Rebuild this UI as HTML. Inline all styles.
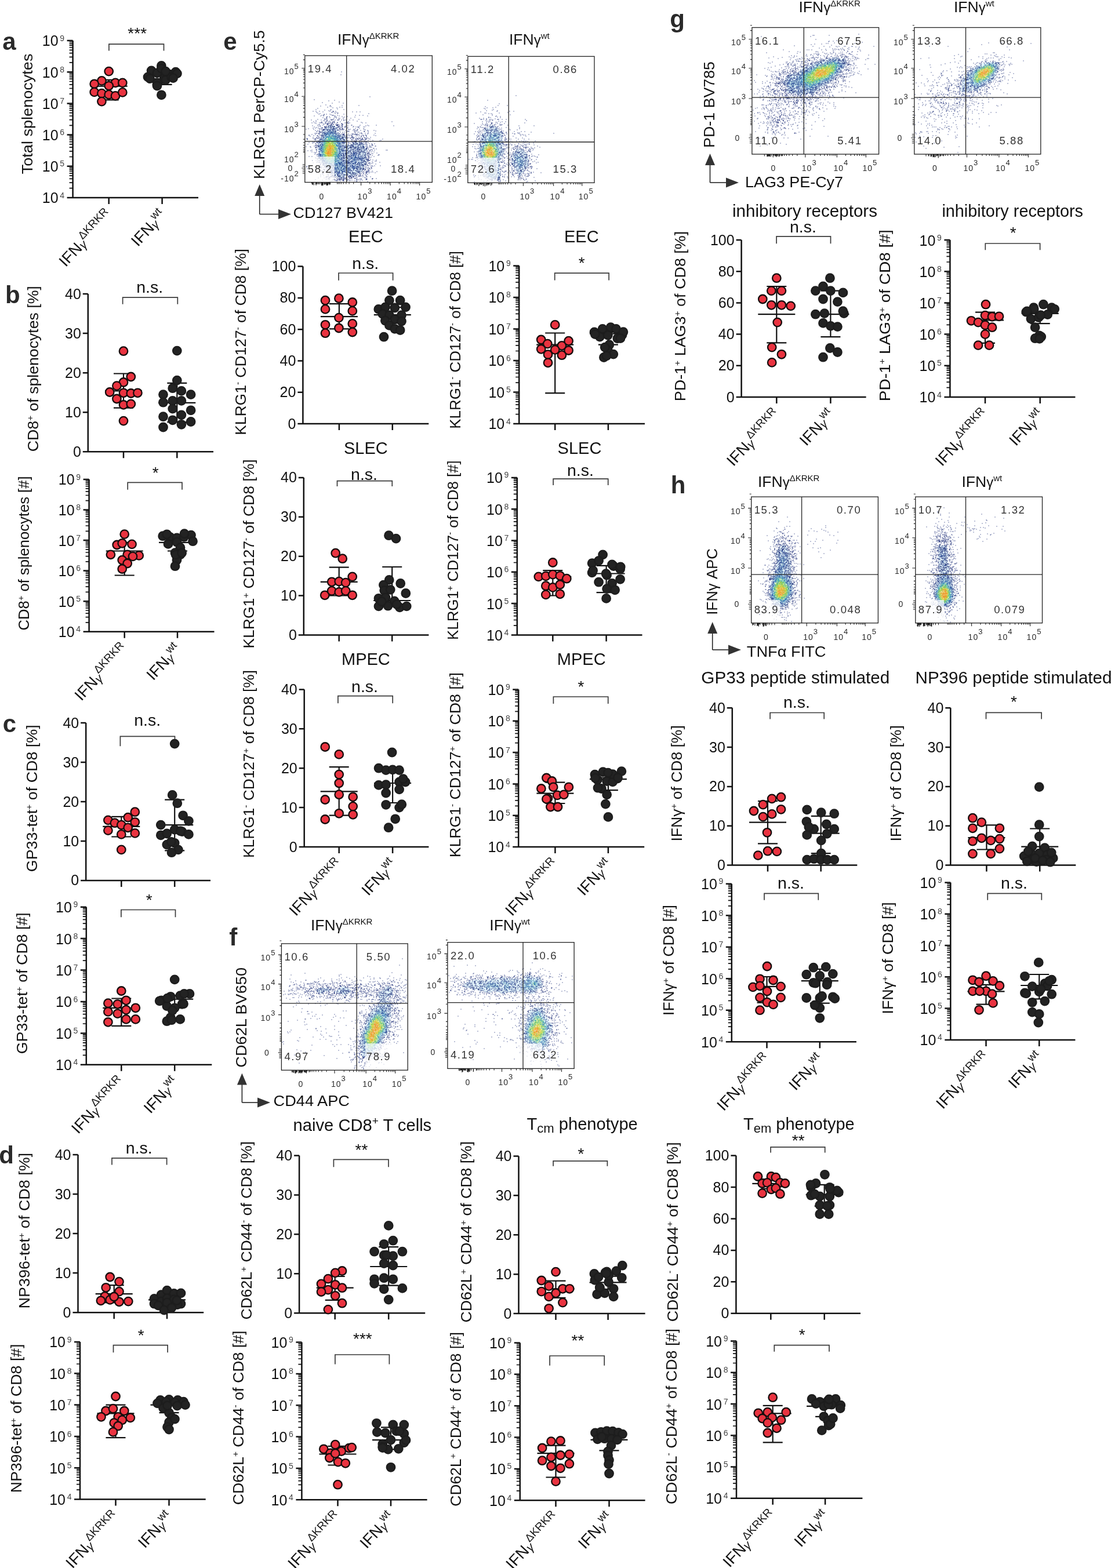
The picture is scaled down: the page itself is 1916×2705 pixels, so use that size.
<!DOCTYPE html>
<html><head><meta charset="utf-8"><title>Figure</title>
<style>html,body{margin:0;padding:0;background:#fff;} svg{display:block;}</style></head>
<body><svg width="1916" height="2705" viewBox="0 0 1916 2705" font-family="'Liberation Sans', Arial, Helvetica, sans-serif" fill="#111">
<text x="100.6" y="350.4" font-size="25" text-anchor="end">10</text>
<text x="103.3" y="341.5" font-size="14" fill="#444">4</text>
<text x="100.6" y="296.2" font-size="25" text-anchor="end">10</text>
<text x="103.3" y="287.3" font-size="14" fill="#444">5</text>
<text x="100.6" y="242" font-size="25" text-anchor="end">10</text>
<text x="103.3" y="233.1" font-size="14" fill="#444">6</text>
<text x="100.6" y="187.8" font-size="25" text-anchor="end">10</text>
<text x="103.3" y="178.9" font-size="14" fill="#444">7</text>
<text x="100.6" y="133.6" font-size="25" text-anchor="end">10</text>
<text x="103.3" y="124.7" font-size="14" fill="#444">8</text>
<text x="100.6" y="79.4" font-size="25" text-anchor="end">10</text>
<text x="103.3" y="70.5" font-size="14" fill="#444">9</text>
<path d="M125.6 70V342M116.6 341H342M187.7 341v11M279.6 341v11M115.6 341H125.6M115.6 286.8H125.6M115.6 232.6H125.6M115.6 178.4H125.6M115.6 124.2H125.6M115.6 70H125.6" stroke="#111" stroke-width="2.5" fill="none"/>
<path d="M119.6 324.7H125.6M119.6 315.1H125.6M119.6 308.4H125.6M119.6 303.1H125.6M119.6 298.8H125.6M119.6 295.2H125.6M119.6 292.1H125.6M119.6 289.3H125.6M119.6 270.5H125.6M119.6 260.9H125.6M119.6 254.2H125.6M119.6 248.9H125.6M119.6 244.6H125.6M119.6 241H125.6M119.6 237.9H125.6M119.6 235.1H125.6M119.6 216.3H125.6M119.6 206.7H125.6M119.6 200H125.6M119.6 194.7H125.6M119.6 190.4H125.6M119.6 186.8H125.6M119.6 183.7H125.6M119.6 180.9H125.6M119.6 162.1H125.6M119.6 152.5H125.6M119.6 145.8H125.6M119.6 140.5H125.6M119.6 136.2H125.6M119.6 132.6H125.6M119.6 129.5H125.6M119.6 126.7H125.6M119.6 107.9H125.6M119.6 98.3H125.6M119.6 91.6H125.6M119.6 86.3H125.6M119.6 82H125.6M119.6 78.4H125.6M119.6 75.3H125.6M119.6 72.5H125.6" stroke="#111" stroke-width="1.7" fill="none"/>
<text transform="translate(55.7,196.4) rotate(-90)" font-size="26" text-anchor="middle" textLength="207.7" lengthAdjust="spacingAndGlyphs">Total splenocytes</text>
<path d="M187.9 87.6V76.1H282.5V87.6" fill="none" stroke="#3a3a3a" stroke-width="1.7"/>
<text x="236.7" y="67.3" font-size="28" text-anchor="middle" >***</text>
<path d="M155.7 148.6h64M187.7 172.4V137.8M170.7 172.4h34M170.7 137.8h34" stroke="#111" stroke-width="2.2" fill="none"/>
<path d="M247.6 131.2h64M279.6 145.9V121.5M262.6 145.9h34M262.6 121.5h34" stroke="#111" stroke-width="2.2" fill="none"/>
<g fill="#e93340" stroke="#160c0c" stroke-width="2.3"><circle cx="187.7" cy="123.1" r="7.25"/><circle cx="175.4" cy="139.4" r="7.25"/><circle cx="162.7" cy="144.8" r="7.25"/><circle cx="199" cy="142.9" r="7.25"/><circle cx="211.3" cy="142.9" r="7.25"/><circle cx="187.7" cy="148" r="7.25"/><circle cx="162.7" cy="158.9" r="7.25"/><circle cx="175.4" cy="161.1" r="7.25"/><circle cx="187.7" cy="163.2" r="7.25"/><circle cx="199" cy="165.4" r="7.25"/><circle cx="211.3" cy="159.4" r="7.25"/><circle cx="175.4" cy="175.1" r="7.25"/></g>
<g fill="#232323" stroke="#1d1d1d" stroke-width="2.3"><circle cx="278.4" cy="113.4" r="7.25"/><circle cx="261.1" cy="122" r="7.25"/><circle cx="271" cy="125.8" r="7.25"/><circle cx="255" cy="132.9" r="7.25"/><circle cx="290.6" cy="128" r="7.25"/><circle cx="303" cy="124.2" r="7.25"/><circle cx="283.3" cy="134.5" r="7.25"/><circle cx="271" cy="142.6" r="7.25"/><circle cx="285.6" cy="137.8" r="7.25"/><circle cx="295.6" cy="132.9" r="7.25"/><circle cx="278.4" cy="118.2" r="7.25"/><circle cx="258.6" cy="135.6" r="7.25"/><circle cx="278.4" cy="163.8" r="7.25"/><circle cx="271" cy="148" r="7.25"/><circle cx="285.6" cy="123.1" r="7.25"/><circle cx="305.4" cy="126.9" r="7.25"/><circle cx="298.6" cy="134.6" r="7.25"/></g>
<text transform="translate(195.7,373) rotate(-47)" font-size="27" text-anchor="end" textLength="121" lengthAdjust="spacingAndGlyphs">IFN<tspan font-size="21" font-style="italic" dy="2">γ</tspan><tspan font-size="19" dy="-13">ΔKRKR</tspan></text>
<text transform="translate(287.6,373) rotate(-47)" font-size="27" text-anchor="end" textLength="73" lengthAdjust="spacingAndGlyphs">IFN<tspan font-size="21" font-style="italic" dy="2">γ</tspan><tspan font-size="19" dy="-13">wt</tspan></text>
<text x="139.8" y="787.7" font-size="25" text-anchor="end">0</text>
<text x="139.8" y="719.7" font-size="25" text-anchor="end">10</text>
<text x="139.8" y="651.7" font-size="25" text-anchor="end">20</text>
<text x="139.8" y="583.6" font-size="25" text-anchor="end">30</text>
<text x="139.8" y="515.6" font-size="25" text-anchor="end">40</text>
<path d="M151.8 507.1V780.2M142.8 779.2H368M213 779.2v11M305.3 779.2v11M142.8 779.2H151.8M142.8 711.2H151.8M142.8 643.2H151.8M142.8 575.1H151.8M142.8 507.1H151.8" stroke="#111" stroke-width="2.5" fill="none"/>
<text transform="translate(66,636.2) rotate(-90)" font-size="26" text-anchor="middle" textLength="285.9" lengthAdjust="spacingAndGlyphs">CD8<tspan dy="-9" font-size="15">+</tspan><tspan dy="9"> of splenocytes [%]</tspan></text>
<path d="M211.6 524.8V513.2H306.3V524.8" fill="none" stroke="#3a3a3a" stroke-width="1.7"/>
<text x="258.2" y="505.1" font-size="28.5" text-anchor="middle" >n.s.</text>
<path d="M181 674.4h64M213 703.7V644.5M196 703.7h34M196 644.5h34" stroke="#111" stroke-width="2.2" fill="none"/>
<path d="M273.3 694.8h64M305.3 728.2V660.8M288.3 728.2h34M288.3 660.8h34" stroke="#111" stroke-width="2.2" fill="none"/>
<g fill="#e93340" stroke="#160c0c" stroke-width="2.3"><circle cx="213" cy="605.7" r="7.25"/><circle cx="225.8" cy="650" r="7.25"/><circle cx="213" cy="659.5" r="7.25"/><circle cx="201.4" cy="665.6" r="7.25"/><circle cx="189.2" cy="676.5" r="7.25"/><circle cx="213" cy="677.8" r="7.25"/><circle cx="225.8" cy="678.5" r="7.25"/><circle cx="237.4" cy="677.8" r="7.25"/><circle cx="201.4" cy="688" r="7.25"/><circle cx="213" cy="698.3" r="7.25"/><circle cx="225.8" cy="696.9" r="7.25"/><circle cx="213" cy="726.1" r="7.25"/></g>
<g fill="#232323" stroke="#1d1d1d" stroke-width="2.3"><circle cx="305.3" cy="605.1" r="7.25"/><circle cx="305.3" cy="656.1" r="7.25"/><circle cx="297.7" cy="669.7" r="7.25"/><circle cx="312.9" cy="674.4" r="7.25"/><circle cx="281.5" cy="680.6" r="7.25"/><circle cx="329.1" cy="680.6" r="7.25"/><circle cx="281.5" cy="694.2" r="7.25"/><circle cx="297.7" cy="691.4" r="7.25"/><circle cx="312.9" cy="691.4" r="7.25"/><circle cx="297.7" cy="705.1" r="7.25"/><circle cx="329.1" cy="707.8" r="7.25"/><circle cx="281.5" cy="718.7" r="7.25"/><circle cx="312.9" cy="715.9" r="7.25"/><circle cx="297.7" cy="724.8" r="7.25"/><circle cx="329.1" cy="727.5" r="7.25"/><circle cx="312.9" cy="732.3" r="7.25"/><circle cx="281.5" cy="737" r="7.25"/></g>
<text x="128.6" y="1099.1" font-size="25" text-anchor="end">10</text>
<text x="131.3" y="1090.2" font-size="14" fill="#444">4</text>
<text x="128.6" y="1046.6" font-size="25" text-anchor="end">10</text>
<text x="131.3" y="1037.7" font-size="14" fill="#444">5</text>
<text x="128.6" y="994" font-size="25" text-anchor="end">10</text>
<text x="131.3" y="985.1" font-size="14" fill="#444">6</text>
<text x="128.6" y="941.5" font-size="25" text-anchor="end">10</text>
<text x="131.3" y="932.6" font-size="14" fill="#444">7</text>
<text x="128.6" y="888.9" font-size="25" text-anchor="end">10</text>
<text x="131.3" y="880" font-size="14" fill="#444">8</text>
<text x="128.6" y="836.4" font-size="25" text-anchor="end">10</text>
<text x="131.3" y="827.5" font-size="14" fill="#444">9</text>
<path d="M153.6 827V1090.7M144.6 1089.7H369.5M214.7 1089.7v11M306 1089.7v11M143.6 1089.7H153.6M143.6 1037.2H153.6M143.6 984.6H153.6M143.6 932.1H153.6M143.6 879.5H153.6M143.6 827H153.6" stroke="#111" stroke-width="2.5" fill="none"/>
<path d="M147.6 1073.9H153.6M147.6 1064.6H153.6M147.6 1058.1H153.6M147.6 1053H153.6M147.6 1048.8H153.6M147.6 1045.3H153.6M147.6 1042.3H153.6M147.6 1039.6H153.6M147.6 1021.3H153.6M147.6 1012.1H153.6M147.6 1005.5H153.6M147.6 1000.4H153.6M147.6 996.3H153.6M147.6 992.8H153.6M147.6 989.7H153.6M147.6 987H153.6M147.6 968.8H153.6M147.6 959.6H153.6M147.6 953H153.6M147.6 947.9H153.6M147.6 943.7H153.6M147.6 940.2H153.6M147.6 937.2H153.6M147.6 934.5H153.6M147.6 916.3H153.6M147.6 907H153.6M147.6 900.4H153.6M147.6 895.4H153.6M147.6 891.2H153.6M147.6 887.7H153.6M147.6 884.6H153.6M147.6 881.9H153.6M147.6 863.7H153.6M147.6 854.5H153.6M147.6 847.9H153.6M147.6 842.8H153.6M147.6 838.7H153.6M147.6 835.1H153.6M147.6 832.1H153.6M147.6 829.4H153.6" stroke="#111" stroke-width="1.7" fill="none"/>
<text transform="translate(50.4,954.5) rotate(-90)" font-size="26" text-anchor="middle" textLength="266.1" lengthAdjust="spacingAndGlyphs">CD8<tspan dy="-9" font-size="15">+</tspan><tspan dy="9"> of splenocytes [#]</tspan></text>
<path d="M220.2 844.7V832.4H314V844.7" fill="none" stroke="#3a3a3a" stroke-width="1.7"/>
<text x="268.2" y="824.8" font-size="28" text-anchor="middle" >*</text>
<path d="M182.7 950.5h64M214.7 992.5V935.8M197.7 992.5h34M197.7 935.8h34" stroke="#111" stroke-width="2.2" fill="none"/>
<path d="M274 935.8h64M306 950.5V932.1M289 950.5h34M289 932.1h34" stroke="#111" stroke-width="2.2" fill="none"/>
<g fill="#e93340" stroke="#160c0c" stroke-width="2.3"><circle cx="214.7" cy="921.6" r="7.25"/><circle cx="201.7" cy="940" r="7.25"/><circle cx="210.7" cy="937.3" r="7.25"/><circle cx="227.5" cy="938.9" r="7.25"/><circle cx="190.9" cy="956.8" r="7.25"/><circle cx="219.7" cy="956.8" r="7.25"/><circle cx="239.7" cy="958.4" r="7.25"/><circle cx="229" cy="959.9" r="7.25"/><circle cx="210.7" cy="966.2" r="7.25"/><circle cx="219.7" cy="972" r="7.25"/><circle cx="210.7" cy="981.5" r="7.25"/></g>
<g fill="#232323" stroke="#1d1d1d" stroke-width="2.3"><circle cx="280.7" cy="924.7" r="7.25"/><circle cx="293" cy="926.3" r="7.25"/><circle cx="305" cy="927.9" r="7.25"/><circle cx="317.3" cy="926.3" r="7.25"/><circle cx="329.5" cy="923.1" r="7.25"/><circle cx="332.5" cy="933.7" r="7.25"/><circle cx="290" cy="938.4" r="7.25"/><circle cx="305" cy="935.2" r="7.25"/><circle cx="311" cy="944.7" r="7.25"/><circle cx="302" cy="953.6" r="7.25"/><circle cx="311" cy="956.8" r="7.25"/><circle cx="305" cy="966.2" r="7.25"/><circle cx="302" cy="976.7" r="7.25"/><circle cx="303.1" cy="956.9" r="7.25"/><circle cx="287.8" cy="921.8" r="7.25"/><circle cx="318" cy="920.6" r="7.25"/><circle cx="313.6" cy="953.7" r="7.25"/></g>
<text transform="translate(222.7,1121.7) rotate(-47)" font-size="27" text-anchor="end" textLength="121" lengthAdjust="spacingAndGlyphs">IFN<tspan font-size="21" font-style="italic" dy="2">γ</tspan><tspan font-size="19" dy="-13">ΔKRKR</tspan></text>
<text transform="translate(314,1121.7) rotate(-47)" font-size="27" text-anchor="end" textLength="73" lengthAdjust="spacingAndGlyphs">IFN<tspan font-size="21" font-style="italic" dy="2">γ</tspan><tspan font-size="19" dy="-13">wt</tspan></text>
<text x="136.2" y="1527.4" font-size="25" text-anchor="end">0</text>
<text x="136.2" y="1459.5" font-size="25" text-anchor="end">10</text>
<text x="136.2" y="1391.5" font-size="25" text-anchor="end">20</text>
<text x="136.2" y="1323.5" font-size="25" text-anchor="end">30</text>
<text x="136.2" y="1255.6" font-size="25" text-anchor="end">40</text>
<path d="M148.2 1247.1V1519.9M139.2 1518.9H363M209.3 1518.9v11M301.2 1518.9v11M139.2 1518.9H148.2M139.2 1451H148.2M139.2 1383H148.2M139.2 1315H148.2M139.2 1247.1H148.2" stroke="#111" stroke-width="2.5" fill="none"/>
<text transform="translate(63.8,1377.3) rotate(-90)" font-size="26" text-anchor="middle" textLength="253.8" lengthAdjust="spacingAndGlyphs">GP33-tet<tspan dy="-9" font-size="15">+</tspan><tspan dy="9"> of CD8 [%]</tspan></text>
<path d="M207.4 1287.3V1270.3H301.5V1287.3" fill="none" stroke="#3a3a3a" stroke-width="1.7"/>
<text x="254.2" y="1252.3" font-size="28.5" text-anchor="middle" >n.s.</text>
<path d="M177.3 1425.8h64M209.3 1443.5V1408.8M192.3 1443.5h34M192.3 1408.8h34" stroke="#111" stroke-width="2.2" fill="none"/>
<path d="M269.2 1423.1h64M301.2 1467.3V1379.6M284.2 1467.3h34M284.2 1379.6h34" stroke="#111" stroke-width="2.2" fill="none"/>
<g fill="#e93340" stroke="#160c0c" stroke-width="2.3"><circle cx="186.4" cy="1414.9" r="7.25"/><circle cx="197.9" cy="1419.7" r="7.25"/><circle cx="209.3" cy="1423.1" r="7.25"/><circle cx="220.7" cy="1410.2" r="7.25"/><circle cx="232.8" cy="1400.7" r="7.25"/><circle cx="232.8" cy="1418.3" r="7.25"/><circle cx="186.4" cy="1432.6" r="7.25"/><circle cx="220.7" cy="1427.8" r="7.25"/><circle cx="209.3" cy="1439.4" r="7.25"/><circle cx="232.8" cy="1437.4" r="7.25"/><circle cx="209.3" cy="1465.9" r="7.25"/></g>
<g fill="#232323" stroke="#1d1d1d" stroke-width="2.3"><circle cx="301.2" cy="1283.1" r="7.25"/><circle cx="297.2" cy="1371.4" r="7.25"/><circle cx="305.8" cy="1385.7" r="7.25"/><circle cx="315.6" cy="1406.8" r="7.25"/><circle cx="325.4" cy="1416.3" r="7.25"/><circle cx="277.3" cy="1423.1" r="7.25"/><circle cx="301.2" cy="1431.2" r="7.25"/><circle cx="277.3" cy="1440.8" r="7.25"/><circle cx="287.8" cy="1438" r="7.25"/><circle cx="314" cy="1434.6" r="7.25"/><circle cx="325.4" cy="1439.4" r="7.25"/><circle cx="287.8" cy="1457.1" r="7.25"/><circle cx="301.2" cy="1454.3" r="7.25"/><circle cx="307.4" cy="1465.9" r="7.25"/><circle cx="296" cy="1470.7" r="7.25"/><circle cx="311.2" cy="1433.7" r="7.25"/><circle cx="295.3" cy="1452.3" r="7.25"/></g>
<text x="123.8" y="1846.2" font-size="25" text-anchor="end">10</text>
<text x="126.5" y="1837.3" font-size="14" fill="#444">4</text>
<text x="123.8" y="1791.8" font-size="25" text-anchor="end">10</text>
<text x="126.5" y="1782.9" font-size="14" fill="#444">5</text>
<text x="123.8" y="1737.4" font-size="25" text-anchor="end">10</text>
<text x="126.5" y="1728.5" font-size="14" fill="#444">6</text>
<text x="123.8" y="1682.9" font-size="25" text-anchor="end">10</text>
<text x="126.5" y="1674" font-size="14" fill="#444">7</text>
<text x="123.8" y="1628.5" font-size="25" text-anchor="end">10</text>
<text x="126.5" y="1619.6" font-size="14" fill="#444">8</text>
<text x="123.8" y="1574.1" font-size="25" text-anchor="end">10</text>
<text x="126.5" y="1565.2" font-size="14" fill="#444">9</text>
<path d="M148.8 1564.7V1837.8M139.8 1836.8H365.3M209.3 1836.8v11M301.2 1836.8v11M138.8 1836.8H148.8M138.8 1782.4H148.8M138.8 1728H148.8M138.8 1673.5H148.8M138.8 1619.1H148.8M138.8 1564.7H148.8" stroke="#111" stroke-width="2.5" fill="none"/>
<path d="M142.8 1820.4H148.8M142.8 1810.8H148.8M142.8 1804H148.8M142.8 1798.8H148.8M142.8 1794.5H148.8M142.8 1790.8H148.8M142.8 1787.7H148.8M142.8 1784.9H148.8M142.8 1766H148.8M142.8 1756.4H148.8M142.8 1749.6H148.8M142.8 1744.3H148.8M142.8 1740H148.8M142.8 1736.4H148.8M142.8 1733.2H148.8M142.8 1730.5H148.8M142.8 1711.6H148.8M142.8 1702H148.8M142.8 1695.2H148.8M142.8 1689.9H148.8M142.8 1685.6H148.8M142.8 1682H148.8M142.8 1678.8H148.8M142.8 1676H148.8M142.8 1657.2H148.8M142.8 1647.6H148.8M142.8 1640.8H148.8M142.8 1635.5H148.8M142.8 1631.2H148.8M142.8 1627.5H148.8M142.8 1624.4H148.8M142.8 1621.6H148.8M142.8 1602.7H148.8M142.8 1593.2H148.8M142.8 1586.4H148.8M142.8 1581.1H148.8M142.8 1576.8H148.8M142.8 1573.1H148.8M142.8 1570H148.8M142.8 1567.2H148.8" stroke="#111" stroke-width="1.7" fill="none"/>
<text transform="translate(46.5,1696.2) rotate(-90)" font-size="26" text-anchor="middle" textLength="244" lengthAdjust="spacingAndGlyphs">GP33-tet<tspan dy="-9" font-size="15">+</tspan><tspan dy="9"> of CD8 [#]</tspan></text>
<path d="M208.9 1582.3V1569.5H302.5V1582.3" fill="none" stroke="#3a3a3a" stroke-width="1.7"/>
<text x="257.2" y="1561.9" font-size="28" text-anchor="middle" >*</text>
<path d="M177.3 1738.8h64M209.3 1769.9V1722.5M192.3 1769.9h34M192.3 1722.5h34" stroke="#111" stroke-width="2.2" fill="none"/>
<path d="M269.2 1723.6h64M301.2 1738.8V1717.1M284.2 1738.8h34M284.2 1717.1h34" stroke="#111" stroke-width="2.2" fill="none"/>
<g fill="#e93340" stroke="#160c0c" stroke-width="2.3"><circle cx="209.3" cy="1709.5" r="7.25"/><circle cx="186.4" cy="1730.7" r="7.25"/><circle cx="202.8" cy="1732.3" r="7.25"/><circle cx="217.5" cy="1725.8" r="7.25"/><circle cx="233.8" cy="1738.8" r="7.25"/><circle cx="186.4" cy="1745.4" r="7.25"/><circle cx="202.8" cy="1748.6" r="7.25"/><circle cx="217.5" cy="1742.1" r="7.25"/><circle cx="186.4" cy="1763.3" r="7.25"/><circle cx="217.5" cy="1758.4" r="7.25"/><circle cx="233.8" cy="1758.4" r="7.25"/></g>
<g fill="#232323" stroke="#1d1d1d" stroke-width="2.3"><circle cx="301.2" cy="1689.9" r="7.25"/><circle cx="278.2" cy="1725.8" r="7.25"/><circle cx="294.2" cy="1719.3" r="7.25"/><circle cx="310.7" cy="1717.6" r="7.25"/><circle cx="327" cy="1714.4" r="7.25"/><circle cx="287.8" cy="1735.6" r="7.25"/><circle cx="314" cy="1732.3" r="7.25"/><circle cx="301.2" cy="1738.8" r="7.25"/><circle cx="294.2" cy="1755.2" r="7.25"/><circle cx="310.7" cy="1758.4" r="7.25"/><circle cx="287.8" cy="1761.7" r="7.25"/><circle cx="316.5" cy="1731.7" r="7.25"/><circle cx="317.6" cy="1714.4" r="7.25"/><circle cx="288.6" cy="1722.1" r="7.25"/><circle cx="295.9" cy="1759.7" r="7.25"/><circle cx="275.2" cy="1726.8" r="7.25"/><circle cx="297.4" cy="1743.2" r="7.25"/></g>
<text transform="translate(217.3,1868.8) rotate(-47)" font-size="27" text-anchor="end" textLength="121" lengthAdjust="spacingAndGlyphs">IFN<tspan font-size="21" font-style="italic" dy="2">γ</tspan><tspan font-size="19" dy="-13">ΔKRKR</tspan></text>
<text transform="translate(309.2,1868.8) rotate(-47)" font-size="27" text-anchor="end" textLength="73" lengthAdjust="spacingAndGlyphs">IFN<tspan font-size="21" font-style="italic" dy="2">γ</tspan><tspan font-size="19" dy="-13">wt</tspan></text>
<text x="122.5" y="2272.7" font-size="25" text-anchor="end">0</text>
<text x="122.5" y="2204.6" font-size="25" text-anchor="end">10</text>
<text x="122.5" y="2136.6" font-size="25" text-anchor="end">20</text>
<text x="122.5" y="2068.6" font-size="25" text-anchor="end">30</text>
<text x="122.5" y="2000.5" font-size="25" text-anchor="end">40</text>
<path d="M134.5 1992V2265.2M125.5 2264.2H351.2M196.7 2264.2v11M288 2264.2v11M125.5 2264.2H134.5M125.5 2196.1H134.5M125.5 2128.1H134.5M125.5 2060.1H134.5M125.5 1992H134.5" stroke="#111" stroke-width="2.5" fill="none"/>
<text transform="translate(50.9,2123.1) rotate(-90)" font-size="26" text-anchor="middle" textLength="268.9" lengthAdjust="spacingAndGlyphs">NP396-tet<tspan dy="-9" font-size="15">+</tspan><tspan dy="9"> of CD8 [%]</tspan></text>
<path d="M193 2009.4V1997.9H287.6V2009.4" fill="none" stroke="#3a3a3a" stroke-width="1.7"/>
<text x="239.8" y="1989.7" font-size="28.5" text-anchor="middle" >n.s.</text>
<path d="M164.7 2232.2h64M196.7 2247.2V2217.2M179.7 2247.2h34M179.7 2217.2h34" stroke="#111" stroke-width="2.2" fill="none"/>
<path d="M256 2242.4h64M288 2251.3V2234.9M271 2251.3h34M271 2234.9h34" stroke="#111" stroke-width="2.2" fill="none"/>
<g fill="#e93340" stroke="#160c0c" stroke-width="2.3"><circle cx="189.7" cy="2203" r="7.25"/><circle cx="205.5" cy="2211.1" r="7.25"/><circle cx="182.7" cy="2221.3" r="7.25"/><circle cx="205.5" cy="2228.1" r="7.25"/><circle cx="180.9" cy="2236.3" r="7.25"/><circle cx="189.7" cy="2242.4" r="7.25"/><circle cx="173.9" cy="2243.8" r="7.25"/><circle cx="205.5" cy="2245.8" r="7.25"/><circle cx="221.3" cy="2245.1" r="7.25"/><circle cx="196.7" cy="2237" r="7.25"/></g>
<g fill="#232323" stroke="#1d1d1d" stroke-width="2.3"><circle cx="266" cy="2240.4" r="7.25"/><circle cx="278" cy="2233.6" r="7.25"/><circle cx="288" cy="2226.1" r="7.25"/><circle cx="300" cy="2231.5" r="7.25"/><circle cx="312" cy="2230.9" r="7.25"/><circle cx="266" cy="2249.2" r="7.25"/><circle cx="278" cy="2245.1" r="7.25"/><circle cx="288" cy="2239.7" r="7.25"/><circle cx="300" cy="2241.7" r="7.25"/><circle cx="312" cy="2249.2" r="7.25"/><circle cx="273" cy="2252" r="7.25"/><circle cx="293" cy="2254" r="7.25"/><circle cx="306" cy="2250.6" r="7.25"/><circle cx="288" cy="2247.2" r="7.25"/><circle cx="283" cy="2260.1" r="7.25"/><circle cx="296" cy="2256" r="7.25"/><circle cx="304.9" cy="2243.4" r="7.25"/></g>
<text x="113" y="2596" font-size="25" text-anchor="end">10</text>
<text x="115.7" y="2587.1" font-size="14" fill="#444">4</text>
<text x="113" y="2541.7" font-size="25" text-anchor="end">10</text>
<text x="115.7" y="2532.8" font-size="14" fill="#444">5</text>
<text x="113" y="2487.4" font-size="25" text-anchor="end">10</text>
<text x="115.7" y="2478.5" font-size="14" fill="#444">6</text>
<text x="113" y="2433" font-size="25" text-anchor="end">10</text>
<text x="115.7" y="2424.1" font-size="14" fill="#444">7</text>
<text x="113" y="2378.7" font-size="25" text-anchor="end">10</text>
<text x="115.7" y="2369.8" font-size="14" fill="#444">8</text>
<text x="113" y="2324.4" font-size="25" text-anchor="end">10</text>
<text x="115.7" y="2315.5" font-size="14" fill="#444">9</text>
<path d="M138 2315V2587.6M129 2586.6H354.7M199.5 2586.6v11M291.5 2586.6v11M128 2586.6H138M128 2532.3H138M128 2478H138M128 2423.6H138M128 2369.3H138M128 2315H138" stroke="#111" stroke-width="2.5" fill="none"/>
<path d="M132 2570.2H138M132 2560.7H138M132 2553.9H138M132 2548.6H138M132 2544.3H138M132 2540.7H138M132 2537.5H138M132 2534.8H138M132 2515.9H138M132 2506.4H138M132 2499.6H138M132 2494.3H138M132 2490H138M132 2486.4H138M132 2483.2H138M132 2480.4H138M132 2461.6H138M132 2452H138M132 2445.3H138M132 2440H138M132 2435.7H138M132 2432.1H138M132 2428.9H138M132 2426.1H138M132 2407.3H138M132 2397.7H138M132 2390.9H138M132 2385.7H138M132 2381.4H138M132 2377.7H138M132 2374.6H138M132 2371.8H138M132 2353H138M132 2343.4H138M132 2336.6H138M132 2331.4H138M132 2327.1H138M132 2323.4H138M132 2320.3H138M132 2317.5H138" stroke="#111" stroke-width="1.7" fill="none"/>
<text transform="translate(36.9,2447) rotate(-90)" font-size="26" text-anchor="middle" textLength="256.6" lengthAdjust="spacingAndGlyphs">NP396-tet<tspan dy="-9" font-size="15">+</tspan><tspan dy="9"> of CD8 [#]</tspan></text>
<path d="M195.5 2333.2V2320.6H289.1V2333.2" fill="none" stroke="#3a3a3a" stroke-width="1.7"/>
<text x="243.3" y="2312.8" font-size="28" text-anchor="middle" >*</text>
<path d="M167.5 2438.3h64M199.5 2480.1V2423.6M182.5 2480.1h34M182.5 2423.6h34" stroke="#111" stroke-width="2.2" fill="none"/>
<path d="M259.5 2423.6h64M291.5 2437.2V2423.6M274.5 2437.2h34M274.5 2423.6h34" stroke="#111" stroke-width="2.2" fill="none"/>
<g fill="#e93340" stroke="#160c0c" stroke-width="2.3"><circle cx="199.5" cy="2409" r="7.25"/><circle cx="182.5" cy="2434" r="7.25"/><circle cx="195" cy="2430.2" r="7.25"/><circle cx="214.3" cy="2434" r="7.25"/><circle cx="174.5" cy="2444.3" r="7.25"/><circle cx="203.7" cy="2444.3" r="7.25"/><circle cx="224.8" cy="2445.9" r="7.25"/><circle cx="196.7" cy="2454.6" r="7.25"/><circle cx="210.7" cy="2449.7" r="7.25"/><circle cx="203.7" cy="2460" r="7.25"/><circle cx="195" cy="2470.4" r="7.25"/></g>
<g fill="#232323" stroke="#1d1d1d" stroke-width="2.3"><circle cx="276.5" cy="2415.5" r="7.25"/><circle cx="291.5" cy="2414.4" r="7.25"/><circle cx="306.5" cy="2415.5" r="7.25"/><circle cx="316.5" cy="2418.2" r="7.25"/><circle cx="271.5" cy="2420.9" r="7.25"/><circle cx="286.5" cy="2418.2" r="7.25"/><circle cx="301.5" cy="2419.3" r="7.25"/><circle cx="319.5" cy="2423.6" r="7.25"/><circle cx="281.5" cy="2429.1" r="7.25"/><circle cx="291.5" cy="2437.2" r="7.25"/><circle cx="296.5" cy="2445.4" r="7.25"/><circle cx="291.5" cy="2453.5" r="7.25"/><circle cx="288.5" cy="2461.7" r="7.25"/><circle cx="291.5" cy="2466" r="7.25"/><circle cx="301.5" cy="2448.1" r="7.25"/><circle cx="305.6" cy="2425.1" r="7.25"/><circle cx="288.6" cy="2424.8" r="7.25"/></g>
<text transform="translate(207.5,2618.6) rotate(-47)" font-size="27" text-anchor="end" textLength="121" lengthAdjust="spacingAndGlyphs">IFN<tspan font-size="21" font-style="italic" dy="2">γ</tspan><tspan font-size="19" dy="-13">ΔKRKR</tspan></text>
<text transform="translate(299.5,2618.6) rotate(-47)" font-size="27" text-anchor="end" textLength="73" lengthAdjust="spacingAndGlyphs">IFN<tspan font-size="21" font-style="italic" dy="2">γ</tspan><tspan font-size="19" dy="-13">wt</tspan></text>
<text x="510.4" y="739.5" font-size="25" text-anchor="end">0</text>
<text x="510.4" y="685.2" font-size="25" text-anchor="end">20</text>
<text x="510.4" y="630.9" font-size="25" text-anchor="end">40</text>
<text x="510.4" y="576.7" font-size="25" text-anchor="end">60</text>
<text x="510.4" y="522.4" font-size="25" text-anchor="end">80</text>
<text x="510.4" y="468.1" font-size="25" text-anchor="end">100</text>
<path d="M522.4 459.6V732M513.4 731H739.3M584.9 731v11M676.8 731v11M513.4 731H522.4M513.4 676.7H522.4M513.4 622.4H522.4M513.4 568.2H522.4M513.4 513.9H522.4M513.4 459.6H522.4" stroke="#111" stroke-width="2.5" fill="none"/>
<text transform="translate(423.7,590) rotate(-90)" font-size="26" text-anchor="middle" textLength="321.6" lengthAdjust="spacingAndGlyphs">KLRG1<tspan dy="-9" font-size="15">-</tspan><tspan dy="9"> CD127<tspan dy="-9" font-size="15">-</tspan><tspan dy="9"> of CD8 [%]</tspan></tspan></text>
<text x="630.9" y="418.1" font-size="29" text-anchor="middle">EEC</text>
<path d="M584 483.8V471H677.6V483.8" fill="none" stroke="#3a3a3a" stroke-width="1.7"/>
<text x="630.2" y="463.8" font-size="28.5" text-anchor="middle" >n.s.</text>
<path d="M552.9 546.2h64M584.9 567.3V524.2M567.9 567.3h34M567.9 524.2h34" stroke="#111" stroke-width="2.2" fill="none"/>
<path d="M644.8 543.2h64M676.8 557.3V530.2M659.8 557.3h34M659.8 530.2h34" stroke="#111" stroke-width="2.2" fill="none"/>
<g fill="#e93340" stroke="#160c0c" stroke-width="2.3"><circle cx="561" cy="518.2" r="7.25"/><circle cx="561" cy="533.4" r="7.25"/><circle cx="561" cy="560.3" r="7.25"/><circle cx="561" cy="574.7" r="7.25"/><circle cx="584.4" cy="514.7" r="7.25"/><circle cx="584.4" cy="548.1" r="7.25"/><circle cx="584.4" cy="566" r="7.25"/><circle cx="607.8" cy="521.5" r="7.25"/><circle cx="607.8" cy="536.4" r="7.25"/><circle cx="607.8" cy="558.4" r="7.25"/><circle cx="607.8" cy="573" r="7.25"/></g>
<g fill="#232323" stroke="#1d1d1d" stroke-width="2.3"><circle cx="676.1" cy="501.7" r="7.25"/><circle cx="671.4" cy="518.2" r="7.25"/><circle cx="690.1" cy="518.2" r="7.25"/><circle cx="652.8" cy="533.4" r="7.25"/><circle cx="664.4" cy="529.9" r="7.25"/><circle cx="680.8" cy="531" r="7.25"/><circle cx="699.5" cy="529.9" r="7.25"/><circle cx="659.8" cy="541.6" r="7.25"/><circle cx="671.4" cy="543.7" r="7.25"/><circle cx="692.5" cy="543.7" r="7.25"/><circle cx="664.4" cy="553.2" r="7.25"/><circle cx="680.8" cy="550.8" r="7.25"/><circle cx="692.5" cy="554.3" r="7.25"/><circle cx="671.4" cy="561.4" r="7.25"/><circle cx="680.8" cy="567.3" r="7.25"/><circle cx="690.1" cy="569.5" r="7.25"/><circle cx="662" cy="581.2" r="7.25"/></g>
<text x="870.2" y="740.4" font-size="25" text-anchor="end">10</text>
<text x="872.9" y="731.5" font-size="14" fill="#444">4</text>
<text x="870.2" y="685.9" font-size="25" text-anchor="end">10</text>
<text x="872.9" y="677" font-size="14" fill="#444">5</text>
<text x="870.2" y="631.4" font-size="25" text-anchor="end">10</text>
<text x="872.9" y="622.5" font-size="14" fill="#444">6</text>
<text x="870.2" y="576.8" font-size="25" text-anchor="end">10</text>
<text x="872.9" y="567.9" font-size="14" fill="#444">7</text>
<text x="870.2" y="522.3" font-size="25" text-anchor="end">10</text>
<text x="872.9" y="513.4" font-size="14" fill="#444">8</text>
<text x="870.2" y="467.8" font-size="25" text-anchor="end">10</text>
<text x="872.9" y="458.9" font-size="14" fill="#444">9</text>
<path d="M895.2 458.4V732M886.2 731H1112M957.2 731v11M1048.9 731v11M885.2 731H895.2M885.2 676.5H895.2M885.2 622H895.2M885.2 567.4H895.2M885.2 512.9H895.2M885.2 458.4H895.2" stroke="#111" stroke-width="2.5" fill="none"/>
<path d="M889.2 714.6H895.2M889.2 705H895.2M889.2 698.2H895.2M889.2 692.9H895.2M889.2 688.6H895.2M889.2 684.9H895.2M889.2 681.8H895.2M889.2 679H895.2M889.2 660.1H895.2M889.2 650.5H895.2M889.2 643.7H895.2M889.2 638.4H895.2M889.2 634.1H895.2M889.2 630.4H895.2M889.2 627.2H895.2M889.2 624.5H895.2M889.2 605.5H895.2M889.2 595.9H895.2M889.2 589.1H895.2M889.2 583.9H895.2M889.2 579.5H895.2M889.2 575.9H895.2M889.2 572.7H895.2M889.2 569.9H895.2M889.2 551H895.2M889.2 541.4H895.2M889.2 534.6H895.2M889.2 529.3H895.2M889.2 525H895.2M889.2 521.4H895.2M889.2 518.2H895.2M889.2 515.4H895.2M889.2 496.5H895.2M889.2 486.9H895.2M889.2 480.1H895.2M889.2 474.8H895.2M889.2 470.5H895.2M889.2 466.8H895.2M889.2 463.7H895.2M889.2 460.9H895.2" stroke="#111" stroke-width="1.7" fill="none"/>
<text transform="translate(793.5,586.4) rotate(-90)" font-size="26" text-anchor="middle" textLength="306.6" lengthAdjust="spacingAndGlyphs">KLRG1<tspan dy="-9" font-size="15">-</tspan><tspan dy="9"> CD127<tspan dy="-9" font-size="15">-</tspan><tspan dy="9"> of CD8 [#]</tspan></tspan></text>
<text x="1002.8" y="418.1" font-size="29" text-anchor="middle">EEC</text>
<path d="M956.7 483.6V471.2H1050.1V483.6" fill="none" stroke="#3a3a3a" stroke-width="1.7"/>
<text x="1003.2" y="463.4" font-size="28" text-anchor="middle" >*</text>
<path d="M925.2 594.7h64M957.2 678.1V574.5M940.2 678.1h34M940.2 574.5h34" stroke="#111" stroke-width="2.2" fill="none"/>
<path d="M1016.9 575.6h64M1048.9 594.7V572.9M1031.9 594.7h34M1031.9 572.9h34" stroke="#111" stroke-width="2.2" fill="none"/>
<g fill="#e93340" stroke="#160c0c" stroke-width="2.3"><circle cx="957.2" cy="560.4" r="7.25"/><circle cx="933.2" cy="586" r="7.25"/><circle cx="944.3" cy="593.1" r="7.25"/><circle cx="968.9" cy="596.3" r="7.25"/><circle cx="980.6" cy="588.2" r="7.25"/><circle cx="933.2" cy="602.3" r="7.25"/><circle cx="957.2" cy="603.4" r="7.25"/><circle cx="980.6" cy="604.5" r="7.25"/><circle cx="945" cy="611.6" r="7.25"/><circle cx="968.9" cy="612.7" r="7.25"/><circle cx="945" cy="625.8" r="7.25"/></g>
<g fill="#232323" stroke="#1d1d1d" stroke-width="2.3"><circle cx="1025" cy="572.9" r="7.25"/><circle cx="1039.1" cy="567.4" r="7.25"/><circle cx="1053.1" cy="564.7" r="7.25"/><circle cx="1062.5" cy="567.4" r="7.25"/><circle cx="1073" cy="577.8" r="7.25"/><circle cx="1034.4" cy="581.1" r="7.25"/><circle cx="1048.4" cy="578.3" r="7.25"/><circle cx="1064.8" cy="583.8" r="7.25"/><circle cx="1050.8" cy="594.7" r="7.25"/><circle cx="1048.4" cy="604.5" r="7.25"/><circle cx="1057.8" cy="611.1" r="7.25"/><circle cx="1041.4" cy="616.5" r="7.25"/><circle cx="1046.1" cy="613.8" r="7.25"/><circle cx="1026.3" cy="576.6" r="7.25"/><circle cx="1043.2" cy="599.1" r="7.25"/><circle cx="1074.9" cy="572.6" r="7.25"/><circle cx="1070" cy="583.6" r="7.25"/></g>
<text x="511.8" y="1103.9" font-size="25" text-anchor="end">0</text>
<text x="511.8" y="1036" font-size="25" text-anchor="end">10</text>
<text x="511.8" y="968.2" font-size="25" text-anchor="end">20</text>
<text x="511.8" y="900.3" font-size="25" text-anchor="end">30</text>
<text x="511.8" y="832.4" font-size="25" text-anchor="end">40</text>
<path d="M523.8 823.9V1096.4M514.8 1095.4H739.4M584.7 1095.4v11M676.2 1095.4v11M514.8 1095.4H523.8M514.8 1027.5H523.8M514.8 959.7H523.8M514.8 891.8H523.8M514.8 823.9H523.8" stroke="#111" stroke-width="2.5" fill="none"/>
<text transform="translate(438.2,955.5) rotate(-90)" font-size="26" text-anchor="middle" textLength="326.3" lengthAdjust="spacingAndGlyphs">KLRG1<tspan dy="-9" font-size="15">+</tspan><tspan dy="9"> CD127<tspan dy="-9" font-size="15">-</tspan><tspan dy="9"> of CD8 [%]</tspan></tspan></text>
<text x="630.9" y="783.3" font-size="29" text-anchor="middle">SLEC</text>
<path d="M581.5 838.9V829.6H676.3V838.9" fill="none" stroke="#3a3a3a" stroke-width="1.7"/>
<text x="628" y="827.6" font-size="28.5" text-anchor="middle" >n.s.</text>
<path d="M552.7 1003.8h64M584.7 1027.5V978.7M567.7 1027.5h34M567.7 978.7h34" stroke="#111" stroke-width="2.2" fill="none"/>
<path d="M644.2 1036h64M676.2 1036V978M659.2 1036h34M659.2 978h34" stroke="#111" stroke-width="2.2" fill="none"/>
<g fill="#e93340" stroke="#160c0c" stroke-width="2.3"><circle cx="578.7" cy="954.2" r="7.25"/><circle cx="590.7" cy="963.7" r="7.25"/><circle cx="607.7" cy="994.9" r="7.25"/><circle cx="572.2" cy="1003.8" r="7.25"/><circle cx="584.7" cy="1003.1" r="7.25"/><circle cx="596.2" cy="1005.1" r="7.25"/><circle cx="560.2" cy="1026.8" r="7.25"/><circle cx="572.2" cy="1019.4" r="7.25"/><circle cx="584.7" cy="1021.4" r="7.25"/><circle cx="596.2" cy="1019.4" r="7.25"/><circle cx="607.7" cy="1026.8" r="7.25"/></g>
<g fill="#232323" stroke="#1d1d1d" stroke-width="2.3"><circle cx="670.5" cy="923.7" r="7.25"/><circle cx="683" cy="929.1" r="7.25"/><circle cx="671.2" cy="1000.4" r="7.25"/><circle cx="661.4" cy="1009.2" r="7.25"/><circle cx="690.7" cy="1006.5" r="7.25"/><circle cx="662.8" cy="1018.7" r="7.25"/><circle cx="699.8" cy="1023.5" r="7.25"/><circle cx="653" cy="1032.3" r="7.25"/><circle cx="664.9" cy="1030.9" r="7.25"/><circle cx="680.2" cy="1037" r="7.25"/><circle cx="653" cy="1045.9" r="7.25"/><circle cx="669.1" cy="1045.2" r="7.25"/><circle cx="689.3" cy="1047.9" r="7.25"/><circle cx="701.2" cy="1045.9" r="7.25"/><circle cx="673.2" cy="1017.3" r="7.25"/><circle cx="658.2" cy="1037.7" r="7.25"/><circle cx="684.2" cy="1042.5" r="7.25"/></g>
<text x="866.8" y="1104.8" font-size="25" text-anchor="end">10</text>
<text x="869.5" y="1095.9" font-size="14" fill="#444">4</text>
<text x="866.8" y="1050.5" font-size="25" text-anchor="end">10</text>
<text x="869.5" y="1041.6" font-size="14" fill="#444">5</text>
<text x="866.8" y="996.2" font-size="25" text-anchor="end">10</text>
<text x="869.5" y="987.3" font-size="14" fill="#444">6</text>
<text x="866.8" y="941.9" font-size="25" text-anchor="end">10</text>
<text x="869.5" y="933" font-size="14" fill="#444">7</text>
<text x="866.8" y="887.6" font-size="25" text-anchor="end">10</text>
<text x="869.5" y="878.7" font-size="14" fill="#444">8</text>
<text x="866.8" y="833.3" font-size="25" text-anchor="end">10</text>
<text x="869.5" y="824.4" font-size="14" fill="#444">9</text>
<path d="M891.8 823.9V1096.4M882.8 1095.4H1107.5M953.3 1095.4v11M1045.6 1095.4v11M881.8 1095.4H891.8M881.8 1041.1H891.8M881.8 986.8H891.8M881.8 932.5H891.8M881.8 878.2H891.8M881.8 823.9H891.8" stroke="#111" stroke-width="2.5" fill="none"/>
<path d="M885.8 1079.1H891.8M885.8 1069.5H891.8M885.8 1062.7H891.8M885.8 1057.4H891.8M885.8 1053.1H891.8M885.8 1049.5H891.8M885.8 1046.4H891.8M885.8 1043.6H891.8M885.8 1024.8H891.8M885.8 1015.2H891.8M885.8 1008.4H891.8M885.8 1003.1H891.8M885.8 998.8H891.8M885.8 995.2H891.8M885.8 992.1H891.8M885.8 989.3H891.8M885.8 970.5H891.8M885.8 960.9H891.8M885.8 954.1H891.8M885.8 948.8H891.8M885.8 944.5H891.8M885.8 940.9H891.8M885.8 937.8H891.8M885.8 935H891.8M885.8 916.2H891.8M885.8 906.6H891.8M885.8 899.8H891.8M885.8 894.5H891.8M885.8 890.2H891.8M885.8 886.6H891.8M885.8 883.5H891.8M885.8 880.7H891.8M885.8 861.9H891.8M885.8 852.3H891.8M885.8 845.5H891.8M885.8 840.2H891.8M885.8 835.9H891.8M885.8 832.3H891.8M885.8 829.2H891.8M885.8 826.4H891.8" stroke="#111" stroke-width="1.7" fill="none"/>
<text transform="translate(790.4,949.1) rotate(-90)" font-size="26" text-anchor="middle" textLength="309.7" lengthAdjust="spacingAndGlyphs">KLRG1<tspan dy="-9" font-size="15">+</tspan><tspan dy="9"> CD127<tspan dy="-9" font-size="15">-</tspan><tspan dy="9"> of CD8 [#]</tspan></tspan></text>
<text x="999.5" y="783.3" font-size="29" text-anchor="middle">SLEC</text>
<path d="M954.1 836.9V826.1H1048.7V836.9" fill="none" stroke="#3a3a3a" stroke-width="1.7"/>
<text x="1000.9" y="821.2" font-size="28.5" text-anchor="middle" >n.s.</text>
<path d="M921.3 994.9h64M953.3 1027.5V984.1M936.3 1027.5h34M936.3 984.1h34" stroke="#111" stroke-width="2.2" fill="none"/>
<path d="M1013.6 989.5h64M1045.6 1022.1V975.9M1028.6 1022.1h34M1028.6 975.9h34" stroke="#111" stroke-width="2.2" fill="none"/>
<g fill="#e93340" stroke="#160c0c" stroke-width="2.3"><circle cx="953.3" cy="970.5" r="7.25"/><circle cx="928.8" cy="994.9" r="7.25"/><circle cx="941.3" cy="993.9" r="7.25"/><circle cx="953.3" cy="991.1" r="7.25"/><circle cx="965.8" cy="993.3" r="7.25"/><circle cx="977.3" cy="998.2" r="7.25"/><circle cx="941.3" cy="1010.7" r="7.25"/><circle cx="953.3" cy="1013.4" r="7.25"/><circle cx="965.8" cy="1008.5" r="7.25"/><circle cx="941.3" cy="1025.9" r="7.25"/><circle cx="965.8" cy="1024.8" r="7.25"/></g>
<g fill="#232323" stroke="#1d1d1d" stroke-width="2.3"><circle cx="1039.6" cy="956.9" r="7.25"/><circle cx="1021.1" cy="971.6" r="7.25"/><circle cx="1032.6" cy="967.3" r="7.25"/><circle cx="1058.1" cy="976.5" r="7.25"/><circle cx="1069.6" cy="981.9" r="7.25"/><circle cx="1021.1" cy="987.9" r="7.25"/><circle cx="1046.6" cy="992.2" r="7.25"/><circle cx="1069.6" cy="999.3" r="7.25"/><circle cx="1032.6" cy="1004.2" r="7.25"/><circle cx="1055.6" cy="1006.3" r="7.25"/><circle cx="1046.6" cy="1015.6" r="7.25"/><circle cx="1060.6" cy="1017.8" r="7.25"/><circle cx="1045.6" cy="1032.4" r="7.25"/><circle cx="1045.1" cy="989.6" r="7.25"/><circle cx="1070.2" cy="977.9" r="7.25"/><circle cx="1055.5" cy="973.9" r="7.25"/><circle cx="1022.6" cy="984.3" r="7.25"/></g>
<text x="512.7" y="1469.5" font-size="25" text-anchor="end">0</text>
<text x="512.7" y="1401.6" font-size="25" text-anchor="end">10</text>
<text x="512.7" y="1333.7" font-size="25" text-anchor="end">20</text>
<text x="512.7" y="1265.8" font-size="25" text-anchor="end">30</text>
<text x="512.7" y="1197.9" font-size="25" text-anchor="end">40</text>
<path d="M524.7 1189.4V1462M515.7 1461H739.4M584.7 1461v11M677.1 1461v11M515.7 1461H524.7M515.7 1393.1H524.7M515.7 1325.2H524.7M515.7 1257.3H524.7M515.7 1189.4H524.7" stroke="#111" stroke-width="2.5" fill="none"/>
<text transform="translate(438.2,1318) rotate(-90)" font-size="26" text-anchor="middle" textLength="323.9" lengthAdjust="spacingAndGlyphs">KLRG1<tspan dy="-9" font-size="15">-</tspan><tspan dy="9"> CD127<tspan dy="-9" font-size="15">+</tspan><tspan dy="9"> of CD8 [%]</tspan></tspan></text>
<text x="630.9" y="1147" font-size="29" text-anchor="middle">MPEC</text>
<path d="M582.9 1213.2V1200.6H677.2V1213.2" fill="none" stroke="#3a3a3a" stroke-width="1.7"/>
<text x="629" y="1194" font-size="28.5" text-anchor="middle" >n.s.</text>
<path d="M552.7 1365.3h64M584.7 1406.7V1323.2M567.7 1406.7h34M567.7 1323.2h34" stroke="#111" stroke-width="2.2" fill="none"/>
<path d="M645.1 1351h64M677.1 1385V1325.2M660.1 1385h34M660.1 1325.2h34" stroke="#111" stroke-width="2.2" fill="none"/>
<g fill="#e93340" stroke="#160c0c" stroke-width="2.3"><circle cx="560.7" cy="1288.5" r="7.25"/><circle cx="584.7" cy="1301.4" r="7.25"/><circle cx="584.7" cy="1336.1" r="7.25"/><circle cx="584.7" cy="1351" r="7.25"/><circle cx="560.7" cy="1379.5" r="7.25"/><circle cx="584.7" cy="1370.7" r="7.25"/><circle cx="608.7" cy="1374.8" r="7.25"/><circle cx="608.7" cy="1391.1" r="7.25"/><circle cx="584.7" cy="1403.3" r="7.25"/><circle cx="608.7" cy="1405.3" r="7.25"/><circle cx="560.7" cy="1413.5" r="7.25"/></g>
<g fill="#232323" stroke="#1d1d1d" stroke-width="2.3"><circle cx="676.1" cy="1298" r="7.25"/><circle cx="653.1" cy="1325.2" r="7.25"/><circle cx="665.6" cy="1328.6" r="7.25"/><circle cx="677.1" cy="1327.9" r="7.25"/><circle cx="688.6" cy="1328.6" r="7.25"/><circle cx="653.1" cy="1354.4" r="7.25"/><circle cx="665.6" cy="1353.7" r="7.25"/><circle cx="688.6" cy="1349" r="7.25"/><circle cx="699.1" cy="1349" r="7.25"/><circle cx="665.6" cy="1368" r="7.25"/><circle cx="688.6" cy="1361.9" r="7.25"/><circle cx="665.6" cy="1388.3" r="7.25"/><circle cx="688.6" cy="1393.1" r="7.25"/><circle cx="681.7" cy="1412.8" r="7.25"/><circle cx="670.1" cy="1427.7" r="7.25"/><circle cx="692.8" cy="1387.7" r="7.25"/><circle cx="695.3" cy="1343.6" r="7.25"/></g>
<text transform="translate(592.7,1493) rotate(-47)" font-size="27" text-anchor="end" textLength="121" lengthAdjust="spacingAndGlyphs">IFN<tspan font-size="21" font-style="italic" dy="2">γ</tspan><tspan font-size="19" dy="-13">ΔKRKR</tspan></text>
<text transform="translate(685.1,1493) rotate(-47)" font-size="27" text-anchor="end" textLength="73" lengthAdjust="spacingAndGlyphs">IFN<tspan font-size="21" font-style="italic" dy="2">γ</tspan><tspan font-size="19" dy="-13">wt</tspan></text>
<text x="869.2" y="1470.4" font-size="25" text-anchor="end">10</text>
<text x="871.9" y="1461.5" font-size="14" fill="#444">4</text>
<text x="869.2" y="1416.1" font-size="25" text-anchor="end">10</text>
<text x="871.9" y="1407.2" font-size="14" fill="#444">5</text>
<text x="869.2" y="1361.8" font-size="25" text-anchor="end">10</text>
<text x="871.9" y="1352.9" font-size="14" fill="#444">6</text>
<text x="869.2" y="1307.4" font-size="25" text-anchor="end">10</text>
<text x="871.9" y="1298.5" font-size="14" fill="#444">7</text>
<text x="869.2" y="1253.1" font-size="25" text-anchor="end">10</text>
<text x="871.9" y="1244.2" font-size="14" fill="#444">8</text>
<text x="869.2" y="1198.8" font-size="25" text-anchor="end">10</text>
<text x="871.9" y="1189.9" font-size="14" fill="#444">9</text>
<path d="M894.2 1189.4V1462M885.2 1461H1111.2M957.4 1461v11M1048.9 1461v11M884.2 1461H894.2M884.2 1406.7H894.2M884.2 1352.4H894.2M884.2 1298H894.2M884.2 1243.7H894.2M884.2 1189.4H894.2" stroke="#111" stroke-width="2.5" fill="none"/>
<path d="M888.2 1444.6H894.2M888.2 1435.1H894.2M888.2 1428.3H894.2M888.2 1423H894.2M888.2 1418.7H894.2M888.2 1415.1H894.2M888.2 1411.9H894.2M888.2 1409.2H894.2M888.2 1390.3H894.2M888.2 1380.8H894.2M888.2 1374H894.2M888.2 1368.7H894.2M888.2 1364.4H894.2M888.2 1360.8H894.2M888.2 1357.6H894.2M888.2 1354.8H894.2M888.2 1336H894.2M888.2 1326.4H894.2M888.2 1319.7H894.2M888.2 1314.4H894.2M888.2 1310.1H894.2M888.2 1306.5H894.2M888.2 1303.3H894.2M888.2 1300.5H894.2M888.2 1281.7H894.2M888.2 1272.1H894.2M888.2 1265.3H894.2M888.2 1260.1H894.2M888.2 1255.8H894.2M888.2 1252.1H894.2M888.2 1249H894.2M888.2 1246.2H894.2M888.2 1227.4H894.2M888.2 1217.8H894.2M888.2 1211H894.2M888.2 1205.8H894.2M888.2 1201.5H894.2M888.2 1197.8H894.2M888.2 1194.7H894.2M888.2 1191.9H894.2" stroke="#111" stroke-width="1.7" fill="none"/>
<text transform="translate(793.7,1319.7) rotate(-90)" font-size="26" text-anchor="middle" textLength="319.2" lengthAdjust="spacingAndGlyphs">KLRG1<tspan dy="-9" font-size="15">-</tspan><tspan dy="9"> CD127<tspan dy="-9" font-size="15">+</tspan><tspan dy="9"> of CD8 [#]</tspan></tspan></text>
<text x="1002.7" y="1147" font-size="29" text-anchor="middle">MPEC</text>
<path d="M954.4 1214V1202H1048.7V1214" fill="none" stroke="#3a3a3a" stroke-width="1.7"/>
<text x="1001.9" y="1193.7" font-size="28" text-anchor="middle" >*</text>
<path d="M925.4 1368.7h64M957.4 1386V1349.6M940.4 1386h34M940.4 1349.6h34" stroke="#111" stroke-width="2.2" fill="none"/>
<path d="M1016.9 1344.2h64M1048.9 1363.2V1341.5M1031.9 1363.2h34M1031.9 1341.5h34" stroke="#111" stroke-width="2.2" fill="none"/>
<g fill="#e93340" stroke="#160c0c" stroke-width="2.3"><circle cx="942.4" cy="1342" r="7.25"/><circle cx="951.9" cy="1347.5" r="7.25"/><circle cx="933.4" cy="1360.5" r="7.25"/><circle cx="954.2" cy="1357.8" r="7.25"/><circle cx="980.9" cy="1357.8" r="7.25"/><circle cx="944.9" cy="1377.3" r="7.25"/><circle cx="961.1" cy="1371.9" r="7.25"/><circle cx="972.4" cy="1370.8" r="7.25"/><circle cx="942.4" cy="1378.4" r="7.25"/><circle cx="949.4" cy="1392" r="7.25"/><circle cx="962" cy="1392" r="7.25"/></g>
<g fill="#232323" stroke="#1d1d1d" stroke-width="2.3"><circle cx="1025.9" cy="1336.1" r="7.25"/><circle cx="1039.9" cy="1331.7" r="7.25"/><circle cx="1055.9" cy="1336.1" r="7.25"/><circle cx="1071.9" cy="1330.6" r="7.25"/><circle cx="1030.4" cy="1345.3" r="7.25"/><circle cx="1046.6" cy="1347.5" r="7.25"/><circle cx="1064.9" cy="1343.1" r="7.25"/><circle cx="1037.4" cy="1360.5" r="7.25"/><circle cx="1046.6" cy="1370.8" r="7.25"/><circle cx="1044.3" cy="1387.1" r="7.25"/><circle cx="1048.9" cy="1409.4" r="7.25"/><circle cx="1056.6" cy="1348.9" r="7.25"/><circle cx="1056.7" cy="1335.7" r="7.25"/><circle cx="1048.6" cy="1333.1" r="7.25"/><circle cx="1031" cy="1359.2" r="7.25"/><circle cx="1026.7" cy="1342.2" r="7.25"/><circle cx="1065.5" cy="1341.5" r="7.25"/></g>
<text transform="translate(965.4,1493) rotate(-47)" font-size="27" text-anchor="end" textLength="121" lengthAdjust="spacingAndGlyphs">IFN<tspan font-size="21" font-style="italic" dy="2">γ</tspan><tspan font-size="19" dy="-13">ΔKRKR</tspan></text>
<text transform="translate(1056.9,1493) rotate(-47)" font-size="27" text-anchor="end" textLength="73" lengthAdjust="spacingAndGlyphs">IFN<tspan font-size="21" font-style="italic" dy="2">γ</tspan><tspan font-size="19" dy="-13">wt</tspan></text>
<text x="504.1" y="2273.7" font-size="25" text-anchor="end">0</text>
<text x="504.1" y="2205.8" font-size="25" text-anchor="end">10</text>
<text x="504.1" y="2137.8" font-size="25" text-anchor="end">20</text>
<text x="504.1" y="2069.9" font-size="25" text-anchor="end">30</text>
<text x="504.1" y="2002" font-size="25" text-anchor="end">40</text>
<path d="M516.1 1993.5V2266.2M507.1 2265.2H733.2M577.7 2265.2v11M670.2 2265.2v11M507.1 2265.2H516.1M507.1 2197.3H516.1M507.1 2129.3H516.1M507.1 2061.4H516.1M507.1 1993.5H516.1" stroke="#111" stroke-width="2.5" fill="none"/>
<text transform="translate(434,2122.7) rotate(-90)" font-size="26" text-anchor="middle" textLength="307.8" lengthAdjust="spacingAndGlyphs">CD62L<tspan dy="-9" font-size="15">+</tspan><tspan dy="9"> CD44<tspan dy="-9" font-size="15">-</tspan><tspan dy="9"> of CD8 [%]</tspan></tspan></text>
<text x="624.9" y="1950.8" font-size="29" text-anchor="middle" textLength="238.6" lengthAdjust="spacingAndGlyphs">naive CD8<tspan dy="-11" font-size="19">+</tspan><tspan dy="11"> T cells</tspan></text>
<path d="M575.4 2013.2V2000.4H670V2013.2" fill="none" stroke="#3a3a3a" stroke-width="1.7"/>
<text x="623.4" y="1992.8" font-size="28" text-anchor="middle" >**</text>
<path d="M545.7 2221.7h64M577.7 2242.8V2202M560.7 2242.8h34M560.7 2202h34" stroke="#111" stroke-width="2.2" fill="none"/>
<path d="M638.2 2185h64M670.2 2217.7V2151.1M653.2 2217.7h34M653.2 2151.1h34" stroke="#111" stroke-width="2.2" fill="none"/>
<g fill="#e93340" stroke="#160c0c" stroke-width="2.3"><circle cx="590" cy="2192.5" r="7.25"/><circle cx="578.2" cy="2195.9" r="7.25"/><circle cx="565.9" cy="2206.1" r="7.25"/><circle cx="554" cy="2214.9" r="7.25"/><circle cx="578.2" cy="2216.3" r="7.25"/><circle cx="565.9" cy="2225.1" r="7.25"/><circle cx="590" cy="2221.7" r="7.25"/><circle cx="554" cy="2228.5" r="7.25"/><circle cx="578.2" cy="2235.3" r="7.25"/><circle cx="590" cy="2248.2" r="7.25"/><circle cx="565.9" cy="2259.1" r="7.25"/></g>
<g fill="#232323" stroke="#1d1d1d" stroke-width="2.3"><circle cx="670.2" cy="2114.4" r="7.25"/><circle cx="662.2" cy="2146.3" r="7.25"/><circle cx="677.8" cy="2140.2" r="7.25"/><circle cx="645.6" cy="2159.2" r="7.25"/><circle cx="662.2" cy="2165.4" r="7.25"/><circle cx="677.8" cy="2166.7" r="7.25"/><circle cx="693.9" cy="2159.2" r="7.25"/><circle cx="662.2" cy="2179.6" r="7.25"/><circle cx="677.8" cy="2183" r="7.25"/><circle cx="645.6" cy="2206.8" r="7.25"/><circle cx="662.2" cy="2204.7" r="7.25"/><circle cx="677.8" cy="2206.8" r="7.25"/><circle cx="645.6" cy="2214.3" r="7.25"/><circle cx="693.9" cy="2222.4" r="7.25"/><circle cx="662.2" cy="2223.8" r="7.25"/><circle cx="670.2" cy="2242.1" r="7.25"/><circle cx="666.3" cy="2165.2" r="7.25"/></g>
<text x="882.5" y="2274.6" font-size="25" text-anchor="end">0</text>
<text x="882.5" y="2206.7" font-size="25" text-anchor="end">10</text>
<text x="882.5" y="2138.8" font-size="25" text-anchor="end">20</text>
<text x="882.5" y="2070.8" font-size="25" text-anchor="end">30</text>
<text x="882.5" y="2002.9" font-size="25" text-anchor="end">40</text>
<path d="M894.5 1994.4V2267.1M885.5 2266.1H1112.6M958.5 2266.1v11M1048.6 2266.1v11M885.5 2266.1H894.5M885.5 2198.2H894.5M885.5 2130.2H894.5M885.5 2062.3H894.5M885.5 1994.4H894.5" stroke="#111" stroke-width="2.5" fill="none"/>
<text transform="translate(812.5,2125.1) rotate(-90)" font-size="26" text-anchor="middle" textLength="312.6" lengthAdjust="spacingAndGlyphs">CD62L<tspan dy="-9" font-size="15">+</tspan><tspan dy="9"> CD44<tspan dy="-9" font-size="15">+</tspan><tspan dy="9"> of CD8 [%]</tspan></tspan></text>
<text x="1004.1" y="1949.3" font-size="29" text-anchor="middle" textLength="191.4" lengthAdjust="spacingAndGlyphs">T<tspan font-size="22" dy="5">cm</tspan><tspan dy="-5"> phenotype</tspan></text>
<path d="M954.1 2011.7V2002.9H1047.4V2011.7" fill="none" stroke="#3a3a3a" stroke-width="1.7"/>
<text x="1001.9" y="2000.4" font-size="28" text-anchor="middle" >*</text>
<path d="M926.5 2223.3h64M958.5 2238.9V2209.7M941.5 2238.9h34M941.5 2209.7h34" stroke="#111" stroke-width="2.2" fill="none"/>
<path d="M1016.6 2212.4h64M1048.6 2224V2201.6M1031.6 2224h34M1031.6 2201.6h34" stroke="#111" stroke-width="2.2" fill="none"/>
<g fill="#e93340" stroke="#160c0c" stroke-width="2.3"><circle cx="958.5" cy="2194.1" r="7.25"/><circle cx="933.8" cy="2209" r="7.25"/><circle cx="946.6" cy="2218.6" r="7.25"/><circle cx="970.4" cy="2223.3" r="7.25"/><circle cx="982.2" cy="2223.3" r="7.25"/><circle cx="933.8" cy="2228.1" r="7.25"/><circle cx="946.6" cy="2236.9" r="7.25"/><circle cx="958.5" cy="2230.8" r="7.25"/><circle cx="970.4" cy="2247.1" r="7.25"/><circle cx="946.6" cy="2257.3" r="7.25"/></g>
<g fill="#232323" stroke="#1d1d1d" stroke-width="2.3"><circle cx="1073.3" cy="2183.2" r="7.25"/><circle cx="1024.9" cy="2197.5" r="7.25"/><circle cx="1043.9" cy="2195.5" r="7.25"/><circle cx="1062.8" cy="2192.7" r="7.25"/><circle cx="1025.8" cy="2208.4" r="7.25"/><circle cx="1049.6" cy="2211.8" r="7.25"/><circle cx="1072.3" cy="2204.3" r="7.25"/><circle cx="1034.4" cy="2221.3" r="7.25"/><circle cx="1058.1" cy="2223.3" r="7.25"/><circle cx="1029.6" cy="2232.8" r="7.25"/><circle cx="1058.1" cy="2236.9" r="7.25"/><circle cx="1042.9" cy="2230.8" r="7.25"/><circle cx="1032.1" cy="2203.1" r="7.25"/><circle cx="1046.4" cy="2193.9" r="7.25"/><circle cx="1034.2" cy="2221.1" r="7.25"/><circle cx="1049.7" cy="2200.2" r="7.25"/><circle cx="1045.7" cy="2196.9" r="7.25"/></g>
<text x="495.4" y="2596.7" font-size="25" text-anchor="end">10</text>
<text x="498.1" y="2587.8" font-size="14" fill="#444">4</text>
<text x="495.4" y="2542.4" font-size="25" text-anchor="end">10</text>
<text x="498.1" y="2533.5" font-size="14" fill="#444">5</text>
<text x="495.4" y="2488" font-size="25" text-anchor="end">10</text>
<text x="498.1" y="2479.1" font-size="14" fill="#444">6</text>
<text x="495.4" y="2433.7" font-size="25" text-anchor="end">10</text>
<text x="498.1" y="2424.8" font-size="14" fill="#444">7</text>
<text x="495.4" y="2379.3" font-size="25" text-anchor="end">10</text>
<text x="498.1" y="2370.4" font-size="14" fill="#444">8</text>
<text x="495.4" y="2325" font-size="25" text-anchor="end">10</text>
<text x="498.1" y="2316.1" font-size="14" fill="#444">9</text>
<path d="M520.4 2315.6V2588.3M511.4 2587.3H736.6M582.5 2587.3v11M674 2587.3v11M510.4 2587.3H520.4M510.4 2533H520.4M510.4 2478.6H520.4M510.4 2424.3H520.4M510.4 2369.9H520.4M510.4 2315.6H520.4" stroke="#111" stroke-width="2.5" fill="none"/>
<path d="M514.4 2570.9H520.4M514.4 2561.4H520.4M514.4 2554.6H520.4M514.4 2549.3H520.4M514.4 2545H520.4M514.4 2541.4H520.4M514.4 2538.2H520.4M514.4 2535.4H520.4M514.4 2516.6H520.4M514.4 2507H520.4M514.4 2500.2H520.4M514.4 2495H520.4M514.4 2490.7H520.4M514.4 2487H520.4M514.4 2483.9H520.4M514.4 2481.1H520.4M514.4 2462.3H520.4M514.4 2452.7H520.4M514.4 2445.9H520.4M514.4 2440.6H520.4M514.4 2436.3H520.4M514.4 2432.7H520.4M514.4 2429.5H520.4M514.4 2426.8H520.4M514.4 2407.9H520.4M514.4 2398.4H520.4M514.4 2391.6H520.4M514.4 2386.3H520.4M514.4 2382H520.4M514.4 2378.4H520.4M514.4 2375.2H520.4M514.4 2372.4H520.4M514.4 2353.6H520.4M514.4 2344H520.4M514.4 2337.2H520.4M514.4 2332H520.4M514.4 2327.7H520.4M514.4 2324H520.4M514.4 2320.9H520.4M514.4 2318.1H520.4" stroke="#111" stroke-width="1.7" fill="none"/>
<text transform="translate(420,2445.9) rotate(-90)" font-size="26" text-anchor="middle" textLength="300.7" lengthAdjust="spacingAndGlyphs">CD62L<tspan dy="-9" font-size="15">+</tspan><tspan dy="9"> CD44<tspan dy="-9" font-size="15">-</tspan><tspan dy="9"> of CD8 [#]</tspan></tspan></text>
<path d="M577.9 2353.5V2337H671.4V2353.5" fill="none" stroke="#3a3a3a" stroke-width="1.7"/>
<text x="625.4" y="2319.4" font-size="28" text-anchor="middle" >***</text>
<path d="M550.5 2508.5h64M582.5 2527.5V2494.9M565.5 2527.5h34M565.5 2494.9h34" stroke="#111" stroke-width="2.2" fill="none"/>
<path d="M642 2484.1h64M674 2500.4V2462.3M657 2500.4h34M657 2462.3h34" stroke="#111" stroke-width="2.2" fill="none"/>
<g fill="#e93340" stroke="#160c0c" stroke-width="2.3"><circle cx="578.2" cy="2492.2" r="7.25"/><circle cx="558.3" cy="2499.8" r="7.25"/><circle cx="569.7" cy="2506.9" r="7.25"/><circle cx="588.7" cy="2503.6" r="7.25"/><circle cx="601.9" cy="2498.2" r="7.25"/><circle cx="606.7" cy="2497.1" r="7.25"/><circle cx="568.3" cy="2515" r="7.25"/><circle cx="583" cy="2522.1" r="7.25"/><circle cx="578.2" cy="2507.4" r="7.25"/><circle cx="595.8" cy="2524.3" r="7.25"/><circle cx="582.5" cy="2561.2" r="7.25"/></g>
<g fill="#232323" stroke="#1d1d1d" stroke-width="2.3"><circle cx="649.4" cy="2455.3" r="7.25"/><circle cx="677.8" cy="2458" r="7.25"/><circle cx="696.8" cy="2458" r="7.25"/><circle cx="650.3" cy="2470.5" r="7.25"/><circle cx="664.5" cy="2472.1" r="7.25"/><circle cx="683.5" cy="2468.8" r="7.25"/><circle cx="696.8" cy="2473.2" r="7.25"/><circle cx="659.8" cy="2491.1" r="7.25"/><circle cx="674" cy="2484.1" r="7.25"/><circle cx="696.8" cy="2488.9" r="7.25"/><circle cx="659.8" cy="2496" r="7.25"/><circle cx="687.3" cy="2499.3" r="7.25"/><circle cx="669.3" cy="2500.4" r="7.25"/><circle cx="674" cy="2531.3" r="7.25"/><circle cx="659.9" cy="2497.5" r="7.25"/><circle cx="700" cy="2484.4" r="7.25"/><circle cx="688.8" cy="2468.9" r="7.25"/></g>
<text transform="translate(590.5,2619.3) rotate(-47)" font-size="27" text-anchor="end" textLength="121" lengthAdjust="spacingAndGlyphs">IFN<tspan font-size="21" font-style="italic" dy="2">γ</tspan><tspan font-size="19" dy="-13">ΔKRKR</tspan></text>
<text transform="translate(682,2619.3) rotate(-47)" font-size="27" text-anchor="end" textLength="73" lengthAdjust="spacingAndGlyphs">IFN<tspan font-size="21" font-style="italic" dy="2">γ</tspan><tspan font-size="19" dy="-13">wt</tspan></text>
<text x="871.8" y="2597.6" font-size="25" text-anchor="end">10</text>
<text x="874.5" y="2588.7" font-size="14" fill="#444">4</text>
<text x="871.8" y="2543.3" font-size="25" text-anchor="end">10</text>
<text x="874.5" y="2534.4" font-size="14" fill="#444">5</text>
<text x="871.8" y="2488.9" font-size="25" text-anchor="end">10</text>
<text x="874.5" y="2480" font-size="14" fill="#444">6</text>
<text x="871.8" y="2434.6" font-size="25" text-anchor="end">10</text>
<text x="874.5" y="2425.7" font-size="14" fill="#444">7</text>
<text x="871.8" y="2380.2" font-size="25" text-anchor="end">10</text>
<text x="874.5" y="2371.3" font-size="14" fill="#444">8</text>
<text x="871.8" y="2325.9" font-size="25" text-anchor="end">10</text>
<text x="874.5" y="2317" font-size="14" fill="#444">9</text>
<path d="M896.8 2316.5V2589.2M887.8 2588.2H1112.6M958.5 2588.2v11M1050.5 2588.2v11M886.8 2588.2H896.8M886.8 2533.9H896.8M886.8 2479.5H896.8M886.8 2425.2H896.8M886.8 2370.8H896.8M886.8 2316.5H896.8" stroke="#111" stroke-width="2.5" fill="none"/>
<path d="M890.8 2571.8H896.8M890.8 2562.3H896.8M890.8 2555.5H896.8M890.8 2550.2H896.8M890.8 2545.9H896.8M890.8 2542.3H896.8M890.8 2539.1H896.8M890.8 2536.3H896.8M890.8 2517.5H896.8M890.8 2507.9H896.8M890.8 2501.1H896.8M890.8 2495.9H896.8M890.8 2491.6H896.8M890.8 2487.9H896.8M890.8 2484.8H896.8M890.8 2482H896.8M890.8 2463.2H896.8M890.8 2453.6H896.8M890.8 2446.8H896.8M890.8 2441.5H896.8M890.8 2437.2H896.8M890.8 2433.6H896.8M890.8 2430.4H896.8M890.8 2427.7H896.8M890.8 2408.8H896.8M890.8 2399.3H896.8M890.8 2392.5H896.8M890.8 2387.2H896.8M890.8 2382.9H896.8M890.8 2379.3H896.8M890.8 2376.1H896.8M890.8 2373.3H896.8M890.8 2354.5H896.8M890.8 2344.9H896.8M890.8 2338.1H896.8M890.8 2332.9H896.8M890.8 2328.6H896.8M890.8 2324.9H896.8M890.8 2321.8H896.8M890.8 2319H896.8" stroke="#111" stroke-width="1.7" fill="none"/>
<text transform="translate(795,2448.3) rotate(-90)" font-size="26" text-anchor="middle" textLength="300.7" lengthAdjust="spacingAndGlyphs">CD62L<tspan dy="-9" font-size="15">+</tspan><tspan dy="9"> CD44<tspan dy="-9" font-size="15">+</tspan><tspan dy="9"> of CD8 [#]</tspan></tspan></text>
<path d="M948.1 2355.7V2339H1042.2V2355.7" fill="none" stroke="#3a3a3a" stroke-width="1.7"/>
<text x="996.5" y="2321.9" font-size="28" text-anchor="middle" >**</text>
<path d="M926.5 2507.2h64M958.5 2548.5V2493.6M941.5 2548.5h34M941.5 2493.6h34" stroke="#111" stroke-width="2.2" fill="none"/>
<path d="M1018.5 2483.9h64M1050.5 2502.3V2479.5M1033.5 2502.3h34M1033.5 2479.5h34" stroke="#111" stroke-width="2.2" fill="none"/>
<g fill="#e93340" stroke="#160c0c" stroke-width="2.3"><circle cx="950.5" cy="2486.6" r="7.25"/><circle cx="966.5" cy="2485.5" r="7.25"/><circle cx="935.1" cy="2498" r="7.25"/><circle cx="950.5" cy="2513.8" r="7.25"/><circle cx="966.5" cy="2510.5" r="7.25"/><circle cx="981.9" cy="2508.9" r="7.25"/><circle cx="935.1" cy="2519.7" r="7.25"/><circle cx="950.5" cy="2529" r="7.25"/><circle cx="966.5" cy="2532.8" r="7.25"/><circle cx="981.9" cy="2525.2" r="7.25"/><circle cx="958.5" cy="2555.6" r="7.25"/></g>
<g fill="#232323" stroke="#1d1d1d" stroke-width="2.3"><circle cx="1026.5" cy="2471.9" r="7.25"/><circle cx="1036.5" cy="2470.3" r="7.25"/><circle cx="1046.5" cy="2468.7" r="7.25"/><circle cx="1056.5" cy="2469.2" r="7.25"/><circle cx="1066.5" cy="2471.4" r="7.25"/><circle cx="1073.5" cy="2474.1" r="7.25"/><circle cx="1030.5" cy="2482.8" r="7.25"/><circle cx="1042.5" cy="2481.7" r="7.25"/><circle cx="1054.5" cy="2482.2" r="7.25"/><circle cx="1064.5" cy="2483.9" r="7.25"/><circle cx="1054" cy="2493.6" r="7.25"/><circle cx="1048.5" cy="2504" r="7.25"/><circle cx="1048.5" cy="2511" r="7.25"/><circle cx="1050.5" cy="2518.6" r="7.25"/><circle cx="1049.5" cy="2525.7" r="7.25"/><circle cx="1050.5" cy="2542" r="7.25"/><circle cx="1037.8" cy="2478.7" r="7.25"/></g>
<text transform="translate(966.5,2620.2) rotate(-47)" font-size="27" text-anchor="end" textLength="121" lengthAdjust="spacingAndGlyphs">IFN<tspan font-size="21" font-style="italic" dy="2">γ</tspan><tspan font-size="19" dy="-13">ΔKRKR</tspan></text>
<text transform="translate(1058.5,2620.2) rotate(-47)" font-size="27" text-anchor="end" textLength="73" lengthAdjust="spacingAndGlyphs">IFN<tspan font-size="21" font-style="italic" dy="2">γ</tspan><tspan font-size="19" dy="-13">wt</tspan></text>
<text x="1266.6" y="693.5" font-size="25" text-anchor="end">0</text>
<text x="1266.6" y="639.3" font-size="25" text-anchor="end">20</text>
<text x="1266.6" y="585.1" font-size="25" text-anchor="end">40</text>
<text x="1266.6" y="531" font-size="25" text-anchor="end">60</text>
<text x="1266.6" y="476.8" font-size="25" text-anchor="end">80</text>
<text x="1266.6" y="422.6" font-size="25" text-anchor="end">100</text>
<path d="M1278.6 414.1V686M1269.6 685H1493.6M1339.3 685v11M1432.4 685v11M1269.6 685H1278.6M1269.6 630.8H1278.6M1269.6 576.6H1278.6M1269.6 522.5H1278.6M1269.6 468.3H1278.6M1269.6 414.1H1278.6" stroke="#111" stroke-width="2.5" fill="none"/>
<text transform="translate(1182,545.5) rotate(-90)" font-size="26" text-anchor="middle" textLength="293.5" lengthAdjust="spacingAndGlyphs">PD-1<tspan dy="-9" font-size="15">+</tspan><tspan dy="9"> LAG3<tspan dy="-9" font-size="15">+</tspan><tspan dy="9"> of CD8 [%]</tspan></tspan></text>
<text x="1388" y="374" font-size="29" text-anchor="middle" textLength="250" lengthAdjust="spacingAndGlyphs">inhibitory receptors</text>
<path d="M1339.1 420.3V407.8H1432.5V420.3" fill="none" stroke="#3a3a3a" stroke-width="1.7"/>
<text x="1384.9" y="400.8" font-size="28.5" text-anchor="middle" >n.s.</text>
<path d="M1307.3 542.2h64M1339.3 591.3V494M1322.3 591.3h34M1322.3 494h34" stroke="#111" stroke-width="2.2" fill="none"/>
<path d="M1400.4 542.2h64M1432.4 581.2V501.6M1415.4 581.2h34M1415.4 501.6h34" stroke="#111" stroke-width="2.2" fill="none"/>
<g fill="#e93340" stroke="#160c0c" stroke-width="2.3"><circle cx="1339.3" cy="479.7" r="7.25"/><circle cx="1315.3" cy="516" r="7.25"/><circle cx="1330.3" cy="501.6" r="7.25"/><circle cx="1347.9" cy="501.6" r="7.25"/><circle cx="1330.3" cy="526.3" r="7.25"/><circle cx="1347.9" cy="526.3" r="7.25"/><circle cx="1363.7" cy="527.9" r="7.25"/><circle cx="1340.7" cy="556.1" r="7.25"/><circle cx="1331.2" cy="599.1" r="7.25"/><circle cx="1347.9" cy="611.3" r="7.25"/><circle cx="1331.2" cy="625.4" r="7.25"/></g>
<g fill="#232323" stroke="#1d1d1d" stroke-width="2.3"><circle cx="1431.4" cy="479.7" r="7.25"/><circle cx="1406.4" cy="501.6" r="7.25"/><circle cx="1419.5" cy="494" r="7.25"/><circle cx="1432.4" cy="501.6" r="7.25"/><circle cx="1453.9" cy="504.9" r="7.25"/><circle cx="1419.5" cy="516" r="7.25"/><circle cx="1444.4" cy="520.6" r="7.25"/><circle cx="1406.4" cy="542.2" r="7.25"/><circle cx="1421.9" cy="540.6" r="7.25"/><circle cx="1455.4" cy="540.6" r="7.25"/><circle cx="1419.5" cy="557.4" r="7.25"/><circle cx="1432.4" cy="562.3" r="7.25"/><circle cx="1444.4" cy="563.6" r="7.25"/><circle cx="1431.4" cy="600.5" r="7.25"/><circle cx="1444.4" cy="607.5" r="7.25"/><circle cx="1419.5" cy="616.2" r="7.25"/><circle cx="1453.8" cy="536.6" r="7.25"/></g>
<text transform="translate(1347.3,717) rotate(-47)" font-size="27" text-anchor="end" textLength="121" lengthAdjust="spacingAndGlyphs">IFN<tspan font-size="21" font-style="italic" dy="2">γ</tspan><tspan font-size="19" dy="-13">ΔKRKR</tspan></text>
<text transform="translate(1440.4,717) rotate(-47)" font-size="27" text-anchor="end" textLength="73" lengthAdjust="spacingAndGlyphs">IFN<tspan font-size="21" font-style="italic" dy="2">γ</tspan><tspan font-size="19" dy="-13">wt</tspan></text>
<text x="1613.4" y="694.4" font-size="25" text-anchor="end">10</text>
<text x="1616.1" y="685.5" font-size="14" fill="#444">4</text>
<text x="1613.4" y="640.2" font-size="25" text-anchor="end">10</text>
<text x="1616.1" y="631.3" font-size="14" fill="#444">5</text>
<text x="1613.4" y="586" font-size="25" text-anchor="end">10</text>
<text x="1616.1" y="577.1" font-size="14" fill="#444">6</text>
<text x="1613.4" y="531.9" font-size="25" text-anchor="end">10</text>
<text x="1616.1" y="523" font-size="14" fill="#444">7</text>
<text x="1613.4" y="477.7" font-size="25" text-anchor="end">10</text>
<text x="1616.1" y="468.8" font-size="14" fill="#444">8</text>
<text x="1613.4" y="423.5" font-size="25" text-anchor="end">10</text>
<text x="1616.1" y="414.6" font-size="14" fill="#444">9</text>
<path d="M1638.4 414.1V686M1629.4 685H1854.4M1699 685v11M1793.7 685v11M1628.4 685H1638.4M1628.4 630.8H1638.4M1628.4 576.6H1638.4M1628.4 522.5H1638.4M1628.4 468.3H1638.4M1628.4 414.1H1638.4" stroke="#111" stroke-width="2.5" fill="none"/>
<path d="M1632.4 668.7H1638.4M1632.4 659.1H1638.4M1632.4 652.4H1638.4M1632.4 647.1H1638.4M1632.4 642.8H1638.4M1632.4 639.2H1638.4M1632.4 636.1H1638.4M1632.4 633.3H1638.4M1632.4 614.5H1638.4M1632.4 605H1638.4M1632.4 598.2H1638.4M1632.4 592.9H1638.4M1632.4 588.7H1638.4M1632.4 585H1638.4M1632.4 581.9H1638.4M1632.4 579.1H1638.4M1632.4 560.3H1638.4M1632.4 550.8H1638.4M1632.4 544H1638.4M1632.4 538.8H1638.4M1632.4 534.5H1638.4M1632.4 530.9H1638.4M1632.4 527.7H1638.4M1632.4 524.9H1638.4M1632.4 506.2H1638.4M1632.4 496.6H1638.4M1632.4 489.8H1638.4M1632.4 484.6H1638.4M1632.4 480.3H1638.4M1632.4 476.7H1638.4M1632.4 473.5H1638.4M1632.4 470.8H1638.4M1632.4 452H1638.4M1632.4 442.4H1638.4M1632.4 435.7H1638.4M1632.4 430.4H1638.4M1632.4 426.1H1638.4M1632.4 422.5H1638.4M1632.4 419.4H1638.4M1632.4 416.6H1638.4" stroke="#111" stroke-width="1.7" fill="none"/>
<text transform="translate(1535,544.2) rotate(-90)" font-size="26" text-anchor="middle" textLength="295.9" lengthAdjust="spacingAndGlyphs">PD-1<tspan dy="-9" font-size="15">+</tspan><tspan dy="9"> LAG3<tspan dy="-9" font-size="15">+</tspan><tspan dy="9"> of CD8 [#]</tspan></tspan></text>
<text x="1746.2" y="374" font-size="29" text-anchor="middle" textLength="243.6" lengthAdjust="spacingAndGlyphs">inhibitory receptors</text>
<path d="M1699.3 431.3V420H1793.6V431.3" fill="none" stroke="#3a3a3a" stroke-width="1.7"/>
<text x="1747.1" y="411.2" font-size="28" text-anchor="middle" >*</text>
<path d="M1667 552.3h64M1699 591.8V538.7M1682 591.8h34M1682 538.7h34" stroke="#111" stroke-width="2.2" fill="none"/>
<path d="M1761.7 540.9h64M1793.7 558.2V538.7M1776.7 558.2h34M1776.7 538.7h34" stroke="#111" stroke-width="2.2" fill="none"/>
<g fill="#e93340" stroke="#160c0c" stroke-width="2.3"><circle cx="1700" cy="525.2" r="7.25"/><circle cx="1675" cy="553.3" r="7.25"/><circle cx="1687" cy="556.1" r="7.25"/><circle cx="1699" cy="544.1" r="7.25"/><circle cx="1711" cy="546.3" r="7.25"/><circle cx="1723" cy="545.8" r="7.25"/><circle cx="1699" cy="560.9" r="7.25"/><circle cx="1711" cy="564.7" r="7.25"/><circle cx="1699" cy="576.6" r="7.25"/><circle cx="1687" cy="595.6" r="7.25"/><circle cx="1706" cy="595.6" r="7.25"/></g>
<g fill="#232323" stroke="#1d1d1d" stroke-width="2.3"><circle cx="1769.7" cy="538.2" r="7.25"/><circle cx="1782.7" cy="530.6" r="7.25"/><circle cx="1799.4" cy="525.2" r="7.25"/><circle cx="1813.7" cy="530.6" r="7.25"/><circle cx="1818.7" cy="533.3" r="7.25"/><circle cx="1777.9" cy="550.1" r="7.25"/><circle cx="1792.3" cy="545.8" r="7.25"/><circle cx="1806.7" cy="542.5" r="7.25"/><circle cx="1785.1" cy="564.7" r="7.25"/><circle cx="1792.3" cy="578.8" r="7.25"/><circle cx="1785.1" cy="583.7" r="7.25"/><circle cx="1795.7" cy="581" r="7.25"/><circle cx="1791.1" cy="547.6" r="7.25"/><circle cx="1783.2" cy="533.3" r="7.25"/><circle cx="1792.7" cy="584.3" r="7.25"/><circle cx="1794.8" cy="543.7" r="7.25"/><circle cx="1771.1" cy="536.9" r="7.25"/></g>
<text transform="translate(1707,717) rotate(-47)" font-size="27" text-anchor="end" textLength="121" lengthAdjust="spacingAndGlyphs">IFN<tspan font-size="21" font-style="italic" dy="2">γ</tspan><tspan font-size="19" dy="-13">ΔKRKR</tspan></text>
<text transform="translate(1801.7,717) rotate(-47)" font-size="27" text-anchor="end" textLength="73" lengthAdjust="spacingAndGlyphs">IFN<tspan font-size="21" font-style="italic" dy="2">γ</tspan><tspan font-size="19" dy="-13">wt</tspan></text>
<text x="1250.8" y="1501.1" font-size="25" text-anchor="end">0</text>
<text x="1250.8" y="1433.2" font-size="25" text-anchor="end">10</text>
<text x="1250.8" y="1365.4" font-size="25" text-anchor="end">20</text>
<text x="1250.8" y="1297.5" font-size="25" text-anchor="end">30</text>
<text x="1250.8" y="1229.7" font-size="25" text-anchor="end">40</text>
<path d="M1262.8 1221.2V1493.6M1253.8 1492.6H1478.3M1324 1492.6v11M1415.7 1492.6v11M1253.8 1492.6H1262.8M1253.8 1424.8H1262.8M1253.8 1356.9H1262.8M1253.8 1289H1262.8M1253.8 1221.2H1262.8" stroke="#111" stroke-width="2.5" fill="none"/>
<text transform="translate(1176,1351.4) rotate(-90)" font-size="26" text-anchor="middle" textLength="200.3" lengthAdjust="spacingAndGlyphs">IFNγ<tspan dy="-9" font-size="15">+</tspan><tspan dy="9"> of CD8 [%]</tspan></text>
<text x="1371.8" y="1179.2" font-size="29" text-anchor="middle" textLength="325" lengthAdjust="spacingAndGlyphs">GP33 peptide stimulated</text>
<path d="M1328.1 1240.5V1229.5H1421.2V1240.5" fill="none" stroke="#3a3a3a" stroke-width="1.7"/>
<text x="1373.9" y="1221.4" font-size="28.5" text-anchor="middle" >n.s.</text>
<path d="M1292 1418.6h64M1324 1455.3V1382M1307 1455.3h34M1307 1382h34" stroke="#111" stroke-width="2.2" fill="none"/>
<path d="M1383.7 1437.6h64M1415.7 1472.2V1407.8M1398.7 1472.2h34M1398.7 1407.8h34" stroke="#111" stroke-width="2.2" fill="none"/>
<g fill="#e93340" stroke="#160c0c" stroke-width="2.3"><circle cx="1347" cy="1375.2" r="7.25"/><circle cx="1331.2" cy="1377.9" r="7.25"/><circle cx="1315.9" cy="1388.1" r="7.25"/><circle cx="1300" cy="1399" r="7.25"/><circle cx="1331.2" cy="1404.4" r="7.25"/><circle cx="1315.9" cy="1409.1" r="7.25"/><circle cx="1347" cy="1396.3" r="7.25"/><circle cx="1323" cy="1436.3" r="7.25"/><circle cx="1324" cy="1468.2" r="7.25"/><circle cx="1339.8" cy="1468.9" r="7.25"/><circle cx="1307.3" cy="1475.6" r="7.25"/></g>
<g fill="#232323" stroke="#1d1d1d" stroke-width="2.3"><circle cx="1391.7" cy="1396.9" r="7.25"/><circle cx="1416.2" cy="1401.7" r="7.25"/><circle cx="1438.7" cy="1403.7" r="7.25"/><circle cx="1390.9" cy="1417.3" r="7.25"/><circle cx="1425.3" cy="1422" r="7.25"/><circle cx="1403.7" cy="1430.2" r="7.25"/><circle cx="1438.7" cy="1430.2" r="7.25"/><circle cx="1391.7" cy="1440.4" r="7.25"/><circle cx="1416.2" cy="1449.9" r="7.25"/><circle cx="1426.2" cy="1438.3" r="7.25"/><circle cx="1416.2" cy="1472.2" r="7.25"/><circle cx="1391.7" cy="1483.1" r="7.25"/><circle cx="1403.7" cy="1481.7" r="7.25"/><circle cx="1415.7" cy="1483.1" r="7.25"/><circle cx="1426.7" cy="1483.1" r="7.25"/><circle cx="1438.7" cy="1483.1" r="7.25"/><circle cx="1394.8" cy="1426.5" r="7.25"/></g>
<text x="1627.3" y="1501.1" font-size="25" text-anchor="end">0</text>
<text x="1627.3" y="1433.2" font-size="25" text-anchor="end">10</text>
<text x="1627.3" y="1365.4" font-size="25" text-anchor="end">20</text>
<text x="1627.3" y="1297.5" font-size="25" text-anchor="end">30</text>
<text x="1627.3" y="1229.7" font-size="25" text-anchor="end">40</text>
<path d="M1639.3 1221.2V1493.6M1630.3 1492.6H1855.3M1701.4 1492.6v11M1793.2 1492.6v11M1630.3 1492.6H1639.3M1630.3 1424.8H1639.3M1630.3 1356.9H1639.3M1630.3 1289H1639.3M1630.3 1221.2H1639.3" stroke="#111" stroke-width="2.5" fill="none"/>
<text transform="translate(1554,1351.4) rotate(-90)" font-size="26" text-anchor="middle" textLength="200.3" lengthAdjust="spacingAndGlyphs">IFNγ<tspan dy="-9" font-size="15">+</tspan><tspan dy="9"> of CD8 [%]</tspan></text>
<text x="1748" y="1179.2" font-size="29" text-anchor="middle" textLength="339" lengthAdjust="spacingAndGlyphs">NP396 peptide stimulated</text>
<path d="M1700.5 1240.5V1229.3H1796.1V1240.5" fill="none" stroke="#3a3a3a" stroke-width="1.7"/>
<text x="1748.5" y="1220.4" font-size="28" text-anchor="middle" >*</text>
<path d="M1669.4 1445.1h64M1701.4 1465.5V1423.4M1684.4 1465.5h34M1684.4 1423.4h34" stroke="#111" stroke-width="2.2" fill="none"/>
<path d="M1761.2 1460.7h64M1793.2 1489.2V1429.5M1776.2 1489.2h34M1776.2 1429.5h34" stroke="#111" stroke-width="2.2" fill="none"/>
<g fill="#e93340" stroke="#160c0c" stroke-width="2.3"><circle cx="1677.4" cy="1411.2" r="7.25"/><circle cx="1692.8" cy="1418.6" r="7.25"/><circle cx="1677.4" cy="1428.8" r="7.25"/><circle cx="1723.9" cy="1428.8" r="7.25"/><circle cx="1692.8" cy="1445.8" r="7.25"/><circle cx="1708.6" cy="1449.9" r="7.25"/><circle cx="1723.9" cy="1447.1" r="7.25"/><circle cx="1677.4" cy="1451.2" r="7.25"/><circle cx="1723.9" cy="1464.1" r="7.25"/><circle cx="1677.4" cy="1472.9" r="7.25"/><circle cx="1708.6" cy="1472.9" r="7.25"/></g>
<g fill="#232323" stroke="#1d1d1d" stroke-width="2.3"><circle cx="1792.2" cy="1357.6" r="7.25"/><circle cx="1792.2" cy="1422.7" r="7.25"/><circle cx="1792.2" cy="1443.1" r="7.25"/><circle cx="1780.2" cy="1460" r="7.25"/><circle cx="1801.8" cy="1462.7" r="7.25"/><circle cx="1766.2" cy="1477" r="7.25"/><circle cx="1780.2" cy="1474.3" r="7.25"/><circle cx="1792.2" cy="1472.2" r="7.25"/><circle cx="1806.2" cy="1474.3" r="7.25"/><circle cx="1816.2" cy="1480.4" r="7.25"/><circle cx="1780.2" cy="1483.1" r="7.25"/><circle cx="1804.2" cy="1483.1" r="7.25"/><circle cx="1787.5" cy="1486.5" r="7.25"/><circle cx="1773.2" cy="1468.9" r="7.25"/><circle cx="1813.2" cy="1470.9" r="7.25"/><circle cx="1785.2" cy="1480.4" r="7.25"/><circle cx="1798.2" cy="1484.5" r="7.25"/><circle cx="1811.2" cy="1487.2" r="7.25"/><circle cx="1771.2" cy="1485.8" r="7.25"/></g>
<text x="1236.8" y="1806.6" font-size="25" text-anchor="end">10</text>
<text x="1239.5" y="1797.7" font-size="14" fill="#444">4</text>
<text x="1236.8" y="1752.1" font-size="25" text-anchor="end">10</text>
<text x="1239.5" y="1743.2" font-size="14" fill="#444">5</text>
<text x="1236.8" y="1697.6" font-size="25" text-anchor="end">10</text>
<text x="1239.5" y="1688.7" font-size="14" fill="#444">6</text>
<text x="1236.8" y="1643.2" font-size="25" text-anchor="end">10</text>
<text x="1239.5" y="1634.3" font-size="14" fill="#444">7</text>
<text x="1236.8" y="1588.7" font-size="25" text-anchor="end">10</text>
<text x="1239.5" y="1579.8" font-size="14" fill="#444">8</text>
<text x="1236.8" y="1534.2" font-size="25" text-anchor="end">10</text>
<text x="1239.5" y="1525.3" font-size="14" fill="#444">9</text>
<path d="M1261.8 1524.8V1798.2M1252.8 1797.2H1476.9M1322.5 1797.2v11M1413.8 1797.2v11M1251.8 1797.2H1261.8M1251.8 1742.7H1261.8M1251.8 1688.2H1261.8M1251.8 1633.8H1261.8M1251.8 1579.3H1261.8M1251.8 1524.8H1261.8" stroke="#111" stroke-width="2.5" fill="none"/>
<path d="M1255.8 1780.8H1261.8M1255.8 1771.2H1261.8M1255.8 1764.4H1261.8M1255.8 1759.1H1261.8M1255.8 1754.8H1261.8M1255.8 1751.2H1261.8M1255.8 1748H1261.8M1255.8 1745.2H1261.8M1255.8 1726.3H1261.8M1255.8 1716.7H1261.8M1255.8 1709.9H1261.8M1255.8 1704.6H1261.8M1255.8 1700.3H1261.8M1255.8 1696.7H1261.8M1255.8 1693.5H1261.8M1255.8 1690.7H1261.8M1255.8 1671.8H1261.8M1255.8 1662.2H1261.8M1255.8 1655.4H1261.8M1255.8 1650.2H1261.8M1255.8 1645.8H1261.8M1255.8 1642.2H1261.8M1255.8 1639H1261.8M1255.8 1636.3H1261.8M1255.8 1617.4H1261.8M1255.8 1607.8H1261.8M1255.8 1601H1261.8M1255.8 1595.7H1261.8M1255.8 1591.4H1261.8M1255.8 1587.7H1261.8M1255.8 1584.6H1261.8M1255.8 1581.8H1261.8M1255.8 1562.9H1261.8M1255.8 1553.3H1261.8M1255.8 1546.5H1261.8M1255.8 1541.2H1261.8M1255.8 1536.9H1261.8M1255.8 1533.2H1261.8M1255.8 1530.1H1261.8M1255.8 1527.3H1261.8" stroke="#111" stroke-width="1.7" fill="none"/>
<text transform="translate(1162,1656.5) rotate(-90)" font-size="26" text-anchor="middle" textLength="190.9" lengthAdjust="spacingAndGlyphs">IFNγ<tspan dy="-9" font-size="15">+</tspan><tspan dy="9"> of CD8 [#]</tspan></text>
<path d="M1318 1552.8V1541.3H1411.3V1552.8" fill="none" stroke="#3a3a3a" stroke-width="1.7"/>
<text x="1364" y="1533.1" font-size="28.5" text-anchor="middle" >n.s.</text>
<path d="M1290.5 1701.9h64M1322.5 1729.6V1685M1305.5 1729.6h34M1305.5 1685h34" stroke="#111" stroke-width="2.2" fill="none"/>
<path d="M1381.8 1692.1h64M1413.8 1730.7V1671.9M1396.8 1730.7h34M1396.8 1671.9h34" stroke="#111" stroke-width="2.2" fill="none"/>
<g fill="#e93340" stroke="#160c0c" stroke-width="2.3"><circle cx="1323" cy="1667" r="7.25"/><circle cx="1310.5" cy="1688.8" r="7.25"/><circle cx="1333.5" cy="1691" r="7.25"/><circle cx="1298.5" cy="1702.9" r="7.25"/><circle cx="1346.5" cy="1701.9" r="7.25"/><circle cx="1310.5" cy="1700.8" r="7.25"/><circle cx="1323" cy="1710" r="7.25"/><circle cx="1310.5" cy="1720.9" r="7.25"/><circle cx="1346.5" cy="1720.9" r="7.25"/><circle cx="1323" cy="1729.1" r="7.25"/><circle cx="1333.5" cy="1732.9" r="7.25"/><circle cx="1310.5" cy="1742.7" r="7.25"/></g>
<g fill="#232323" stroke="#1d1d1d" stroke-width="2.3"><circle cx="1402.8" cy="1669.2" r="7.25"/><circle cx="1424.3" cy="1668.1" r="7.25"/><circle cx="1390.8" cy="1681.2" r="7.25"/><circle cx="1436.3" cy="1680.1" r="7.25"/><circle cx="1413.8" cy="1683.3" r="7.25"/><circle cx="1402.8" cy="1695.3" r="7.25"/><circle cx="1426.8" cy="1694.2" r="7.25"/><circle cx="1390.8" cy="1721.5" r="7.25"/><circle cx="1413.8" cy="1721.5" r="7.25"/><circle cx="1436.3" cy="1719.8" r="7.25"/><circle cx="1413.8" cy="1738.9" r="7.25"/><circle cx="1413.8" cy="1756.3" r="7.25"/><circle cx="1405.2" cy="1734" r="7.25"/><circle cx="1406.2" cy="1696.2" r="7.25"/><circle cx="1439.8" cy="1722.6" r="7.25"/><circle cx="1417.6" cy="1718.5" r="7.25"/><circle cx="1426.1" cy="1698.9" r="7.25"/></g>
<text transform="translate(1330.5,1829.2) rotate(-47)" font-size="27" text-anchor="end" textLength="121" lengthAdjust="spacingAndGlyphs">IFN<tspan font-size="21" font-style="italic" dy="2">γ</tspan><tspan font-size="19" dy="-13">ΔKRKR</tspan></text>
<text transform="translate(1421.8,1829.2) rotate(-47)" font-size="27" text-anchor="end" textLength="73" lengthAdjust="spacingAndGlyphs">IFN<tspan font-size="21" font-style="italic" dy="2">γ</tspan><tspan font-size="19" dy="-13">wt</tspan></text>
<text x="1614.3" y="1803.3" font-size="25" text-anchor="end">10</text>
<text x="1617" y="1794.4" font-size="14" fill="#444">4</text>
<text x="1614.3" y="1749" font-size="25" text-anchor="end">10</text>
<text x="1617" y="1740.1" font-size="14" fill="#444">5</text>
<text x="1614.3" y="1694.7" font-size="25" text-anchor="end">10</text>
<text x="1617" y="1685.8" font-size="14" fill="#444">6</text>
<text x="1614.3" y="1640.5" font-size="25" text-anchor="end">10</text>
<text x="1617" y="1631.6" font-size="14" fill="#444">7</text>
<text x="1614.3" y="1586.2" font-size="25" text-anchor="end">10</text>
<text x="1617" y="1577.3" font-size="14" fill="#444">8</text>
<text x="1614.3" y="1531.9" font-size="25" text-anchor="end">10</text>
<text x="1617" y="1523" font-size="14" fill="#444">9</text>
<path d="M1639.3 1522.5V1794.9M1630.3 1793.9H1854.4M1700.5 1793.9v11M1792.2 1793.9v11M1629.3 1793.9H1639.3M1629.3 1739.6H1639.3M1629.3 1685.3H1639.3M1629.3 1631.1H1639.3M1629.3 1576.8H1639.3M1629.3 1522.5H1639.3" stroke="#111" stroke-width="2.5" fill="none"/>
<path d="M1633.3 1777.6H1639.3M1633.3 1768H1639.3M1633.3 1761.2H1639.3M1633.3 1756H1639.3M1633.3 1751.7H1639.3M1633.3 1748H1639.3M1633.3 1744.9H1639.3M1633.3 1742.1H1639.3M1633.3 1723.3H1639.3M1633.3 1713.7H1639.3M1633.3 1706.9H1639.3M1633.3 1701.7H1639.3M1633.3 1697.4H1639.3M1633.3 1693.7H1639.3M1633.3 1690.6H1639.3M1633.3 1687.8H1639.3M1633.3 1669H1639.3M1633.3 1659.4H1639.3M1633.3 1652.7H1639.3M1633.3 1647.4H1639.3M1633.3 1643.1H1639.3M1633.3 1639.5H1639.3M1633.3 1636.3H1639.3M1633.3 1633.5H1639.3M1633.3 1614.7H1639.3M1633.3 1605.2H1639.3M1633.3 1598.4H1639.3M1633.3 1593.1H1639.3M1633.3 1588.8H1639.3M1633.3 1585.2H1639.3M1633.3 1582H1639.3M1633.3 1579.3H1639.3M1633.3 1560.4H1639.3M1633.3 1550.9H1639.3M1633.3 1544.1H1639.3M1633.3 1538.8H1639.3M1633.3 1534.5H1639.3M1633.3 1530.9H1639.3M1633.3 1527.8H1639.3M1633.3 1525H1639.3" stroke="#111" stroke-width="1.7" fill="none"/>
<text transform="translate(1540,1652.9) rotate(-90)" font-size="26" text-anchor="middle" textLength="193.2" lengthAdjust="spacingAndGlyphs">IFNγ<tspan dy="-9" font-size="15">+</tspan><tspan dy="9"> of CD8 [#]</tspan></text>
<path d="M1703.2 1552.8V1541.3H1796.3V1552.8" fill="none" stroke="#3a3a3a" stroke-width="1.7"/>
<text x="1749" y="1533.1" font-size="28.5" text-anchor="middle" >n.s.</text>
<path d="M1668.5 1710.3h64M1700.5 1732.6V1698.9M1683.5 1732.6h34M1683.5 1698.9h34" stroke="#111" stroke-width="2.2" fill="none"/>
<path d="M1760.2 1700h64M1792.2 1723.3V1681M1775.2 1723.3h34M1775.2 1681h34" stroke="#111" stroke-width="2.2" fill="none"/>
<g fill="#e93340" stroke="#160c0c" stroke-width="2.3"><circle cx="1700.5" cy="1683.7" r="7.25"/><circle cx="1677.5" cy="1690.8" r="7.25"/><circle cx="1688.5" cy="1694" r="7.25"/><circle cx="1712.5" cy="1692.4" r="7.25"/><circle cx="1723.9" cy="1700.5" r="7.25"/><circle cx="1677.5" cy="1709.8" r="7.25"/><circle cx="1700.5" cy="1709.8" r="7.25"/><circle cx="1711" cy="1714.7" r="7.25"/><circle cx="1689.5" cy="1709.8" r="7.25"/><circle cx="1712.5" cy="1730.4" r="7.25"/><circle cx="1688.5" cy="1742.3" r="7.25"/></g>
<g fill="#232323" stroke="#1d1d1d" stroke-width="2.3"><circle cx="1791.2" cy="1660.4" r="7.25"/><circle cx="1767.4" cy="1684.3" r="7.25"/><circle cx="1813.7" cy="1690.2" r="7.25"/><circle cx="1780.2" cy="1701.6" r="7.25"/><circle cx="1801.8" cy="1696.7" r="7.25"/><circle cx="1767.4" cy="1713" r="7.25"/><circle cx="1792.2" cy="1710.9" r="7.25"/><circle cx="1813.7" cy="1715.2" r="7.25"/><circle cx="1780.2" cy="1729.3" r="7.25"/><circle cx="1801.8" cy="1727.1" r="7.25"/><circle cx="1780.2" cy="1746.1" r="7.25"/><circle cx="1792.2" cy="1749.4" r="7.25"/><circle cx="1790.8" cy="1764" r="7.25"/><circle cx="1806" cy="1701" r="7.25"/><circle cx="1795.1" cy="1706" r="7.25"/><circle cx="1769.8" cy="1713.8" r="7.25"/><circle cx="1809.5" cy="1692.3" r="7.25"/></g>
<text transform="translate(1708.5,1825.9) rotate(-47)" font-size="27" text-anchor="end" textLength="121" lengthAdjust="spacingAndGlyphs">IFN<tspan font-size="21" font-style="italic" dy="2">γ</tspan><tspan font-size="19" dy="-13">ΔKRKR</tspan></text>
<text transform="translate(1800.2,1825.9) rotate(-47)" font-size="27" text-anchor="end" textLength="73" lengthAdjust="spacingAndGlyphs">IFN<tspan font-size="21" font-style="italic" dy="2">γ</tspan><tspan font-size="19" dy="-13">wt</tspan></text>
<text x="1257.4" y="2274.2" font-size="25" text-anchor="end">0</text>
<text x="1257.4" y="2219.8" font-size="25" text-anchor="end">20</text>
<text x="1257.4" y="2165.4" font-size="25" text-anchor="end">40</text>
<text x="1257.4" y="2110.9" font-size="25" text-anchor="end">60</text>
<text x="1257.4" y="2056.5" font-size="25" text-anchor="end">80</text>
<text x="1257.4" y="2002.1" font-size="25" text-anchor="end">100</text>
<path d="M1269.4 1993.6V2266.7M1260.4 2265.7H1484M1329.3 2265.7v11M1421.7 2265.7v11M1260.4 2265.7H1269.4M1260.4 2211.3H1269.4M1260.4 2156.9H1269.4M1260.4 2102.4H1269.4M1260.4 2048H1269.4M1260.4 1993.6H1269.4" stroke="#111" stroke-width="2.5" fill="none"/>
<text transform="translate(1169,2125.3) rotate(-90)" font-size="26" text-anchor="middle" textLength="310.1" lengthAdjust="spacingAndGlyphs">CD62L<tspan dy="-9" font-size="15">-</tspan><tspan dy="9"> CD44<tspan dy="-9" font-size="15">+</tspan><tspan dy="9"> of CD8 [%]</tspan></tspan></text>
<text x="1377.9" y="1949" font-size="29" text-anchor="middle" textLength="191.7" lengthAdjust="spacingAndGlyphs">T<tspan font-size="22" dy="5">em</tspan><tspan dy="-5"> phenotype</tspan></text>
<path d="M1329.1 1988.5V1978.9H1422.7V1988.5" fill="none" stroke="#3a3a3a" stroke-width="1.7"/>
<text x="1376.7" y="1977" font-size="28" text-anchor="middle" >**</text>
<path d="M1297.3 2041.8h64M1329.3 2050.7V2034.4M1312.3 2050.7h34M1312.3 2034.4h34" stroke="#111" stroke-width="2.2" fill="none"/>
<path d="M1389.7 2060.8h64M1421.7 2080.7V2043.9M1404.7 2080.7h34M1404.7 2043.9h34" stroke="#111" stroke-width="2.2" fill="none"/>
<g fill="#e93340" stroke="#160c0c" stroke-width="2.3"><circle cx="1307" cy="2029.5" r="7.25"/><circle cx="1330" cy="2029.5" r="7.25"/><circle cx="1337.9" cy="2031.1" r="7.25"/><circle cx="1314.6" cy="2041.5" r="7.25"/><circle cx="1323.1" cy="2040.4" r="7.25"/><circle cx="1345.4" cy="2040.4" r="7.25"/><circle cx="1353.9" cy="2041.5" r="7.25"/><circle cx="1330" cy="2051.8" r="7.25"/><circle cx="1337.9" cy="2049.7" r="7.25"/><circle cx="1314.6" cy="2058.6" r="7.25"/><circle cx="1345.4" cy="2059.7" r="7.25"/></g>
<g fill="#232323" stroke="#1d1d1d" stroke-width="2.3"><circle cx="1422.4" cy="2026.3" r="7.25"/><circle cx="1407" cy="2041.5" r="7.25"/><circle cx="1398.7" cy="2047.5" r="7.25"/><circle cx="1430.9" cy="2048.3" r="7.25"/><circle cx="1446.3" cy="2057" r="7.25"/><circle cx="1398.7" cy="2062.2" r="7.25"/><circle cx="1413.8" cy="2063.8" r="7.25"/><circle cx="1430.9" cy="2063.8" r="7.25"/><circle cx="1413.8" cy="2079" r="7.25"/><circle cx="1430.9" cy="2079" r="7.25"/><circle cx="1413.8" cy="2094.5" r="7.25"/><circle cx="1429.2" cy="2094.5" r="7.25"/><circle cx="1405" cy="2060.1" r="7.25"/><circle cx="1426.6" cy="2080.4" r="7.25"/><circle cx="1443.6" cy="2053.9" r="7.25"/><circle cx="1398" cy="2044" r="7.25"/><circle cx="1431.7" cy="2051" r="7.25"/></g>
<text x="1245" y="2594.2" font-size="25" text-anchor="end">10</text>
<text x="1247.7" y="2585.3" font-size="14" fill="#444">4</text>
<text x="1245" y="2540" font-size="25" text-anchor="end">10</text>
<text x="1247.7" y="2531.1" font-size="14" fill="#444">5</text>
<text x="1245" y="2485.7" font-size="25" text-anchor="end">10</text>
<text x="1247.7" y="2476.8" font-size="14" fill="#444">6</text>
<text x="1245" y="2431.5" font-size="25" text-anchor="end">10</text>
<text x="1247.7" y="2422.6" font-size="14" fill="#444">7</text>
<text x="1245" y="2377.2" font-size="25" text-anchor="end">10</text>
<text x="1247.7" y="2368.3" font-size="14" fill="#444">8</text>
<text x="1245" y="2323" font-size="25" text-anchor="end">10</text>
<text x="1247.7" y="2314.1" font-size="14" fill="#444">9</text>
<path d="M1270 2313.6V2585.8M1261 2584.8H1487.4M1332.7 2584.8v11M1423.1 2584.8v11M1260 2584.8H1270M1260 2530.6H1270M1260 2476.3H1270M1260 2422.1H1270M1260 2367.8H1270M1260 2313.6H1270" stroke="#111" stroke-width="2.5" fill="none"/>
<path d="M1264 2568.5H1270M1264 2558.9H1270M1264 2552.1H1270M1264 2546.9H1270M1264 2542.6H1270M1264 2539H1270M1264 2535.8H1270M1264 2533H1270M1264 2514.2H1270M1264 2504.7H1270M1264 2497.9H1270M1264 2492.6H1270M1264 2488.4H1270M1264 2484.7H1270M1264 2481.6H1270M1264 2478.8H1270M1264 2460H1270M1264 2450.4H1270M1264 2443.7H1270M1264 2438.4H1270M1264 2434.1H1270M1264 2430.5H1270M1264 2427.3H1270M1264 2424.6H1270M1264 2405.8H1270M1264 2396.2H1270M1264 2389.4H1270M1264 2384.2H1270M1264 2379.9H1270M1264 2376.2H1270M1264 2373.1H1270M1264 2370.3H1270M1264 2351.5H1270M1264 2342H1270M1264 2335.2H1270M1264 2329.9H1270M1264 2325.6H1270M1264 2322H1270M1264 2318.9H1270M1264 2316.1H1270" stroke="#111" stroke-width="1.7" fill="none"/>
<text transform="translate(1167,2443.7) rotate(-90)" font-size="26" text-anchor="middle" textLength="303.3" lengthAdjust="spacingAndGlyphs">CD62L<tspan dy="-9" font-size="15">-</tspan><tspan dy="9"> CD44<tspan dy="-9" font-size="15">+</tspan><tspan dy="9"> of CD8 [#]</tspan></tspan></text>
<path d="M1335.3 2331.7V2320.6H1430V2331.7" fill="none" stroke="#3a3a3a" stroke-width="1.7"/>
<text x="1383.3" y="2311.8" font-size="28" text-anchor="middle" >*</text>
<path d="M1300.7 2438.4h64M1332.7 2488.3V2424.8M1315.7 2488.3h34M1315.7 2424.8h34" stroke="#111" stroke-width="2.2" fill="none"/>
<path d="M1391.1 2425.9h64M1423.1 2443.8V2422.1M1406.1 2443.8h34M1406.1 2422.1h34" stroke="#111" stroke-width="2.2" fill="none"/>
<g fill="#e93340" stroke="#160c0c" stroke-width="2.3"><circle cx="1332.7" cy="2410.7" r="7.25"/><circle cx="1307.7" cy="2437.8" r="7.25"/><circle cx="1323.8" cy="2436.2" r="7.25"/><circle cx="1355.7" cy="2436.2" r="7.25"/><circle cx="1314.7" cy="2447" r="7.25"/><circle cx="1331.7" cy="2445.4" r="7.25"/><circle cx="1347.1" cy="2449.7" r="7.25"/><circle cx="1323.8" cy="2454.6" r="7.25"/><circle cx="1339.5" cy="2463.8" r="7.25"/><circle cx="1323.8" cy="2472" r="7.25"/></g>
<g fill="#232323" stroke="#1d1d1d" stroke-width="2.3"><circle cx="1400.1" cy="2413.4" r="7.25"/><circle cx="1413.9" cy="2418.3" r="7.25"/><circle cx="1427.6" cy="2416.7" r="7.25"/><circle cx="1441.1" cy="2413.4" r="7.25"/><circle cx="1449.8" cy="2424.2" r="7.25"/><circle cx="1407.1" cy="2421.5" r="7.25"/><circle cx="1420.7" cy="2425.9" r="7.25"/><circle cx="1434.1" cy="2423.2" r="7.25"/><circle cx="1420.7" cy="2443.8" r="7.25"/><circle cx="1427.6" cy="2450.8" r="7.25"/><circle cx="1429.1" cy="2459" r="7.25"/><circle cx="1417.3" cy="2467.6" r="7.25"/><circle cx="1432.2" cy="2456.8" r="7.25"/><circle cx="1436.5" cy="2446.5" r="7.25"/><circle cx="1428.6" cy="2422.6" r="7.25"/><circle cx="1449.1" cy="2429.6" r="7.25"/><circle cx="1429.7" cy="2414" r="7.25"/></g>
<text transform="translate(1340.7,2616.8) rotate(-47)" font-size="27" text-anchor="end" textLength="121" lengthAdjust="spacingAndGlyphs">IFN<tspan font-size="21" font-style="italic" dy="2">γ</tspan><tspan font-size="19" dy="-13">ΔKRKR</tspan></text>
<text transform="translate(1431.1,2616.8) rotate(-47)" font-size="27" text-anchor="end" textLength="73" lengthAdjust="spacingAndGlyphs">IFN<tspan font-size="21" font-style="italic" dy="2">γ</tspan><tspan font-size="19" dy="-13">wt</tspan></text>
<path d="M567 217h0m2 0h0m2 0h0m2 0h0m2 0h0m-10 2h0m2 0h0m2 0h0m2 0h0m2 0h0m2 0h0m2 0h0m2 0h0m-16 2h0m2 0h0m2 0h0m2 0h0m2 0h0m2 0h0m2 0h0m2 0h0m2 0h0m2 0h0m-20 2h0m2 0h0m2 0h0m2 0h0m2 0h0m2 0h0m2 0h0m2 0h0m2 0h0m2 0h0m2 0h0m-22 2h0m2 0h0m2 0h0m2 0h0m2 0h0m2 0h0m2 0h0m2 0h0m2 0h0m2 0h0m2 0h0m2 0h0m-24 2h0m2 0h0m2 0h0m2 0h0m2 0h0m2 0h0m10 0h0m2 0h0m2 0h0m-24 2h0m2 0h0m2 0h0m2 0h0m16 0h0m2 0h0m2 0h0m-28 2h0m2 0h0m2 0h0m2 0h0m18 0h0m2 0h0m2 0h0m2 0h0m-30 2h0m2 0h0m2 0h0m24 0h0m2 0h0m2 0h0m2 0h0m-34 2h0m2 0h0m2 0h0m26 0h0m2 0h0m2 0h0m2 0h0m2 0h0m-40 2h0m2 0h0m2 0h0m30 0h0m2 0h0m2 0h0m2 0h0m2 0h0m-42 2h0m2 0h0m2 0h0m30 0h0m2 0h0m2 0h0m2 0h0m2 0h0m-44 2h0m2 0h0m2 0h0m34 0h0m2 0h0m2 0h0m2 0h0m-44 2h0m2 0h0m2 0h0m34 0h0m2 0h0m2 0h0m2 0h0m-46 2h0m2 0h0m2 0h0m36 0h0m2 0h0m2 0h0m2 0h0m18 0h0m2 0h0m2 0h0m-68 2h0m2 0h0m2 0h0m36 0h0m2 0h0m2 0h0m2 0h0m14 0h0m2 0h0m2 0h0m2 0h0m2 0h0m2 0h0m2 0h0m2 0h0m2 0h0m-76 2h0m2 0h0m2 0h0m36 0h0m2 0h0m2 0h0m2 0h0m10 0h0m2 0h0m2 0h0m2 0h0m2 0h0m2 0h0m2 0h0m2 0h0m2 0h0m2 0h0m2 0h0m2 0h0m-78 2h0m2 0h0m38 0h0m2 0h0m2 0h0m2 0h0m2 0h0m2 0h0m2 0h0m2 0h0m2 0h0m2 0h0m2 0h0m2 0h0m2 0h0m2 0h0m2 0h0m2 0h0m2 0h0m2 0h0m2 0h0m2 0h0m-78 2h0m2 0h0m38 0h0m2 0h0m2 0h0m2 0h0m2 0h0m2 0h0m2 0h0m2 0h0m2 0h0m2 0h0m2 0h0m2 0h0m2 0h0m2 0h0m2 0h0m2 0h0m2 0h0m2 0h0m2 0h0m2 0h0m2 0h0m-80 2h0m2 0h0m38 0h0m2 0h0m2 0h0m2 0h0m2 0h0m2 0h0m2 0h0m2 0h0m2 0h0m2 0h0m2 0h0m2 0h0m2 0h0m2 0h0m2 0h0m2 0h0m2 0h0m2 0h0m2 0h0m2 0h0m2 0h0m-80 2h0m2 0h0m40 0h0m2 0h0m2 0h0m2 0h0m2 0h0m2 0h0m2 0h0m2 0h0m2 0h0m2 0h0m2 0h0m2 0h0m2 0h0m2 0h0m2 0h0m2 0h0m2 0h0m2 0h0m2 0h0m2 0h0m2 0h0m-82 2h0m2 0h0m40 0h0m2 0h0m2 0h0m2 0h0m2 0h0m2 0h0m2 0h0m2 0h0m2 0h0m2 0h0m2 0h0m2 0h0m2 0h0m2 0h0m2 0h0m2 0h0m2 0h0m2 0h0m2 0h0m2 0h0m2 0h0m-80 2h0m40 0h0m2 0h0m2 0h0m2 0h0m2 0h0m2 0h0m2 0h0m2 0h0m2 0h0m2 0h0m2 0h0m2 0h0m2 0h0m2 0h0m2 0h0m2 0h0m2 0h0m2 0h0m2 0h0m2 0h0m2 0h0m-80 2h0m38 0h0m2 0h0m2 0h0m2 0h0m2 0h0m2 0h0m2 0h0m2 0h0m2 0h0m2 0h0m2 0h0m2 0h0m2 0h0m2 0h0m2 0h0m2 0h0m2 0h0m2 0h0m2 0h0m2 0h0m2 0h0m2 0h0m-80 2h0m38 0h0m2 0h0m2 0h0m2 0h0m2 0h0m2 0h0m2 0h0m2 0h0m2 0h0m2 0h0m2 0h0m2 0h0m2 0h0m2 0h0m2 0h0m2 0h0m2 0h0m2 0h0m2 0h0m2 0h0m2 0h0m2 0h0m-82 2h0m2 0h0m38 0h0m2 0h0m2 0h0m2 0h0m2 0h0m2 0h0m2 0h0m2 0h0m2 0h0m2 0h0m2 0h0m2 0h0m2 0h0m2 0h0m2 0h0m2 0h0m2 0h0m2 0h0m2 0h0m2 0h0m2 0h0m2 0h0m-82 2h0m2 0h0m38 0h0m2 0h0m2 0h0m2 0h0m2 0h0m2 0h0m2 0h0m2 0h0m2 0h0m2 0h0m2 0h0m4 0h0m2 0h0m2 0h0m2 0h0m2 0h0m2 0h0m2 0h0m2 0h0m2 0h0m2 0h0m-82 2h0m2 0h0m38 0h0m2 0h0m2 0h0m2 0h0m2 0h0m2 0h0m2 0h0m2 0h0m2 0h0m2 0h0m2 0h0m6 0h0m2 0h0m2 0h0m2 0h0m2 0h0m2 0h0m2 0h0m2 0h0m2 0h0m-80 2h0m2 0h0m36 0h0m2 0h0m2 0h0m2 0h0m2 0h0m2 0h0m2 0h0m2 0h0m2 0h0m2 0h0m8 0h0m2 0h0m2 0h0m2 0h0m2 0h0m2 0h0m2 0h0m2 0h0m2 0h0m-80 2h0m2 0h0m2 0h0m34 0h0m2 0h0m2 0h0m2 0h0m2 0h0m2 0h0m2 0h0m2 0h0m2 0h0m2 0h0m2 0h0m6 0h0m2 0h0m2 0h0m2 0h0m2 0h0m2 0h0m2 0h0m2 0h0m2 0h0m-78 2h0m2 0h0m34 0h0m2 0h0m2 0h0m2 0h0m2 0h0m2 0h0m2 0h0m2 0h0m2 0h0m2 0h0m2 0h0m4 0h0m2 0h0m2 0h0m2 0h0m2 0h0m2 0h0m2 0h0m2 0h0m2 0h0m2 0h0m-76 2h0m2 0h0m34 0h0m2 0h0m2 0h0m2 0h0m2 0h0m2 0h0m2 0h0m2 0h0m2 0h0m2 0h0m2 0h0m2 0h0m2 0h0m2 0h0m2 0h0m2 0h0m2 0h0m2 0h0m2 0h0m2 0h0m2 0h0m-76 2h0m2 0h0m2 0h0m32 0h0m2 0h0m2 0h0m2 0h0m2 0h0m2 0h0m2 0h0m2 0h0m2 0h0m2 0h0m2 0h0m2 0h0m2 0h0m2 0h0m2 0h0m2 0h0m2 0h0m2 0h0m2 0h0m2 0h0m2 0h0m-74 2h0m2 0h0m2 0h0m32 0h0m2 0h0m2 0h0m2 0h0m2 0h0m2 0h0m2 0h0m2 0h0m2 0h0m2 0h0m2 0h0m2 0h0m2 0h0m2 0h0m2 0h0m2 0h0m2 0h0m2 0h0m2 0h0m-70 2h0m2 0h0m2 0h0m30 0h0m2 0h0m2 0h0m2 0h0m2 0h0m2 0h0m2 0h0m2 0h0m2 0h0m2 0h0m2 0h0m2 0h0m2 0h0m2 0h0m2 0h0m2 0h0m2 0h0m2 0h0m2 0h0m-68 2h0m2 0h0m2 0h0m2 0h0m2 0h0m2 0h0m2 0h0m22 0h0m2 0h0m2 0h0m2 0h0m2 0h0m2 0h0m2 0h0m2 0h0m2 0h0m2 0h0m2 0h0m2 0h0m2 0h0m2 0h0m2 0h0m2 0h0m2 0h0m-64 2h0m2 0h0m2 0h0m2 0h0m2 0h0m2 0h0m2 0h0m22 0h0m2 0h0m2 0h0m2 0h0m2 0h0m2 0h0m2 0h0m2 0h0m2 0h0m2 0h0m2 0h0m2 0h0m2 0h0m2 0h0m2 0h0m2 0h0m-60 2h0m2 0h0m2 0h0m2 0h0m2 0h0m2 0h0m20 0h0m2 0h0m2 0h0m2 0h0m2 0h0m2 0h0m2 0h0m2 0h0m2 0h0m2 0h0m2 0h0m2 0h0m2 0h0m2 0h0m2 0h0m2 0h0m-56 2h0m2 0h0m2 0h0m2 0h0m18 0h0m2 0h0m2 0h0m2 0h0m2 0h0m2 0h0m2 0h0m2 0h0m2 0h0m2 0h0m2 0h0m2 0h0m2 0h0m2 0h0m2 0h0m2 0h0m-54 2h0m2 0h0m2 0h0m2 0h0m2 0h0m2 0h0m12 0h0m2 0h0m2 0h0m2 0h0m2 0h0m2 0h0m2 0h0m2 0h0m2 0h0m2 0h0m2 0h0m2 0h0m2 0h0m2 0h0m2 0h0m2 0h0m-50 2h0m2 0h0m2 0h0m2 0h0m2 0h0m2 0h0m2 0h0m2 0h0m2 0h0m2 0h0m2 0h0m2 0h0m2 0h0m2 0h0m2 0h0m2 0h0m2 0h0m2 0h0m2 0h0m2 0h0m2 0h0m2 0h0m2 0h0m2 0h0m2 0h0m-48 2h0m2 0h0m2 0h0m2 0h0m2 0h0m2 0h0m2 0h0m2 0h0m2 0h0m2 0h0m2 0h0m2 0h0m2 0h0m2 0h0m2 0h0m2 0h0m2 0h0m2 0h0m2 0h0m2 0h0m2 0h0m2 0h0m2 0h0m-42 2h0m2 0h0m2 0h0m2 0h0m2 0h0m2 0h0m2 0h0m2 0h0m2 0h0m2 0h0m2 0h0m2 0h0m2 0h0m2 0h0m2 0h0m2 0h0m2 0h0m2 0h0m2 0h0m2 0h0m-34 2h0m2 0h0m2 0h0m2 0h0m2 0h0m2 0h0m2 0h0m2 0h0m2 0h0m8 0h0m2 0h0m2 0h0m2 0h0m-26 2h0m2 0h0m2 0h0m2 0h0m2 0h0m2 0h0m-8 2h0m2 0h0m2 0h0m2 0h0" stroke="#e2f3fa" stroke-width="2.2" stroke-linecap="square" fill="none"/>
<path d="M569 227h0m2 0h0m2 0h0m2 0h0m-10 2h0m2 0h0m2 0h0m2 0h0m2 0h0m2 0h0m2 0h0m-14 2h0m2 0h0m2 0h0m2 0h0m2 0h0m2 0h0m2 0h0m2 0h0m-16 2h0m2 0h0m2 0h0m2 0h0m2 0h0m2 0h0m2 0h0m2 0h0m2 0h0m2 0h0m2 0h0m-20 2h0m2 0h0m2 0h0m10 0h0m2 0h0m2 0h0m2 0h0m2 0h0m-24 2h0m2 0h0m2 0h0m16 0h0m2 0h0m2 0h0m2 0h0m-26 2h0m2 0h0m20 0h0m2 0h0m2 0h0m-28 2h0m2 0h0m24 0h0m2 0h0m2 0h0m-30 2h0m2 0h0m24 0h0m2 0h0m2 0h0m-32 2h0m2 0h0m26 0h0m2 0h0m2 0h0m-32 2h0m2 0h0m26 0h0m2 0h0m2 0h0m-32 2h0m2 0h0m26 0h0m2 0h0m2 0h0m-34 2h0m2 0h0m28 0h0m2 0h0m2 0h0m-34 2h0m2 0h0m28 0h0m2 0h0m2 0h0m-34 2h0m2 0h0m28 0h0m2 0h0m2 0h0m-34 2h0m2 0h0m28 0h0m2 0h0m2 0h0m2 0h0m-36 2h0m2 0h0m28 0h0m2 0h0m2 0h0m2 0h0m-36 2h0m2 0h0m28 0h0m2 0h0m2 0h0m2 0h0m-36 2h0m2 0h0m28 0h0m2 0h0m2 0h0m-34 2h0m2 0h0m28 0h0m2 0h0m2 0h0m-34 2h0m2 0h0m28 0h0m2 0h0m2 0h0m-34 2h0m2 0h0m28 0h0m2 0h0m2 0h0m24 0h0m-58 2h0m2 0h0m2 0h0m26 0h0m2 0h0m2 0h0m24 0h0m2 0h0m-58 2h0m2 0h0m24 0h0m2 0h0m2 0h0m2 0h0m22 0h0m2 0h0m2 0h0m-56 2h0m2 0h0m22 0h0m2 0h0m2 0h0m2 0h0m24 0h0m2 0h0m-56 2h0m2 0h0m2 0h0m20 0h0m2 0h0m2 0h0m2 0h0m24 0h0m-52 2h0m2 0h0m2 0h0m18 0h0m2 0h0m2 0h0m2 0h0m2 0h0m-28 2h0m2 0h0m2 0h0m2 0h0m10 0h0m2 0h0m2 0h0m2 0h0m2 0h0m2 0h0m2 0h0m-26 2h0m2 0h0m2 0h0m2 0h0m2 0h0m2 0h0m2 0h0m2 0h0m2 0h0m2 0h0m2 0h0m2 0h0m2 0h0m2 0h0m2 0h0m-26 2h0m2 0h0m2 0h0m2 0h0m2 0h0m2 0h0m2 0h0m2 0h0m2 0h0m2 0h0m2 0h0m2 0h0m2 0h0m2 0h0m-16 2h0m2 0h0m2 0h0m2 0h0m2 0h0m2 0h0m2 0h0m2 0h0m2 0h0m2 0h0m-16 2h0m2 0h0m2 0h0m2 0h0m2 0h0m2 0h0m2 0h0m2 0h0m2 0h0m2 0h0m-16 2h0m2 0h0m2 0h0m2 0h0m2 0h0m2 0h0m2 0h0m2 0h0m2 0h0m-16 2h0m2 0h0m2 0h0m2 0h0m2 0h0m2 0h0m2 0h0m2 0h0m-10 2h0m2 0h0m2 0h0m2 0h0m2 0h0" stroke="#cdeef0" stroke-width="2.2" stroke-linecap="square" fill="none"/>
<path d="M567 235h0m2 0h0m2 0h0m2 0h0m-8 2h0m2 0h0m2 0h0m2 0h0m2 0h0m2 0h0m2 0h0m-14 2h0m2 0h0m2 0h0m2 0h0m2 0h0m2 0h0m2 0h0m2 0h0m2 0h0m-18 2h0m2 0h0m2 0h0m2 0h0m4 0h0m2 0h0m2 0h0m2 0h0m2 0h0m2 0h0m-20 2h0m2 0h0m10 0h0m2 0h0m2 0h0m2 0h0m2 0h0m-22 2h0m2 0h0m14 0h0m2 0h0m2 0h0m2 0h0m-22 2h0m18 0h0m2 0h0m2 0h0m-22 2h0m20 0h0m2 0h0m-24 2h0m2 0h0m20 0h0m2 0h0m-24 2h0m2 0h0m22 0h0m-24 2h0m2 0h0m22 0h0m-24 2h0m2 0h0m22 0h0m-24 2h0m2 0h0m22 0h0m-24 2h0m2 0h0m22 0h0m-24 2h0m24 0h0m-24 2h0m24 0h0m-24 2h0m2 0h0m20 0h0m2 0h0m-24 2h0m2 0h0m18 0h0m2 0h0m2 0h0m-22 2h0m2 0h0m16 0h0m2 0h0m2 0h0m-22 2h0m2 0h0m2 0h0m12 0h0m2 0h0m2 0h0m-18 2h0m2 0h0m2 0h0m8 0h0m2 0h0m2 0h0m2 0h0m-16 2h0m2 0h0m2 0h0m2 0h0m2 0h0m2 0h0m2 0h0m2 0h0m2 0h0m-14 2h0m2 0h0m2 0h0m2 0h0m2 0h0m2 0h0m2 0h0m2 0h0m-10 2h0m2 0h0m2 0h0m2 0h0" stroke="#d2f0bc" stroke-width="2.2" stroke-linecap="square" fill="none"/>
<path d="M569 241h0m-4 2h0m2 0h0m2 0h0m2 0h0m-8 2h0m2 0h0m2 0h0m2 0h0m2 0h0m2 0h0m-12 2h0m2 0h0m2 0h0m6 0h0m2 0h0m2 0h0m-14 2h0m2 0h0m10 0h0m2 0h0m2 0h0m-16 2h0m2 0h0m12 0h0m2 0h0m-16 2h0m16 0h0m2 0h0m-18 2h0m16 0h0m2 0h0m-18 2h0m16 0h0m2 0h0m-18 2h0m16 0h0m2 0h0m-18 2h0m16 0h0m2 0h0m-20 2h0m2 0h0m16 0h0m2 0h0m-20 2h0m2 0h0m16 0h0m2 0h0m-18 2h0m14 0h0m2 0h0m-16 2h0m2 0h0m10 0h0m2 0h0m-12 2h0m2 0h0m6 0h0m2 0h0m2 0h0m-10 2h0m2 0h0m2 0h0m2 0h0m2 0h0m-6 2h0m2 0h0m2 0h0" stroke="#e6f0a4" stroke-width="2.2" stroke-linecap="square" fill="none"/>
<path d="M567 247h0m2 0h0m-4 2h0m2 0h0m2 0h0m2 0h0m-6 2h0m2 0h0m4 0h0m2 0h0m-10 2h0m2 0h0m8 0h0m2 0h0m-12 2h0m2 0h0m10 0h0m-12 2h0m2 0h0m10 0h0m-12 2h0m12 0h0m-12 2h0m12 0h0m-12 2h0m12 0h0m-12 2h0m10 0h0m2 0h0m-12 2h0m8 0h0m2 0h0m-8 2h0m2 0h0m2 0h0m2 0h0m-4 2h0m2 0h0" stroke="#f6e29a" stroke-width="2.2" stroke-linecap="square" fill="none"/>
<path d="M569 251h0m-2 2h0m2 0h0m2 0h0m-4 2h0m2 0h0m2 0h0m2 0h0m-6 2h0m2 0h0m2 0h0m2 0h0m-8 2h0m2 0h0m2 0h0m2 0h0m2 0h0m-8 2h0m2 0h0m2 0h0m2 0h0m2 0h0m-8 2h0m2 0h0m2 0h0m2 0h0m2 0h0m-8 2h0m2 0h0m2 0h0m2 0h0m-6 2h0m2 0h0m2 0h0" stroke="#f6c890" stroke-width="2.2" stroke-linecap="square" fill="none"/>
<path d="M638 167h0m-96 5h0m107 44h0m-30-34h0m57 28h0m3 7h0m-43-21h0m-108 27h0m28-46h0m-12 133h0m44-181h0m1-5h0m-12 49h0m57 27h0m-42-22h0m-7-2h0m23 17h0m-55-10h0m73 16h0m30 87h0m-123-16h0m88-77h0m28 115h0m19-49h0m-2 0h0m-99-85h0m93 66h0m-128-18h0m8-30h0m53-3h0m57 107h0m-35-103h0m40 87h0m-118-73h0m83-8h0m35 44h0m-36-37h0m-3 3h0m41 33h0m-129 11h0m14-53h0m103 25h0m-115 66h0m101-79h0m-100 48h0m105-43h0m-63-39h0m75 56h0m-86-53h0m-2 9h0m-4 121h0m57-112h0m-1 3h0m36 24h0m-116 60h0m17 21h0m96-74h0m-52-36h0m6 4h0m10 6h0m-19-25h0m-51 95h0m-1-7h0m-7-21h0m-2 39h0m0-1h0m96-75h0m-77-25h0m99 43h0m5 38h0m-29-57h0m-18-7h0m-40-19h0m-29 75h0m117 7h0m1 0h0m-64-82h0m-50 96h0m107 17h0m3-34h0m-7-22h0m-98-53h0m41-4h0m57 123h0m-1 0h0m-109-62h0m2 7h0m3 9h0m104 47h0m-112-69h0m3-6h0m0-1h0m15-27h0m-19 33h0m117 9h0m-95-56h0m83 24h0m-96-4h0m7-20h0m-7 40h0m36-46h0m-29 22h0m-6 9h0m109 66h0m-79-100h0m-12 10h0m-27 48h0m118 11h0m-78-70h0m1 2h0m63 129h0m-104-74h0m52-51h0m67 90h0m0-2h0m-18-59h0m-96 18h0m46-49h0m-31 11h0m-4-3h0m-2 97h0m-3-81h0m-5 44h0m31-63h0m54 25h0m-73-21h0m98 91h0m3-29h0m-46-50h0m-21-19h0m-37 22h0m89 15h0m-81 80h0m86-68h0m-101 22h0m5-47h0m96 93h0m-10-86h0m18 33h0m-20-33h0m-75-23h0m1 4h0m-12 23h0m-1-2h0m80-3h0m-75 69h0m102-9h0m-40-62h0m28 10h0m-82 77h0m18-114h0m59 35h0m-61 89h0m21-112h0m2 2h0m2-1h0m51 68h0m-76-78h0m-14 7h0m8-2h0m43 19h0m29 14h0m0-2h0m8 69h0m-90 4h0m-8-88h0m83 10h0m-46-27h0m1-1h0m44 27h0m-68-25h0m0 1h0m-17 21h0m28-29h0m-29 44h0m65-18h0m14 5h0m-2-1h0m0-1h0m-33-19h0m24 19h0m25 12h0m-24-13h0m-29-24h0m51 116h0m-63-113h0m48 22h0m-3 0h0m-68 61h0m1 8h0m0 0h0m92-44h0m-100 3h0m20 60h0m33-102h0m-17-13h0m-36 53h0m83-20h0m3 86h0m17-16h0m-46-88h0m46 42h0m-38-26h0m-26-29h0m1-2h0m24 20h0m-45-13h0m83 49h0m-30 64h0m34-50h0m-73-68h0m57 33h0m-47-28h0m-36 21h0m40-16h0m-30 96h0m-13-70h0m85-3h0m0-1h0m-35-19h0m-18-14h0m-1-1h0m-17 11h0m-17 34h0m14-30h0m48 17h0m-1-14h0m22 100h0m21-54h0m1 0h0m-72-62h0m-2 4h0m44 115h0m-2-91h0m30 54h0m-33-53h0m-66-2h0m98 65h0m4-27h0m-14 49h0m1 1h0m-1 0h0m1 0h0m5-69h0m5 11h0m0 36h0m-75-86h0m72 96h0m3-16h0m0-5h0m-85-76h0m-2 99h0m8 10h0m-2 0h0m-12-20h0m-1-1h0m93-9h0m-11 31h0m-53-114h0m22 21h0m1-4h0m-1 0h0m-14-9h0m31 19h0m-1 1h0m-16-13h0m-2 1h0m1-1h0m-59 28h0m24-38h0m-13 11h0m22-13h0m-20 13h0m49 15h0m-13-20h0m4 1h0m-50 58h0m5-50h0m2-1h0m61 9h0m-69 39h0m100-13h0m-33-25h0m-12-14h0m-42-1h0m75 20h0m-29-7h0m-37-21h0m57 110h0m-76-35h0m78-48h0m-49-30h0m1 0h0m5 3h0m-22 101h0m0 0h0m26-99h0m11 8h0m-51 13h0m57 2h0m15-2h0m-47-22h0m-20 15h0m2-3h0m92 50h0m-102-19h0m95-7h0m-2-1h0m-11 72h0m0-2h0m-45-108h0m1 2h0m51 105h0m-76-12h0m78-60h0m-14 75h0m-64-99h0m1-1h0m42 4h0m44 37h0m-64-51h0m63 86h0m-84 14h0m1 0h0m43-80h0m-1 1h0m0 0h0m-15-14h0m1-1h0m-25-1h0m82 53h0m0 0h0m-12-25h0m1 0h0m-31-7h0m41 56h0m-92-64h0m84 87h0m-1 0h0m-8-74h0m0-1h0m-79 0h0m67-5h0m-13 2h0m-47-10h0m0 1h0m45-1h0m-34-13h0m0-1h0m0 0h0m56 25h0m-39-24h0m-36 28h0m72 80h0m-61-100h0m27-5h0m1 0h0m0 0h0m54 41h0m-57 64h0m-3-110h0m44 28h0m-54 79h0m0-1h0m5 4h0m50-3h0m-2 0h0m21-20h0m-1-1h0m-43-70h0m19 94h0m-2 0h0m-59-18h0m85-23h0m-91-50h0m62 6h0m18 79h0m-3-1h0m9-63h0m6 49h0m-1-1h0m1 1h0m-45-66h0m-38 74h0m4-93h0m-6 6h0m85 42h0m-99-14h0m29-34h0m26 22h0m18-2h0m-8 85h0m0 0h0m25-77h0m-68-29h0m-19 68h0m6 13h0m76-52h0m15 34h0m-79 37h0m-1 1h0m1-2h0m0 2h0m50-80h0m-1 2h0m5 0h0m2 4h0m7 1h0m-58 77h0m70-59h0m-62-47h0m28 107h0m31-65h0m-3-6h0m-41-26h0m-1 0h0m-24 93h0m-8-11h0m-2-2h0m-4-5h0m1 0h0m5-81h0m29 2h0m-12-4h0m0 0h0m26 25h0m2 81h0m-29-1h0m-27-84h0m0 0h0m-1 0h0m-3 13h0m17-32h0m0-2h0m-15 57h0m0 0h0m55 48h0m-1 0h0m-4-93h0m0 1h0m43 63h0m0-1h0m-92-20h0m-2 11h0m88 31h0m-1 0h0m-24-72h0m35 29h0m-1 5h0m-54 47h0m-45-60h0m2 12h0m97-2h0m-46-42h0m37 17h0m-16-6h0m-70-1h0m-3 13h0m8 42h0m88-32h0m0 1h0m-23 55h0m-3-80h0m-49-21h0m0-1h0m-20 44h0m34-44h0m-36 38h0m85-11h0m0 1h0m-38-22h0m0 1h0m-24 91h0m43-74h0m2 0h0m-62-6h0m84 75h0m2 1h0m-63-94h0m6 104h0m0-1h0m-1 0h0m-14-14h0m76-19h0m-14-43h0m-1 1h0m-8 74h0m0 1h0m11-7h0m-34-79h0m0 0h0m10 10h0m0-1h0m-36 70h0m25-88h0m0 0h0m24 17h0m21 66h0m0-2h0m1 2h0m-65-91h0m1 0h0m1-1h0m-21 82h0m5-74h0m1 0h0m58 18h0m-66-8h0m0 0h0m0-2h0m13 78h0m75-25h0m-85-55h0m40 8h0m11 5h0m-23-22h0m30 97h0m20-69h0m-75-23h0m57 16h0m-1-1h0m0 0h0m15 6h0m12 21h0m-96-19h0m2-1h0m74 66h0m1 0h0m-28-81h0m45 61h0m-6 16h0m-2 1h0m-61 6h0m-1 0h0m52-73h0m-58 63h0m1 0h0m1-1h0m-16-61h0m-1-1h0m3-7h0m88 45h0m-83 16h0m0 2h0m78-45h0m-54 66h0m28-77h0m31 26h0m1-1h0m-24-26h0m-54-21h0m0-2h0m15-1h0m-31 49h0m23 48h0m-2-2h0m70-18h0m-13 18h0m-64-90h0m72 26h0m-1 1h0m-3 59h0m-19-68h0m9 2h0m-53-25h0m49 23h0m24 49h0m-62 29h0m0-1h0m0 0h0m-27-31h0m0 2h0m63-48h0m-53 60h0m2 4h0m0-2h0m8-85h0m-1 1h0m-23 31h0m1-1h0m94 27h0m-1 0h0m-1-13h0m0-2h0m0 2h0m1 8h0m-74 35h0m26-81h0m17 92h0m-61-71h0m28-27h0m40 25h0m-8-1h0m-25 77h0m1 1h0m0-2h0m48-72h0m-1 0h0m9 28h0m-15-30h0m14 59h0m-78-2h0m0-1h0m78-2h0m-71 11h0m33-68h0m-1-1h0m-28-22h0m22 100h0m0 2h0m0-1h0m1 1h0m-41-27h0m-3-54h0m0-1h0m3-8h0m73 80h0m-23-65h0m-47-15h0m45 87h0m-2 0h0m0 1h0m18-4h0m-2 1h0m-8-73h0m1 2h0m-17-13h0m1 1h0m0 0h0m0-2h0m-28-12h0m6 95h0m50-68h0m-74 6h0m0 0h0m18 52h0m3 5h0m36 10h0m3-72h0m0 0h0m-28 71h0m27-70h0m4-4h0m-64 20h0m0-1h0m1 1h0m92 36h0m0-1h0m-31-50h0m15 63h0m15-9h0m2-2h0m-47-74h0m0 10h0m40 71h0m-49-87h0m2 98h0m-7-100h0m-1 1h0m1 1h0m17 19h0m-43-5h0m39-4h0m1-1h0m39 19h0m-34 69h0m41-32h0m-87 3h0m2 1h0m-1-1h0m49-42h0m6-1h0m2 0h0m-1 0h0m25 8h0m-1 1h0m0-1h0m-84 29h0m1-35h0m67-1h0m-25 72h0m1 1h0m21-73h0m1 70h0m-27-92h0m-41 31h0m65-10h0m-62-3h0m0 1h0m0-1h0m61 3h0m27 21h0m-71 36h0m60-56h0m0 1h0m-20 5h0m22 55h0m9-23h0m-3-27h0m-1-1h0m1 1h0m2 33h0m-45-65h0m-1 0h0m-45 31h0m36-35h0m42 89h0m-15-60h0m0-1h0m-36 64h0m0 0h0m1-1h0m13 7h0m-1-1h0m38-72h0m15 22h0m-62 46h0m0-95h0m60 78h0m-1 1h0m1-1h0m-87-13h0m2 1h0m86-4h0m-91-23h0m1 2h0m-1 0h0m64-13h0m0-1h0m0 2h0m-42-30h0m-1 2h0m0 0h0m-15 16h0m78 14h0m-31-7h0m0-1h0m23 5h0m-1 0h0m-22-7h0m13 76h0m-22-84h0m30 78h0m-1 2h0m1 0h0m13-7h0m1 1h0m1-2h0m-1 1h0m3-25h0m1-2h0m-3 25h0m1 0h0m-1 0h0m-72-83h0m0 1h0m64 28h0m1 0h0m9 23h0m0-1h0m-63-52h0m0 1h0m21 97h0m25-70h0m17 31h0m-50-44h0m50 55h0m-83 2h0m0 1h0m-5-46h0m-2 21h0m89 33h0m0 0h0m-81-69h0m2 1h0m37 7h0m-46 39h0m55-24h0m35 19h0m-1 3h0m-36-23h0m25 53h0m-69-78h0m0 1h0m-5 10h0m0-1h0m84 63h0m0 0h0m-19-54h0m1 0h0m0 1h0m-4 0h0m-67 27h0m2-1h0m42-47h0m-1 1h0m21 86h0m20-9h0m2-1h0m0 2h0m-69-6h0m6 6h0m-1 1h0m4 6h0m-25-35h0m78-30h0m-1 0h0m0 1h0m-25-4h0m30 7h0m0 1h0m-59 59h0m-19-71h0m49 9h0m-1 0h0m35 37h0m-13 22h0m-22-62h0m35 15h0m-1-3h0m-28-7h0m-21-29h0m-1 0h0m1 0h0m-2 1h0m50 79h0m0 1h0m-9-55h0m-1 0h0m-35-17h0m-1-2h0m1 1h0m-35 4h0m13-14h0m41 94h0m-46-89h0m36 89h0m31-10h0m-36-67h0m0 2h0m30 10h0m-73-3h0m87 17h0m-32 52h0m0-1h0m0 0h0m0-1h0m0 1h0m-16-79h0m-13 77h0m2 0h0m-1-91h0m59 71h0m-1-1h0m1 2h0m-20 19h0m-2-1h0m-19 6h0m-1-1h0m13-1h0m-27-2h0m52-58h0m1 1h0m1-1h0m-86 10h0m89 18h0m0 2h0m1-1h0m-2 0h0m-50-52h0m-2-10h0m-1 0h0m-1 1h0m1 0h0m1-1h0m28 28h0m13 56h0m-55-86h0m-2 0h0m-6 79h0m2-2h0m35-55h0m-49 39h0m23 26h0m-1 0h0m2 2h0m15-83h0m0 0h0m0 0h0m-14-5h0m-1 0h0m1-1h0m14 8h0m14 25h0m0 2h0m-55-3h0m1 0h0m1 1h0m64-4h0m-28-25h0m51 45h0m-51 46h0m0 2h0m-2-1h0m50-27h0m-63-70h0m48 28h0m1 1h0m-48-29h0m1 2h0m-13 75h0m0 0h0m16 13h0m-1 1h0m61-28h0m1 0h0m-82-47h0m-1 1h0m27-14h0m1 1h0m34 87h0m1 0h0m0 0h0m-8-59h0m1 2h0m-1-1h0m7-5h0m1 1h0m0 0h0m-38 63h0m-1 0h0m51-59h0m8 20h0m-1 0h0m0-1h0m-2-12h0m1 1h0m-4 41h0m-71-71h0m-1 1h0m45 22h0m23 52h0m-40-75h0m11 85h0m-2-1h0m41-33h0m-25 31h0m25-37h0m-1 0h0m1-2h0m-81 15h0m81-10h0m0-1h0m-4 21h0m-8-48h0m-76 3h0m3-9h0m0-1h0m81 53h0m0-1h0m-42-57h0m-23 62h0m0-1h0m2 3h0m-8-75h0m0-1h0m1 0h0m0 1h0m20 88h0m1-2h0m3-87h0m0-1h0m-1 1h0m0 0h0m-19-4h0m-1-1h0m1 0h0m56 28h0m-74 13h0m38-34h0m46 65h0m-34 20h0m1 0h0m29-10h0m3-44h0m0 0h0m0 0h0m-13 49h0m-20-64h0m1-1h0m-1 2h0m0-1h0m-1 1h0m5 67h0m0 1h0m-15 3h0m-1 0h0m8-77h0m-1 1h0m0-1h0m1 1h0m41 21h0m-2 2h0m0-1h0m1 0h0m-69-39h0m-18 34h0m63 55h0m-35-2h0m1 0h0m46-5h0m-1 0h0m1 2h0m9-8h0m-1 0h0m1 1h0m0 0h0m-10-50h0m-16 4h0m-29-32h0m0 0h0m6 2h0m1 0h0m-19 75h0m69-12h0m-79-47h0m0 0h0m35 76h0m1 1h0m36-66h0m-13 58h0m-16-64h0m36 19h0m0-1h0m0 2h0m1-1h0m-36-17h0m-47 37h0m1 0h0m35 33h0m0-1h0m1 1h0m-1-1h0m1-1h0m46-48h0m-1-2h0m1 2h0m-20-16h0m0 0h0m20 17h0m-78-35h0m28-2h0m0 0h0m-1 1h0m0-1h0m49 60h0m-1 0h0m-84-30h0m20-39h0m0 0h0m60 32h0m-43-29h0m0 0h0m14 26h0m33 48h0m-2-2h0m-21 15h0m0 1h0m-1 0h0m-13 1h0m0 1h0m40-44h0m-61-48h0m11 8h0m17 26h0m1 0h0m14-7h0m0 0h0m-1-1h0m-9 63h0m-1-1h0m0 1h0m-9-71h0m2 12h0m1-2h0m-1 2h0m0-1h0m-48 28h0m22-58h0m12 5h0m-33 19h0m65 63h0m0-2h0m-58-15h0m-9-42h0m85 34h0m-9 18h0m1-1h0m-54 3h0m7 6h0m-1-1h0m46-57h0m4 48h0m0-1h0m-70-67h0m76 42h0m-74-44h0m0 1h0m27 7h0m13 72h0m1 0h0m20-4h0m-10-54h0m2 0h0m-1-1h0m20 38h0m0 0h0m-1 1h0m1 0h0m-40-50h0m-29-12h0m49 81h0m0 0h0m-43-10h0m64-17h0m1 1h0m-73 12h0m1 0h0m59-42h0m0-1h0m-60 43h0m0-1h0m41 17h0m-24-86h0m-14 0h0m-1 1h0m2 0h0m-1-1h0m69 53h0m-4 16h0m5-13h0m-53 31h0m17-56h0m22-4h0m-67 33h0m-2-12h0m0-1h0m81-9h0m-77-28h0m1 1h0m72 62h0m-1 1h0m0-1h0m-13 10h0m-1 1h0m12-55h0m1 0h0m-77-1h0m1-2h0m1 1h0m41 62h0m22-61h0m-1-2h0m2 0h0m-1 1h0m-39 55h0m57-20h0m-4-31h0m1 0h0m2 10h0m0 0h0m1-1h0m-1 5h0m1 0h0m-1 0h0m-58 36h0m1-1h0m0 0h0m29 6h0m1 0h0m0-1h0m-11 2h0m0-1h0m1 2h0m0 0h0m-11-86h0m-1 0h0m0 2h0m13 82h0m26-6h0m-20-46h0m-1 0h0m10 52h0m1 0h0m4-59h0m1 0h0m0 0h0m-6 2h0m0-1h0m-15-9h0m1-1h0m-28-19h0m0 0h0m0 1h0m-15 20h0m22-20h0m2 0h0m54 47h0m1 1h0m-7 26h0m1 2h0m-54 1h0m0 1h0m-1-1h0m-21-25h0m75 26h0m-23-46h0m-16 57h0m19-4h0m1 1h0m-11-70h0m-1 1h0m0 0h0m21 64h0m12-10h0m1 1h0m-57-74h0m-2 0h0m39 87h0m-2-53h0m1 0h0m-33-33h0m-25 50h0m82 12h0m1 0h0m-35-28h0m-25-34h0m-1 0h0m30 84h0m-2 1h0m1-1h0m-1-1h0m1 0h0m31-34h0m-81-19h0m40 60h0m0 1h0m0-2h0m0 0h0m1 1h0m33-60h0m0-1h0m1 2h0m-14 0h0m0-1h0m-27-17h0m0-1h0m-23-5h0m2-2h0m-2 0h0m69 38h0m-1 0h0m0 2h0m-32 40h0m15-2h0m0 0h0m-47-81h0m0 0h0m2 0h0m63 44h0m0 0h0m-1 0h0m0-3h0m1-2h0m-73-31h0m1 1h0m-1-1h0m7-7h0m24 86h0m-29-81h0m0-1h0m46 38h0m24-8h0m0 0h0m-1-2h0m-15 46h0m1 1h0m-19-58h0m0 1h0m31 50h0m-22-29h0m28 5h0m-1 2h0m1-2h0m-1 2h0m0-5h0m-8-18h0m-1-1h0m-2 50h0m0 1h0m-1 0h0m1 0h0m0-1h0m-18-35h0m1 0h0m-18 43h0m0 1h0m1-75h0m-1 2h0m-6 70h0m21-49h0m-1 1h0m1 0h0m0-2h0m28 10h0m-1 0h0m1-2h0m-72-27h0m71 54h0m-34 15h0m10-51h0m0 0h0m0 0h0m22-3h0m2 2h0m-1 0h0m-30-8h0m6 20h0m0 2h0m-6-18h0m-1 1h0m1-1h0m19 2h0m0-1h0m0 1h0m15 36h0m-1-1h0m1-1h0m-3-20h0m2 0h0m-12-14h0m0-1h0m-13 13h0m1-1h0m-9-14h0m0 0h0m5 15h0m7-11h0m0 0h0m-44 40h0m-1 1h0m14-71h0m0 0h0m1 0h0m-19 63h0m-1 2h0m0-1h0m67-22h0m1 0h0m-1-1h0m-52 36h0m1 2h0m0-1h0m-1 1h0m30-46h0m-6 2h0m0-1h0m13 47h0m0 1h0m-1 1h0m-14 0h0m1-1h0m-46-52h0m79 9h0m-58 35h0m0 0h0m1 1h0m60-19h0m-1-4h0m-63-52h0m0-1h0m1 2h0m56 43h0m2 0h0m-6 32h0m1 1h0m0-1h0m-41-74h0m-1 0h0m26 40h0m-1 0h0m22 4h0m0-12h0m0 0h0m1 0h0m0 0h0m0 1h0m-26 3h0m-1-1h0m0 2h0m6 43h0m0 1h0m12-4h0m-1 0h0m-15-33h0m27 2h0m0 0h0m1 5h0m2 2h0m0-2h0m-2 1h0m-2-18h0m-1-1h0m-1 2h0m2 0h0m-2-1h0m0 0h0m0 0h0m-15 43h0m1 2h0m-13-46h0m-1 0h0m0 1h0m-24 43h0m-24-54h0m1-2h0m-1 1h0m51 13h0m-10-20h0m35 21h0m-21 2h0m-51-25h0m1 0h0m60 63h0m14-15h0m-20-32h0m-1 0h0m15 11h0m-25-5h0m1 3h0m-1 1h0m1-1h0m-29-40h0m-12 66h0m34-48h0m2 0h0m29 21h0m1 0h0m-1 2h0m4 25h0m0 1h0m0-1h0m-3-36h0m-2 0h0m0 1h0m-69 26h0m69-14h0m-22 2h0m0-1h0m26-11h0m0 0h0m-27 48h0m0 0h0m-37-78h0m1 1h0m0 0h0m-13 31h0m60-5h0m0 0h0m1-1h0m-11 50h0m-12 7h0m0 0h0m-14-86h0m2-1h0m22 36h0m-2 0h0m-11 50h0m-36-53h0m-1 1h0m0-1h0m56 1h0m2-1h0m-1 0h0m0 0h0m-17-18h0m-1 0h0m0 0h0m37 22h0m-11-6h0m11 41h0m-2 2h0m0-1h0m-23-26h0m-1-1h0m-27-45h0m-1-1h0m53 38h0m-21-1h0m1 0h0m-8-3h0m-1 2h0m1 0h0m-1-2h0m15 48h0m0-2h0m0 0h0m0 1h0m-48-75h0m53 25h0m-23 55h0m1 0h0m-34-75h0m-1 1h0m-1 0h0m47 69h0m0-1h0m24-32h0m-2-13h0m1 1h0m-25 14h0m-4 30h0m-24-79h0m49 30h0m-2-1h0m0 1h0m1-1h0m8 31h0m0 0h0m-1 0h0m-50 22h0m52-32h0m-1-1h0m-1 1h0m0 0h0m-12-20h0m1-1h0m-11 8h0m-1 1h0m20 30h0m-38 19h0m-1-1h0m1 1h0m5-4h0m1 0h0m1-1h0m0 0h0m-45-48h0m1 0h0m-1-1h0m1 2h0m-1-1h0m-1-1h0m74 12h0m-3 32h0m1-1h0m-10 3h0m9-48h0m1 0h0m-42-28h0m42 70h0m2 0h0m-1 1h0m0-1h0m-16 8h0m-1-1h0m2 0h0m-2-1h0m-6-31h0m2 1h0m8 31h0m15-44h0m0 0h0m-50 41h0m-8-6h0m61-6h0m-5-22h0m1-12h0m0 1h0m-62-24h0m6-6h0m27 19h0m0 0h0m27 19h0m1-1h0m0 2h0m-15-1h0m0 0h0m1-1h0m0 0h0m-57-13h0m1 0h0m54 21h0m0-2h0m18 26h0m0 0h0m-2-26h0m0-1h0m4 4h0m0 0h0m0 0h0m-29-8h0m26-5h0m1-1h0m-16-2h0m1 1h0m1 46h0m-1 0h0m0-1h0m0 0h0m-25 5h0m0 2h0m1-1h0m-1 1h0m0-2h0m-1 1h0m16-33h0m31 8h0m-1-1h0m0-1h0m1 0h0m-13 19h0m1 1h0m0-1h0m0 0h0m1 0h0m-63-58h0m-1-1h0m42 19h0m-1 0h0m27 2h0m-71 16h0m-1-1h0m0 1h0m2 0h0m53-18h0m0-1h0m-1 1h0m2-1h0m-2 0h0m2-1h0m-1 0h0m-1 1h0m-7 6h0m0 2h0m0 0h0m-1 5h0m0 0h0m0-1h0m0 1h0m0 0h0m1-1h0m0-1h0m-1 0h0m1-2h0m0 1h0m0-2h0m-1 2h0m1 5h0m-1-1h0m-40 12h0m-1-2h0m1 0h0m15 14h0m19-57h0m0 0h0m-26-11h0m1-1h0m50 72h0m-1-1h0m0 1h0m0-1h0m15-22h0m-1 0h0m-2 13h0m-2 0h0m1-1h0m-1 0h0m1 1h0m-32-36h0m0-8h0m-1 0h0m29 51h0m1-2h0m-2 0h0m-44 9h0m1 0h0m-1 0h0m32-2h0m-11-25h0m0-1h0m0-1h0m-8 32h0m3-51h0m29 13h0m-1 1h0m-13-7h0m2-8h0m0 1h0m3-1h0m15 31h0m-1-1h0m1 1h0m-14 13h0m-33-64h0m-28 10h0m1 1h0m0-1h0m-1 1h0m52 56h0m1-1h0m-1 1h0m1-1h0m-3 1h0m-46-65h0m36 14h0m1 0h0m0 1h0m-1 0h0m9 50h0m0 1h0m21-31h0m-23 3h0m-1 2h0m-20-46h0m1 0h0m0-2h0m27 39h0m0 1h0m16-11h0m-30-16h0m-1 0h0m1 0h0m-16 60h0m50-28h0m-6-19h0m-2 0h0m1 0h0m0 1h0m1-1h0m-28-7h0m1 1h0m1 0h0m0 0h0m29 42h0m0 0h0m-1 2h0m-6-37h0m2 1h0m-22 20h0m1 0h0m-3-2h0m0-1h0m-1-24h0m0 0h0m-1-1h0m36 29h0m1-1h0m-38 28h0m1 0h0m7-2h0m0-2h0m-5-40h0m-27 33h0m0 1h0m-1-1h0m53-27h0m0-1h0m0-3h0m-26-5h0m-9 51h0m2 0h0m23-45h0m-1-1h0m1 1h0m-15 14h0m-12 28h0m0 1h0m-1-2h0m-30-53h0m0-1h0m74 38h0m-19-30h0m1 1h0m-20 48h0m-1 0h0m0 1h0m35-15h0m0 0h0m-49 5h0m1 0h0m46-32h0m0 1h0m0 0h0m0 1h0m-11 31h0m2-1h0m-7-25h0m-1 0h0m0-1h0m0 2h0m24 9h0m1-1h0m-7-20h0m0-1h0m-22 15h0m1 0h0m1 1h0m-1 0h0m3-2h0m-1 0h0m0 0h0m-30-50h0m0-1h0m0 1h0m-1 0h0m-20 40h0m0 0h0m0 1h0m0-1h0m0 0h0m8 21h0m51-24h0m-34-37h0m0-1h0m-1 2h0m1 0h0m1 0h0m-1 0h0m-24 41h0m65 29h0m1 1h0m4-26h0m-1-1h0m3 20h0m-28-12h0m15-13h0m-1 0h0m-1 0h0m-1 34h0m-12-36h0m1 0h0m-39-26h0m-1 1h0m0 0h0m48 33h0m1-1h0m14-11h0m1-1h0m-25 10h0m-28-41h0m0 1h0m0-1h0m0 0h0m30 75h0m-11-64h0m-2-1h0m0 0h0m25 19h0m0 1h0m0 0h0m-1 0h0m1 0h0m-4 41h0m-1 0h0m-42-67h0m48 26h0m0 0h0m-14 8h0m-1 0h0m0 0h0m18-9h0m12 17h0m-6-5h0m-1 1h0m-46-43h0m52 59h0m-15-25h0m0-2h0m12 32h0m-4-33h0m0 0h0m0 0h0m0 1h0m0-1h0m-3 1h0m1-1h0m-13 42h0m0-1h0m-9-39h0m18 5h0m-42 29h0m0 1h0m0-1h0m-6-2h0m-1 0h0m0 0h0m0 0h0m48-29h0m1-2h0m0 1h0m-58 17h0m64-14h0m1-1h0m-3 33h0m-19-15h0m0-1h0m-38 6h0m1 0h0m0 2h0m17-61h0m1-1h0m0 0h0m-1 2h0m15 15h0m1-1h0m-1 0h0m0 2h0m9 34h0m-7-6h0m-1 2h0m1-1h0m23-8h0m1 0h0m1 0h0m-7-5h0m1-1h0m-34-28h0m1 1h0m0-1h0m10 74h0m-31-72h0m2 1h0m56 28h0m1-1h0m0 1h0m-25 13h0m0-3h0m1-1h0m-1 0h0m14-2h0m1 1h0m19 5h0m-24 23h0m-2 1h0m0-22h0m20 12h0m6-8h0m-61-53h0m0 0h0m-1 1h0m54 65h0m1-1h0m-1 0h0m0-33h0m-1 0h0m1-2h0m-2 2h0m0 0h0m-3-2h0m-1 0h0m0 0h0m1 1h0m0 2h0m0-1h0m-58-17h0m-4 27h0m0-1h0m62-6h0m8 24h0m-1 0h0m-69-11h0m-1-1h0m1 0h0m0 1h0m73 8h0m0 0h0m0 1h0m-2 0h0m2 1h0m-30-10h0m-1 0h0m-1 1h0m1 0h0m22-18h0m8 14h0m0 0h0m-1 1h0m1 0h0m-21 1h0m2 0h0m-2-1h0m13-12h0m-55 27h0m2 1h0m25-51h0m14 50h0m-1 0h0m18-18h0m1 0h0m-61-33h0m-2 2h0m1-1h0m36 30h0m-1 0h0m1 1h0m23-2h0m1 28h0m-20-12h0m-1-1h0m25 2h0m0 0h0m-68-38h0m0 0h0m31 57h0m-1 1h0m27-39h0m-35 33h0m18-19h0m-1-2h0m0 0h0m-2-37h0m-1 1h0m-1-2h0m31 51h0m1 0h0m-20-4h0m1-1h0m-32-59h0m31 59h0m9-19h0m10 18h0m-1 0h0m-45 9h0m42-29h0m-16 33h0m1 2h0m18-12h0m1 0h0m-20-6h0m-1-2h0m-4-20h0m1 41h0m0 0h0m4-11h0m0-1h0m-2-4h0m-1 1h0m8 11h0m22-19h0m-49 24h0m-1-1h0m23-17h0m0 1h0m11 12h0m0 0h0m0 0h0m3-33h0m0 2h0m-8 8h0m1-2h0m-1 1h0m-13 8h0m2 0h0m-1 1h0m0-1h0m10 16h0m-10-31h0m9 14h0m-1-1h0m26-2h0m1-1h0m-22 22h0m-8-15h0m0 1h0m1-2h0m23 2h0m-19 3h0m-12-32h0m0 0h0m0 0h0m0 1h0m12 21h0m-5 10h0m18 0h0m1-1h0m0 1h0m-27-34h0m29 31h0m-25 1h0m22 8h0m-24-29h0m0-1h0m9 22h0m-1 0h0m1-1h0m-8-20h0m8 33h0m-50-36h0m0 0h0m-1 0h0m0 12h0m74 3h0m1 0h0m-10 19h0m0-1h0m1 1h0m-26-45h0m1 1h0m8 40h0m15-23h0m0 0h0m-23-11h0m0-1h0m34 25h0m-53-55h0m-2 1h0m20 22h0m12 32h0m-2 0h0m1 12h0m15-2h0m1-1h0m1 1h0m-67-37h0m23-26h0m0-1h0m0-1h0m1 0h0m6 10h0m0-2h0m22 61h0m-1 0h0m-26-65h0m2-2h0m18 70h0m5-15h0m-1-1h0m2 3h0m1 1h0m0 7h0m0-1h0m0-12h0m0 0h0m-1 0h0m-1 15h0m-1-1h0m1 2h0m15-14h0m-6-14h0m1-1h0m-5 8h0m-46-41h0m-1 2h0m1-1h0m15 62h0m-1 0h0m2 1h0m-20-58h0m22-6h0m-13 57h0m0 0h0m25 12h0m-2 0h0m0 0h0m0 0h0m2-1h0m-18-74h0m41 39h0m-15 29h0m-45-47h0m-1 0h0m1 0h0m0 1h0m70 32h0m-1-8h0m-33-31h0m26 45h0m-6-20h0m-4 22h0m-15-21h0m1-1h0m4 20h0m-1-2h0m9-2h0m-1 0h0m0-4h0m0 0h0m-11-5h0m-39-17h0m8-25h0m1 0h0m0 0h0m43 53h0m-6 7h0m17-25h0m0 1h0m-65-11h0m1-2h0m33-19h0m41 42h0m0 0h0m-3-5h0m3 4h0m0-2h0m0 0h0m-9 16h0m-60-8h0m61-10h0m-1 14h0m-1 0h0m-43 4h0m-7-61h0m39 59h0m1 1h0m0-1h0m-26 11h0m-1 0h0m0 0h0m1 1h0m-24-57h0m0-1h0m50 38h0m0 1h0m1 0h0m-1 0h0m-15-2h0m2 1h0m27-6h0m-1-1h0m-3 16h0m-33 12h0m5 0h0m-10-4h0m-8-69h0m0-1h0m47 53h0m-63-4h0m38-17h0m1 0h0m14 11h0m8 12h0m9-4h0m-17 4h0m9-13h0m-1 0h0m-40 23h0m33-7h0m0 0h0m-12 13h0m17-5h0m-1 0h0m0-1h0m-26 8h0m0 2h0m35-26h0m1 0h0m0 1h0m-30-15h0m32 13h0m-14 18h0m-18 6h0m28-23h0m-6 9h0m-1-17h0m1-2h0m-22 14h0m-33 3h0m32-22h0m-24 28h0m2 1h0m44-23h0m-2-1h0m1 1h0m9 8h0m-7 9h0m0-1h0m-7-2h0m12-6h0m0-2h0m-56 15h0m46-15h0m0 14h0m-47-3h0m47-16h0m0 0h0m-34-41h0m34 51h0m-15 6h0m20 3h0m1 5h0m3-15h0m0 0h0m0 1h0m-3-8h0m-8 4h0m-9 17h0m-1 1h0m13-8h0m-2 8h0m-37-65h0m19 18h0m1 53h0m20-14h0m1 1h0m4-6h0m0 0h0m-48-50h0m-1-1h0m41 60h0m-52-10h0m35 5h0m-32-43h0m-1 1h0m3-5h0m-2 1h0m31 16h0m0-7h0m5 51h0m-1 0h0m-22-8h0m0 0h0m12 9h0m-1 1h0m6-44h0m-2-15h0m28 33h0m-29 25h0m1 1h0m23-28h0m1 0h0m-1-1h0m-1 10h0m3 11h0m-17-1h0m1-1h0m14 1h0m-20-19h0m-35-21h0m-1 2h0m62 25h0m-26 0h0m-1 1h0m1-3h0m0-1h0m-1 4h0m24 0h0m1-8h0m-4 7h0m0 0h0m-1 11h0m-27 9h0m0 1h0m0-2h0m-4-65h0m0-1h0m8 67h0m0 1h0m4-39h0m-36 14h0m4 5h0m32-17h0m-1-1h0m-24-29h0m21 63h0m0 0h0m10-3h0m0 1h0m-21-64h0m3 62h0m-1 0h0m4 4h0m8-52h0m-4-5h0m-25 2h0m-1 0h0m20 55h0m-4-5h0m37-14h0m-19 19h0m-4 1h0m0-3h0m-26-56h0m10-7h0m-9 56h0m-10-13h0m37 16h0m-11 0h0m10-2h0m-2-23h0" stroke="#1f2f78" stroke-width="1.2" stroke-linecap="square" fill="none"/>
<path d="M556 281h0m62 12h0m4-9h0m-27-25h0m24-3h0m-23 41h0m13-44h0m2 1h0m-1 0h0m10 12h0m4 15h0m-72-7h0m71 9h0m0 0h0m-46-61h0m-18 7h0m0-1h0m57 30h0m1-1h0m-16 38h0m20-9h0m-56-61h0m53 29h0m-64-15h0m66 43h0m-68-11h0m9 14h0m25-50h0m32 32h0m-22 12h0m1-1h0m-3 2h0m-41-36h0m30 56h0m42-20h0m-5 3h0m-1-1h0m1 3h0m-28-28h0m3 39h0m1-15h0m31-7h0m-26 14h0m-24 9h0m33-5h0m4-32h0m-11 33h0m-13 6h0m36-26h0m-24 12h0m4 9h0m-35-5h0m27-10h0m0-1h0m1 1h0m-13 23h0m6-51h0m-41 17h0m66 13h0m2-1h0m0-1h0m-26-20h0m0 1h0m7 32h0m0 1h0m-50-35h0m42-14h0m-41 26h0m-1-2h0m2 2h0m72 1h0m-8 19h0m-26-44h0m3 33h0m23-16h0m-1 0h0m10 14h0m-1-1h0m-5-7h0m-1 0h0m1 1h0m-28-26h0m0 1h0m10 43h0m0 2h0m-33-65h0m48 63h0m1-1h0m0 0h0m1 1h0m-67-36h0m23-29h0m30 68h0m-1 0h0m14-23h0m-11 0h0m-3 12h0m-22 19h0m21-25h0m2 0h0m-4 17h0m0-1h0m10-26h0m-6 7h0m-45-40h0m0 1h0m1-1h0m14 62h0m2 0h0m2-63h0m1-1h0m-14 58h0m40 5h0m-15 7h0m-17-75h0m31 59h0m1-1h0m1 2h0m-16-16h0m22-6h0m-14 31h0m0 0h0m-6 4h0m31-19h0m0-1h0m-1-5h0m-34-32h0m1-1h0m0 0h0m20 27h0m0-1h0m-5 20h0m-13-30h0m-1 0h0m1 10h0m3 19h0m10-4h0m-2-2h0m-10-7h0m-41-15h0m68 20h0m0 1h0m-13 4h0m-8 9h0m16-24h0m2-1h0m-34-31h0m1-1h0m23 39h0m18 4h0m0-2h0m-32 6h0m-2-7h0m31-3h0m3 4h0m1-1h0m0 0h0m-10 15h0m-58-8h0m57 5h0m-41 5h0m17-15h0m1 0h0m14 12h0m-27 9h0m0 0h0m2 0h0m24-7h0m-12-25h0m-38-23h0m51 33h0m-1 1h0m15-3h0m-37 26h0m2 1h0m2 1h0m-8-4h0m28-19h0m-37-53h0m0 2h0m22 32h0m0 0h0m15 11h0m1-1h0m0 1h0m0-1h0m7 11h0m1 1h0m-19 8h0m1-2h0m-12-50h0m0-2h0m0 1h0m38 39h0m-1 1h0m0 1h0m1-1h0m-9-8h0m-38 24h0m19 5h0m-1 0h0m16-6h0m1 1h0m-1 0h0m1 0h0m-27 8h0m0 0h0m7-37h0m0-2h0m1 0h0m-1 1h0m31 12h0m-13 18h0m0 1h0m-19 5h0m1-1h0m-1 2h0m29-23h0m-7-10h0m0-1h0m-22 15h0m-31 3h0m17-56h0m-10 61h0m1 0h0m0 0h0m0 0h0m30 6h0m14-29h0m0 1h0m-1 1h0m10 7h0m1 1h0m0-2h0m-8 8h0m0 2h0m0-1h0m1-1h0m-7-1h0m11-7h0m-22 14h0m-2-1h0m-31 0h0m0 1h0m44-1h0m3-18h0m0-1h0m-3 12h0m-15 4h0m20 4h0m2-1h0m-6-4h0m1 1h0m4 8h0m0-1h0m3-15h0m1 0h0m-11-1h0m0 1h0m1-1h0m0 1h0m-26 23h0m15-9h0m2 0h0m0 1h0m11-6h0m-1-1h0m0 7h0m-1 1h0m0-1h0m-1-1h0m-35-64h0m18 18h0m21 40h0m1-1h0m1 2h0m-2 0h0m2-3h0m2-1h0m-1-1h0m4-6h0m-1 0h0m0 1h0m-49-46h0m-4 2h0m34 62h0m0-1h0m0 0h0m11-3h0m1-8h0m-1-1h0m0 1h0m5 8h0m1 1h0m-2-2h0m-58-11h0m23 17h0m0 1h0m13-11h0m-16 8h0m2 0h0m14-45h0m-4 52h0m-8-2h0m1-1h0m10-47h0m4 49h0m0 0h0m-1 0h0m-21-10h0m-1 0h0m42-7h0m-2 0h0m0 0h0m-28 19h0m2 0h0m-1 0h0m25-13h0m3-18h0m0-1h0m-22-13h0m-1-1h0m0 14h0m1-1h0m-3-26h0m1 1h0m0-1h0m28 33h0m-31 25h0m1 0h0m1 0h0m-1 1h0m4-31h0m-1 1h0m0-1h0m21 2h0m0-1h0m0 8h0m1 1h0m-31-46h0m32 58h0m0 0h0m-49-57h0m-2-1h0m1 0h0m33 56h0m1 1h0m0-1h0m0 1h0m13 1h0m0-1h0m2 2h0m-1-1h0m-21-20h0m2 0h0m-1 0h0m-1-5h0m-35-15h0m62 26h0m-27 1h0m1 0h0m0 0h0m0-2h0m6 18h0m0 1h0m0 1h0m-5-22h0m-1 1h0m1 5h0m-1-2h0m23 0h0m2-6h0m-1-1h0m-36 23h0m-1-2h0m1 0h0m0 1h0m32-15h0m7-3h0m-1-1h0m-23 13h0m0 1h0m0 0h0m0-2h0m19 3h0m0 1h0m0-2h0m-1 2h0m1-1h0m-2 0h0m-1-1h0m1 2h0m0-2h0m-1 1h0m0-15h0m2 0h0m-30 23h0m-3-65h0m31 43h0m2 1h0m-29-40h0m0-2h0m1 2h0m-1-2h0m29 44h0m0 1h0m2 0h0m-21 18h0m-1-1h0m-1-33h0m-3 35h0m-1-2h0m4-38h0m23 13h0m-1-1h0m-22 27h0m1 1h0m-2-2h0m1 1h0m0-1h0m0 0h0m-19-67h0m-2 0h0m11 65h0m0 0h0m1 0h0m0 0h0m-27-21h0m38 13h0m0-1h0m-5 11h0m-30-16h0m1-1h0m0 1h0m1 0h0m-1 0h0m33-18h0m-1-1h0m0-1h0m0 1h0m-1 21h0m-23-50h0m-1-1h0m1 0h0m19 62h0m1 0h0m-11-63h0m0-2h0m1 1h0m-1 1h0m39 42h0m-1 2h0m2-1h0m-2 0h0m1 0h0m-28-33h0m-1-1h0m2 0h0m-3 56h0m5 0h0m-2 0h0m8-2h0m1 1h0m17-16h0m1-2h0m-1 1h0m2 1h0m-1 0h0m-61-15h0m0 1h0m31 28h0m0 2h0m-1-2h0m1 1h0m-6-2h0m0 1h0m0-1h0m4 4h0m30-18h0m0 1h0m0-1h0m1 0h0m-25-34h0m-1-1h0m24 30h0m2 2h0m-48 13h0m1 0h0m18-51h0m4 57h0m26-19h0m-1 1h0m2 0h0m0-1h0m-55-35h0m-1 0h0m22 54h0m-1 1h0m-1-1h0m-3-3h0m0-1h0m37-15h0m-1 1h0m-31 19h0m12 0h0m0 0h0m1 2h0m-8-6h0m0 1h0m8-3h0m0 1h0m1 0h0m-11 1h0m-1 0h0m-30-29h0m1 0h0m-1 0h0m0-1h0m2 2h0m-1-10h0m-1 1h0m1 0h0m0 0h0m17-24h0m1 1h0m0-1h0m0 0h0m8 62h0m-1 0h0m1 1h0m2-1h0m1 0h0m-1 1h0m0-1h0m10-4h0m0 1h0m-2-6h0m1 1h0m-1 0h0m-30-3h0m1 0h0m-1 1h0m31 14h0m2 0h0m-1-1h0m-1 1h0m2 0h0m-1-1h0m-30-59h0m0 0h0m0 1h0m13-8h0m0 0h0m15 64h0m0 1h0m0 0h0m-1 0h0m1 0h0m-36-25h0m0 0h0m9 17h0m0 0h0m-7-38h0m-1-1h0m33-1h0m0 0h0m0 0h0m-27 38h0m1 0h0m31 8h0m0 0h0m1 2h0m0 0h0m0-1h0m0 2h0m-5-3h0m1 0h0m0-1h0m0 1h0m-21-60h0m-1-1h0m-1 1h0m-4 3h0m0 0h0m0-1h0m0 0h0m1 0h0m-1-1h0m-10 38h0m1 0h0m0 1h0m0 1h0m0-1h0m38 18h0m-1 0h0m0 1h0m1-1h0m-34-46h0m0 0h0m1 1h0m-2 0h0m1-1h0m-5 16h0m1 0h0m0 0h0m34 19h0m-1-2h0m1 1h0m4 17h0m1-1h0m-38-17h0m1-1h0m0 1h0m32 2h0m-8 11h0m3-1h0m1 1h0m7 1h0m-4-1h0m-1 1h0m4-6h0m1 0h0m-38-14h0m1-2h0m0 1h0m-1 0h0m0-1h0m1 2h0m33-6h0m1 1h0m1 0h0m-1 25h0m-1-1h0m0-1h0m-34-32h0m35 12h0m-1-1h0m0-1h0m0 1h0m0-19h0m1-1h0m1 27h0m-1 1h0m0 0h0m-10-43h0m0 1h0m-9 54h0m-1 0h0m0 0h0m-1 1h0m1-1h0m22 0h0m0-1h0m-2-23h0m0 0h0m-1 1h0m0-1h0m1 0h0m-13-31h0m0-2h0m0 1h0m1 0h0m0 0h0m0 1h0m-21 25h0m-1 1h0m-1-2h0m35-6h0m0-1h0m-1 0h0m0 0h0m0 2h0m2 1h0m-1 0h0m0 0h0m0 29h0m1 0h0m-2-27h0m0-1h0m2 21h0m-2-18h0m2 0h0m-1 0h0m1-1h0m-2 6h0m0 0h0m0 0h0m-7-26h0m0-1h0m7 23h0m0 15h0m2-1h0m-2-1h0m1 2h0m-1-2h0m0-11h0m1 0h0m-18-28h0m-8 6h0m8 50h0m1 0h0m-1 0h0m-13-38h0m-1 0h0m0 0h0m2 27h0m0 2h0m0-1h0m-1-1h0m30 10h0m1 1h0m0 0h0m1 0h0m0 0h0m-15 0h0m-1 0h0m1 1h0m-1-1h0m16-5h0m-1 1h0m-1 0h0m-11 4h0m1 0h0m-1 1h0m0 0h0m6 0h0m1-1h0m0-1h0m-2 0h0m-3 1h0m0-1h0m-1 2h0m0-2h0m2 0h0m2 1h0m0 0h0m-1 0h0m5 0h0m1 0h0m-1 0h0m1 0h0m-1 0h0m-2 1h0m0-1h0m-10-55h0m1-2h0m-1 0h0m2 2h0m-1-2h0m9 9h0m0-1h0m1 1h0m0 0h0m-1 0h0m1-1h0m-3-1h0m0 1h0m1-2h0m-1 2h0m7 46h0m0 2h0m0-1h0m-1-1h0m2 0h0m-23-51h0m1 1h0m6-3h0m-1 0h0m0-1h0m-1 1h0m1-1h0m-1 2h0m14 11h0m2 1h0m-22 40h0m20-5h0m1 1h0m0-3h0m-26 3h0m0-1h0m-1-1h0m1 0h0m4-44h0m0 1h0m0 0h0m0-1h0m11-2h0m0 1h0m11 49h0m1 3h0m-1 0h0m-1-1h0m1 0h0m-30-33h0m1 0h0m0 1h0m1-7h0m-1-1h0m6 40h0m2-2h0m-1 1h0m-1-1h0m0 1h0m0-1h0m23-8h0m-1 1h0m1-1h0m0 1h0m-31-3h0m1 1h0m0-1h0m6 8h0m-1 1h0m2 1h0m22 0h0m1 1h0m0 0h0m1 1h0m0-1h0m-1 0h0m-1 0h0m1-37h0m-1-1h0m0 0h0m0 1h0m-2 39h0m0 0h0m-5-49h0m-11-2h0m0-1h0m1 1h0m18 29h0m-5 22h0m1 0h0m4-20h0m0-5h0m0 1h0m0 11h0m1 0h0m-2 1h0m1-1h0m-1-26h0m0 1h0m0 21h0m1-1h0m0-1h0m-1 2h0m1-8h0m0-1h0m0 1h0m0-1h0m-5 25h0m-1 0h0m6-34h0m0-1h0m-3-7h0m1-1h0m-11-8h0m0-1h0m13 26h0m-1 0h0m0-1h0m0-5h0m1-1h0m-1 1h0m0-1h0m1 0h0m0 21h0m0-1h0m-1-1h0m1 0h0m-17 14h0m-1 1h0m-1-1h0m19-16h0m-1 1h0m-15-35h0m0-2h0m15 24h0m1-2h0m1 1h0m0 0h0m-2-1h0m0-2h0m-28 23h0m2-1h0m-1 1h0m27 8h0m0 0h0m-2 1h0m1-2h0m-28-28h0m-1 0h0m25-16h0m-1-2h0m2 2h0m-2-1h0m0 0h0m0 1h0m-1 46h0m-7-51h0m0-1h0m-11 10h0m-1 2h0m1-2h0m0 0h0m0 2h0m24 37h0m-20-43h0m1-1h0m18 42h0m1 0h0m0 0h0m-1 0h0m-26-32h0m1 0h0m-1-1h0m1 1h0m7-13h0m-10 36h0m1-8h0m0 0h0m0 1h0m0 1h0m20-28h0m0-2h0m-1 1h0m-4 49h0m0 1h0m-1 0h0m0-1h0m-15-23h0m18 24h0m1 1h0m-1-2h0m-8 0h0m2 0h0m-1-1h0m-6-7h0m-4-21h0m0 1h0m-1-1h0m16 30h0m1 0h0m-1 0h0m-8-44h0m-1 0h0m22 33h0m-28-9h0m0-7h0m0 1h0m-1-1h0m0-1h0m0 0h0m1 0h0m8 24h0m-9-13h0m0 2h0m2-1h0m4 11h0m0-1h0m18-42h0m-4-2h0m-1 1h0m10 10h0m-1-1h0m-26 4h0m7-10h0m19 9h0m0-1h0m1 1h0m-27 24h0m0 2h0m1 0h0m-1-1h0m27-24h0m-1-9h0m-2 2h0m1-1h0m-1 0h0m3 30h0m-3-32h0m-2 0h0m3 40h0m-12-44h0m13 25h0m-6 24h0m1-1h0m0 1h0m6-31h0m0 5h0m1-4h0m-2 1h0m1-1h0m0 14h0m-1 1h0m0-3h0m-7-30h0m0 2h0m0-1h0m-18 14h0m0 1h0m0-1h0m24 25h0m1 0h0m-1 0h0m-1 0h0m-21-1h0m6 6h0m10 2h0m-14-41h0m0 2h0m7 39h0m1 1h0m10-3h0m3-37h0m-2-2h0m-7 40h0m-3 2h0m1 0h0m-10-8h0m0 1h0m-5-24h0m1 1h0m1-1h0m21-11h0m2 3h0m0-1h0m-14-8h0m0 1h0m12 43h0m1 0h0m2-30h0m-1 22h0m-9-35h0m-15 23h0m24-7h0m-1 16h0m-5 12h0m-18-17h0m21 8h0m1 1h0m1-7h0m-1-22h0m-13-5h0m-4 38h0m18-13h0m-3 12h0m-7-38h0" stroke="#2a4c98" stroke-width="1.2" stroke-linecap="square" fill="none"/>
<path d="M584 241h0m1 36h0m-27 0h0m27 6h0m-31-12h0m1 0h0m6-35h0m-1 42h0m25 2h0m0-37h0m-18-13h0m13 52h0m5-24h0m0 2h0m0-14h0m-1 20h0m0-9h0m0 0h0m1-2h0m0 0h0m0 14h0m-18 14h0m17-16h0m-16-36h0m16 20h0m-2 31h0m-5 1h0m-18-42h0m1 1h0m2-8h0m18 2h0m-5 47h0m9-7h0m-19-44h0m0 0h0m-9 36h0m19-36h0m-7 50h0m-13-23h0m0-1h0m26 24h0m0-2h0m-21-4h0m-6-23h0m17 30h0m-10-43h0m22 33h0m0 0h0m0-31h0m-1-1h0m-28 16h0m0-2h0m10 23h0m0 0h0m-1 2h0m-9-13h0m2 0h0m21-32h0m6 37h0m-1-1h0m1 0h0m-5 10h0m-4-48h0m-2 0h0m-15 14h0m11-14h0m14 45h0m-2 0h0m1 2h0m-18-43h0m-1 1h0m0-1h0m22 8h0m-26 26h0m-1 0h0m27-24h0m-3-9h0m1 32h0m1 0h0m1 0h0m-2 0h0m1-1h0m-16 13h0m11-44h0m1-1h0m4 11h0m0 0h0m-13-15h0m2 1h0m10 44h0m-1-1h0m-1 1h0m2-1h0m-13-45h0m0 0h0m-1 2h0m14 27h0m1 0h0m-6 21h0m0 0h0m-17-38h0m-1-1h0m23 9h0m2-1h0m-2 0h0m2 1h0m-2-1h0m1 12h0m1-9h0m-2 21h0m1-8h0m-18-32h0m-1 1h0m1-1h0m17 29h0m-6-29h0m-2 0h0m-16 14h0m6 31h0m12 2h0m-1-1h0m-14-41h0m8 42h0m-1-2h0m1 1h0m0 0h0m0 0h0m0 1h0m10-3h0m0 0h0m-1 1h0m0-2h0m1 1h0m3-39h0m-9 41h0m8-10h0m-4-35h0m-1 1h0m1 1h0m-6 42h0m0 0h0m-8-3h0m-1 1h0m0-1h0m1 0h0m-2-3h0m-4-23h0m-1 0h0m6-12h0m0 0h0m11-3h0m-17 33h0m1 1h0m0-1h0m23-26h0m0-1h0m0 1h0m-12-8h0m-1 0h0m11 42h0m0 0h0m-19-33h0m1 0h0m-2 0h0m1 1h0m22 1h0m0-1h0m1-1h0m-1 2h0m-15 32h0m0 2h0m-10-27h0m2 1h0m8-17h0m-2 0h0m1-1h0m1 2h0m16 8h0m-2 0h0m0 23h0m1-1h0m1 0h0m-1 1h0m-5 9h0m0 0h0m0 2h0m-5-44h0m8 40h0m0 0h0m1-1h0m-1-1h0m0 1h0m0 1h0m-4-38h0m6 11h0m0 0h0m-25 5h0m2 2h0m-1-1h0m12-19h0m0 0h0m0 0h0m0-1h0m-12 23h0m0-1h0m1-1h0m-2 1h0m22 17h0m1-1h0m-21-12h0m-2-1h0m1 1h0m0-1h0m1 1h0m-1 5h0m0 0h0m-1 1h0m24-16h0m1 0h0m0-1h0m0 2h0m0 14h0m-4-27h0m-1 0h0m2 0h0m-4 39h0m1 0h0m1 1h0m3-39h0m1 1h0m-2-1h0m-14 37h0m1 0h0m3 2h0m0 0h0m1-1h0m0 0h0m-13-15h0m0-1h0m2 0h0m-2 2h0m24 7h0m-20-27h0m0-2h0m0 2h0m0-1h0m12-5h0m0-1h0m0 0h0m-16 29h0m0-2h0m1 2h0m1 0h0m1-19h0m0-1h0m21 6h0m-17-11h0m1 0h0m13 36h0m0 0h0m0-1h0m1 1h0m-1 0h0m-6 3h0m0-2h0m9-12h0m2-2h0m-22 9h0m21-17h0m-1-1h0m-1-13h0m-12-5h0m-1 0h0m1 0h0m14 19h0m0 0h0m-18 19h0m0-1h0m0 0h0m0 1h0m17-16h0m2 0h0m-7-20h0m6 21h0m-2-15h0m-2 31h0m-6-39h0m-1 1h0m0 0h0m1-1h0m0 0h0m0 0h0m0 0h0m8 11h0m-1-1h0m0 1h0m-2-7h0m1 0h0m-1 0h0m1 0h0m0 1h0m0-2h0m1 29h0m-2 4h0m-7-35h0m-1 40h0m-2-2h0m1 0h0m9 1h0m-1 0h0m0 1h0m0-2h0m-3-37h0m0 0h0m2 0h0m-1 1h0m-1 0h0m1-1h0m3 4h0m1 0h0m-1 0h0m4 7h0m-1-2h0m-19 21h0m0 1h0m14-30h0m3 30h0m0 0h0m-5 6h0m0 0h0m-6-38h0m9 37h0m1 1h0m-1 0h0m-14-32h0m11 33h0m0 0h0m-2 0h0m7-32h0m0 0h0m0 0h0m-6-6h0m-6 3h0m-5 10h0m0 2h0m5 21h0m15-7h0m-2-1h0m0 0h0m-6-27h0m-3-2h0m-6 5h0m-3 12h0m16-12h0m-15 28h0m-3-12h0m14 17h0m-8-3h0m-5-7h0m0 1h0m16-21h0m-1 0h0m-7-4h0m-8 18h0m7 16h0m2-36h0m6 31h0m1 0h0m-6 4h0m1 0h0m9-12h0m-1 1h0m1 0h0m0-1h0m-15-19h0m8-1h0m6 14h0m-18-7h0m19 8h0m-3-10h0m-15 21h0m9 3h0m-8 0h0m4 0h0" stroke="#3a86c0" stroke-width="1.2" stroke-linecap="square" fill="none"/>
<path d="M579 239h0m-20 6h0m18 33h0m-1 1h0m-1-43h0m-18 19h0m-1 2h0m0 0h0m3 14h0m21-4h0m2 1h0m0-1h0m-2 0h0m-11 12h0m-11-16h0m-2 0h0m2 0h0m21 8h0m-18-28h0m0 0h0m-1 1h0m14-7h0m-18 27h0m0 0h0m3-17h0m4-5h0m13 35h0m-3 3h0m-1-1h0m1-1h0m-2 2h0m-1-1h0m-9-7h0m-1 0h0m18-28h0m-11-7h0m-1 0h0m15 20h0m-1-1h0m-18 18h0m0 1h0m0 0h0m19-16h0m-1 5h0m2 0h0m-1-1h0m-1-1h0m1-1h0m-1-16h0m-1-1h0m0 1h0m-2 31h0m1-29h0m-2-6h0m0-1h0m1 1h0m-19 8h0m0 0h0m1 0h0m19 20h0m-2 5h0m2-2h0m-9-35h0m-1 0h0m-2 41h0m9-1h0m-1 0h0m-1-38h0m4 3h0m0 2h0m1-2h0m1 7h0m-20 3h0m0 17h0m16-28h0m0 0h0m2 30h0m1 0h0m-4 6h0m-7-39h0m0 1h0m0 1h0m0 0h0m-1-2h0m10 37h0m-1 0h0m-14-30h0m0-1h0m0 2h0m10 31h0m0 0h0m0 0h0m1 1h0m0-1h0m-1 0h0m5-32h0m1-1h0m-7-5h0m1 0h0m-12 14h0m7 22h0m13-9h0m0 1h0m-1 0h0m-5-27h0m0 0h0m-3-2h0m-12 16h0m1 1h0m15-13h0m1 1h0m-17 14h0m1 0h0m20-7h0m-5 24h0m1-2h0m0 2h0m-14-4h0m16-23h0m-1 0h0m-17 12h0m15 15h0m-1 1h0m-1 0h0m-9-2h0m0 1h0m-1-1h0m8-33h0m0 2h0m0-1h0m8 28h0m-2 1h0m-18-3h0m2-1h0m-2 1h0m16-23h0m-1-1h0m-1 0h0m1 0h0m-7-2h0m1-1h0m0 1h0m12 24h0m0 0h0m-13 10h0m0 1h0m-5-29h0m17 7h0m1-2h0m-11-11h0m1 0h0m-1-1h0m1 1h0m-1 1h0m0 33h0m-9-12h0m1 0h0m0 0h0m-1-1h0m-1 4h0m0-1h0m0 0h0m19-15h0m0 0h0m0 0h0m0 0h0m1 12h0m0 1h0m0 0h0m-5 11h0m0-1h0m-1 0h0m6-18h0m0-1h0m-13-12h0m0 1h0m5 0h0m1 1h0m8 13h0m0 0h0m-1 5h0m-18-12h0m0-2h0m1 0h0m-1 1h0m19 11h0m-6-15h0m0 0h0m-10-1h0m-1 1h0m15 22h0m0-1h0m-1 0h0m-16 3h0m2 0h0m-1 0h0m-1 0h0m0 1h0m4 4h0m0 0h0m-2-23h0m-2 1h0m1-2h0m8-7h0m-1-1h0m-1 0h0m0 2h0m-1 0h0m8 25h0m-10 1h0m12-19h0m0 0h0m-14 4h0m12 16h0m-1 0h0m-12-15h0m7 18h0m0-2h0m-1 1h0m2 0h0m0 1h0m-1-1h0m10-8h0m-15-19h0m-1 1h0m0 1h0m2-1h0m-1 0h0m2-2h0m-4 22h0m0 0h0m7-22h0m9 9h0m0 0h0m-2 13h0m2-4h0m-13-14h0m0 0h0m-4 14h0m4 7h0m10 0h0m-2-1h0m5-8h0m0 0h0m0 1h0m-5-16h0m5 9h0m-15 13h0m14-9h0m0 0h0m2-3h0m-1 1h0m-3-5h0m-12 2h0m0 0h0m7 16h0m6-4h0m-6-18h0m4 18h0m-10-6h0" stroke="#3cb4b0" stroke-width="1.2" stroke-linecap="square" fill="none"/>
<path d="M559 252h0m21 15h0m-18-25h0m-2 13h0m14 17h0m-15-14h0m17-13h0m-2 0h0m0-1h0m-8-3h0m-8 20h0m8 14h0m13-22h0m-10-11h0m0 34h0m1-2h0m-2 0h0m-9-11h0m17-13h0m2-1h0m1 13h0m0 1h0m-6 10h0m6-18h0m-14-11h0m15 13h0m-1 1h0m-5-12h0m-1 0h0m-1-1h0m-8-1h0m-1 1h0m-2 24h0m5 3h0m-2 1h0m1-1h0m-1 1h0m-3-21h0m-1-2h0m9-7h0m-1 0h0m1 0h0m6 27h0m-1-1h0m-4 3h0m1 1h0m-9-20h0m-1 0h0m0 0h0m2 17h0m0 2h0m-1-2h0m0 1h0m15-20h0m-1 0h0m-16 4h0m13 16h0m0 1h0m0 0h0m-1-28h0m-11 13h0m-1 0h0m0 0h0m6 16h0m0 0h0m2 0h0m-1-1h0m0 0h0m1 1h0m5-27h0m-1 1h0m1 1h0m1 0h0m2 16h0m1 0h0m0 2h0m0 0h0m-2-18h0m-12 0h0m1-2h0m-2 2h0m-1 10h0m-1 1h0m1 0h0m5-14h0m-2 1h0m1-2h0m0 2h0m0-2h0m-4 22h0m-1 2h0m8-22h0m8 7h0m2 0h0m-1 1h0m-1-1h0m0 0h0m-15 8h0m-1 0h0m7-15h0m0 0h0m0-1h0m8 23h0m0-1h0m2-3h0m0-2h0m-14-14h0m0 2h0m1 0h0m8 20h0m-1 2h0m-9-9h0m-1 0h0m4 8h0m7-2h0m0 1h0m6-10h0m-2 2h0m0 0h0m-5-15h0m0 0h0m-1 1h0m-8 21h0m0-1h0m1-16h0m-1 0h0m0-1h0m14 8h0m1-1h0m-1-7h0m-1 1h0m0-1h0m0 0h0m1 0h0m-3-2h0m0 1h0m-8-3h0m0-1h0m1 1h0m0 0h0m0-1h0m-4 7h0m8 18h0m-2 0h0m2 0h0m-8-16h0m2 0h0m-1 0h0m-1 1h0m6 16h0m-1-2h0m8-5h0m-6-18h0m-1 1h0m1-1h0m1 1h0m0 0h0m-7 8h0m-1 1h0m1-1h0m-1 2h0m4-11h0m1 0h0m-3 1h0m9 19h0m0 0h0m-3 1h0m2 2h0m-1 0h0m-1-20h0m4 13h0m-10 5h0m9-17h0m-1 1h0m2-2h0m-1 1h0m1 1h0m-1-1h0m-9 0h0m0-1h0m1 1h0m-1 1h0m2 0h0m-3 8h0m-1 0h0m1 1h0m13 0h0m-2 1h0m1-1h0m-8-12h0m-1 0h0m3 0h0m0-1h0m0 1h0m6 5h0m-1 0h0m0 0h0m0 0h0m-10-1h0m2 1h0m-1-2h0m-1 1h0m1-1h0m9 7h0m1 0h0m-1 1h0m0-1h0m-12 6h0m2-1h0m-1 1h0m11-7h0m-6 12h0m1-1h0m1 0h0m3-3h0m0-2h0m-9-9h0m0-1h0m4 15h0m-1 0h0m-1 0h0m4-18h0m2 15h0m-1 0h0m-4-15h0m-1 1h0m6 0h0m1 11h0m0 0h0m-5-11h0m-3 16h0m1 0h0m7-6h0m0-6h0m-3-4h0m-4 4h0m6 3h0m0-2h0m-8 5h0m5 4h0m0-12h0m2 12h0m-2-11h0m2 8h0m0 0h0m-1-2h0m-4 4h0" stroke="#7cc850" stroke-width="1.2" stroke-linecap="square" fill="none"/>
<path d="M573 246h0m-10 0h0m13 7h0m1-1h0m0 1h0m-3 13h0m-12-18h0m8 23h0m-9-8h0m0 1h0m0 0h0m0 1h0m11 3h0m0 0h0m1 1h0m5-8h0m-1 0h0m1 0h0m-1 0h0m-1 1h0m-6-14h0m0-2h0m2 2h0m4 7h0m-14 14h0m15-12h0m0 0h0m-3-7h0m0 1h0m-9-5h0m-3 7h0m6 18h0m1 0h0m0-1h0m-6-16h0m0 0h0m0 2h0m11 10h0m0-2h0m0 1h0m0 0h0m2-1h0m-8-16h0m1-1h0m0 0h0m-6 11h0m0-1h0m1-7h0m1-1h0m1 0h0m-2 1h0m8 16h0m-10-8h0m10 11h0m-2-20h0m0 1h0m6 3h0m-10 16h0m-2 0h0m9-18h0m-1 0h0m-9 10h0m12 0h0m-7-11h0m-2 0h0m2-1h0m7 7h0m0 0h0m-10-3h0m0-1h0m-2 13h0m-1 0h0m12-9h0m-4 14h0m-2-2h0m-5-6h0m9 4h0m-5 2h0m3-17h0m1 0h0m-6 7h0m6 9h0m-5-15h0m0-2h0m7 2h0m-1 1h0m0 10h0m-2-12h0m-5 15h0m-1 1h0m0-1h0m1-7h0m3-7h0m5 9h0m0-5h0m1-1h0m-2 0h0m0-2h0m-1 0h0m-3 2h0m5 1h0m0 1h0m-1 1h0m1-1h0m-9 4h0m6 5h0m-2 0h0m1 1h0m-1-15h0m1 2h0m-3 12h0m2-8h0m-1-1h0m-3 8h0m8-10h0m-2-1h0m1 0h0m1 1h0m-4 1h0m1 0h0m1 7h0m0 0h0m-4-4h0m2 0h0m2-2h0m0-1h0m0 0h0m0 2h0m0 3h0m0 0h0m-1-4h0m0 0h0m0-1h0m2 2h0m1 2h0m-4 5h0m0-6h0m-2 6h0m1-4h0m1-1h0m-1 4h0m-1-1h0m4 0h0" stroke="#c8d838" stroke-width="1.2" stroke-linecap="square" fill="none"/>
<path d="M568 247h0m-5 9h0m10 11h0m-10-8h0m8 10h0m4-17h0m-1 1h0m0 11h0m-12 2h0m2 2h0m2 2h0m6-18h0m1-1h0m2 10h0m0-1h0m-8-10h0m1-2h0m7 8h0m1-2h0m-10 0h0m9 4h0m-12 6h0m-1 0h0m1 1h0m0-1h0m6 5h0m-6-6h0m-1-1h0m12 2h0m-9-8h0m-1-2h0m0 1h0m2 1h0m4-4h0m-5 4h0m0 1h0m6 10h0m0 0h0m-5-17h0m7 4h0m1-2h0m-2 10h0m-7-3h0m1 0h0m-1-1h0m2-4h0m7 7h0m-2-6h0m-2-2h0m3 7h0m-1-4h0m-7 5h0m4 6h0m-2-10h0m0 1h0m-2 7h0m0 1h0m0-1h0m4-11h0m-2 5h0m4-3h0m-1 0h0m1 4h0m-1 6h0m-2-8h0m-1 4h0m0-1h0m2 0h0m1 0h0m-4 3h0m0-2h0m0 0h0m3 1h0m-1 0h0m0 1h0" stroke="#f0c030" stroke-width="1.2" stroke-linecap="square" fill="none"/>
<path d="M566 254h0m9 3h0m-7 13h0m-6-7h0m5 7h0m-1-1h0m-1-11h0m0-2h0m6 12h0m-4-17h0m6 1h0m0 0h0m-4-2h0m-5 9h0m7-7h0m1 2h0m1 3h0m-7 5h0m-1-1h0m4 6h0m-1-1h0m0 0h0m1-14h0m-1 1h0m0-1h0m1 2h0m1 11h0m1 1h0m-5 1h0m0-1h0m1 2h0m-3-3h0m1 0h0m1 1h0m-1-1h0m0-2h0m1-1h0m-1 2h0m4-9h0m1 0h0m-1-1h0m0 1h0m2 8h0m-4-5h0m0 0h0m0 2h0m3-3h0m0-1h0m0 4h0m1 0h0m-1 0h0m-2-3h0m1-1h0m1 2h0m-1 7h0m0 0h0m-1 1h0m1-6h0m0-1h0m-1-1h0m1 2h0m-3 5h0m1 0h0m-1-1h0m0 1h0m1-1h0m0 1h0m-1-3h0m1-1h0m3 1h0m-3 0h0m-1 1h0m3 0h0m0 1h0m-1-2h0" stroke="#f09028" stroke-width="1.2" stroke-linecap="square" fill="none"/>
<rect x="539" y="270" width="38" height="44" fill="#fff" fill-opacity="0.72"/>
<rect x="525.8" y="96" width="219.5" height="218.5" fill="none" stroke="#222" stroke-width="1.3"/>
<line x1="597.7" y1="96" x2="597.7" y2="314.5" stroke="#222" stroke-width="1.3"/>
<line x1="525.8" y1="243.8" x2="745.3" y2="243.8" stroke="#222" stroke-width="1.3"/>
<path d="M520.3 117.7H525.8M520.3 166.3H525.8M520.3 218H525.8M522.8 202.4H525.8M522.8 193.3H525.8M522.8 186.9H525.8M522.8 181.9H525.8M522.8 177.8H525.8M522.8 174.3H525.8M522.8 171.3H525.8M522.8 168.7H525.8M522.8 151.7H525.8M522.8 143.1H525.8M522.8 137H525.8M522.8 132.3H525.8M522.8 128.5H525.8M522.8 125.2H525.8M522.8 122.4H525.8M522.8 119.9H525.8M522.8 103.1H525.8M522.8 94.5H525.8M522.8 232H525.8M522.8 240.2H525.8M522.8 246H525.8M522.8 250.5H525.8M522.8 254.2H525.8M522.8 257.3H525.8M522.8 260H525.8M522.8 262.4H525.8M520.3 290H525.8M521.8 284H525.8M521.8 287H525.8M521.8 293H525.8M521.8 296H525.8M521.8 299H525.8M622.6 314.5V320M673.1 314.5V320M723.6 314.5V320M637.8 314.5V317.5M646.7 314.5V317.5M653 314.5V317.5M657.9 314.5V317.5M661.9 314.5V317.5M665.3 314.5V317.5M668.2 314.5V317.5M670.8 314.5V317.5M688.3 314.5V317.5M697.2 314.5V317.5M703.5 314.5V317.5M708.4 314.5V317.5M712.4 314.5V317.5M715.8 314.5V317.5M718.7 314.5V317.5M721.3 314.5V317.5M609.7 314.5V317.5M602.1 314.5V317.5M596.8 314.5V317.5M592.6 314.5V317.5M589.2 314.5V317.5M586.3 314.5V317.5M583.8 314.5V317.5M581.6 314.5V317.5M539.4 314.5V318M544.4 314.5V318M548.4 314.5V318M551.4 314.5V318M554.4 314.5V320M557.4 314.5V318M560.4 314.5V318M564.4 314.5V318M569.4 314.5V318" stroke="#222" stroke-width="1.1" fill="none"/>
<path d="M537.3 314.5v2M538.6 314.5v4.5M541.2 314.5v4.9M545.1 314.5v5.3M546.4 314.5v3M549 314.5v3.2M551.6 314.5v2.9M554.2 314.5v2.4M555.5 314.5v5.5M556.8 314.5v5.8M559.4 314.5v4.2M562 314.5v3.7M563.3 314.5v5.5M564.6 314.5v5.4M565.9 314.5v4.7M567.2 314.5v2.4M568.5 314.5v4.8" stroke="#1a1a1a" stroke-width="1.2" fill="none"/>
<text x="515.8" y="127.7" font-size="14" text-anchor="end" letter-spacing="1" fill="#2a2a2a">10<tspan dy="-9" font-size="13">5</tspan></text>
<text x="515.8" y="176.3" font-size="14" text-anchor="end" letter-spacing="1" fill="#2a2a2a">10<tspan dy="-9" font-size="13">4</tspan></text>
<text x="515.8" y="228" font-size="14" text-anchor="end" letter-spacing="1" fill="#2a2a2a">10<tspan dy="-9" font-size="13">3</tspan></text>
<text x="515.8" y="279.7" font-size="14" text-anchor="end" letter-spacing="1" fill="#2a2a2a">10<tspan dy="-9" font-size="13">2</tspan></text>
<text x="504.3" y="295" font-size="14" text-anchor="end" fill="#2a2a2a">0</text>
<text x="515.8" y="313" font-size="14" text-anchor="end" letter-spacing="1" fill="#2a2a2a">-10<tspan dy="-9" font-size="13">2</tspan></text>
<text x="554.4" y="343.5" font-size="14" text-anchor="middle" fill="#2a2a2a">0</text>
<text x="616.6" y="343.5" font-size="14" letter-spacing="1" fill="#2a2a2a">10<tspan dy="-10" font-size="13">3</tspan></text>
<text x="667.1" y="343.5" font-size="14" letter-spacing="1" fill="#2a2a2a">10<tspan dy="-10" font-size="13">4</tspan></text>
<text x="717.6" y="343.5" font-size="14" letter-spacing="1" fill="#2a2a2a">10<tspan dy="-10" font-size="13">5</tspan></text>
<text x="530.8" y="125" font-size="18.5" letter-spacing="1.6" fill="#333">19.4</text>
<text x="716.3" y="125" text-anchor="end" font-size="18.5" letter-spacing="1.6" fill="#333">4.02</text>
<text x="530.8" y="297.5" font-size="18.5" letter-spacing="1.6" fill="#333">58.2</text>
<text x="716.3" y="297.5" text-anchor="end" font-size="18.5" letter-spacing="1.6" fill="#333">18.4</text>
<text x="582" y="76.5" font-size="26.5">IFN<tspan font-size="24">γ</tspan><tspan dy="-10" font-size="15">ΔKRKR</tspan></text>
<path d="M848 216h0m-2 2h0m2 0h0m2 0h0m2 0h0m-8 2h0m2 0h0m2 0h0m2 0h0m2 0h0m2 0h0m2 0h0m-18 2h0m2 0h0m2 0h0m2 0h0m2 0h0m2 0h0m2 0h0m2 0h0m2 0h0m2 0h0m2 0h0m-22 2h0m2 0h0m2 0h0m2 0h0m2 0h0m2 0h0m2 0h0m2 0h0m2 0h0m2 0h0m2 0h0m2 0h0m2 0h0m-24 2h0m2 0h0m2 0h0m2 0h0m2 0h0m2 0h0m2 0h0m2 0h0m2 0h0m2 0h0m2 0h0m2 0h0m2 0h0m2 0h0m-26 2h0m2 0h0m2 0h0m2 0h0m2 0h0m2 0h0m2 0h0m2 0h0m2 0h0m2 0h0m2 0h0m2 0h0m2 0h0m2 0h0m2 0h0m2 0h0m-32 2h0m2 0h0m2 0h0m2 0h0m2 0h0m2 0h0m2 0h0m2 0h0m2 0h0m8 0h0m2 0h0m2 0h0m2 0h0m2 0h0m-34 2h0m2 0h0m2 0h0m2 0h0m2 0h0m2 0h0m2 0h0m16 0h0m2 0h0m2 0h0m2 0h0m-36 2h0m2 0h0m2 0h0m2 0h0m2 0h0m2 0h0m2 0h0m20 0h0m2 0h0m2 0h0m-36 2h0m2 0h0m2 0h0m2 0h0m2 0h0m2 0h0m22 0h0m2 0h0m2 0h0m-36 2h0m2 0h0m2 0h0m2 0h0m2 0h0m2 0h0m20 0h0m2 0h0m2 0h0m2 0h0m-36 2h0m2 0h0m2 0h0m2 0h0m2 0h0m22 0h0m2 0h0m2 0h0m2 0h0m-36 2h0m2 0h0m2 0h0m28 0h0m2 0h0m2 0h0m-36 2h0m2 0h0m2 0h0m28 0h0m2 0h0m2 0h0m-36 2h0m2 0h0m30 0h0m2 0h0m2 0h0m-38 2h0m2 0h0m2 0h0m30 0h0m2 0h0m2 0h0m-38 2h0m2 0h0m2 0h0m30 0h0m2 0h0m2 0h0m-38 2h0m2 0h0m32 0h0m2 0h0m2 0h0m-38 2h0m34 0h0m2 0h0m2 0h0m-40 2h0m2 0h0m34 0h0m2 0h0m2 0h0m2 0h0m-42 2h0m2 0h0m36 0h0m2 0h0m2 0h0m24 0h0m2 0h0m2 0h0m2 0h0m2 0h0m2 0h0m-76 2h0m2 0h0m36 0h0m2 0h0m2 0h0m22 0h0m2 0h0m2 0h0m2 0h0m2 0h0m2 0h0m2 0h0m-76 2h0m2 0h0m36 0h0m2 0h0m2 0h0m20 0h0m2 0h0m2 0h0m2 0h0m2 0h0m2 0h0m2 0h0m2 0h0m2 0h0m-78 2h0m2 0h0m36 0h0m2 0h0m2 0h0m18 0h0m2 0h0m2 0h0m2 0h0m2 0h0m2 0h0m2 0h0m2 0h0m2 0h0m2 0h0m2 0h0m-80 2h0m2 0h0m34 0h0m2 0h0m2 0h0m20 0h0m2 0h0m2 0h0m2 0h0m2 0h0m2 0h0m2 0h0m2 0h0m2 0h0m2 0h0m2 0h0m2 0h0m-82 2h0m2 0h0m34 0h0m2 0h0m2 0h0m18 0h0m2 0h0m2 0h0m2 0h0m2 0h0m2 0h0m2 0h0m2 0h0m2 0h0m2 0h0m2 0h0m2 0h0m2 0h0m-82 2h0m2 0h0m32 0h0m2 0h0m2 0h0m20 0h0m2 0h0m2 0h0m2 0h0m8 0h0m2 0h0m2 0h0m2 0h0m2 0h0m2 0h0m2 0h0m-84 2h0m2 0h0m2 0h0m30 0h0m2 0h0m2 0h0m20 0h0m2 0h0m2 0h0m12 0h0m2 0h0m2 0h0m2 0h0m2 0h0m2 0h0m-82 2h0m2 0h0m2 0h0m26 0h0m2 0h0m2 0h0m22 0h0m2 0h0m2 0h0m14 0h0m2 0h0m2 0h0m2 0h0m2 0h0m-80 2h0m2 0h0m26 0h0m2 0h0m2 0h0m22 0h0m2 0h0m2 0h0m14 0h0m2 0h0m2 0h0m2 0h0m2 0h0m-80 2h0m2 0h0m2 0h0m22 0h0m2 0h0m2 0h0m2 0h0m22 0h0m2 0h0m2 0h0m2 0h0m14 0h0m2 0h0m2 0h0m2 0h0m-78 2h0m2 0h0m2 0h0m20 0h0m2 0h0m2 0h0m24 0h0m2 0h0m2 0h0m2 0h0m2 0h0m12 0h0m2 0h0m2 0h0m2 0h0m-78 2h0m2 0h0m2 0h0m18 0h0m2 0h0m2 0h0m2 0h0m24 0h0m2 0h0m2 0h0m2 0h0m2 0h0m12 0h0m2 0h0m2 0h0m2 0h0m-78 2h0m2 0h0m2 0h0m2 0h0m16 0h0m2 0h0m2 0h0m2 0h0m24 0h0m2 0h0m2 0h0m2 0h0m2 0h0m12 0h0m2 0h0m2 0h0m2 0h0m-76 2h0m2 0h0m2 0h0m2 0h0m14 0h0m2 0h0m2 0h0m2 0h0m26 0h0m2 0h0m2 0h0m2 0h0m2 0h0m8 0h0m2 0h0m2 0h0m2 0h0m2 0h0m-74 2h0m2 0h0m2 0h0m2 0h0m14 0h0m2 0h0m2 0h0m28 0h0m2 0h0m2 0h0m2 0h0m6 0h0m2 0h0m2 0h0m2 0h0m2 0h0m-72 2h0m2 0h0m2 0h0m2 0h0m14 0h0m2 0h0m2 0h0m28 0h0m2 0h0m2 0h0m2 0h0m2 0h0m2 0h0m2 0h0m2 0h0m2 0h0m2 0h0m-70 2h0m2 0h0m2 0h0m18 0h0m2 0h0m30 0h0m2 0h0m2 0h0m2 0h0m2 0h0m2 0h0m2 0h0m2 0h0m-68 2h0m2 0h0m2 0h0m18 0h0m2 0h0m30 0h0m2 0h0m2 0h0m2 0h0m2 0h0m2 0h0m2 0h0m-66 2h0m2 0h0m2 0h0m18 0h0m2 0h0m2 0h0m30 0h0m2 0h0m2 0h0m2 0h0m2 0h0m2 0h0m-66 2h0m2 0h0m2 0h0m18 0h0m2 0h0m2 0h0m32 0h0m2 0h0m2 0h0m2 0h0m-64 2h0m2 0h0m2 0h0m18 0h0m2 0h0m2 0h0m32 0h0m2 0h0m2 0h0m-60 2h0m2 0h0m18 0h0m2 0h0m2 0h0m34 0h0m2 0h0m-60 2h0m2 0h0m2 0h0m16 0h0m2 0h0m2 0h0m-22 2h0m2 0h0m2 0h0m2 0h0m12 0h0m2 0h0m2 0h0m-18 2h0m2 0h0m2 0h0m2 0h0m2 0h0m2 0h0m2 0h0m2 0h0m2 0h0m2 0h0m-14 2h0m2 0h0m2 0h0m2 0h0m2 0h0m2 0h0m2 0h0" stroke="#e2f3fa" stroke-width="2.2" stroke-linecap="square" fill="none"/>
<path d="M852 230h0m2 0h0m2 0h0m-10 2h0m2 0h0m2 0h0m2 0h0m2 0h0m2 0h0m2 0h0m-14 2h0m2 0h0m2 0h0m2 0h0m2 0h0m2 0h0m2 0h0m2 0h0m2 0h0m-18 2h0m2 0h0m2 0h0m2 0h0m2 0h0m2 0h0m2 0h0m2 0h0m2 0h0m2 0h0m-18 2h0m2 0h0m2 0h0m2 0h0m2 0h0m2 0h0m2 0h0m2 0h0m2 0h0m-18 2h0m2 0h0m2 0h0m2 0h0m2 0h0m2 0h0m2 0h0m2 0h0m2 0h0m2 0h0m-22 2h0m2 0h0m2 0h0m2 0h0m2 0h0m6 0h0m2 0h0m2 0h0m2 0h0m2 0h0m2 0h0m-24 2h0m2 0h0m2 0h0m12 0h0m2 0h0m2 0h0m2 0h0m2 0h0m-26 2h0m2 0h0m2 0h0m16 0h0m2 0h0m2 0h0m2 0h0m-26 2h0m2 0h0m20 0h0m2 0h0m2 0h0m-26 2h0m2 0h0m20 0h0m2 0h0m2 0h0m-28 2h0m2 0h0m22 0h0m2 0h0m2 0h0m-30 2h0m2 0h0m26 0h0m2 0h0m-30 2h0m28 0h0m2 0h0m-30 2h0m30 0h0m2 0h0m-32 2h0m30 0h0m2 0h0m-32 2h0m30 0h0m2 0h0m-32 2h0m30 0h0m2 0h0m-32 2h0m30 0h0m-30 2h0m2 0h0m26 0h0m2 0h0m-30 2h0m2 0h0m26 0h0m34 0h0m2 0h0m2 0h0m-64 2h0m2 0h0m22 0h0m2 0h0m32 0h0m2 0h0m2 0h0m2 0h0m2 0h0m-64 2h0m2 0h0m18 0h0m2 0h0m34 0h0m2 0h0m2 0h0m2 0h0m2 0h0m2 0h0m-66 2h0m2 0h0m2 0h0m14 0h0m2 0h0m2 0h0m34 0h0m2 0h0m2 0h0m2 0h0m2 0h0m2 0h0m-64 2h0m2 0h0m2 0h0m8 0h0m2 0h0m2 0h0m2 0h0m38 0h0m2 0h0m2 0h0m2 0h0m2 0h0m2 0h0m-64 2h0m2 0h0m2 0h0m2 0h0m2 0h0m2 0h0m2 0h0m2 0h0m2 0h0m40 0h0m2 0h0m2 0h0m2 0h0m2 0h0m-64 2h0m2 0h0m2 0h0m2 0h0m2 0h0m2 0h0m2 0h0m2 0h0m42 0h0m2 0h0m2 0h0m2 0h0m2 0h0m-62 2h0m2 0h0m2 0h0m2 0h0m2 0h0m2 0h0m2 0h0m42 0h0m2 0h0m2 0h0m2 0h0m2 0h0m-60 2h0m2 0h0m2 0h0m2 0h0m2 0h0m2 0h0m44 0h0m2 0h0m2 0h0m-56 2h0m2 0h0m2 0h0m2 0h0m2 0h0m2 0h0m42 0h0m2 0h0m-54 2h0m2 0h0m2 0h0m2 0h0m2 0h0m2 0h0m-12 2h0m2 0h0m2 0h0m2 0h0m2 0h0m2 0h0m2 0h0m2 0h0m-14 2h0m2 0h0m2 0h0m2 0h0m2 0h0m2 0h0m2 0h0m2 0h0m-14 2h0m2 0h0m2 0h0m2 0h0m2 0h0m2 0h0m2 0h0m2 0h0m-14 2h0m2 0h0m2 0h0m2 0h0m2 0h0m2 0h0m2 0h0m2 0h0m-14 2h0m2 0h0m2 0h0m2 0h0m2 0h0m2 0h0m2 0h0m2 0h0m-14 2h0m2 0h0m2 0h0m2 0h0m2 0h0m2 0h0m2 0h0m2 0h0m-12 2h0m2 0h0m2 0h0m2 0h0m2 0h0m2 0h0m2 0h0m-8 2h0m2 0h0m2 0h0m2 0h0m2 0h0" stroke="#cdeef0" stroke-width="2.2" stroke-linecap="square" fill="none"/>
<path d="M846 242h0m2 0h0m-6 2h0m2 0h0m2 0h0m2 0h0m2 0h0m-10 2h0m2 0h0m2 0h0m2 0h0m2 0h0m2 0h0m2 0h0m-14 2h0m2 0h0m2 0h0m6 0h0m2 0h0m2 0h0m2 0h0m-16 2h0m2 0h0m10 0h0m2 0h0m2 0h0m-18 2h0m2 0h0m14 0h0m2 0h0m-20 2h0m2 0h0m18 0h0m2 0h0m-24 2h0m2 0h0m20 0h0m2 0h0m-24 2h0m2 0h0m22 0h0m2 0h0m-26 2h0m26 0h0m-26 2h0m26 0h0m-26 2h0m26 0h0m-26 2h0m2 0h0m24 0h0m-24 2h0m22 0h0m-22 2h0m2 0h0m20 0h0m-20 2h0m2 0h0m16 0h0m-16 2h0m2 0h0m10 0h0m2 0h0m-12 2h0m2 0h0m2 0h0m2 0h0m2 0h0m2 0h0m-8 2h0m2 0h0m2 0h0" stroke="#d2f0bc" stroke-width="2.2" stroke-linecap="square" fill="none"/>
<path d="M844 248h0m2 0h0m-4 2h0m2 0h0m2 0h0m2 0h0m-8 2h0m2 0h0m6 0h0m2 0h0m-12 2h0m2 0h0m10 0h0m2 0h0m-16 2h0m2 0h0m14 0h0m-16 2h0m16 0h0m2 0h0m-20 2h0m2 0h0m18 0h0m2 0h0m-22 2h0m2 0h0m18 0h0m2 0h0m-22 2h0m2 0h0m18 0h0m2 0h0m-20 2h0m18 0h0m2 0h0m-20 2h0m18 0h0m-16 2h0m14 0h0m2 0h0m-14 2h0m2 0h0m2 0h0m4 0h0m2 0h0m2 0h0m-10 2h0m2 0h0m2 0h0m2 0h0" stroke="#e6f0a4" stroke-width="2.2" stroke-linecap="square" fill="none"/>
<path d="M844 252h0m2 0h0m-4 2h0m2 0h0m2 0h0m2 0h0m-8 2h0m2 0h0m6 0h0m2 0h0m-12 2h0m2 0h0m8 0h0m2 0h0m-12 2h0m12 0h0m2 0h0m-14 2h0m12 0h0m2 0h0m-14 2h0m14 0h0m-14 2h0m14 0h0m-14 2h0m2 0h0m10 0h0m2 0h0m-12 2h0m2 0h0m2 0h0m2 0h0m2 0h0m2 0h0m-4 2h0" stroke="#f6e29a" stroke-width="2.2" stroke-linecap="square" fill="none"/>
<path d="M844 256h0m2 0h0m-4 2h0m2 0h0m2 0h0m-6 2h0m2 0h0m2 0h0m2 0h0m2 0h0m-8 2h0m2 0h0m2 0h0m2 0h0m2 0h0m-8 2h0m2 0h0m2 0h0m2 0h0m2 0h0m2 0h0m-10 2h0m2 0h0m2 0h0m2 0h0m2 0h0m2 0h0m-8 2h0m2 0h0m2 0h0m2 0h0" stroke="#f6c890" stroke-width="2.2" stroke-linecap="square" fill="none"/>
<path d="M890 165h0m65 65h0m-114-57h0m80 44h0m-46-35h0m58 116h0m-115 16h0m3-119h0m-3 18h0m68-21h0m37 120h0m-7-84h0m7 15h0m-62-64h0m60 127h0m10-52h0m-5 37h0m-46-93h0m25 14h0m-10 5h0m11-11h0m-30-12h0m-17-12h0m20 10h0m26 35h0m3-19h0m-35-2h0m-44-13h0m-20 82h0m103-43h0m-36-16h0m51 36h0m2 15h0m-1 13h0m-67-85h0m19 29h0m-53-20h0m-9 101h0m60-82h0m-6 89h0m-22-126h0m46 34h0m-79 82h0m16-104h0m40 22h0m-36-36h0m88 97h0m-112-6h0m42-90h0m35 53h0m-52-43h0m-2 0h0m-10 114h0m37-108h0m33 21h0m-47-32h0m2-1h0m-11-3h0m-20 117h0m107-32h0m-92-84h0m50 48h0m27 5h0m-28-10h0m-69 23h0m24-62h0m-24 81h0m3-10h0m19-74h0m-7 122h0m46-3h0m11-80h0m5-3h0m-34-33h0m0 0h0m49 44h0m-89-4h0m54-21h0m-15-18h0m-14 4h0m-20 97h0m64-62h0m-62 75h0m38-103h0m57 44h0m-100-20h0m106 44h0m-6 26h0m-104-48h0m78-9h0m-45-43h0m-15 116h0m54-82h0m18 2h0m-90 12h0m92 69h0m0 0h0m-17-71h0m-44-47h0m74 54h0m0 0h0m-106 25h0m51-69h0m59 69h0m-26-48h0m-24 78h0m-51-86h0m86 94h0m-61-114h0m74 71h0m-53-57h0m0 0h0m14 32h0m-28-45h0m-1 1h0m67 77h0m-1-9h0m-40-29h0m6 65h0m6-76h0m20 17h0m-15-12h0m3-2h0m2 1h0m-80 63h0m99-41h0m-98 33h0m1 15h0m56-60h0m12 67h0m3-81h0m-2 1h0m-12 75h0m-48-101h0m-5 2h0m1 0h0m-5 14h0m10 93h0m-17-68h0m1-1h0m79-12h0m-40-30h0m38 29h0m5 7h0m-82 18h0m57 42h0m-3-70h0m-54 25h0m86 58h0m-39-101h0m-12-5h0m65 74h0m-98-31h0m10-42h0m-5 91h0m40-82h0m-43 7h0m96 37h0m-94 24h0m48 12h0m-47-3h0m13-87h0m-19 72h0m90-33h0m-33-6h0m-43-32h0m9-3h0m0-1h0m64 41h0m-81 47h0m70-46h0m24 13h0m-16-17h0m-58-37h0m14 3h0m-1 0h0m-1 0h0m10 104h0m-45-31h0m65-30h0m-17 46h0m1 1h0m45-30h0m-18-23h0m14 59h0m0-53h0m-50-38h0m11 20h0m-10-16h0m-4-6h0m52 39h0m-85 51h0m37-83h0m52 82h0m0 1h0m-17-56h0m-71 52h0m50-55h0m40 29h0m-90-50h0m89 56h0m-37-27h0m-10 58h0m-38-96h0m75 99h0m1 0h0m-87-37h0m56 20h0m-33 22h0m-5-108h0m18 5h0m59 86h0m-66-90h0m30 91h0m-56-71h0m93 63h0m-13-47h0m-42-29h0m20 36h0m1 0h0m20 60h0m-74-7h0m40-6h0m1 0h0m3-68h0m-3 75h0m-49-47h0m9-41h0m8-8h0m57 102h0m-24-9h0m-39-88h0m0 0h0m-9 62h0m16 38h0m2-1h0m77-56h0m-60-43h0m4 3h0m15 33h0m-55-15h0m33-23h0m22 52h0m32-15h0m-32 8h0m-51 25h0m81-36h0m-59-39h0m64 97h0m-81-4h0m87-11h0m-20 22h0m-26-23h0m-49-45h0m90 57h0m-51 14h0m17-18h0m37-41h0m-14-9h0m0-1h0m-37-23h0m46 83h0m-1 0h0m-7 5h0m-8-61h0m-1 0h0m-16 2h0m-49-31h0m16-13h0m-13 7h0m17-5h0m27 57h0m0-1h0m2-10h0m0 0h0m-33-47h0m-20 22h0m50 44h0m-53-32h0m91 55h0m-91-57h0m55 50h0m8 13h0m0 1h0m-11-33h0m41-8h0m-45 24h0m1 0h0m11-27h0m-56-33h0m2 59h0m49-11h0m-1-31h0m-3 40h0m-51-17h0m53 7h0m41 3h0m-75 35h0m0 1h0m76-42h0m-8 34h0m-2 1h0m-83-56h0m82-4h0m-37 44h0m-2 0h0m-43-57h0m7-12h0m45 34h0m26 53h0m-27-57h0m-35-41h0m-1 2h0m37 70h0m41-25h0m-44 6h0m-46-39h0m-5 45h0m0 1h0m62 32h0m-1-1h0m33-9h0m-47-12h0m1-2h0m-37-62h0m0 0h0m-7 14h0m6 73h0m45-17h0m-2-1h0m29-38h0m-19 9h0m0 0h0m-40-46h0m0-2h0m22 98h0m0-1h0m0 0h0m3-22h0m41 19h0m0-1h0m-41-19h0m1-47h0m10 63h0m-48 0h0m10-86h0m37 53h0m-55-30h0m0 1h0m53 33h0m-1 18h0m33 13h0m-27-5h0m-9-38h0m-46-30h0m0 0h0m55 30h0m-16 34h0m-1 5h0m-36-6h0m77 11h0m-33-51h0m-13-28h0m45 81h0m-1 1h0m-37-18h0m20-33h0m12 56h0m-31-36h0m2 0h0m-1 1h0m23-22h0m2 57h0m-22-58h0m6 26h0m-2 1h0m34 18h0m-68-86h0m68 45h0m-37 0h0m-2-17h0m-13-19h0m49 32h0m-70 58h0m36-68h0m-50-4h0m91 47h0m-41-39h0m-1 1h0m29 3h0m-35 48h0m47-34h0m-80 42h0m80-47h0m-1 0h0m-28 43h0m31-11h0m-11-40h0m-19 6h0m-2 42h0m0 1h0m-59-57h0m42 46h0m15 3h0m-15-12h0m0 2h0m-29-66h0m0 1h0m40 68h0m-55-46h0m71 70h0m-66-79h0m85 40h0m0 1h0m-15-19h0m-19 17h0m2 0h0m-2 16h0m11-30h0m0-1h0m-66 4h0m91 4h0m-2 1h0m0-1h0m-60-45h0m2-1h0m60 69h0m-47-57h0m47 32h0m-74-43h0m-1-2h0m76 74h0m1 0h0m-93-13h0m12-58h0m35 22h0m38 56h0m0 0h0m-79-68h0m50 60h0m29-32h0m-9-3h0m-12 49h0m18-50h0m-37-19h0m-20-19h0m13 101h0m1 0h0m29-61h0m9 52h0m-74-23h0m77 19h0m-32-51h0m41 23h0m0 0h0m1 1h0m-48 28h0m-28-84h0m50 37h0m-25 57h0m10-60h0m-9 38h0m0 2h0m39-40h0m-39 42h0m7-53h0m1 0h0m1 0h0m-1 0h0m21 12h0m0 1h0m-23-20h0m-4 47h0m-1 0h0m34 27h0m-16-15h0m1-1h0m-57-42h0m21 64h0m64-55h0m-64-45h0m-1-1h0m1 0h0m64 48h0m-1 0h0m-77 42h0m6-85h0m-15 60h0m46-35h0m1 1h0m-49 19h0m0 10h0m1 1h0m-1-2h0m10 23h0m1 0h0m53-36h0m-1-1h0m0 1h0m-19 18h0m13 9h0m0 0h0m28-31h0m0 0h0m-28 19h0m17-20h0m-18 22h0m18 32h0m-2-1h0m-46 5h0m54-13h0m4-46h0m7 36h0m-81-68h0m77 73h0m-30-13h0m-52-47h0m0-2h0m13-15h0m-7 82h0m-1-10h0m62 16h0m-65-20h0m35-60h0m44 38h0m1 0h0m-76 39h0m18 12h0m59-24h0m1 1h0m-26 5h0m-23 1h0m7-30h0m1 0h0m-3 4h0m-1 0h0m48 12h0m-2 1h0m-24-27h0m9 51h0m0 0h0m-72-68h0m34 74h0m-1-1h0m48-56h0m-81-16h0m0 0h0m45 0h0m41 29h0m1-1h0m-11-15h0m0 0h0m-1-1h0m-10 2h0m-38-38h0m0 0h0m-16 89h0m-2 0h0m50-10h0m1-1h0m0 0h0m21-35h0m-61-44h0m24 27h0m-13 69h0m13-61h0m1 2h0m44 35h0m-9-32h0m0-1h0m1 1h0m0 4h0m7 24h0m0 0h0m-89-31h0m80 42h0m-12-39h0m-32 33h0m-30-59h0m52 59h0m-19-8h0m0 0h0m1-54h0m-3 60h0m1 12h0m-18-82h0m21 57h0m-39-38h0m8-14h0m-1 2h0m0 0h0m35 42h0m27-11h0m-52 56h0m-15-28h0m55-18h0m-43-46h0m7-5h0m0 1h0m-11 6h0m53 36h0m2 43h0m5-44h0m-42-36h0m9 60h0m45-13h0m-76 25h0m56 7h0m1 1h0m0 0h0m-8-30h0m-20 16h0m-1-1h0m8-27h0m2 0h0m0-1h0m33-2h0m5 36h0m2-11h0m1-1h0m0-1h0m-1 0h0m-18 26h0m-62-17h0m38-24h0m27 42h0m-1 1h0m5-3h0m-67-78h0m36 34h0m2 1h0m-8 41h0m49-25h0m-10 24h0m-39-7h0m-1 0h0m7-32h0m0 0h0m29 44h0m0 0h0m-31-61h0m20 52h0m-1-33h0m-1 0h0m-3 8h0m0 0h0m-1 1h0m-42-50h0m29 9h0m-6 80h0m-4-91h0m5 4h0m-2 1h0m-28 2h0m28 55h0m22 1h0m-53-1h0m14-63h0m-11 13h0m60 25h0m-29 18h0m3-4h0m15 11h0m29 2h0m-4-20h0m-39-28h0m-1-1h0m16 45h0m-55-2h0m83 9h0m-30-10h0m-18 27h0m0-1h0m20-28h0m4 18h0m19 1h0m-3-35h0m0-3h0m-5 2h0m-1 0h0m-70-11h0m1 1h0m1-3h0m0 0h0m-2-6h0m41 14h0m36 43h0m-1-2h0m-12-35h0m21 27h0m-76 18h0m0 0h0m64-46h0m-1 0h0m-36 46h0m30-5h0m-2 1h0m-8-33h0m2 1h0m0-1h0m2 23h0m-51-67h0m1 1h0m0-1h0m-1-1h0m73 67h0m-81-45h0m18 67h0m19-83h0m-2 0h0m4 40h0m2-2h0m-34 24h0m19-71h0m14 29h0m-1 0h0m-39-6h0m22-25h0m0 1h0m19 32h0m-1 0h0m-1-1h0m37 12h0m-1 0h0m-75-11h0m80 17h0m0 1h0m-82 6h0m69 29h0m2 1h0m-72-47h0m35 31h0m43 9h0m-1-38h0m-71 26h0m1 1h0m34-56h0m-1-1h0m2 1h0m-2-1h0m0 0h0m27 30h0m-9 26h0m1 0h0m-47 8h0m8-73h0m21 19h0m2 19h0m-1 0h0m-38 22h0m11 27h0m65-43h0m0 0h0m-2-1h0m-17 3h0m-51 35h0m0-1h0m65-41h0m0 0h0m-40 27h0m34-26h0m-2 37h0m-25-53h0m43 43h0m-14-29h0m-59-33h0m2 81h0m-7-72h0m0-1h0m51 37h0m-18 0h0m1-1h0m24 25h0m0 0h0m11-33h0m-34 5h0m42 5h0m-22 16h0m-2 0h0m1 1h0m24-8h0m-81-29h0m26-29h0m2-1h0m54 61h0m-2 1h0m-83-13h0m26-50h0m45 80h0m0 1h0m2 0h0m-39-9h0m50-7h0m-3 5h0m-47 21h0m-1 0h0m36-11h0m1 2h0m0-1h0m11-9h0m-2-1h0m1 1h0m0-1h0m-45-14h0m-25-50h0m55 34h0m-2 1h0m1 0h0m-7 22h0m1 0h0m0-1h0m-36 28h0m1 0h0m-1 1h0m13-2h0m1-1h0m-25-18h0m-1 1h0m52-2h0m0-2h0m-47-66h0m65 46h0m0-1h0m-80-6h0m66 34h0m0 0h0m-45-76h0m2 1h0m-2 0h0m1 0h0m-16 63h0m67-22h0m-32 2h0m0-17h0m-42 17h0m1 0h0m-1 4h0m42-6h0m-41 5h0m20-45h0m63 48h0m-1 1h0m-7-6h0m-42-41h0m-10-4h0m2 1h0m58 53h0m0 3h0m-44-21h0m1-23h0m0-1h0m-4 70h0m-1 0h0m2-26h0m-1 1h0m21-2h0m11 22h0m-29-44h0m-22 57h0m54-11h0m-39 13h0m0 1h0m8-77h0m0 0h0m0 0h0m0 0h0m0 1h0m29 64h0m-65-61h0m56 47h0m13 11h0m2 0h0m-2 1h0m-39-5h0m-15-70h0m19 6h0m20 49h0m-1-1h0m-23 4h0m0 0h0m24-6h0m0 1h0m0-1h0m-48-43h0m30 16h0m-27-23h0m-5 9h0m0 0h0m60 26h0m-2 34h0m-61-59h0m2 1h0m0 0h0m0-1h0m34 14h0m0 0h0m-11 62h0m-28-58h0m37 4h0m35 7h0m-69 14h0m71-13h0m-55-43h0m0-1h0m60 64h0m-46 23h0m1-1h0m-1 0h0m2-4h0m43-13h0m-1-1h0m-1-22h0m-51 44h0m-23-67h0m5 44h0m0 1h0m1 0h0m-7-44h0m32 61h0m29-43h0m17 18h0m0 0h0m-57-59h0m0-2h0m45 77h0m-35-17h0m30 9h0m-1 0h0m1 0h0m-4-6h0m22-11h0m-44-33h0m-2 35h0m40 18h0m-1 1h0m-2 4h0m-61 6h0m60-41h0m-38 33h0m-21-69h0m1-1h0m0 0h0m46 45h0m-21-28h0m-1 1h0m-28-9h0m27 35h0m4-10h0m-26 49h0m1-1h0m-3-77h0m60 65h0m-42-72h0m-1 0h0m-1 1h0m45 42h0m-39-36h0m27 55h0m3 6h0m16-3h0m-2 0h0m-76-39h0m-1 24h0m14-47h0m-1-1h0m1 0h0m-11 55h0m27-54h0m-1 0h0m-19 67h0m0 1h0m-1-62h0m0-1h0m71 47h0m-1 0h0m-11-14h0m0-1h0m-1 0h0m-36 47h0m0-1h0m-25-74h0m29-5h0m30 34h0m-1-1h0m-47-38h0m-1 1h0m17 51h0m-2 0h0m-2 6h0m8-47h0m42 37h0m1 1h0m-1-1h0m-13 21h0m-30-41h0m22 19h0m-22-17h0m0 1h0m-18-30h0m48 38h0m-1-1h0m11 5h0m-39-5h0m0 1h0m0-2h0m2 1h0m0 0h0m24 25h0m-45 22h0m-19-54h0m37-12h0m-6 47h0m39 4h0m2 0h0m0 1h0m-1-1h0m0 1h0m-10-28h0m17 18h0m1-2h0m-54-60h0m-4 1h0m0-1h0m1 1h0m-2 1h0m51 40h0m-12 13h0m-26 20h0m-1 0h0m-20-72h0m1 0h0m-3 8h0m69 37h0m-1-1h0m-16-7h0m0 1h0m0-1h0m-56 19h0m0 0h0m54 1h0m1-2h0m-24-46h0m-3 34h0m-3 11h0m0 0h0m41-14h0m7 16h0m-5 7h0m-37-33h0m-32-16h0m-1 0h0m2 0h0m-1 0h0m-1 1h0m2 0h0m52 35h0m15 17h0m-50-69h0m-20 50h0m35-28h0m-2 21h0m1-1h0m-4 8h0m0-46h0m-22 60h0m-9-37h0m5-15h0m-1 0h0m1 1h0m68 32h0m0-1h0m-63-40h0m1 1h0m-1-1h0m-11 41h0m35-21h0m1 0h0m-32-6h0m63 22h0m-53-37h0m17-1h0m1 79h0m-1 1h0m1 1h0m-19-77h0m55 61h0m9-13h0m2 1h0m-60-53h0m9-2h0m1 1h0m-1-1h0m4 79h0m-20-70h0m51 31h0m-4 4h0m-54 12h0m1 0h0m0 1h0m71-9h0m1 0h0m1-1h0m-1 1h0m-71-36h0m58 28h0m-33 41h0m46-29h0m1 1h0m-9 16h0m0-27h0m-1 0h0m7 21h0m-76-32h0m33-14h0m-25 43h0m29-25h0m-17 49h0m-10-72h0m2-2h0m21 4h0m-7-13h0m0 0h0m1 62h0m44-18h0m1-1h0m-44 17h0m0 0h0m-1-1h0m-13-55h0m-1-1h0m1 1h0m-14 37h0m0 0h0m64 20h0m-1 0h0m-28-21h0m38 6h0m-46 11h0m32-3h0m1-1h0m-25-46h0m-35 33h0m1 0h0m4-25h0m19-13h0m7 45h0m-17-42h0m-6 8h0m68 47h0m-64 6h0m16-66h0m0 2h0m-8 0h0m-2 1h0m-18 29h0m36 5h0m-6 15h0m32 4h0m-1 0h0m-39-52h0m-20 24h0m0-1h0m-1 1h0m67 38h0m-68-30h0m0-1h0m11 28h0m53-4h0m-50 20h0m46-31h0m-34 35h0m-1-83h0m0 2h0m50 47h0m1 8h0m-1 1h0m-71-35h0m55 29h0m1 0h0m-51 5h0m-1 0h0m0 0h0m0 1h0m4 12h0m0 0h0m64-18h0m-14-9h0m-28-24h0m37 26h0m-70 2h0m1 1h0m0-1h0m33-23h0m-1 1h0m40 23h0m-5 17h0m0 1h0m0 0h0m-45-62h0m-8 0h0m0 1h0m18 26h0m-4 43h0m-1 1h0m5-52h0m-22 49h0m20-65h0m-1 0h0m0 0h0m-12-1h0m-1-1h0m10 48h0m36 3h0m-57 0h0m57-12h0m8 3h0m-2-2h0m2 19h0m-7-3h0m-55-45h0m-5 35h0m1 0h0m55-1h0m0 1h0m-29-39h0m-23 5h0m60 47h0m5-11h0m-48 10h0m-12 3h0m-12-21h0m67 1h0m-2 0h0m-1 13h0m7-4h0m-9-11h0m-33-17h0m-14-19h0m52 42h0m-41 20h0m-1 0h0m-12-9h0m13 9h0" stroke="#1f2f78" stroke-width="1.2" stroke-linecap="square" fill="none"/>
<path d="M887 265h0m-50 33h0m24-27h0m-4 9h0m-8-55h0m56 55h0m-71-44h0m0 0h0m62 28h0m-38-37h0m-3-3h0m-14 9h0m47 36h0m6 22h0m12-18h0m-19 7h0m0 1h0m1-1h0m6-15h0m-62 11h0m74 1h0m-71 7h0m29-25h0m-35 10h0m77 5h0m-73-35h0m4-3h0m1 1h0m2-2h0m14-12h0m37 44h0m-1-1h0m-1 0h0m-34 20h0m45-18h0m-68-21h0m-4 19h0m9 21h0m18 21h0m2-1h0m31-36h0m-32 18h0m6-56h0m-1-2h0m0 1h0m0 4h0m36 31h0m-69-2h0m24-39h0m0 0h0m-16 12h0m19-11h0m5 3h0m-14-2h0m0 1h0m-18 29h0m12 35h0m-1 9h0m24-39h0m-4 31h0m-1 0h0m3-40h0m0-20h0m1-1h0m-13 75h0m44-41h0m-63-14h0m11-21h0m1 72h0m-1 0h0m47-31h0m0 0h0m-34 36h0m0-1h0m-1 0h0m0-81h0m-21 21h0m56 29h0m1-1h0m-53 6h0m0 0h0m3 12h0m-4-52h0m55 26h0m13 11h0m1-1h0m-45 29h0m41-37h0m-71 3h0m0 0h0m1-1h0m21 36h0m50-37h0m1 0h0m-45 25h0m1 1h0m0 0h0m-3-8h0m4 9h0m-23-57h0m21 60h0m-16-15h0m55-18h0m-5 9h0m-29-29h0m-22 48h0m17 7h0m0 2h0m-24-61h0m68 42h0m-43-56h0m-1-1h0m46 45h0m-1 1h0m-55-44h0m8 47h0m0 1h0m1-1h0m36 3h0m-1-1h0m1-12h0m-53 32h0m2 0h0m20-33h0m37 3h0m1 19h0m0-2h0m-46-4h0m4-9h0m1 1h0m1-37h0m0-1h0m-19 61h0m0 0h0m0 1h0m1 0h0m53-14h0m0 2h0m-40 0h0m0-2h0m-1 2h0m0-1h0m1 0h0m-12 3h0m0 0h0m1-1h0m2-55h0m15 7h0m-18 51h0m1-2h0m17-19h0m0 1h0m-22-31h0m-1-1h0m23-3h0m-1 0h0m1 0h0m36 52h0m0 0h0m-1 1h0m-2-11h0m-41-48h0m2 59h0m-20-42h0m-1-1h0m1 0h0m-1 0h0m56 25h0m0 1h0m1-1h0m-35-41h0m-14 63h0m1-7h0m-1 1h0m61-3h0m0 0h0m-11-10h0m-61-19h0m10 30h0m-1 0h0m1-1h0m21-42h0m-1 0h0m-6 39h0m0-1h0m43-8h0m-44-42h0m1 0h0m47 51h0m-4 7h0m-5-17h0m2 12h0m0-1h0m8 0h0m-44-50h0m-14 72h0m-1 1h0m1-2h0m0 1h0m51-25h0m-49-47h0m0 0h0m15 32h0m1 0h0m39 13h0m-1-1h0m-1 1h0m-6-7h0m0 1h0m2 0h0m-48 35h0m-4-73h0m12 44h0m1-2h0m36 2h0m1 2h0m-50 24h0m55-29h0m-35-13h0m-2 0h0m-6 33h0m1 0h0m-1 0h0m1-1h0m1 1h0m-15 0h0m0 1h0m12-4h0m2 14h0m-1-2h0m0 2h0m0-1h0m-10-14h0m3-58h0m7 75h0m0-1h0m-1 1h0m-1 0h0m-13-67h0m60 47h0m-1 0h0m-4-15h0m1 0h0m-1 0h0m-43 12h0m4 17h0m0-1h0m6-37h0m-6 39h0m0 0h0m4-59h0m1 2h0m-1-1h0m-5 53h0m1 1h0m-5-12h0m-10-3h0m50-10h0m-41-40h0m0 0h0m-15 11h0m-5 24h0m1 1h0m0-1h0m67 8h0m3 2h0m-2 1h0m-7-4h0m-1-1h0m2 0h0m-1 0h0m0 1h0m-39 7h0m-1 0h0m5-48h0m-19 9h0m0 0h0m58 44h0m0 0h0m-39-48h0m0-1h0m0 0h0m2-1h0m37 37h0m-40-43h0m-1 1h0m0 1h0m0 0h0m41 44h0m-39-40h0m-3 41h0m0 0h0m-7 9h0m-2 1h0m0 0h0m49-15h0m0 0h0m-1 0h0m2-1h0m-49 14h0m-1 0h0m7-53h0m1-1h0m43 47h0m0 0h0m-59 1h0m13 26h0m0 0h0m-1 0h0m2 1h0m1-18h0m41-15h0m-33-25h0m0-2h0m1 1h0m0 1h0m-1 0h0m-15 43h0m0 1h0m6 14h0m1-2h0m0 1h0m6-67h0m1 34h0m-6-40h0m1 0h0m5 34h0m1-21h0m-1 0h0m1 0h0m-16 38h0m-5-1h0m1-1h0m0 0h0m58-3h0m0-1h0m0-1h0m0 1h0m3 1h0m-2 2h0m1 0h0m-50 5h0m0 1h0m1-1h0m-5 5h0m4-6h0m1 0h0m-21-19h0m67 21h0m1-1h0m-47-7h0m1 2h0m-20-9h0m0 1h0m11-37h0m11 56h0m1 0h0m-2 1h0m-7-9h0m0 0h0m53 0h0m2 1h0m-1 0h0m-4 0h0m-50-50h0m0 0h0m0-1h0m0 1h0m50 47h0m0 1h0m0 0h0m-49 2h0m1-1h0m2 4h0m0-1h0m-1 1h0m-4 16h0m1 1h0m-4-5h0m0 0h0m0 1h0m-1-1h0m59-18h0m-1 1h0m-39-27h0m0 0h0m-4-21h0m0-1h0m0 0h0m-4 57h0m-1-8h0m-1-2h0m0 2h0m48-3h0m-1 0h0m1 0h0m-39-38h0m-2 1h0m-3 61h0m-13-6h0m1 0h0m13-63h0m2 3h0m-28 25h0m1 1h0m17 27h0m1-1h0m-1 0h0m-14-17h0m0 1h0m11 21h0m0 0h0m2-3h0m-1-1h0m-8-15h0m-1 1h0m0-1h0m-1-29h0m1-1h0m0 1h0m0-1h0m0 0h0m18-12h0m0-1h0m0 2h0m0 0h0m0-1h0m-1 1h0m-6-1h0m5 0h0m-1 1h0m0-1h0m-9 48h0m7 8h0m49-6h0m0 0h0m-1 0h0m1 1h0m1 0h0m-2-1h0m-43 10h0m-1 1h0m0 0h0m1-1h0m0 1h0m-1 6h0m0-1h0m-6-18h0m1 1h0m0-2h0m-5 22h0m-9-52h0m1 0h0m7-11h0m12-5h0m-17 43h0m-7-15h0m22 29h0m1 1h0m0 0h0m-10-11h0m2 1h0m-7-39h0m17-5h0m-6 53h0m-1 0h0m-1 0h0m0 13h0m0-1h0m-17-47h0m-1 2h0m1 0h0m28-15h0m-1 1h0m0 8h0m1-3h0m-1 0h0m1 1h0m-18 29h0m-1 0h0m1 0h0m13-44h0m0 69h0m-1-1h0m0 0h0m-8-66h0m1 1h0m-1-1h0m1 1h0m-1-1h0m0 0h0m0 0h0m7 55h0m2-15h0m-23-18h0m30 6h0m-6 10h0m-8-40h0m-1 0h0m-1 60h0m1 0h0m-1-1h0m10-54h0m0-1h0m0 0h0m3 8h0m3 10h0m0 0h0m-4-16h0m0 0h0m-4 52h0m7-47h0m-1 0h0m-11 47h0m1 1h0m0 0h0m0-58h0m0 0h0m-1-1h0m6 60h0m-1 2h0m-3-3h0m2 6h0m1-1h0m-1 1h0m-16-54h0m9 53h0m1 0h0m13-45h0m-1-1h0m-11 48h0m-1 0h0m-14-31h0m1-1h0m12 29h0m-1 0h0m5-18h0m-2 16h0m6-56h0m0-1h0m-3 57h0m0-1h0m0 0h0m2-58h0m-1 0h0m-19 16h0m18 43h0m-7-16h0m-1-1h0m1 0h0m-1 0h0m14-36h0m0 0h0m1 1h0m-7 58h0m1-1h0m-1 0h0m1-5h0m-1 1h0m10-33h0m2-2h0m0 1h0m-13 39h0m11-43h0m-13-22h0m-1 0h0m-2 4h0m7 59h0m-1-1h0m0 0h0m-3-19h0m-2-41h0m3 58h0m-2 1h0m1 2h0m2-62h0m0 0h0m-4 42h0m-5-37h0m21 19h0m-20 14h0m8 24h0m2-60h0m3 2h0m-20 9h0m23-1h0m0-1h0m0 1h0m-22 22h0m-2-4h0m26-12h0m-2 14h0m0 2h0m-7-32h0m-3 0h0m-1-2h0m5 2h0m4 5h0m0 1h0m-10-5h0m-1 1h0m4 35h0m11-9h0m-26-12h0m1 0h0m9 22h0m1-36h0m-4 3h0m7-3h0m-1 35h0m5-34h0m-6 35h0m-3-3h0m-8-22h0m0-1h0m-1 6h0m0 2h0m20-14h0m5 18h0" stroke="#2a4c98" stroke-width="1.2" stroke-linecap="square" fill="none"/>
<path d="M842 297h0m2 5h0m5 2h0m-1 1h0m3-68h0m0 55h0m1-14h0m1-38h0m7 18h0m-10-21h0m1 66h0m1-2h0m-15-53h0m21 5h0m-14 46h0m0-2h0m3-17h0m2 1h0m5-39h0m-6 55h0m-1-1h0m-5-17h0m-1 1h0m2-38h0m-5 4h0m8 54h0m3-61h0m-1-1h0m0 60h0m-4-17h0m-5-37h0m16 2h0m-6 32h0m-1 23h0m8-53h0m0 0h0m-1 0h0m-22 4h0m0 0h0m0 0h0m20-7h0m-16 29h0m-1 0h0m1-1h0m18-20h0m0-1h0m2 20h0m-12-31h0m6 36h0m1-1h0m-2-34h0m0 0h0m4 4h0m-2-1h0m-8-2h0m-11 13h0m8 23h0m-10-13h0m11-21h0m5-2h0m0-1h0m-8 4h0m1 0h0m6-4h0m-1 37h0m5-36h0m1 4h0m4 3h0m-11 29h0m-11-16h0m26-5h0m-2-1h0m-18 20h0m-5-23h0m0 1h0m-2 3h0m1 1h0m11-14h0m13 22h0m1-1h0m-9-21h0m-1-2h0m-13 9h0m-3 7h0m19-11h0m1 1h0m-14 25h0m0 0h0m1 1h0m6-32h0m-8 7h0m1 1h0m11-5h0m1 1h0m6 23h0m-1 0h0m-15-23h0m1 1h0m10 25h0m-10 3h0m1 0h0m6 1h0m1-1h0m9-14h0m-4 10h0m-2-21h0m-6 25h0m-3 0h0m0 1h0m-9-9h0m0 1h0m16-20h0m-4-2h0m1 0h0m-6 1h0m14 10h0m1-1h0m0 1h0m0 0h0m0 1h0m-18-7h0m18 17h0m-1-1h0m-15-18h0m-1 1h0m13 1h0m-3 22h0m2 0h0m-1 0h0m-15-8h0m-1 1h0m-1-9h0m5 15h0m-2-4h0m-1 1h0m15-19h0m5 8h0m1 2h0m-14 14h0m0-1h0m0 1h0m3-27h0m0 0h0m-12 12h0m2 0h0m20 6h0m-21-4h0m18 11h0m-5 0h0m-11-17h0m8 19h0m0-1h0" stroke="#3a86c0" stroke-width="1.2" stroke-linecap="square" fill="none"/>
<path d="M857 254h0m-7 22h0m-18-17h0m0-1h0m12-13h0m0 0h0m13 22h0m-23 4h0m12-27h0m-8 6h0m0 0h0m12-3h0m-8-1h0m-1 0h0m17 14h0m0 1h0m-1 4h0m1-1h0m-6 11h0m-10 1h0m16-15h0m-4 12h0m-2-22h0m0-1h0m1 0h0m-5-3h0m-4-1h0m0 0h0m-1 0h0m4 30h0m-1 0h0m-11-19h0m-1-1h0m3-1h0m2-4h0m0-1h0m1 1h0m11 2h0m-1 20h0m-16-6h0m14-19h0m-1 1h0m1 0h0m0-1h0m-15 11h0m20-3h0m0 0h0m-15 17h0m-2-2h0m14-22h0m-6 0h0m1 0h0m-1 0h0m11 11h0m2 1h0m-12-14h0m-12 13h0m22 7h0m-20-4h0m20 8h0m-1 0h0m0 0h0m-1 0h0m-1 1h0m0-17h0m5 7h0m-2 0h0m0 2h0m-11 10h0m0 1h0m-5-21h0m15 3h0m0 2h0m-4-6h0m-3-3h0m2 1h0m-2 0h0m5 6h0m0-1h0m-7-6h0m1 1h0m4 20h0m-1 0h0m1 1h0m0 1h0m-11-3h0m-2 0h0m0 0h0m18-10h0m-1 1h0m-18 6h0m0-1h0m3-12h0m10-2h0m5 10h0m-18 1h0m9 9h0m-2 1h0m1-20h0m-4 18h0m-2-12h0" stroke="#3cb4b0" stroke-width="1.2" stroke-linecap="square" fill="none"/>
<path d="M855 258h0m1 10h0m-1 1h0m-4-16h0m-2 22h0m5-19h0m-18 15h0m0 0h0m15-21h0m-7-1h0m0-1h0m-9 15h0m20-3h0m-10-11h0m11 17h0m-1 1h0m-22-4h0m19 8h0m-4 3h0m-5-23h0m-1-1h0m15 14h0m-12 11h0m0 0h0m-5-23h0m-1 3h0m10-4h0m-1-1h0m-8 22h0m1 1h0m-5-5h0m0-1h0m8-18h0m8 6h0m0 0h0m-7-4h0m0 0h0m1-1h0m-11 9h0m1 0h0m0 0h0m18 2h0m-12-10h0m0 1h0m-7 15h0m6 6h0m1 0h0m9-2h0m1-1h0m-14-13h0m10-5h0m7 10h0m-2 0h0m-4 11h0m4-6h0m-17-2h0m-1-1h0m0-1h0m19 2h0m-8-12h0m0-1h0m-5 18h0m-4-2h0m0 0h0m1-11h0m10-3h0m-1 0h0m1 0h0m1-1h0m0 17h0m0 1h0m3-2h0m-1 0h0m-1-11h0m0 0h0m0 0h0m-11-2h0m13 7h0m-1 0h0m-9 8h0m-1 0h0m5-17h0m-1 1h0m-2 0h0m0 0h0m-6 12h0m11-11h0m4 11h0m-1-2h0m0 0h0m1-1h0m0 0h0m-4 6h0m0 0h0m-10-6h0m1 0h0m6 6h0m1 1h0m2-13h0m-9 1h0m1-2h0m10 12h0m-4-12h0m1 3h0m-2-5h0m-3 14h0m6-2h0m-1-2h0m-1-3h0m-2-1h0" stroke="#7cc850" stroke-width="1.2" stroke-linecap="square" fill="none"/>
<path d="M853 269h0m1-2h0m-17 4h0m17-10h0m-17 5h0m5 7h0m-5-17h0m2-2h0m10 18h0m4-6h0m-17-1h0m7 7h0m11-7h0m-8 8h0m-3-20h0m1 0h0m-1-2h0m3 2h0m4 4h0m0-1h0m0 0h0m3 5h0m-1-1h0m-14 8h0m9-14h0m4 14h0m2 1h0m-2-2h0m-10-11h0m0 1h0m10 6h0m-10 7h0m-4-4h0m2 1h0m8-11h0m6 11h0m-5 3h0m0 1h0m-10-8h0m2 6h0m8-10h0m0 0h0m-6-2h0m1 0h0m-3 1h0m0 1h0m9 10h0m1-8h0m-1 2h0m-3-7h0m-1 0h0m2 4h0m-5 8h0m4-10h0m0 1h0m-7 8h0m4-9h0m-1 1h0m-1 4h0m-1 0h0m0 1h0m6 5h0m0-1h0m2-1h0m-1-1h0m1 1h0m-3-8h0m0 8h0m1 0h0m0-1h0m-3-4h0m0 3h0m0 2h0m1-4h0" stroke="#c8d838" stroke-width="1.2" stroke-linecap="square" fill="none"/>
<path d="M838 267h0m10-12h0m-1 0h0m-5-1h0m-3 3h0m13 6h0m-7-9h0m-2 0h0m-4 12h0m-2 0h0m11-10h0m3 10h0m0-2h0m1 1h0m-4 5h0m-10-8h0m7 8h0m-7-6h0m9 5h0m-6-1h0m-1 1h0m0 0h0m11-1h0m-4-12h0m0 4h0m-3-4h0m-3 12h0m-1-1h0m8 0h0m-7-9h0m7 4h0m-8 1h0m3 6h0m1-10h0m-2 1h0m0 1h0m3 0h0m-3 4h0m-1-3h0m0 0h0m5 5h0m-4-2h0m0-1h0m1-2h0m0 2h0" stroke="#f0c030" stroke-width="1.2" stroke-linecap="square" fill="none"/>
<path d="M845 254h0m-8 7h0m3 8h0m1-11h0m8 11h0m0-1h0m0-6h0m-3-6h0m0 1h0m2 3h0m-7 0h0m-1-1h0m10 7h0m0 0h0m-7-8h0m-3 5h0m4 4h0m0-9h0m0-1h0m-1 0h0m1 2h0m2 8h0m-1 0h0m3-4h0m0 1h0m-1 0h0m0 0h0m1 2h0m1 0h0m-2 0h0m-6-5h0m5 2h0m0 0h0m-2-3h0m-2 5h0m0 0h0m4-1h0m-5 0h0m0-1h0m2 3h0m0-1h0m1 2h0m-1-3h0m1 0h0m-1 0h0" stroke="#f09028" stroke-width="1.2" stroke-linecap="square" fill="none"/>
<rect x="822" y="272" width="36" height="43" fill="#fff" fill-opacity="0.72"/>
<rect x="806.8" y="97.3" width="218.2" height="218" fill="none" stroke="#222" stroke-width="1.3"/>
<line x1="877.2" y1="97.3" x2="877.2" y2="315.3" stroke="#222" stroke-width="1.3"/>
<line x1="806.8" y1="245" x2="1025" y2="245" stroke="#222" stroke-width="1.3"/>
<path d="M801.3 118.7H806.8M801.3 167.3H806.8M801.3 219H806.8M803.8 203.4H806.8M803.8 194.3H806.8M803.8 187.9H806.8M803.8 182.9H806.8M803.8 178.8H806.8M803.8 175.3H806.8M803.8 172.3H806.8M803.8 169.7H806.8M803.8 152.7H806.8M803.8 144.1H806.8M803.8 138H806.8M803.8 133.3H806.8M803.8 129.5H806.8M803.8 126.2H806.8M803.8 123.4H806.8M803.8 120.9H806.8M803.8 104.1H806.8M803.8 95.5H806.8M803.8 233H806.8M803.8 241.2H806.8M803.8 247H806.8M803.8 251.5H806.8M803.8 255.2H806.8M803.8 258.3H806.8M803.8 261H806.8M803.8 263.4H806.8M801.3 291H806.8M802.8 285H806.8M802.8 288H806.8M802.8 294H806.8M802.8 297H806.8M802.8 300H806.8M902.4 315.3V320.8M954.6 315.3V320.8M1003.8 315.3V320.8M918.1 315.3V318.3M927.3 315.3V318.3M933.8 315.3V318.3M938.9 315.3V318.3M943 315.3V318.3M946.5 315.3V318.3M949.5 315.3V318.3M952.2 315.3V318.3M969.4 315.3V318.3M978.1 315.3V318.3M984.2 315.3V318.3M989 315.3V318.3M992.9 315.3V318.3M996.2 315.3V318.3M999 315.3V318.3M1001.5 315.3V318.3M889 315.3V318.3M881.2 315.3V318.3M875.7 315.3V318.3M871.4 315.3V318.3M867.9 315.3V318.3M864.9 315.3V318.3M862.3 315.3V318.3M860.1 315.3V318.3M818.4 315.3V318.8M823.4 315.3V318.8M827.4 315.3V318.8M830.4 315.3V318.8M833.4 315.3V320.8M836.4 315.3V318.8M839.4 315.3V318.8M843.4 315.3V318.8M848.4 315.3V318.8" stroke="#222" stroke-width="1.1" fill="none"/>
<path d="M818 315.3v2.8M819.3 315.3v4M821.9 315.3v3.9M823.2 315.3v2M825.8 315.3v5.7M828.4 315.3v2.1M829.7 315.3v3.8M832.3 315.3v2.6M833.6 315.3v4.9M836.2 315.3v6.1M838.8 315.3v5.1M840.1 315.3v2.1M841.4 315.3v4.4M842.7 315.3v2.8M844 315.3v2.6M846.6 315.3v4.9" stroke="#1a1a1a" stroke-width="1.2" fill="none"/>
<text x="796.8" y="128.7" font-size="14" text-anchor="end" letter-spacing="1" fill="#2a2a2a">10<tspan dy="-9" font-size="13">5</tspan></text>
<text x="796.8" y="177.3" font-size="14" text-anchor="end" letter-spacing="1" fill="#2a2a2a">10<tspan dy="-9" font-size="13">4</tspan></text>
<text x="796.8" y="229" font-size="14" text-anchor="end" letter-spacing="1" fill="#2a2a2a">10<tspan dy="-9" font-size="13">3</tspan></text>
<text x="796.8" y="280.7" font-size="14" text-anchor="end" letter-spacing="1" fill="#2a2a2a">10<tspan dy="-9" font-size="13">2</tspan></text>
<text x="785.3" y="296" font-size="14" text-anchor="end" fill="#2a2a2a">0</text>
<text x="796.8" y="314" font-size="14" text-anchor="end" letter-spacing="1" fill="#2a2a2a">-10<tspan dy="-9" font-size="13">2</tspan></text>
<text x="833.4" y="344.3" font-size="14" text-anchor="middle" fill="#2a2a2a">0</text>
<text x="896.4" y="344.3" font-size="14" letter-spacing="1" fill="#2a2a2a">10<tspan dy="-10" font-size="13">3</tspan></text>
<text x="948.6" y="344.3" font-size="14" letter-spacing="1" fill="#2a2a2a">10<tspan dy="-10" font-size="13">4</tspan></text>
<text x="997.8" y="344.3" font-size="14" letter-spacing="1" fill="#2a2a2a">10<tspan dy="-10" font-size="13">5</tspan></text>
<text x="811.8" y="126.3" font-size="18.5" letter-spacing="1.6" fill="#333">11.2</text>
<text x="996" y="126.3" text-anchor="end" font-size="18.5" letter-spacing="1.6" fill="#333">0.86</text>
<text x="811.8" y="298.3" font-size="18.5" letter-spacing="1.6" fill="#333">72.6</text>
<text x="996" y="298.3" text-anchor="end" font-size="18.5" letter-spacing="1.6" fill="#333">15.3</text>
<text x="878" y="76.5" font-size="26.5">IFN<tspan font-size="24">γ</tspan><tspan dy="-10" font-size="15">wt</tspan></text>
<line x1="447.7" y1="336" x2="447.7" y2="369.5" stroke="#222" stroke-width="1.6"/>
<line x1="447.7" y1="369.5" x2="484" y2="369.5" stroke="#222" stroke-width="1.6"/>
<path d="M447.7 318L439.2 338H456.2Z" fill="#333"/>
<path d="M502 369.5L480 361V378Z" fill="#333"/>
<text transform="translate(456,309) rotate(-90)" font-size="26" textLength="257" lengthAdjust="spacingAndGlyphs">KLRG1 PerCP-Cy5.5</text>
<text x="505.6" y="375.6" font-size="26" textLength="172.4" lengthAdjust="spacingAndGlyphs">CD127 BV421</text>
<path d="M1436 100h0m2 0h0m2 0h0m2 0h0m2 0h0m2 0h0m-18 2h0m2 0h0m2 0h0m2 0h0m2 0h0m2 0h0m2 0h0m2 0h0m2 0h0m2 0h0m2 0h0m2 0h0m2 0h0m2 0h0m2 0h0m-38 2h0m2 0h0m2 0h0m2 0h0m2 0h0m2 0h0m2 0h0m2 0h0m2 0h0m10 0h0m2 0h0m2 0h0m2 0h0m2 0h0m2 0h0m2 0h0m2 0h0m-46 2h0m2 0h0m2 0h0m2 0h0m2 0h0m2 0h0m2 0h0m2 0h0m22 0h0m2 0h0m2 0h0m2 0h0m2 0h0m2 0h0m-52 2h0m2 0h0m2 0h0m2 0h0m2 0h0m2 0h0m2 0h0m2 0h0m30 0h0m2 0h0m2 0h0m2 0h0m2 0h0m-56 2h0m2 0h0m2 0h0m2 0h0m2 0h0m42 0h0m2 0h0m2 0h0m2 0h0m-60 2h0m2 0h0m2 0h0m2 0h0m2 0h0m48 0h0m2 0h0m2 0h0m-64 2h0m2 0h0m2 0h0m2 0h0m2 0h0m2 0h0m48 0h0m2 0h0m2 0h0m-68 2h0m2 0h0m2 0h0m2 0h0m2 0h0m2 0h0m2 0h0m52 0h0m2 0h0m2 0h0m-72 2h0m2 0h0m2 0h0m2 0h0m2 0h0m2 0h0m2 0h0m54 0h0m2 0h0m2 0h0m-72 2h0m2 0h0m2 0h0m2 0h0m2 0h0m2 0h0m56 0h0m2 0h0m2 0h0m-72 2h0m2 0h0m2 0h0m2 0h0m60 0h0m2 0h0m2 0h0m-72 2h0m2 0h0m2 0h0m62 0h0m2 0h0m2 0h0m2 0h0m-78 2h0m2 0h0m2 0h0m2 0h0m2 0h0m64 0h0m2 0h0m2 0h0m-86 2h0m2 0h0m2 0h0m2 0h0m2 0h0m2 0h0m2 0h0m2 0h0m2 0h0m2 0h0m62 0h0m2 0h0m2 0h0m-86 2h0m2 0h0m2 0h0m2 0h0m2 0h0m2 0h0m2 0h0m2 0h0m2 0h0m2 0h0m62 0h0m2 0h0m2 0h0m-86 2h0m2 0h0m2 0h0m2 0h0m2 0h0m2 0h0m2 0h0m2 0h0m2 0h0m2 0h0m62 0h0m2 0h0m-84 2h0m2 0h0m2 0h0m2 0h0m2 0h0m2 0h0m2 0h0m2 0h0m2 0h0m2 0h0m62 0h0m2 0h0m2 0h0m-84 2h0m2 0h0m2 0h0m2 0h0m2 0h0m2 0h0m2 0h0m2 0h0m2 0h0m62 0h0m2 0h0m2 0h0m-84 2h0m2 0h0m2 0h0m2 0h0m2 0h0m2 0h0m2 0h0m2 0h0m2 0h0m62 0h0m2 0h0m2 0h0m-84 2h0m2 0h0m2 0h0m2 0h0m2 0h0m68 0h0m2 0h0m2 0h0m-82 2h0m2 0h0m2 0h0m2 0h0m2 0h0m62 0h0m2 0h0m2 0h0m2 0h0m2 0h0m2 0h0m-78 2h0m2 0h0m2 0h0m2 0h0m2 0h0m58 0h0m2 0h0m2 0h0m2 0h0m2 0h0m2 0h0m-74 2h0m2 0h0m2 0h0m2 0h0m54 0h0m2 0h0m2 0h0m2 0h0m2 0h0m2 0h0m-68 2h0m2 0h0m2 0h0m2 0h0m10 0h0m2 0h0m38 0h0m2 0h0m2 0h0m2 0h0m2 0h0m-62 2h0m2 0h0m2 0h0m2 0h0m6 0h0m2 0h0m2 0h0m2 0h0m2 0h0m2 0h0m2 0h0m2 0h0m24 0h0m2 0h0m2 0h0m2 0h0m2 0h0m-58 2h0m2 0h0m2 0h0m2 0h0m2 0h0m2 0h0m2 0h0m2 0h0m2 0h0m2 0h0m2 0h0m2 0h0m2 0h0m2 0h0m2 0h0m20 0h0m2 0h0m2 0h0m2 0h0m2 0h0m-56 2h0m2 0h0m2 0h0m2 0h0m2 0h0m2 0h0m2 0h0m2 0h0m2 0h0m2 0h0m2 0h0m2 0h0m2 0h0m2 0h0m2 0h0m2 0h0m2 0h0m12 0h0m2 0h0m2 0h0m2 0h0m2 0h0m2 0h0m-54 2h0m2 0h0m2 0h0m2 0h0m2 0h0m2 0h0m2 0h0m2 0h0m2 0h0m2 0h0m2 0h0m2 0h0m2 0h0m2 0h0m2 0h0m2 0h0m2 0h0m2 0h0m2 0h0m2 0h0m2 0h0m2 0h0m2 0h0m2 0h0m2 0h0m2 0h0m-50 2h0m2 0h0m2 0h0m2 0h0m2 0h0m2 0h0m2 0h0m2 0h0m2 0h0m2 0h0m2 0h0m2 0h0m2 0h0m2 0h0m2 0h0m2 0h0m2 0h0m2 0h0m2 0h0m2 0h0m2 0h0m2 0h0m2 0h0m2 0h0m2 0h0m-46 2h0m2 0h0m2 0h0m2 0h0m2 0h0m2 0h0m2 0h0m2 0h0m2 0h0m2 0h0m2 0h0m2 0h0m2 0h0m2 0h0m2 0h0m2 0h0m2 0h0m2 0h0m2 0h0m2 0h0m2 0h0m2 0h0m2 0h0m-30 2h0m2 0h0m2 0h0m2 0h0m2 0h0m2 0h0m2 0h0m2 0h0m2 0h0m6 0h0m2 0h0m2 0h0m2 0h0m-24 2h0m2 0h0m2 0h0" stroke="#e2f3fa" stroke-width="2.2" stroke-linecap="square" fill="none"/>
<path d="M1436 104h0m2 0h0m2 0h0m2 0h0m-14 2h0m2 0h0m2 0h0m2 0h0m2 0h0m2 0h0m2 0h0m2 0h0m2 0h0m2 0h0m-24 2h0m2 0h0m2 0h0m2 0h0m2 0h0m2 0h0m10 0h0m2 0h0m2 0h0m2 0h0m-36 2h0m2 0h0m2 0h0m2 0h0m2 0h0m2 0h0m2 0h0m22 0h0m2 0h0m2 0h0m-42 2h0m2 0h0m2 0h0m2 0h0m32 0h0m2 0h0m2 0h0m2 0h0m-46 2h0m2 0h0m2 0h0m36 0h0m2 0h0m2 0h0m-48 2h0m2 0h0m2 0h0m40 0h0m2 0h0m2 0h0m-52 2h0m2 0h0m2 0h0m42 0h0m2 0h0m2 0h0m-54 2h0m2 0h0m2 0h0m2 0h0m44 0h0m2 0h0m-58 2h0m2 0h0m2 0h0m2 0h0m2 0h0m46 0h0m2 0h0m-60 2h0m2 0h0m2 0h0m2 0h0m2 0h0m2 0h0m46 0h0m2 0h0m-60 2h0m2 0h0m2 0h0m2 0h0m2 0h0m50 0h0m2 0h0m-60 2h0m2 0h0m2 0h0m50 0h0m2 0h0m2 0h0m-60 2h0m2 0h0m2 0h0m50 0h0m2 0h0m2 0h0m-60 2h0m2 0h0m2 0h0m2 0h0m48 0h0m2 0h0m2 0h0m-60 2h0m2 0h0m2 0h0m2 0h0m2 0h0m46 0h0m2 0h0m2 0h0m-60 2h0m2 0h0m2 0h0m2 0h0m2 0h0m2 0h0m44 0h0m2 0h0m2 0h0m-60 2h0m2 0h0m2 0h0m2 0h0m2 0h0m2 0h0m2 0h0m36 0h0m2 0h0m2 0h0m2 0h0m2 0h0m2 0h0m-68 2h0m2 0h0m2 0h0m2 0h0m2 0h0m2 0h0m2 0h0m2 0h0m2 0h0m2 0h0m2 0h0m2 0h0m32 0h0m2 0h0m2 0h0m2 0h0m2 0h0m2 0h0m-66 2h0m2 0h0m2 0h0m2 0h0m2 0h0m2 0h0m2 0h0m2 0h0m2 0h0m2 0h0m2 0h0m2 0h0m2 0h0m30 0h0m2 0h0m2 0h0m-56 2h0m2 0h0m2 0h0m2 0h0m2 0h0m2 0h0m2 0h0m2 0h0m2 0h0m2 0h0m2 0h0m2 0h0m2 0h0m2 0h0m20 0h0m2 0h0m2 0h0m2 0h0m2 0h0m-54 2h0m2 0h0m2 0h0m2 0h0m2 0h0m2 0h0m2 0h0m2 0h0m2 0h0m2 0h0m2 0h0m2 0h0m2 0h0m2 0h0m2 0h0m14 0h0m2 0h0m2 0h0m2 0h0m2 0h0m-48 2h0m2 0h0m2 0h0m2 0h0m6 0h0m2 0h0m2 0h0m2 0h0m2 0h0m2 0h0m2 0h0m2 0h0m2 0h0m2 0h0m6 0h0m2 0h0m2 0h0m2 0h0m2 0h0m2 0h0m-44 2h0m2 0h0m18 0h0m2 0h0m2 0h0m2 0h0m2 0h0m2 0h0m2 0h0m2 0h0m2 0h0m2 0h0m2 0h0m-18 2h0m2 0h0m2 0h0m2 0h0m2 0h0m2 0h0m2 0h0m2 0h0m2 0h0m-12 2h0m2 0h0m2 0h0m2 0h0m2 0h0" stroke="#cdeef0" stroke-width="2.2" stroke-linecap="square" fill="none"/>
<path d="M1434 108h0m2 0h0m2 0h0m2 0h0m-14 2h0m2 0h0m2 0h0m2 0h0m2 0h0m2 0h0m2 0h0m2 0h0m2 0h0m2 0h0m-28 2h0m2 0h0m2 0h0m2 0h0m2 0h0m2 0h0m2 0h0m2 0h0m10 0h0m2 0h0m2 0h0m-32 2h0m2 0h0m2 0h0m2 0h0m22 0h0m2 0h0m2 0h0m-36 2h0m2 0h0m30 0h0m2 0h0m2 0h0m-40 2h0m2 0h0m34 0h0m2 0h0m-40 2h0m2 0h0m36 0h0m2 0h0m-44 2h0m2 0h0m2 0h0m36 0h0m2 0h0m-44 2h0m2 0h0m2 0h0m38 0h0m-46 2h0m2 0h0m2 0h0m2 0h0m38 0h0m2 0h0m-50 2h0m2 0h0m2 0h0m2 0h0m38 0h0m2 0h0m-48 2h0m2 0h0m2 0h0m2 0h0m38 0h0m2 0h0m-46 2h0m2 0h0m2 0h0m38 0h0m2 0h0m-44 2h0m2 0h0m2 0h0m34 0h0m2 0h0m2 0h0m-42 2h0m2 0h0m2 0h0m26 0h0m2 0h0m2 0h0m2 0h0m2 0h0m2 0h0m-40 2h0m2 0h0m2 0h0m22 0h0m2 0h0m2 0h0m2 0h0m-32 2h0m2 0h0m2 0h0m2 0h0m16 0h0m2 0h0m2 0h0m2 0h0m-28 2h0m2 0h0m2 0h0m2 0h0m2 0h0m2 0h0m6 0h0m2 0h0m2 0h0m2 0h0m2 0h0m2 0h0m-22 2h0m2 0h0m2 0h0m2 0h0m2 0h0m2 0h0m2 0h0m2 0h0m2 0h0m-14 2h0m2 0h0m2 0h0m2 0h0m2 0h0m2 0h0m-6 2h0m2 0h0" stroke="#d2f0bc" stroke-width="2.2" stroke-linecap="square" fill="none"/>
<path d="M1432 112h0m2 0h0m2 0h0m2 0h0m-18 2h0m2 0h0m2 0h0m2 0h0m2 0h0m2 0h0m2 0h0m2 0h0m2 0h0m2 0h0m-26 2h0m2 0h0m2 0h0m2 0h0m2 0h0m2 0h0m2 0h0m2 0h0m2 0h0m2 0h0m2 0h0m2 0h0m2 0h0m2 0h0m-30 2h0m2 0h0m2 0h0m24 0h0m2 0h0m-32 2h0m2 0h0m28 0h0m2 0h0m-34 2h0m2 0h0m28 0h0m2 0h0m-34 2h0m2 0h0m28 0h0m2 0h0m2 0h0m-36 2h0m2 0h0m28 0h0m2 0h0m2 0h0m-38 2h0m2 0h0m2 0h0m2 0h0m26 0h0m2 0h0m-36 2h0m2 0h0m2 0h0m2 0h0m2 0h0m24 0h0m2 0h0m-36 2h0m2 0h0m2 0h0m2 0h0m2 0h0m20 0h0m2 0h0m2 0h0m2 0h0m-34 2h0m2 0h0m2 0h0m2 0h0m2 0h0m2 0h0m10 0h0m2 0h0m2 0h0m2 0h0m2 0h0m2 0h0m-30 2h0m2 0h0m2 0h0m2 0h0m2 0h0m2 0h0m2 0h0m2 0h0m2 0h0m2 0h0m2 0h0m2 0h0m-22 2h0m2 0h0m2 0h0m2 0h0m2 0h0m2 0h0m2 0h0m2 0h0m2 0h0m2 0h0m-16 2h0m2 0h0m2 0h0m2 0h0m2 0h0m2 0h0m2 0h0m-8 2h0m2 0h0" stroke="#e6f0a4" stroke-width="2.2" stroke-linecap="square" fill="none"/>
<path d="M1414 118h0m2 0h0m2 0h0m2 0h0m2 0h0m2 0h0m2 0h0m2 0h0m2 0h0m2 0h0m2 0h0m-24 2h0m2 0h0m2 0h0m2 0h0m2 0h0m2 0h0m2 0h0m2 0h0m2 0h0m2 0h0m2 0h0m2 0h0m2 0h0m-26 2h0m18 0h0m2 0h0m2 0h0m2 0h0m-26 2h0m20 0h0m2 0h0m2 0h0m-26 2h0m2 0h0m20 0h0m2 0h0m-24 2h0m2 0h0m18 0h0m2 0h0m-22 2h0m2 0h0m2 0h0m10 0h0m2 0h0m2 0h0m2 0h0m-22 2h0m2 0h0m2 0h0m2 0h0m2 0h0m2 0h0m2 0h0m2 0h0m2 0h0m-14 2h0m2 0h0m2 0h0m2 0h0" stroke="#f6e29a" stroke-width="2.2" stroke-linecap="square" fill="none"/>
<path d="M1410 122h0m2 0h0m2 0h0m2 0h0m2 0h0m2 0h0m2 0h0m2 0h0m-16 2h0m2 0h0m2 0h0m2 0h0m2 0h0m2 0h0m2 0h0m2 0h0m2 0h0m-16 2h0m2 0h0m2 0h0m2 0h0m2 0h0m2 0h0m2 0h0m2 0h0m2 0h0m-16 2h0m2 0h0m2 0h0m2 0h0m2 0h0m2 0h0m2 0h0m2 0h0m-12 2h0m2 0h0m2 0h0m2 0h0" stroke="#f6c890" stroke-width="2.2" stroke-linecap="square" fill="none"/>
<path d="M1428 235h0m-115-172h0m194 17h0m-26-21h0m28 52h0m-198 141h0m12-2h0m153-90h0m-95 80h0m-11-161h0m27 156h0m-75-144h0m-17 38h0m116 89h0m34-49h0m-152 58h0m127-166h0m67 58h0m-151 128h0m10 2h0m-5-163h0m136-13h0m-25-4h0m-56 141h0m86-99h0m-131-22h0m46-21h0m-98 171h0m40-140h0m10 139h0m-25-140h0m66 125h0m69-72h0m-127-50h0m-26 135h0m84-20h0m-74-116h0m5 138h0m-30-99h0m98-62h0m-96 65h0m119 63h0m21-135h0m-24 138h0m79-113h0m-93-19h0m53 82h0m-60-95h0m-61 51h0m-28 107h0m103-18h0m9-11h0m53-117h0m-173 134h0m0-47h0m31-55h0m115 52h0m18-18h0m-48-65h0m-92 32h0m101 80h0m-36 37h0m-38 13h0m50-158h0m-87 61h0m170-12h0m-166-11h0m85-57h0m-26 167h0m34-29h0m-113-9h0m91 23h0m-14-124h0m16-3h0m21-3h0m-33 7h0m22-29h0m-17 161h0m108-119h0m-165 6h0m-21 45h0m130-83h0m-37 15h0m64 64h0m-76 71h0m50-44h0m-7 1h0m9 9h0m-45-101h0m-92 101h0m64 36h0m131-122h0m-19-25h0m-38 108h0m-135 2h0m176-63h0m-57-48h0m-115 142h0m66 4h0m52-45h0m-42 36h0m-78 1h0m-6-13h0m159-124h0m-116 36h0m94-38h0m-18 6h0m-101 50h0m-13 74h0m-1-42h0m190-61h0m-166 15h0m94 66h0m-41 28h0m-77-5h0m146-48h0m-22-86h0m-52 140h0m61-43h0m-78-70h0m115-17h0m-6-1h0m-47 92h0m-103 56h0m111-147h0m-23 113h0m-33-102h0m-74 104h0m183-108h0m-172 123h0m10-79h0m1-1h0m79 68h0m36-19h0m0 3h0m-48 23h0m34-121h0m-99 32h0m94 69h0m-104-42h0m119-66h0m-61 152h0m55-155h0m-104 45h0m52 96h0m-5 14h0m-1 0h0m99-150h0m-146 60h0m55 65h0m51-133h0m-12 14h0m62 3h0m-27 66h0m-143 4h0m169-42h0m-27-40h0m0 0h0m32 9h0m-1-5h0m-1 46h0m-22 23h0m-94-54h0m6 133h0m-47 1h0m3-109h0m33 101h0m-6 11h0m21-16h0m50-130h0m-21 109h0m-84-53h0m52 69h0m29-15h0m-90 0h0m118-27h0m-99-47h0m18 110h0m5-3h0m-43-74h0m171-55h0m0-18h0m-128 145h0m66-47h0m61-96h0m-130 147h0m-40-38h0m110-16h0m-113 17h0m0-1h0m7-13h0m1 0h0m1 32h0m163-87h0m-114 92h0m113-124h0m-167 75h0m103 20h0m-1-1h0m57-99h0m-103 126h0m1-1h0m-52-42h0m0 1h0m58-76h0m-63 69h0m59-70h0m67 70h0m39-53h0m-85-19h0m-77 94h0m10 40h0m79-37h0m39-111h0m-72 127h0m89-59h0m5-66h0m-147 128h0m102-120h0m39-10h0m-142 114h0m1 1h0m96-8h0m-95 25h0m134-61h0m-107 79h0m-31-78h0m50-52h0m80-19h0m-81 22h0m33 91h0m-79-23h0m47 44h0m19-116h0m73-19h0m17 48h0m-105-29h0m11 102h0m23-12h0m5-100h0m29-5h0m-46 12h0m79-6h0m-13 58h0m-108-31h0m22-19h0m-8 93h0m-44-42h0m6 25h0m140-89h0m-17-5h0m-92 142h0m-12 6h0m44-25h0m22-17h0m70-86h0m-64 80h0m-87-37h0m0-1h0m65 57h0m-71-32h0m29-56h0m0 0h0m52 75h0m-70-62h0m26 92h0m50-127h0m-92 92h0m85 6h0m56-43h0m-141 22h0m20-43h0m34 81h0m102-86h0m-66 65h0m-8-89h0m-1 1h0m64-11h0m-146 82h0m71 37h0m-1 0h0m-1-1h0m89-77h0m-64 59h0m-3 0h0m29-20h0m0 0h0m0 1h0m-89 59h0m124-94h0m2-14h0m-57 61h0m-101-14h0m1-1h0m76-65h0m57 49h0m3 0h0m-1 1h0m-114 86h0m-15-16h0m150-89h0m-149 96h0m1 0h0m90-46h0m-98-25h0m124-69h0m-36 9h0m-73 35h0m37 65h0m105-84h0m-117-2h0m75 59h0m12-81h0m-83 130h0m-41-19h0m-3-11h0m115-18h0m-89 61h0m-12-91h0m116-52h0m-126 116h0m24-81h0m133-17h0m-111 84h0m1 0h0m-48 12h0m103-107h0m31-9h0m-129 139h0m47-31h0m-23 32h0m36-122h0m-13 100h0m40-22h0m57-49h0m-31-44h0m-119 103h0m-2-31h0m0 0h0m122-4h0m-62 43h0m64-111h0m-77 108h0m69-103h0m-60 101h0m-48 28h0m71-28h0m-35 20h0m12-109h0m75-17h0m17 47h0m7-9h0m-74 61h0m40-97h0m-115 124h0m93-40h0m57-53h0m-142 12h0m49-30h0m-5 95h0m76-112h0m12 4h0m0 1h0m-102 95h0m1 0h0m15 9h0m78-108h0m24 16h0m-125 119h0m1 1h0m0 0h0m-16-97h0m79 44h0m-49-63h0m43-15h0m-53 17h0m-33 57h0m-3 33h0m49 0h0m2-1h0m-41 35h0m-1-98h0m38 70h0m-1-1h0m1-2h0m87-113h0m0-1h0m-138 101h0m-1 0h0m70-86h0m79 30h0m-89 62h0m-34-70h0m81-30h0m-91 50h0m97 21h0m-67 41h0m56-39h0m15-7h0m-105-13h0m63 43h0m3-5h0m-71 8h0m103-27h0m-74 56h0m2-34h0m-4 34h0m100-135h0m-130 96h0m1 0h0m29-1h0m-26 0h0m151-82h0m-4 10h0m1 2h0m-119 76h0m-32 18h0m1 0h0m52-103h0m-19 89h0m0 0h0m-10 30h0m92-131h0m-1 1h0m-63 13h0m-42 32h0m91 29h0m-106-11h0m0 0h0m65 43h0m0 0h0m-26-88h0m-16 15h0m125-32h0m1 1h0m-119 88h0m111-41h0m-67 51h0m35-99h0m-102 96h0m145-94h0m-2 0h0m4 2h0m-109 100h0m-37 24h0m10 10h0m2 1h0m29-32h0m-26 25h0m131-119h0m4-4h0m-114 107h0m-39-21h0m138-96h0m-91 96h0m-40-6h0m-1-1h0m26-65h0m-32 70h0m-1 0h0m3 29h0m43-107h0m1 0h0m106-4h0m1-4h0m-2-1h0m-140 31h0m45-27h0m-4 4h0m-50 43h0m1 0h0m64 48h0m2-4h0m42-100h0m-42 91h0m-60-53h0m113 18h0m-1-1h0m-8-55h0m-108 76h0m0 10h0m27 10h0m53-97h0m8 80h0m-54 33h0m80-54h0m-117 59h0m5-40h0m135-77h0m-142 57h0m59-48h0m-42 127h0m73-136h0m-29 101h0m-54-46h0m36 50h0m-4-17h0m-14 4h0m123-87h0m-145 92h0m2-17h0m123-83h0m-117 138h0m16-49h0m-24-31h0m2 26h0m56 18h0m-51-59h0m79 41h0m57-48h0m-141 70h0m75-100h0m-51 92h0m120-87h0m-151 55h0m65 31h0m-52-2h0m3 7h0m133-87h0m-59-12h0m-60 95h0m40 3h0m25-95h0m-77 130h0m-2-98h0m-13 31h0m131-18h0m-124 38h0m31 19h0m2 1h0m-1 0h0m25-15h0m68-44h0m-121-2h0m49 51h0m17-9h0m-70 45h0m111-133h0m-108 102h0m98-35h0m-104 35h0m11 31h0m-13-63h0m60 24h0m-52-4h0m44 4h0m-37 7h0m107-101h0m-70 13h0m0 82h0m-48-23h0m60 30h0m-68-41h0m58 33h0m2 1h0m48-26h0m24-71h0m5 48h0m-67 44h0m-34-2h0m1 0h0m-1 1h0m-26 15h0m31-88h0m-4 100h0m0 1h0m-27-31h0m115-35h0m-98 74h0m-1-1h0m-12 12h0m-1 0h0m22-113h0m36-14h0m79 12h0m-138 74h0m54 3h0m-65-33h0m44-48h0m-39 82h0m48-81h0m37-16h0m53 32h0m1 0h0m-89-20h0m-49 45h0m19 27h0m61-4h0m0-80h0m-48 110h0m-8-14h0m17-5h0m-17 29h0m-26-64h0m142-27h0m-53-27h0m-14 3h0m22 64h0m44-61h0m-27 48h0m-109 43h0m13-6h0m-14 1h0m-1 1h0m6 10h0m1-1h0m-12 4h0m63-7h0m1-1h0m-63-33h0m1 0h0m56 21h0m0 0h0m-49 42h0m0 0h0m53-30h0m-1 1h0m1 0h0m21-21h0m-1 1h0m-72 24h0m1-64h0m133-14h0m-114 91h0m0 0h0m-27-13h0m83-104h0m8 69h0m-85 25h0m11-64h0m-16 37h0m2 13h0m14 7h0m-7 7h0m-3 38h0m25-116h0m-1 0h0m-28 80h0m-1 0h0m139-73h0m-90 67h0m-54-28h0m1 0h0m6 34h0m66-10h0m1 0h0m-67-9h0m-6 40h0m96-116h0m-90 126h0m1 1h0m97-63h0m-84 31h0m87-35h0m-85 35h0m82-97h0m-103 58h0m85 18h0m1 0h0m32-25h0m6-52h0m-109 101h0m5-3h0m81-96h0m0 0h0m-45 86h0m78-48h0m0-1h0m-88 52h0m39-88h0m-53 17h0m88 27h0m0 1h0m-67-35h0m-54 95h0m28-8h0m61-26h0m41-29h0m1 1h0m-113 48h0m-5-1h0m0 0h0m0 0h0m71-14h0m-49-62h0m-1 0h0m1 68h0m93-39h0m-109 40h0m15 25h0m-31 12h0m0 0h0m36-106h0m56 52h0m18-11h0m-48 29h0m-19-70h0m-30 77h0m17 13h0m38-99h0m-43 110h0m1-1h0m-12-26h0m1 9h0m73-28h0m-81 14h0m24 23h0m1-89h0m39-13h0m4-2h0m-64 82h0m-14 25h0m1 0h0m0-3h0m0 1h0m4-3h0m-2-46h0m14 42h0m14-78h0m3-3h0m-21 15h0m12 83h0m-1 0h0m0-1h0m-13-80h0m117-39h0m-111 87h0m99-86h0m-113 64h0m16-31h0m1 0h0m37-21h0m-14 75h0m-29 2h0m1-1h0m2 36h0m39-40h0m81-51h0m-23 22h0m0-1h0m-93 44h0m8 4h0m56-26h0m-54 35h0m-24-36h0m7 12h0m-6-9h0m78-73h0m33-4h0m24 17h0m-1 0h0m-60-13h0m53 30h0m-60 47h0m0 1h0m-24-62h0m-12-3h0m8 0h0m-34 67h0m-7-24h0m2 64h0m-1 0h0m23-19h0m42-22h0m27-17h0m-40 17h0m5-73h0m2-1h0m40 50h0m1 1h0m-57 28h0m0 0h0m-22-7h0m3 26h0m58-38h0m-76 37h0m-6-37h0m1 1h0m75-66h0m-25 8h0m1-1h0m-56 96h0m21-28h0m116-53h0m-134 95h0m-3-4h0m24-92h0m-1 1h0m112-23h0m-62 2h0m54 36h0m-34 25h0m-93 48h0m37-97h0m-32 107h0m0-45h0m-2 28h0m22 3h0m40-103h0m1 1h0m72 2h0m-124 72h0m-2 42h0m0 0h0m-10-60h0m66 20h0m0-1h0m0 0h0m42-29h0m-87 60h0m-21-53h0m65 22h0m-42 21h0m2 0h0m-2 0h0m100-63h0m-83-23h0m1-1h0m0 70h0m-39 21h0m11-29h0m31 9h0m-41-29h0m-1 0h0m76 16h0m0 0h0m-39-58h0m21 66h0m-1 0h0m-45-50h0m113 4h0m0 1h0m-70 45h0m-49 41h0m-1 0h0m123-93h0m-99-10h0m66-19h0m-72 79h0m0 1h0m5 0h0m-12-52h0m93 21h0m-102-13h0m43-24h0m21 63h0m-49-52h0m0 0h0m49-20h0m1 0h0m-44 18h0m-13 77h0m2-73h0m2 1h0m0 0h0m-10 54h0m47-70h0m1 0h0m24 57h0m-69 33h0m90-47h0m0 1h0m-99 2h0m17 43h0m0 0h0m-22 18h0m89-53h0m-39-48h0m0 0h0m56 36h0m-106 56h0m18-11h0m49-18h0m67-75h0m0 0h0m0 21h0m-1 1h0m-121 51h0m-7-5h0m87-71h0m-76 75h0m5 31h0m-15-60h0m69-43h0m-29 16h0m-30 11h0m5 80h0m83-111h0m8 46h0m15-15h0m9-13h0m-124 102h0m-1-1h0m26-102h0m-34 41h0m1-1h0m80 8h0m-42-48h0m-39 103h0m2-1h0m8-43h0m26 7h0m41-80h0m-52 21h0m94-27h0m-67 82h0m-56 36h0m9-76h0m0 0h0m0 39h0m0 0h0m13 23h0m105-104h0m-125 114h0m16-80h0m17 47h0m-34 36h0m0 0h0m98-54h0m26-63h0m-39 66h0m-71-30h0m1 0h0m6 77h0m-1 0h0m31-96h0m78 16h0m-106 48h0m2-1h0m-12-3h0m-8 1h0m1 0h0m-1 0h0m2 0h0m3-40h0m6 39h0m-1-1h0m0 1h0m1-1h0m-4-2h0m2-2h0m49-61h0m-43 19h0m86 23h0m-68-33h0m54 45h0m-2 0h0m-76 6h0m111-31h0m-116 38h0m112-37h0m-115 33h0m10-38h0m-10 37h0m1 0h0m-1 0h0m11 2h0m-6-4h0m0 0h0m48 11h0m-49 41h0m-1-1h0m-6-12h0m32-29h0m-3 0h0m-24-3h0m118-39h0m0-1h0m-59 42h0m11-7h0m-58 37h0m-12-35h0m105-31h0m1 0h0m-94-11h0m42-20h0m-4 70h0m-1-1h0m-39 21h0m-3-34h0m41-54h0m-48 62h0m80-12h0m19-14h0m1 0h0m-34-42h0m-71 104h0m100-57h0m-86 19h0m113-72h0m5 21h0m0-7h0m1 0h0m-114 62h0m1 0h0m1-50h0m-16 17h0m73 23h0m-39 18h0m-26 29h0m-12-50h0m34 16h0m-23-14h0m70-62h0m-64 99h0m45-95h0m-1 0h0m1 1h0m0 0h0m-59 59h0m103-21h0m1-1h0m-100 61h0m-1-1h0m4-42h0m98-19h0m-43 31h0m64-55h0m-81 58h0m58-79h0m-34 73h0m-1 0h0m-72 39h0m1-50h0m1 1h0m25 16h0m-1-1h0m16-55h0m-38 85h0m-1 0h0m0 1h0m1-43h0m-1 0h0m15-37h0m-18 85h0m7-56h0m1 8h0m-2 0h0m1-28h0m0 1h0m1-1h0m74 27h0m-10-58h0m-33 13h0m-25 16h0m79 25h0m0 0h0m38-52h0m-128 109h0m12-8h0m-1-7h0m50-95h0m-46 29h0m0 0h0m1-4h0m18 49h0m0 1h0m73-82h0m-107 59h0m1 0h0m-2 1h0m16-31h0m2 0h0m-14 37h0m51-55h0m-56 98h0m58-32h0m-44 24h0m0 0h0m-1 1h0m98-102h0m-101 103h0m-3-42h0m1 1h0m16-36h0m-24 89h0m0 0h0m119-79h0m1-1h0m-70-22h0m0 0h0m65-14h0m-101 66h0m-6-5h0m-1-1h0m0 0h0m-2 0h0m-2 1h0m63-52h0m-35 13h0m-28 43h0m-2 0h0m73-58h0m-71 45h0m0 0h0m82 9h0m-71 48h0m26-87h0m5-2h0m46-17h0m1-1h0m-73 26h0m-13 13h0m11 30h0m0 3h0m0 1h0m1-1h0m-8-13h0m0-1h0m-8 2h0m35-41h0m88 5h0m-58 48h0m0 0h0m49-74h0m-97 77h0m-16 31h0m88-48h0m-1 0h0m39-35h0m0-1h0m-123 94h0m117-117h0m1-1h0m-1 1h0m-80 77h0m9 1h0m-52 35h0m104-68h0m-92 58h0m-1 1h0m1 0h0m49-28h0m0-1h0m-48-12h0m28 19h0m-1-1h0m1-1h0m0-1h0m71-42h0m-1 1h0m-94-3h0m55 35h0m-12 5h0m58-76h0m-109 39h0m0-1h0m121-27h0m-109 17h0m-5 41h0m-1 0h0m80-15h0m0 0h0m1 1h0m-58 28h0m79-47h0m-2 1h0m12-14h0m-119 93h0m0 0h0m1 0h0m1-10h0m90-58h0m30-32h0m-1 0h0m-117 91h0m-1 0h0m37-88h0m0-1h0m72-17h0m-85 79h0m1 1h0m90-78h0m0 0h0m1-1h0m-2 0h0m-121 48h0m-1 1h0m1-1h0m43 27h0m-27-45h0m40-19h0m-58 101h0m1 0h0m45-37h0m-45-29h0m1 0h0m34-26h0m0 1h0m-35 89h0m7-74h0m3 1h0m107-7h0m0 1h0m5-7h0m-94 48h0m-2 1h0m0 0h0m64-16h0m-78 8h0m1-1h0m-9-11h0m57 19h0m0 1h0m-31 0h0m96-69h0m-67 69h0m0 0h0m31-19h0m-43 20h0m80-64h0m-126 99h0m2 5h0m90-63h0m0 0h0m1 0h0m33-39h0m-1 1h0m-46 46h0m16-59h0m-45 75h0m0 0h0m0-1h0m4-2h0m-1 0h0m1 0h0m0 1h0m-46-19h0m0 0h0m0 1h0m0-1h0m114-31h0m-1 0h0m2-1h0m-85 55h0m-32 33h0m15-83h0m-1 0h0m28 48h0m0-1h0m0 0h0m63-40h0m-105 73h0m0 0h0m46-94h0m-42 45h0m104-25h0m-83 44h0m-13-49h0m11-7h0m2-1h0m0 0h0m85 9h0m-81 50h0m1 0h0m35-15h0m15-8h0m-1 0h0m1 0h0m-85 56h0m52-40h0m-41-9h0m-8 50h0m-1 0h0m1-1h0m1-3h0m1 0h0m1 0h0m19-87h0m0 0h0m-1 0h0m0 0h0m2 48h0m27 1h0m-53-20h0m1-1h0m74-45h0m-12 65h0m1 0h0m-31 8h0m34-11h0m-59-11h0m1 1h0m48 13h0m-55 39h0m0-1h0m28-34h0m1 1h0m-1-3h0m0 0h0m0 0h0m0-2h0m1 1h0m0-1h0m6 5h0m0-1h0m49-71h0m-86 110h0m1-1h0m29-44h0m40-6h0m2 0h0m-49 10h0m-20 37h0m1 0h0m47-39h0m-46-32h0m-1 0h0m0 1h0m1 0h0m4 13h0m29-30h0m-15 3h0m-21 85h0m121-104h0m-1 15h0m-2 0h0m-1-21h0m-61 70h0m-18 3h0m3-55h0m79-16h0m-66 67h0m-21 7h0m52-22h0m-43 19h0m11-60h0m-1-1h0m-21 10h0m-1 46h0m79-36h0m0 1h0m-65 39h0m2-58h0m-14 62h0m63-75h0m-86 53h0m101-23h0m-75 41h0m81-50h0m-117 23h0m-1-1h0m9-5h0m54-31h0m-45 65h0m-6-14h0m-1-1h0m24 17h0m0-1h0m14-3h0m59-37h0m-31-30h0m-65 53h0m0 0h0m-2-1h0m24 16h0m-17-42h0m85 9h0m-99 12h0m0 0h0m120-37h0m-21 26h0m-56-23h0m-1 0h0m-33 22h0m-1-1h0m24 33h0m0 0h0m77-70h0m9 17h0m-39 37h0m1-1h0m34-53h0m-37 54h0m33-54h0m0 0h0m0-1h0m-109 51h0m0 0h0m-3-2h0m14 19h0m6 5h0m0-1h0m0 0h0m0 1h0m67-71h0m-2 0h0m1 1h0m-79 48h0m2 0h0m68 5h0m-2 0h0m-44-33h0m64 22h0m-93-2h0m47-28h0m-2-1h0m0 1h0m23-8h0m0 0h0m-42 16h0m-11 49h0m1 0h0m88-72h0m-107 46h0m2 0h0m11 7h0m65-49h0m9 49h0m0-1h0m14-51h0m-65 68h0m26 0h0m0 0h0m-37-45h0m33 44h0m-44-11h0m109-44h0m-88 11h0m-7 43h0m1-1h0m74-65h0m-59 70h0m6-57h0m19 48h0m0 1h0m-1-1h0m11-7h0m-30 14h0m1-1h0m-35-1h0m1 0h0m0 4h0m0-1h0m107-59h0m-1 0h0m-2 6h0m-107 41h0m28 12h0m-17-3h0m18 4h0m0-1h0m1 0h0m-27-33h0m39 30h0m57-36h0m-2-1h0m-30-26h0m-27 11h0m0-1h0m9 54h0m-2 1h0m-27-44h0m56-22h0m-82 38h0m111-39h0m-96 69h0m-2 0h0m1-1h0m3-44h0m62 27h0m32-31h0m-1 1h0m0 0h0m-2 2h0m-55-14h0m1-1h0m1 0h0m-1 0h0m-46 55h0m55-4h0m-33 7h0m-30-19h0m0-1h0m40-32h0m0 1h0m-29 53h0m1 1h0m64-19h0m0 0h0m-1 1h0m-55-28h0m1-1h0m-1 1h0m-18 15h0m-3 3h0m50-28h0m-25 10h0m57 26h0m-1 0h0m-66 18h0m61-64h0m-67 51h0m88-20h0m0 1h0m-58-19h0m53 23h0m-83 22h0m0-1h0m14-38h0m-1 1h0m-8 3h0m-17 19h0m0 0h0m1-1h0m-1 0h0m48 20h0m-36-13h0m98-27h0m1 1h0m0 0h0m-2-1h0m-38 33h0m-1 0h0m0 0h0m18-57h0m30 5h0m-103 60h0m-1 0h0m-6-27h0m23 27h0m-16 2h0m0 0h0m90-37h0m14-17h0m-106 44h0m59-3h0m0 1h0m-59 3h0m-1 0h0m0 0h0m-1 1h0m45-49h0m0 1h0m1-1h0m42 26h0m-1 1h0m0-1h0m15-35h0m-96 64h0m25 2h0m-1 0h0m-5-44h0m-28 24h0m108-31h0m-113 27h0m-2 0h0m1-1h0m3-1h0m-3 3h0m0 1h0m13 18h0m-1-1h0m0 0h0m1 0h0m0 2h0m2 1h0m56-61h0m40-3h0m-53 63h0m0 1h0m45-36h0m-59 35h0m36-16h0m0-46h0m-68 30h0m0 0h0m76 11h0m-51 23h0m-1 1h0m-1 0h0m28-60h0m0 0h0m1-1h0m50-4h0m-85 23h0m-1-1h0m59-23h0m-61 24h0m34 38h0m-1-1h0m-37-38h0m3 0h0m-22 20h0m-2-1h0m1 0h0m2-2h0m0 0h0m111-34h0m-88 56h0m88-52h0m-58 53h0m-2 0h0m0 0h0m-36-37h0m-2 0h0m0 0h0m0 36h0m7 0h0m8 2h0m-22-17h0m1 7h0m1-1h0m1 5h0m8 3h0m-1 1h0m-9-10h0m66-4h0m-56 13h0m61-15h0m-40 17h0m-33-17h0m0-1h0m19 17h0m-1-1h0m32-54h0m2 0h0m-50 48h0m1 0h0m103-47h0m1-1h0m-25 32h0m-35-29h0m-1 0h0m1 0h0m1-1h0m-53 33h0m99-42h0m-56 61h0m1 0h0m24-57h0m1-1h0m-68 36h0m1 0h0m-1 0h0m42-26h0m2 0h0m16 43h0m1-1h0m41-34h0m-82 5h0m-1-1h0m9-1h0m-14 1h0m0 0h0m47-19h0m-41 19h0m2 0h0m-13 4h0m-2 20h0m87-17h0m1-3h0m0 1h0m-16 13h0m28-42h0m-100 33h0m56 20h0m1 0h0m-36 9h0m2 0h0m66-64h0m5 24h0m0 1h0m8-20h0m0-1h0m-68 59h0m0 0h0m-40-20h0m0-1h0m90-8h0m-79 26h0m-2 1h0m1 0h0m0 0h0m53-8h0m6-49h0m-1 1h0m0 0h0m28 23h0m-65-8h0m0 44h0m1 0h0m54-63h0m-13 46h0m2 0h0m12-11h0m0 1h0m-69-8h0m13-6h0m-1 42h0m0 0h0m0 0h0m26-57h0m0 0h0m-1 0h0m1 0h0m-53 33h0m-1-1h0m2-1h0m47-29h0m44-10h0m-2 0h0m1 1h0m-92 44h0m1-1h0m-1 0h0m-1 1h0m103-42h0m0-1h0m-1 1h0m-95 53h0m12-28h0m33 32h0m16-56h0m1 0h0m-54 25h0m1 0h0m-2 0h0m23 33h0m17-4h0m-51-12h0m63 5h0m0-1h0m-5-43h0m27-6h0m-1-1h0m-80 55h0m-1 0h0m32-38h0m-2 0h0m-26 12h0m69 14h0m-55 20h0m1-1h0m1 0h0m-13-33h0m0 0h0m-13 14h0m2-1h0m22-15h0m-2-1h0m84-19h0m1 0h0m-57 55h0m-2 0h0m1 1h0m21-58h0m1-1h0m-1 0h0m1 43h0m-36 15h0m0 1h0m71-53h0m-88 20h0m-12 2h0m1 0h0m61 16h0m-55 12h0m-1 0h0m93-56h0m3 5h0m-1 0h0m-90 51h0m0 1h0m-1-1h0m38-50h0m49 8h0m-64-2h0m0 1h0m0-1h0m-31 14h0m0 0h0m1 0h0m-1 1h0m1 0h0m10-1h0m13 32h0m25-54h0m-43 53h0m0 0h0m64-58h0m0 0h0m-52 60h0m36-57h0m37 16h0m-64-4h0m-1 1h0m6 42h0m1-1h0m0 1h0m0-1h0m2 0h0m-20 0h0m-20-15h0m78-4h0m0-1h0m-7-35h0m-14 47h0m-29 11h0m61-33h0m-2 1h0m15-17h0m0 0h0m-65 2h0m1 0h0m-31 40h0m-1 0h0m16-30h0m1 1h0m-1-1h0m0 0h0m73-2h0m-1 1h0m0-1h0m0-21h0m0-1h0m0 0h0m-8 30h0m-39 28h0m1 0h0m41-31h0m1-1h0m-1 1h0m1-1h0m-46-13h0m-1 0h0m-33 16h0m1 0h0m-1-1h0m-10 12h0m-1 0h0m1 1h0m37 18h0m-1 0h0m63-57h0m1 1h0m1-1h0m-2 0h0m1 0h0m-50 55h0m30-21h0m0 1h0m-1-1h0m-70-7h0m-1-1h0m34 31h0m17-10h0m-58-13h0m1 1h0m0 0h0m6 19h0m-1 0h0m1 1h0m0 0h0m-6-12h0m46-35h0m-1 1h0m23 32h0m0 0h0m14-11h0m-80 0h0m27-13h0m0-1h0m-1 1h0m22 35h0m-1 0h0m50-50h0m1 1h0m-97 47h0m73-52h0m0 1h0m-1 0h0m-44 58h0m1-1h0m-16-30h0m-1 0h0m2-1h0m2 0h0m-1 0h0m1 32h0m41-54h0m-1-1h0m0 1h0m-4 1h0m-1 0h0m-28 15h0m-1 0h0m0-1h0m25-12h0m22 32h0m0 1h0m0-1h0m-58-10h0m81-27h0m6 8h0m0 0h0m-77 11h0m0 1h0m66-22h0m0-1h0m0 1h0m0 0h0m-20 2h0m-28 55h0m-1 1h0m11-6h0m0-1h0m0 0h0m-37 5h0m15 2h0m13-1h0m1 1h0m1-1h0m-1 1h0m-41-28h0m1-1h0m0 0h0m28-13h0m-18 39h0m0 0h0m0 1h0m-11-11h0m-1 0h0m-1 1h0m3 4h0m95-44h0m1-1h0m0 1h0m-72 51h0m0 0h0m0 1h0m38-16h0m34-35h0m-1 0h0m1 1h0m-39-4h0m-8 46h0m45-36h0m0 0h0m1-1h0m-99 24h0m-1 0h0m23 21h0m-4-2h0m-1-1h0m0 0h0m4-32h0m19-9h0m38-15h0m-67 56h0m1 1h0m1-1h0m-13-13h0m1-1h0m43-30h0m17 33h0m0 0h0m-60-10h0m1 0h0m0 0h0m0 0h0m91-32h0m1 0h0m-88 51h0m0 0h0m81-53h0m-76 56h0m87-53h0m-74 55h0m-1 0h0m1-1h0m-18-27h0m0-1h0m43-19h0m15-7h0m0 0h0m-63 36h0m45 17h0m0-1h0m48-37h0m-81 14h0m-1-1h0m23-16h0m1 40h0m-33-7h0m0 0h0m44 5h0m-9 2h0m-17-29h0m-1-1h0m0 0h0m-10 7h0m-1 0h0m63-30h0m-1 0h0m-50 53h0m-1 0h0m66-56h0m0 0h0m0 0h0m-13 38h0m8-38h0m-1 1h0m1-1h0m-51 19h0m-1-1h0m40 23h0m1 0h0m-66-9h0m-1 1h0m61 10h0m1 0h0m-49 11h0m0 1h0m34-2h0m0-1h0m0 1h0m-1-1h0m-35-20h0m0 1h0m0 0h0m38-25h0m0 0h0m-21 48h0m-29-12h0m90-42h0m-1 0h0m0 1h0m-6 25h0m-45 29h0m-27-3h0m1 1h0m-12-19h0m94-32h0m-11-4h0m3 24h0m-6-23h0m0 0h0m-1-1h0m-45 16h0m-19 39h0m65-25h0m15-24h0m1 1h0m0 6h0m-90 20h0m13 24h0m2-1h0m28-6h0m2 0h0m-46 4h0m1 0h0m1 1h0m0-1h0m48-8h0m1 0h0m-1 0h0m-14-31h0m-17 42h0m1 0h0m-2-1h0m1 0h0m18 1h0m3-44h0m-22 43h0m0 0h0m-2 1h0m53-20h0m-35 20h0m1 0h0m0 0h0m0-1h0m38-23h0m-75-1h0m0 0h0m0 0h0m23-11h0m29-14h0m-52 44h0m1-1h0m-3-3h0m0 0h0m1 0h0m64-6h0m0-1h0m0 1h0m-42-18h0m-5 31h0m46-49h0m0 0h0m-57 50h0m0-1h0m65-52h0m-36 15h0m-2-1h0m0 0h0m-35 26h0m1 1h0m57 1h0m1 0h0m-1 1h0m-47-11h0m2-1h0m13 21h0m-3 1h0m0-1h0m64-52h0m1 1h0m-71 49h0m0-21h0m-1-1h0m4-4h0m-12 9h0m0 0h0m20 20h0m-28-14h0m17-13h0m13 27h0m0 0h0m0-1h0m2 1h0m33-15h0m-13-31h0m41 5h0m1 0h0m-71 39h0m34-47h0m2 1h0m-1-1h0m-53 29h0m1 0h0m89-28h0m-5 11h0m-55 36h0m14-3h0m-1-1h0m-28 3h0m0 0h0m73-37h0m-77 35h0m0 0h0m0-1h0m54-11h0m-1-1h0m-16 8h0m1 1h0m-1-1h0m-11-32h0m-41 23h0m2-1h0m70-34h0m-66 51h0m1 0h0m20 0h0m-7-2h0m4 0h0m7-32h0m-25 31h0m0 1h0m42-2h0m40-44h0m-60 16h0m-14 13h0m25 21h0m-10-2h0m0-1h0m0 0h0m-21-16h0m1 15h0m17 0h0m67-43h0m0 0h0m-91 28h0m0 0h0m0 0h0m17-8h0m-15 9h0m16 11h0m-1 0h0m-1 1h0m73-42h0m-66 41h0m0 0h0m0 0h0m9-30h0m-1 1h0m-8 4h0m27-14h0m31 16h0m-33 22h0m-49-7h0m75-10h0m2 1h0m-7 5h0m-63 12h0m25 5h0m-16-6h0m40-5h0m-43-8h0m33 15h0m-17-28h0m-9 25h0m55-43h0m-73 36h0m78-36h0m-22 38h0m29-25h0m-68 15h0m-11 15h0m0 1h0m29 6h0m-25-10h0m27 10h0m-26-16h0m16 13h0m-8-22h0m-11 13h0m21-21h0" stroke="#1f2f78" stroke-width="1.2" stroke-linecap="square" fill="none"/>
<path d="M1377 160h0m20-43h0m14 33h0m-35 8h0m0 1h0m60-56h0m-75 32h0m85-11h0m0 1h0m-77 9h0m-6 20h0m25 5h0m-30-13h0m91-42h0m-53 55h0m-10-1h0m0 0h0m-1 1h0m-27-20h0m83-36h0m13 11h0m-89 20h0m-2 22h0m0 0h0m1 1h0m50-8h0m-17-32h0m-14 42h0m17-1h0m3-44h0m-1 1h0m30 23h0m-35 21h0m2 0h0m38-24h0m-1 0h0m0 0h0m-73 0h0m21-13h0m0 0h0m-21 30h0m5 5h0m66-21h0m-73 13h0m-2 0h0m18 8h0m-1-1h0m33-5h0m21-47h0m24 6h0m-60 9h0m60-7h0m-96 33h0m57 1h0m-48-9h0m35 19h0m0 0h0m-18 1h0m-2-1h0m64-52h0m4 2h0m-76 27h0m0 0h0m0-1h0m4-4h0m0 1h0m-12 7h0m4 19h0m7 2h0m1-1h0m3 1h0m4-1h0m18-2h0m-20 1h0m34-11h0m1 1h0m1-1h0m-32 13h0m2-1h0m32-13h0m2 0h0m-61 8h0m91-34h0m-2-1h0m1 1h0m-80 35h0m-1 0h0m10 3h0m35-47h0m1 1h0m-54 27h0m89-27h0m-4 12h0m0 0h0m-55 36h0m-30-20h0m4 17h0m0 1h0m0 0h0m1-1h0m9 0h0m1 0h0m50-13h0m-28-24h0m0 0h0m-1-1h0m-38 22h0m70-33h0m-66 50h0m4-2h0m2-1h0m-1 1h0m0-1h0m16 3h0m1-1h0m-1 1h0m-1 0h0m-24-9h0m34-28h0m-14 35h0m9-32h0m11 35h0m-37-4h0m0 0h0m43-1h0m0-1h0m1 0h0m-33 2h0m1 0h0m1 0h0m1 0h0m1 1h0m0 0h0m8-31h0m-1 1h0m-12 27h0m0 0h0m0 1h0m0-1h0m-1 0h0m2-15h0m-2 0h0m0 2h0m25 19h0m1 1h0m-31-18h0m-6 10h0m0 0h0m13-16h0m0-1h0m26 22h0m0 1h0m2 0h0m-22-5h0m63-26h0m0 1h0m-83 16h0m-2 0h0m0 0h0m7 12h0m9-3h0m1 1h0m-1-1h0m76-39h0m2 0h0m-92 28h0m1-1h0m-2 6h0m0 0h0m-1 1h0m19-15h0m56-25h0m-1-1h0m-63 35h0m10-10h0m-17 10h0m11 10h0m39-3h0m1 1h0m36-38h0m-66 41h0m0 1h0m8-31h0m1 1h0m-30 30h0m0-1h0m88-36h0m0 0h0m1 1h0m-62 40h0m-1 0h0m-5-30h0m-1 0h0m29-15h0m-1 0h0m-2 39h0m-49-7h0m0 1h0m0-1h0m-1 1h0m1 0h0m82-38h0m-1 0h0m-38 47h0m4-40h0m2 0h0m-1 0h0m27 21h0m-8 8h0m-57 7h0m-2 2h0m0 1h0m0-1h0m0 1h0m24 4h0m0-1h0m-1 0h0m1 0h0m59-41h0m1 0h0m-1-1h0m-74 37h0m-1 0h0m39-5h0m19-9h0m0-1h0m-61 13h0m-1-1h0m2-9h0m1-1h0m23-18h0m0 1h0m30-12h0m0-1h0m-55 41h0m0 0h0m0-9h0m-2 1h0m0 0h0m1-1h0m33 12h0m-17 3h0m-21-3h0m-2 1h0m23-28h0m57-17h0m-68 42h0m0 0h0m1 1h0m25-33h0m-23 32h0m56-44h0m-60 31h0m0 0h0m17 19h0m2 1h0m5 0h0m-1-1h0m24-45h0m-62 31h0m25 11h0m-5-3h0m58-43h0m2-1h0m-1 1h0m-22 38h0m-51-2h0m-2 8h0m85-33h0m0 0h0m0 0h0m-1 0h0m-84 24h0m2 0h0m8 6h0m1 1h0m-7-7h0m1 0h0m0 0h0m0 0h0m78-22h0m-1 0h0m1 1h0m0-1h0m-9-14h0m0 1h0m-2 0h0m-60 28h0m47 8h0m-59-1h0m0 1h0m-2-1h0m5 9h0m-1-1h0m5-3h0m2 0h0m24 10h0m0-1h0m0 1h0m0-1h0m-1 0h0m-22-15h0m0-1h0m71-17h0m-1-1h0m-72 20h0m-2 1h0m0 0h0m36 8h0m2 0h0m-2-1h0m-45-3h0m0 0h0m-1-1h0m1-1h0m-1 0h0m23 6h0m0-1h0m-5-1h0m-1-1h0m-1 0h0m0 0h0m1 0h0m-2-10h0m1 1h0m-2 0h0m73-28h0m0 0h0m-1-1h0m-44 44h0m-2 0h0m1 1h0m0-1h0m-36-3h0m1-1h0m0 0h0m-1 1h0m47-39h0m-33 20h0m0 0h0m1 1h0m-1-1h0m0 0h0m-9 13h0m40 4h0m1-1h0m1 0h0m-44-2h0m1 1h0m79-35h0m-73 35h0m-1 0h0m2 0h0m-7-2h0m-1-1h0m2 1h0m-1 0h0m4 0h0m0 0h0m-1-1h0m0 0h0m49-1h0m-1-1h0m-47 1h0m-1 0h0m0-1h0m17-17h0m0-1h0m1 0h0m-2 0h0m-21 25h0m0 0h0m0-1h0m18-22h0m-1 1h0m2 0h0m-2 0h0m-21 22h0m1-1h0m-1 1h0m0 0h0m14-12h0m1-1h0m0 1h0m-11 8h0m63-36h0m-2 0h0m-54 32h0m13 12h0m1-1h0m-1 0h0m36-42h0m0 1h0m-59 33h0m12 0h0m-1 0h0m-1 1h0m7-14h0m-1 0h0m22 22h0m1 0h0m-1 0h0m-36-8h0m0 0h0m10 1h0m-1-4h0m69-33h0m-54 46h0m1 0h0m1 0h0m-1 0h0m-23-8h0m0-1h0m0 0h0m-2 0h0m1 0h0m75-21h0m1-1h0m1 1h0m-1 0h0m-79 23h0m1 1h0m-1-1h0m17 0h0m0 0h0m-1 0h0m-17-1h0m0 0h0m1-1h0m31-24h0m0 1h0m-18 16h0m1 0h0m-1 0h0m0 0h0m6-10h0m1 0h0m-2 0h0m1 0h0m-1-1h0m0 0h0m3 22h0m1 1h0m12-30h0m1 0h0m0-1h0m49-4h0m1 0h0m0 1h0m-1-1h0m2 1h0m-42-2h0m0 0h0m1-1h0m0 1h0m-1 0h0m11 28h0m0 0h0m-1-1h0m1 1h0m-54 3h0m1 1h0m-2 0h0m2 0h0m12-13h0m0 1h0m1-1h0m-2 10h0m-1 1h0m2-1h0m70-30h0m1 1h0m0 0h0m1-1h0m-24 27h0m1-1h0m0 0h0m0 0h0m-49 0h0m35 6h0m-1 1h0m1-1h0m-35-4h0m-2 0h0m2 0h0m-1 0h0m3 5h0m-1-1h0m-1 1h0m26 3h0m2 0h0m-12 5h0m-1 0h0m-1 0h0m24-42h0m-26 12h0m1-1h0m0 1h0m12-7h0m0 1h0m-15 33h0m43-44h0m0 1h0m-49 39h0m1 0h0m-1 1h0m0 0h0m-3-12h0m1 0h0m7-10h0m-1 0h0m8 28h0m1 0h0m-1-1h0m50-43h0m1-1h0m0 1h0m1 0h0m0 8h0m-49 36h0m43-28h0m1 0h0m6-14h0m0 0h0m0-1h0m0 1h0m-68 32h0m1-1h0m46-33h0m-1-1h0m1 1h0m8 24h0m-1-1h0m0 0h0m-52-2h0m0 0h0m54 0h0m0 0h0m-1 0h0m-56 7h0m1-1h0m1 0h0m65-17h0m0-1h0m1 1h0m-45 31h0m-1 1h0m-19-6h0m0-1h0m1 0h0m6 4h0m-1 0h0m-7-7h0m58-12h0m1-3h0m0 0h0m1 0h0m-12 10h0m1 1h0m0 0h0m1-3h0m2 0h0m-15-23h0m0-1h0m0 31h0m0-1h0m-26 10h0m-1 1h0m1 0h0m16-5h0m-1 0h0m27-39h0m-9 31h0m2 1h0m-2 0h0m-26-19h0m-4 3h0m-1 0h0m-9 23h0m1 0h0m-1-20h0m-2 3h0m0 0h0m1 0h0m0-1h0m0 0h0m-3 5h0m1 0h0m7-9h0m55-4h0m-1 0h0m-31 24h0m0 1h0m1-1h0m-2 1h0m37-31h0m-1 1h0m-65 27h0m21-24h0m-20 26h0m17 7h0m0-1h0m-1 0h0m0 1h0m1-1h0m20-39h0m1-1h0m-1 1h0m17-4h0m0-1h0m-1 1h0m-47 42h0m2-1h0m-9-14h0m0 1h0m45-26h0m0-1h0m1 1h0m-1-1h0m-3 31h0m0 0h0m14-33h0m-56 35h0m1-1h0m0 0h0m61-31h0m-62 27h0m24 11h0m-1 0h0m1 0h0m-8 4h0m0 0h0m-10-5h0m-1 0h0m27-4h0m9-3h0m-1 0h0m-38-9h0m4-4h0m4-2h0m-1 1h0m1-1h0m30-14h0m-20 38h0m-16-4h0m24 0h0m-1 1h0m-25-2h0m-1-1h0m2 0h0m-2 0h0m23-25h0m1 0h0m35 6h0m0-1h0m-51 26h0m40-40h0m-15 32h0m-1-28h0m-1 1h0m-28 15h0m1 0h0m0 1h0m34 9h0m-1 0h0m-37-5h0m63-20h0m0 2h0m0 0h0m-56 31h0m44-15h0m-50 9h0m20 7h0m25-12h0m2-1h0m-2 1h0m-34 14h0m5 0h0m31-41h0m-21 6h0m-1 1h0m-16 9h0m-8 13h0m-1-1h0m52-7h0m-32-10h0m9 23h0m-1 1h0m33-33h0m-2 0h0m-45 13h0m0 0h0m0 0h0m17-11h0m2 1h0m-21 36h0m-1 0h0m44-22h0m-54 4h0m41 6h0m-1-1h0m2-25h0m0-1h0m16 7h0m0-1h0m-9-8h0m-1 1h0m1-1h0m-42 39h0m0-1h0m0 0h0m-1 0h0m51-25h0m-2-12h0m-37 37h0m-1 1h0m12-7h0m-23-13h0m1 0h0m-2 18h0m0-1h0m-1 1h0m35-9h0m-7-23h0m1 0h0m-32 20h0m10-8h0m48-12h0m-57 30h0m41-33h0m-42 29h0m1-1h0m-1-3h0m-1-1h0m43 1h0m-28 12h0m3-2h0m27-13h0m2-1h0m-35 16h0m-10-6h0m6 3h0" stroke="#2a4c98" stroke-width="1.2" stroke-linecap="square" fill="none"/>
<path d="M1426 108h0m9 23h0m-55 5h0m9 12h0m-9-7h0m0-3h0m60-12h0m-8 8h0m-40 17h0m34-13h0m-40 9h0m1-20h0m22-13h0m3-1h0m36 1h0m-66 28h0m-1 1h0m66-31h0m-8-6h0m0 0h0m0 1h0m-44 43h0m30-12h0m13-32h0m-56 34h0m62-32h0m-1 0h0m-61 31h0m0-1h0m13 12h0m2 0h0m0 1h0m1-1h0m0 1h0m17-9h0m0 0h0m-2 0h0m1 0h0m-31-12h0m8-6h0m31-13h0m-25 12h0m-1 0h0m6 26h0m-16-4h0m-1 0h0m22-28h0m35 6h0m1 0h0m-1 0h0m-50 25h0m0 1h0m39-41h0m-1 0h0m1 1h0m0 0h0m-32 12h0m0 0h0m2-1h0m-2 0h0m-13 8h0m43 8h0m-1 0h0m0 1h0m0 0h0m-43-5h0m61-20h0m1 2h0m0 1h0m0-1h0m-57 33h0m43-17h0m0 0h0m-49 11h0m-1 0h0m1-1h0m-1 0h0m21 6h0m-1 0h0m27-11h0m-1-1h0m0 1h0m1 0h0m1 0h0m11-26h0m-1-1h0m-51 18h0m-5 8h0m10 14h0m5 1h0m8-5h0m3-29h0m0 0h0m0 0h0m-2-1h0m-16 11h0m1-1h0m45 0h0m1 1h0m1 0h0m0 0h0m-53 20h0m-5-7h0m1-2h0m-1 1h0m2 0h0m51-9h0m0 0h0m-51 15h0m2-1h0m17-23h0m8 24h0m31-33h0m2 0h0m-48 13h0m1 0h0m17-11h0m0 1h0m3 26h0m-22 10h0m0 0h0m-1 0h0m42-22h0m-39 21h0m0 0h0m1 1h0m-13-19h0m1 1h0m-2 0h0m0 0h0m42 6h0m-2-1h0m1 0h0m0-25h0m-1 0h0m9-3h0m0 1h0m-41 38h0m-1 0h0m50-26h0m-1 0h0m-1-12h0m0-1h0m1 0h0m-2 0h0m-33 37h0m-1 0h0m1-1h0m-5 3h0m1 0h0m-13-3h0m13-24h0m22 17h0m0-1h0m15-27h0m-54 24h0m11-8h0m0 0h0m-1 0h0m49-12h0m1 0h0m-2-1h0m-55 30h0m1 0h0m-1 1h0m56-28h0m-1 0h0m-16-4h0m2-1h0m-1 1h0m1-1h0m-2 1h0m-18 31h0m2 1h0m-2-1h0m0 0h0m-16 4h0m15-30h0m-21 22h0m-1 1h0m0 0h0m-1-1h0m1-4h0m42 0h0m0 0h0m-1 0h0m-28 12h0m1 0h0m0 1h0m-10-19h0m25 11h0m27-29h0m0 1h0m-1 0h0m-18 26h0m-2 0h0m2-1h0m-2 0h0m-17 9h0m38-27h0m-1 1h0m1 0h0m-57 18h0m14-15h0m1 0h0m-1 0h0m-12 8h0m1 1h0m0-1h0m32-17h0m9 19h0m2 0h0m-1 0h0m1-21h0m1 19h0m0 1h0m-35 16h0m-2 0h0m-1-20h0m-1 0h0m5 19h0m1 0h0m8-3h0m-17 0h0m7-18h0m0 0h0m2 0h0m-2 0h0m9-7h0m1 0h0m-1 0h0m0 0h0m25-8h0m-9 3h0m-1 0h0m21 4h0m0-1h0m-39 28h0m-2 1h0m37-21h0m-50 9h0m53-22h0m-26 3h0m-24 15h0m0-1h0m1 1h0m1 0h0m2 15h0m40-18h0m0 0h0m0 1h0m-30 15h0m-18-4h0m2 1h0m38-5h0m-1 1h0m16-20h0m-8-5h0m-1 0h0m-10 3h0m1-1h0m-1 0h0m0 1h0m1-1h0m0 0h0m-32 30h0m0 1h0m22-4h0m0 0h0m-1-1h0m-9-17h0m-14 10h0m50-11h0m-51 14h0m-1 1h0m30 2h0m0 0h0m19-26h0m-28 29h0m1 0h0m0 0h0m26-30h0m0 0h0m1 1h0m-41 34h0m7-23h0m-2 1h0m8-6h0m1 0h0m-12 27h0m-1 1h0m0 0h0m19-30h0m0 0h0m-1-1h0m-12 28h0m-4-17h0m-6 4h0m0 14h0m0-1h0m2 0h0m-1 0h0m-5-4h0m0 1h0m41-9h0m10-18h0m0 1h0m0 0h0m-49 28h0m-1-9h0m18 9h0m-1-1h0m-9-13h0m-1 0h0m1-1h0m32-14h0m-17 27h0m4-25h0m0 0h0m14 15h0m-14 7h0m-14 7h0m35-21h0m-49 15h0m2-1h0m49-20h0m0 1h0m-1-1h0m-49 19h0m0 0h0m50-21h0m-45 28h0m2 1h0m24-9h0m-15 6h0m0 0h0m-15-1h0m5-10h0m-2 11h0m40-13h0m-13-12h0m0-1h0m13-2h0m0 0h0m0 0h0m-22 5h0m24-4h0m0 0h0m-26 25h0m-16-8h0m32 2h0m-22 8h0m-4-13h0m39-7h0m-44 20h0m19-4h0m-21 2h0m29-24h0m0 0h0m-17 7h0m1 0h0m-9 8h0m40-14h0m-34 26h0m-5 0h0m41-23h0m-45 19h0m1 0h0m42-21h0m-42 14h0m4 11h0m18-7h0m-5 3h0m0-1h0m18-21h0m-15 1h0m19-1h0m-29 23h0" stroke="#3a86c0" stroke-width="1.2" stroke-linecap="square" fill="none"/>
<path d="M1389 129h0m-2 0h0m54-9h0m-50 6h0m45-17h0m-1-1h0m-39 17h0m47-11h0m-32 29h0m17-9h0m-28 13h0m-9-18h0m-1 0h0m26 9h0m26-27h0m-20 26h0m-17 8h0m-20-8h0m2 0h0m13-14h0m40 0h0m-1-1h0m-8-12h0m-34 36h0m-1 0h0m-4-1h0m0 0h0m1-19h0m16 17h0m-2 0h0m1-1h0m-19 0h0m-1-1h0m24-1h0m22-11h0m-36-4h0m7-6h0m18-7h0m-2 1h0m2-1h0m14 13h0m-50 8h0m1 0h0m54-20h0m1-1h0m-4-1h0m0-1h0m1 0h0m0 1h0m-27 3h0m-21 14h0m3 16h0m0 0h0m-1 0h0m42-18h0m1 1h0m-2-1h0m-48 13h0m1-1h0m1 0h0m36-3h0m17-21h0m0 0h0m-1 0h0m-7-3h0m-10 2h0m-28 13h0m-4 16h0m0 1h0m22-5h0m0 1h0m-1-1h0m-10-17h0m1-1h0m0 0h0m-14 11h0m0 0h0m0-1h0m49-9h0m1 0h0m-50 19h0m0 1h0m0 0h0m-2-7h0m0 1h0m-1 0h0m30 1h0m2 0h0m-31 1h0m49-26h0m2 0h0m-30 30h0m1-1h0m0 0h0m27-29h0m-40 34h0m0-1h0m5-21h0m-1 0h0m-3 22h0m-1 0h0m2-1h0m5-2h0m-5-18h0m-5 5h0m35-17h0m-1 1h0m-4 21h0m6-4h0m11-11h0m-1 0h0m0-6h0m-50 19h0m0 1h0m0-1h0m18 8h0m0 0h0m22-27h0m-37 18h0m-1-1h0m20 9h0m7-24h0m-1 0h0m14 14h0m-17 7h0m-13 6h0m0 1h0m-12-7h0m0 1h0m0 0h0m50-20h0m1-2h0m-44 28h0m-1-1h0m1 1h0m35-31h0m-1 0h0m-8 22h0m-18 7h0m2-1h0m-15-1h0m-1-1h0m3 3h0m43-29h0m-36 31h0m0-1h0m-1 0h0m-3 1h0m1-1h0m10-24h0m-1 0h0m28-6h0m-1 1h0m1 12h0m2 0h0m-1-1h0m-44 9h0m0-1h0m1 1h0m-1-1h0m1 1h0m1-3h0m-2 6h0m0 0h0m7-9h0m2 0h0m37-6h0m-1-1h0m1 1h0m-42 19h0m18-3h0m0 0h0m5-3h0m-18-9h0m1 0h0m19-11h0m-30 21h0m1 0h0m14-15h0m-2 3h0m-1-1h0m36-7h0m-1-1h0m-1 1h0m-29 23h0m0 1h0m0 0h0m19-9h0m1 0h0m-1 0h0m1 0h0m-26 10h0m22-26h0m0 0h0m0 1h0m-1-1h0m-25 26h0m1 1h0m14-24h0m24 0h0m-41 14h0m0 0h0m-1-1h0m5 10h0m-4-2h0m0 0h0m-3-6h0m32-17h0m0-1h0m5 14h0m0 1h0m-12 6h0m-12 4h0m0 0h0m-12-4h0m0 0h0m18 2h0m-1 0h0m1 0h0m0-1h0m18-22h0m-14 3h0m0-1h0m17-1h0m0 11h0m-1 0h0m3-11h0m-39 22h0m0 0h0m8 1h0m1 0h0m-7-8h0m4-4h0m8 11h0m24-12h0m-37 10h0m5 4h0m34-22h0m-1-1h0m-27 21h0m-10 0h0m23-21h0m15 4h0m-39 12h0m0 0h0m4-1h0m34-12h0m1-1h0m-15 14h0m1 1h0m-23 4h0m23-21h0m-19 12h0m-1 9h0m0-1h0m0 1h0m1 0h0m30-21h0m1 1h0m0 0h0m-28 5h0m1 0h0m-7 12h0m24-17h0m6 10h0m0-1h0m3-9h0m-4-1h0m-18 3h0m2-1h0m-10 16h0m-1 0h0m31-9h0m-32 8h0m4 1h0m5 0h0m0 1h0m-5-1h0m3 1h0m25-16h0m1 0h0m-17 0h0m0 0h0m0-1h0m-14 14h0m21-14h0m6 1h0" stroke="#3cb4b0" stroke-width="1.2" stroke-linecap="square" fill="none"/>
<path d="M1428 133h0m-33-5h0m-1 1h0m-5 10h0m51-26h0m-48 28h0m0-1h0m37-28h0m-10 3h0m12 14h0m-30 13h0m37-20h0m-1 1h0m3-7h0m-1 1h0m-44 25h0m1 1h0m35-30h0m1 0h0m-36 15h0m0 0h0m-1 1h0m-1 11h0m43-28h0m0 1h0m-39 29h0m22-28h0m1 0h0m12-2h0m-20 4h0m24 9h0m-27 13h0m-17-5h0m0-3h0m32 2h0m0 0h0m-33 4h0m0 0h0m-1 1h0m0 0h0m0-1h0m13 5h0m-4-15h0m38-5h0m1 0h0m-44 20h0m19-4h0m-1 0h0m1-1h0m-20 3h0m8-15h0m-1 1h0m21-11h0m-16 7h0m-3 1h0m34-8h0m0 1h0m-28 24h0m18-8h0m-25 9h0m-5 1h0m-4-5h0m45-20h0m-41 14h0m4 10h0m0 1h0m-4-3h0m-1 0h0m-3-5h0m0 0h0m1-1h0m0 0h0m0 1h0m32-18h0m3 14h0m-12 5h0m2 1h0m9-20h0m-23 23h0m1 0h0m-12-4h0m18 2h0m23-21h0m-6 0h0m1 0h0m0 0h0m6 7h0m-1 1h0m0-1h0m-18-5h0m0 0h0m6 16h0m-24-5h0m1 0h0m-1 1h0m33-3h0m-1 1h0m3-12h0m0 0h0m-37 22h0m1 1h0m0 0h0m6 1h0m0 0h0m-8-7h0m1 0h0m-2 1h0m7-6h0m0-1h0m-1 1h0m0 0h0m10 10h0m-2 0h0m9-21h0m0 0h0m0 0h0m15 9h0m2 0h0m-2-1h0m-38 10h0m1 1h0m0-1h0m1 0h0m12-15h0m1-1h0m-1 0h0m1 1h0m7 15h0m-1 1h0m-1-1h0m-13 4h0m-1 0h0m1 1h0m-2 0h0m37-22h0m-1-1h0m-28 21h0m-10 0h0m0 0h0m39-16h0m-1-1h0m-38 13h0m-1 0h0m1-1h0m5-7h0m3 12h0m0 0h0m29-19h0m1 1h0m-38 15h0m1 1h0m-2-1h0m0 0h0m28-3h0m-4 2h0m1 0h0m1 0h0m0-1h0m-23 5h0m23-21h0m0 0h0m-1 1h0m-1 0h0m0 0h0m-18 19h0m1 0h0m10-2h0m-13-5h0m2-1h0m0 9h0m-2 0h0m27-8h0m-1 0h0m-21-7h0m1-1h0m-8 13h0m1 1h0m-1 0h0m24-19h0m1 1h0m-1-1h0m2 0h0m-1 0h0m8 0h0m3 6h0m0 1h0m-8-6h0m-1 0h0m0 0h0m4-1h0m-2 0h0m0 0h0m-16 18h0m1 1h0m0-16h0m-1-1h0m-1 0h0m-8 13h0m0 4h0m-1-1h0m0 1h0m0 0h0m0 0h0m19-2h0m12-8h0m-2 0h0m-28 8h0m-1 0h0m-1-1h0m1 1h0m8 1h0m-5 0h0m4 0h0m-1 1h0m27-17h0m-2 1h0m-29 7h0m0 1h0m29-6h0m-18-3h0m-1 0h0m-1 1h0m5 0h0m0-1h0m6 12h0m-6 3h0m-1-1h0m-1-14h0m-1 0h0m-12 14h0m17-13h0m-17 10h0m0 0h0m0-1h0m20-9h0m8 0h0m1 0h0m1-1h0m-28 13h0m-1-1h0m0 0h0m23-1h0m-1-1h0m2-2h0m0 0h0m-13 7h0m-9-1h0m25-8h0m0 1h0m-1 0h0m1 0h0m-8-7h0m-17 6h0m-1 1h0m1-1h0m23-6h0m1 0h0m0 1h0m0-1h0m-1 0h0m1 0h0m1 3h0m-5-2h0m1-1h0m0 0h0m-18 3h0m1 0h0m0-1h0m-1 0h0m-1 12h0m13-1h0m2-1h0m0 0h0m-1 1h0m-1 0h0m-14-8h0m2-1h0m-1 0h0m22 0h0m0 1h0m-1-1h0m-24 9h0m2-1h0m23-10h0m-11 1h0m-13 6h0m21-2h0m0 0h0m0 0h0m0-1h0m1 0h0m-5-3h0m-6-1h0m10 1h0m0-1h0m0 0h0m-22 8h0m0 1h0m20-9h0m1 0h0m0 7h0m-1 0h0m-5 3h0m1 1h0m-2 0h0m9-8h0m-17-2h0m-2 9h0m-1 1h0m10-1h0m7-7h0m-2-1h0m0 1h0m-6 7h0m-1 1h0m1 0h0m5-3h0m0 0h0m0 0h0m-11 2h0m0 1h0m-2-4h0m0 0h0m14-3h0m-8-1h0m4 1h0m1 1h0m1-1h0m-9-2h0m-2 3h0m3 3h0" stroke="#7cc850" stroke-width="1.2" stroke-linecap="square" fill="none"/>
<path d="M1403 126h0m14-10h0m-7 3h0m-8 20h0m-2 0h0m1 0h0m34-23h0m-37 20h0m22-19h0m16 3h0m-36 11h0m6 6h0m17-4h0m-24 3h0m15-2h0m21-18h0m-2 0h0m1 0h0m0 0h0m-7 13h0m1-1h0m-28 5h0m-1 0h0m10-12h0m16-4h0m-1 0h0m1-1h0m4 10h0m6-4h0m-2 0h0m-7-5h0m0-1h0m2 1h0m-15 17h0m0 1h0m-11-1h0m1 0h0m-1-2h0m0 0h0m2 3h0m3-1h0m2 0h0m25-15h0m0-1h0m-31 8h0m1 1h0m-1-1h0m31-5h0m-15 11h0m-15 1h0m0 0h0m16-14h0m0-1h0m-17 11h0m18-10h0m0-1h0m-18 12h0m0 0h0m28-7h0m2 0h0m-2-1h0m-5 6h0m1 0h0m-2 0h0m1 0h0m-10 4h0m0 0h0m1 1h0m8-14h0m-18 6h0m22-6h0m1 0h0m3 2h0m-8-3h0m3 1h0m-19 1h0m1 1h0m12 9h0m0 0h0m-1 1h0m-9 1h0m-1 0h0m1 0h0m0 0h0m0 0h0m0 0h0m-5-9h0m22-1h0m1 0h0m0 1h0m0-2h0m-25 6h0m23-2h0m-5-4h0m-5-1h0m-1 1h0m10 0h0m-1 0h0m-1 0h0m0 6h0m-4 3h0m3-2h0m-1 0h0m-12-8h0m2 1h0m-2-1h0m2 0h0m-1 1h0m5-1h0m0 1h0m-9 10h0m0 0h0m-1-1h0m11 1h0m-1 0h0m9-8h0m-11-2h0m12 3h0m-2 1h0m0-2h0m-1-1h0m-2 1h0m-14 1h0m12-1h0m2 6h0m1-2h0m2 0h0m-16 4h0m1-1h0m0 1h0m13-7h0m-14-1h0m1-1h0m0 0h0m9 0h0m0 0h0m-2 0h0m-9 7h0m14-5h0m-1 0h0m1 1h0m-1 2h0m0-1h0m-4-3h0m2 2h0m0 0h0m-2 3h0m-6-5h0m9 4h0m-10 2h0m0-1h0m5 1h0m2 0h0m-4-7h0m0 0h0m0 0h0m-2 3h0m4 3h0m-2 0h0m4-3h0m-2-1h0m-5 3h0m1 0h0m1-3h0m1 0h0m2 2h0" stroke="#c8d838" stroke-width="1.2" stroke-linecap="square" fill="none"/>
<path d="M1403 129h0m28-11h0m0 5h0m0 0h0m-2 4h0m1-2h0m-5-6h0m5-1h0m0 1h0m-21 1h0m1 1h0m3 11h0m-1 0h0m-1 1h0m-2-1h0m-4-2h0m1 1h0m14-11h0m-15 7h0m19-7h0m-6 0h0m1 0h0m-12 8h0m0 0h0m19-7h0m-1 7h0m0 0h0m2-6h0m1 1h0m-16-3h0m-1 0h0m5 1h0m-8 9h0m0 1h0m9 0h0m7-9h0m-9 9h0m8-3h0m0 1h0m1-2h0m1 0h0m-1 0h0m-1-1h0m1 0h0m-13 4h0m3 1h0m10-6h0m-1 0h0m-13-3h0m0 0h0m0 0h0m8 1h0m-11 6h0m1-3h0m12 2h0m2-1h0m0 0h0m-6-5h0m4 3h0m-1 4h0m0 0h0m-7-7h0m0 0h0m9 4h0m-6 3h0m2-4h0m-3 4h0m3-5h0m-2 1h0m-5 1h0m0 1h0m5 0h0m-2-3h0m-1 3h0m0-1h0" stroke="#f0c030" stroke-width="1.2" stroke-linecap="square" fill="none"/>
<path d="M1424 121h0m-6 0h0m-12 8h0m19-5h0m-4-2h0m-5 9h0m0-1h0m3-8h0m3 7h0m2-2h0m-14 4h0m3 0h0m-1-1h0m0 1h0m-3-9h0m-1 7h0m0-1h0m0-2h0m1 0h0m13-2h0m1 0h0m-4 4h0m3-1h0m-6-5h0m0 0h0m5 2h0m-1 1h0m0 0h0m1-1h0m-2 4h0m-1 0h0m1 0h0m-8-6h0m7 3h0m-3-3h0m-1 0h0m-4 3h0m3 4h0m1 0h0m1-1h0m-1 1h0m1 0h0m3-3h0m-9 0h0m1 0h0m6 1h0m0 0h0m-1 0h0m-1-3h0m-2 1h0m0-1h0m1 0h0m0 0h0m-1 0h0m0 0h0m0 1h0m1-1h0m1 3h0m0 0h0m-2-1h0" stroke="#f09028" stroke-width="1.2" stroke-linecap="square" fill="none"/>
<rect x="1296.9" y="47.5" width="218.7" height="218.5" fill="none" stroke="#222" stroke-width="1.3"/>
<line x1="1386.3" y1="47.5" x2="1386.3" y2="266" stroke="#222" stroke-width="1.3"/>
<line x1="1296.9" y1="168.2" x2="1515.6" y2="168.2" stroke="#222" stroke-width="1.3"/>
<path d="M1291.4 67.7H1296.9M1291.4 117.7H1296.9M1291.4 170H1296.9M1293.9 154.3H1296.9M1293.9 145H1296.9M1293.9 138.5H1296.9M1293.9 133.4H1296.9M1293.9 129.3H1296.9M1293.9 125.8H1296.9M1293.9 122.8H1296.9M1293.9 120.1H1296.9M1293.9 102.6H1296.9M1293.9 93.8H1296.9M1293.9 87.6H1296.9M1293.9 82.8H1296.9M1293.9 78.8H1296.9M1293.9 75.4H1296.9M1293.9 72.5H1296.9M1293.9 70H1296.9M1293.9 52.6H1296.9M1293.9 43.8H1296.9M1293.9 184.2H1296.9M1293.9 192.5H1296.9M1293.9 198.3H1296.9M1293.9 202.9H1296.9M1293.9 206.6H1296.9M1293.9 209.8H1296.9M1293.9 212.5H1296.9M1293.9 214.9H1296.9M1291.4 237.7H1296.9M1292.9 231.7H1296.9M1292.9 234.7H1296.9M1292.9 240.7H1296.9M1292.9 243.7H1296.9M1292.9 246.7H1296.9M1388.8 266V271.5M1443.4 266V271.5M1493.4 266V271.5M1405.2 266V269M1414.9 266V269M1421.7 266V269M1427 266V269M1431.3 266V269M1434.9 266V269M1438.1 266V269M1440.9 266V269M1458.5 266V269M1467.3 266V269M1473.5 266V269M1478.3 266V269M1482.3 266V269M1485.7 266V269M1488.6 266V269M1491.1 266V269M1374.8 266V269M1366.7 266V269M1360.9 266V269M1356.4 266V269M1352.7 266V269M1349.6 266V269M1346.9 266V269M1344.5 266V269M1318.3 266V269.5M1323.3 266V269.5M1327.3 266V269.5M1330.3 266V269.5M1333.3 266V271.5M1336.3 266V269.5M1339.3 266V269.5M1343.3 266V269.5M1348.3 266V269.5" stroke="#222" stroke-width="1.1" fill="none"/>
<path d="M1323 266v4.3M1324.3 266v4.1M1325.6 266v3.8M1326.9 266v3.5M1328.2 266v4.5M1333.4 266v3.6M1334.7 266v2.2M1337.3 266v2.9M1338.6 266v5M1339.9 266v2.3M1341.2 266v3.8M1343.8 266v4.6" stroke="#1a1a1a" stroke-width="1.2" fill="none"/>
<text x="1286.9" y="77.7" font-size="14" text-anchor="end" letter-spacing="1" fill="#2a2a2a">10<tspan dy="-9" font-size="13">5</tspan></text>
<text x="1286.9" y="127.7" font-size="14" text-anchor="end" letter-spacing="1" fill="#2a2a2a">10<tspan dy="-9" font-size="13">4</tspan></text>
<text x="1286.9" y="180" font-size="14" text-anchor="end" letter-spacing="1" fill="#2a2a2a">10<tspan dy="-9" font-size="13">3</tspan></text>
<text x="1275.4" y="242.7" font-size="14" text-anchor="end" fill="#2a2a2a">0</text>
<text x="1333.3" y="295" font-size="14" text-anchor="middle" fill="#2a2a2a">0</text>
<text x="1382.8" y="295" font-size="14" letter-spacing="1" fill="#2a2a2a">10<tspan dy="-10" font-size="13">3</tspan></text>
<text x="1437.4" y="295" font-size="14" letter-spacing="1" fill="#2a2a2a">10<tspan dy="-10" font-size="13">4</tspan></text>
<text x="1487.4" y="295" font-size="14" letter-spacing="1" fill="#2a2a2a">10<tspan dy="-10" font-size="13">5</tspan></text>
<text x="1301.9" y="76.5" font-size="18.5" letter-spacing="1.6" fill="#333">16.1</text>
<text x="1486.6" y="76.5" text-anchor="end" font-size="18.5" letter-spacing="1.6" fill="#333">67.5</text>
<text x="1301.9" y="249" font-size="18.5" letter-spacing="1.6" fill="#333">11.0</text>
<text x="1486.6" y="249" text-anchor="end" font-size="18.5" letter-spacing="1.6" fill="#333">5.41</text>
<text x="1377.5" y="21" font-size="26.5">IFN<tspan font-size="24">γ</tspan><tspan dy="-10" font-size="15">ΔKRKR</tspan></text>
<path d="M1700 108h0m2 0h0m2 0h0m2 0h0m2 0h0m2 0h0m2 0h0m2 0h0m2 0h0m2 0h0m2 0h0m2 0h0m-28 2h0m2 0h0m2 0h0m2 0h0m16 0h0m2 0h0m2 0h0m2 0h0m-34 2h0m2 0h0m2 0h0m2 0h0m2 0h0m24 0h0m2 0h0m-38 2h0m2 0h0m2 0h0m2 0h0m30 0h0m2 0h0m-40 2h0m2 0h0m2 0h0m34 0h0m2 0h0m-44 2h0m2 0h0m2 0h0m38 0h0m2 0h0m-48 2h0m2 0h0m2 0h0m2 0h0m40 0h0m2 0h0m-50 2h0m2 0h0m2 0h0m2 0h0m40 0h0m2 0h0m-50 2h0m2 0h0m2 0h0m2 0h0m42 0h0m2 0h0m-52 2h0m2 0h0m2 0h0m2 0h0m42 0h0m2 0h0m-50 2h0m2 0h0m2 0h0m44 0h0m-50 2h0m2 0h0m2 0h0m44 0h0m2 0h0m-52 2h0m2 0h0m2 0h0m2 0h0m42 0h0m2 0h0m2 0h0m-54 2h0m2 0h0m2 0h0m2 0h0m2 0h0m40 0h0m2 0h0m2 0h0m-52 2h0m2 0h0m2 0h0m2 0h0m2 0h0m38 0h0m2 0h0m2 0h0m2 0h0m-54 2h0m2 0h0m2 0h0m2 0h0m2 0h0m2 0h0m36 0h0m2 0h0m2 0h0m2 0h0m-52 2h0m2 0h0m2 0h0m2 0h0m2 0h0m2 0h0m2 0h0m30 0h0m2 0h0m2 0h0m2 0h0m2 0h0m-50 2h0m2 0h0m2 0h0m2 0h0m2 0h0m2 0h0m2 0h0m26 0h0m2 0h0m2 0h0m2 0h0m2 0h0m-46 2h0m2 0h0m2 0h0m2 0h0m2 0h0m2 0h0m2 0h0m22 0h0m2 0h0m2 0h0m2 0h0m2 0h0m-42 2h0m2 0h0m2 0h0m2 0h0m2 0h0m2 0h0m2 0h0m2 0h0m2 0h0m16 0h0m2 0h0m2 0h0m2 0h0m2 0h0m-40 2h0m2 0h0m2 0h0m2 0h0m2 0h0m2 0h0m2 0h0m2 0h0m2 0h0m2 0h0m12 0h0m2 0h0m2 0h0m2 0h0m2 0h0m-40 2h0m2 0h0m2 0h0m2 0h0m2 0h0m2 0h0m2 0h0m2 0h0m2 0h0m2 0h0m2 0h0m2 0h0m2 0h0m4 0h0m2 0h0m2 0h0m2 0h0m2 0h0m-36 2h0m2 0h0m2 0h0m2 0h0m2 0h0m2 0h0m2 0h0m2 0h0m2 0h0m2 0h0m2 0h0m2 0h0m2 0h0m2 0h0m2 0h0m2 0h0m2 0h0m-32 2h0m2 0h0m2 0h0m2 0h0m2 0h0m2 0h0m2 0h0m2 0h0m2 0h0m2 0h0m2 0h0m2 0h0m2 0h0m2 0h0m2 0h0m2 0h0m-30 2h0m2 0h0m2 0h0m2 0h0m2 0h0m2 0h0m2 0h0m2 0h0m2 0h0m2 0h0m4 0h0m2 0h0m2 0h0m2 0h0m-26 2h0m2 0h0m2 0h0m2 0h0m2 0h0" stroke="#e2f3fa" stroke-width="2.2" stroke-linecap="square" fill="none"/>
<path d="M1702 110h0m2 0h0m2 0h0m2 0h0m2 0h0m2 0h0m2 0h0m-16 2h0m2 0h0m2 0h0m10 0h0m2 0h0m2 0h0m2 0h0m-26 2h0m2 0h0m2 0h0m20 0h0m2 0h0m-30 2h0m2 0h0m26 0h0m2 0h0m-34 2h0m2 0h0m2 0h0m28 0h0m2 0h0m-36 2h0m2 0h0m32 0h0m2 0h0m-38 2h0m2 0h0m34 0h0m-38 2h0m2 0h0m2 0h0m32 0h0m2 0h0m-40 2h0m2 0h0m2 0h0m34 0h0m-40 2h0m2 0h0m2 0h0m2 0h0m32 0h0m2 0h0m-42 2h0m2 0h0m2 0h0m2 0h0m32 0h0m2 0h0m-40 2h0m2 0h0m2 0h0m2 0h0m30 0h0m2 0h0m-38 2h0m2 0h0m2 0h0m2 0h0m28 0h0m2 0h0m-36 2h0m2 0h0m2 0h0m28 0h0m2 0h0m-34 2h0m2 0h0m2 0h0m2 0h0m22 0h0m2 0h0m2 0h0m-30 2h0m2 0h0m2 0h0m18 0h0m2 0h0m2 0h0m-26 2h0m2 0h0m2 0h0m2 0h0m12 0h0m2 0h0m2 0h0m-22 2h0m2 0h0m2 0h0m2 0h0m2 0h0m2 0h0m2 0h0m2 0h0m2 0h0m2 0h0m-14 2h0m2 0h0m2 0h0m2 0h0m2 0h0m2 0h0m2 0h0m-10 2h0m2 0h0m2 0h0m2 0h0m2 0h0m-4 2h0" stroke="#cdeef0" stroke-width="2.2" stroke-linecap="square" fill="none"/>
<path d="M1704 112h0m2 0h0m2 0h0m2 0h0m-12 2h0m2 0h0m2 0h0m8 0h0m2 0h0m2 0h0m-22 2h0m2 0h0m2 0h0m16 0h0m2 0h0m-24 2h0m2 0h0m20 0h0m2 0h0m-28 2h0m2 0h0m26 0h0m-30 2h0m2 0h0m26 0h0m2 0h0m-30 2h0m2 0h0m26 0h0m-30 2h0m2 0h0m26 0h0m2 0h0m-30 2h0m2 0h0m24 0h0m2 0h0m-30 2h0m2 0h0m24 0h0m2 0h0m-28 2h0m2 0h0m22 0h0m2 0h0m-26 2h0m2 0h0m20 0h0m2 0h0m-26 2h0m2 0h0m2 0h0m16 0h0m2 0h0m2 0h0m-22 2h0m2 0h0m12 0h0m2 0h0m2 0h0m-18 2h0m2 0h0m2 0h0m4 0h0m2 0h0m2 0h0m2 0h0m-12 2h0m2 0h0m2 0h0m2 0h0m2 0h0" stroke="#d2f0bc" stroke-width="2.2" stroke-linecap="square" fill="none"/>
<path d="M1704 114h0m2 0h0m2 0h0m-10 2h0m2 0h0m2 0h0m2 0h0m2 0h0m2 0h0m2 0h0m-16 2h0m2 0h0m12 0h0m2 0h0m-20 2h0m2 0h0m18 0h0m2 0h0m-24 2h0m2 0h0m20 0h0m-22 2h0m20 0h0m2 0h0m-24 2h0m2 0h0m18 0h0m2 0h0m-22 2h0m18 0h0m2 0h0m-22 2h0m2 0h0m16 0h0m2 0h0m-20 2h0m2 0h0m14 0h0m2 0h0m-18 2h0m2 0h0m10 0h0m2 0h0m2 0h0m-16 2h0m2 0h0m2 0h0m2 0h0m2 0h0m2 0h0m2 0h0m-12 2h0m2 0h0m2 0h0m2 0h0m2 0h0m-6 2h0" stroke="#e6f0a4" stroke-width="2.2" stroke-linecap="square" fill="none"/>
<path d="M1698 118h0m2 0h0m2 0h0m2 0h0m2 0h0m-12 2h0m2 0h0m2 0h0m6 0h0m2 0h0m2 0h0m-16 2h0m2 0h0m12 0h0m2 0h0m-18 2h0m2 0h0m12 0h0m2 0h0m-16 2h0m12 0h0m2 0h0m-16 2h0m12 0h0m2 0h0m-14 2h0m2 0h0m8 0h0m2 0h0m-12 2h0m2 0h0m2 0h0m2 0h0m2 0h0m2 0h0m-10 2h0m2 0h0m2 0h0m2 0h0" stroke="#f6e29a" stroke-width="2.2" stroke-linecap="square" fill="none"/>
<path d="M1700 120h0m2 0h0m-6 2h0m2 0h0m2 0h0m2 0h0m2 0h0m-10 2h0m2 0h0m2 0h0m2 0h0m2 0h0m-10 2h0m2 0h0m2 0h0m2 0h0m2 0h0m-10 2h0m2 0h0m2 0h0m2 0h0m2 0h0m-6 2h0m2 0h0m2 0h0" stroke="#f6c890" stroke-width="2.2" stroke-linecap="square" fill="none"/>
<path d="M1765 105h0m-97 130h0m-65-155h0m103 137h0m72-142h0m-143 5h0m-47 21h0m40 153h0m-26-154h0m125-26h0m-103 169h0m-38-123h0m-8 79h0m115-122h0m-41 186h0m53-189h0m-51 179h0m-43-6h0m-21-117h0m99 89h0m48-57h0m-157 83h0m-2-82h0m140 31h0m-29 11h0m62-66h0m-173 76h0m2-72h0m151 17h0m-108-48h0m-39 37h0m91-46h0m-69 22h0m135-39h0m-111 24h0m-33 146h0m75-172h0m-79 168h0m76-163h0m15 123h0m28-42h0m15 11h0m-88-73h0m99 36h0m-154 67h0m5 3h0m116-38h0m43-49h0m-2 7h0m-142-22h0m5 18h0m26 102h0m70-35h0m-66-78h0m49-21h0m-88 140h0m138-162h0m-61 130h0m-72-90h0m104 78h0m-116 42h0m-15 1h0m118-43h0m-55-70h0m85 31h0m-137 7h0m57-66h0m42 100h0m-104-7h0m160-89h0m-97 7h0m-58 36h0m52-12h0m96-50h0m-78 16h0m81 2h0m-126 135h0m128-109h0m-23 57h0m-66-88h0m11 125h0m-13-103h0m-5-15h0m-51 47h0m82 66h0m-21-109h0m83 33h0m-18 45h0m-136 2h0m23 42h0m55-11h0m-24-12h0m12 18h0m-27-10h0m23 16h0m85-133h0m-142 100h0m150-66h0m-87-20h0m-5 99h0m-64-29h0m10-34h0m55 70h0m-41 22h0m49-139h0m42-5h0m-100 43h0m34-14h0m69-29h0m-52 126h0m-6-7h0m4 26h0m-47-8h0m50 3h0m-42 1h0m84-43h0m-114 38h0m126-58h0m-41-58h0m31 73h0m-109 49h0m99-45h0m-73 19h0m65-14h0m-95-25h0m137-17h0m-121 74h0m83-38h0m-80-50h0m-21 92h0m20-90h0m95 41h0m18-28h0m-27 30h0m8-11h0m-17 19h0m-77 35h0m33-18h0m36 3h0m-15-89h0m17 90h0m-46-7h0m-26-45h0m-2 48h0m-1-35h0m54 63h0m-36-31h0m118-107h0m-84 136h0m-48-14h0m96-42h0m17-88h0m-4 4h0m36 16h0m-147 106h0m31-6h0m-18-6h0m104-114h0m-106 50h0m-18 41h0m21-44h0m-24 89h0m69-112h0m-34 34h0m9 53h0m15 0h0m74-54h0m-125 34h0m4-19h0m70 41h0m-43-82h0m67 56h0m-91 35h0m65-18h0m-79 7h0m68 3h0m-67 23h0m75-27h0m5 5h0m-11-89h0m-26 96h0m-42-36h0m-4-8h0m30-21h0m38-31h0m-35 112h0m-20-25h0m-14-36h0m40-22h0m7-11h0m-41 45h0m15 36h0m136-107h0m-132 110h0m3 0h0m-6 0h0m128-113h0m-136 108h0m87-35h0m1-1h0m53-65h0m-81 87h0m35-102h0m-109 132h0m1-58h0m69 29h0m-71-29h0m51 55h0m-48 1h0m76-24h0m-67-24h0m6 36h0m-1-54h0m126-64h0m-111 58h0m17-22h0m32 70h0m-8-2h0m-7-1h0m-10 18h0m-36-18h0m63-8h0m-66-38h0m2-7h0m104 14h0m32-51h0m-122 23h0m-18 61h0m15 32h0m70-56h0m57-60h0m-116 112h0m4-6h0m-14-70h0m4-10h0m64 39h0m-65-34h0m36 49h0m-47-45h0m2 5h0m-12 52h0m46-4h0m-31-1h0m6 4h0m-24-4h0m39 1h0m99-66h0m-141 67h0m98-32h0m-80-20h0m70 33h0m36-32h0m-63 48h0m49-30h0m16-73h0m-102 49h0m-1 0h0m11-19h0m-2 98h0m83-61h0m-69 63h0m35-35h0m-66-41h0m22 50h0m-35 5h0m46-31h0m-11-27h0m50-36h0m54 27h0m-131 38h0m57 12h0m-18 33h0m-19-62h0m0 0h0m0-23h0m111-22h0m-128 45h0m116-59h0m-116 60h0m-10 43h0m7-3h0m4-42h0m90 11h0m-76-35h0m75-31h0m-60 36h0m-6 83h0m-22-67h0m14 67h0m49-29h0m-33-20h0m-26 26h0m7 2h0m50-84h0m49-18h0m9 4h0m-11-5h0m-95 97h0m103-48h0m-115 17h0m36 34h0m68-45h0m-94 38h0m6 11h0m-1 1h0m-8-14h0m5 4h0m17 27h0m-24-31h0m4 37h0m20-2h0m-3-26h0m-1 24h0m-1 0h0m-6-90h0m-22 63h0m20-66h0m-1-1h0m-6 96h0m28-26h0m21-10h0m-4-63h0m-42 101h0m99-126h0m-94 96h0m56-18h0m-76-5h0m1-1h0m125-39h0m-127 43h0m15 49h0m0-24h0m90-99h0m-67 68h0m-7 50h0m-30-33h0m2-1h0m52-60h0m46-24h0m-58 38h0m-1 0h0m-10 84h0m42-43h0m-55 17h0m47-8h0m-18 5h0m-1 0h0m23-11h0m57-62h0m1-5h0m-30 49h0m-69 6h0m-8-11h0m-22 38h0m9-12h0m24-47h0m-14 61h0m-13-37h0m-4 17h0m-1-1h0m0 17h0m20-65h0m0 1h0m-1-3h0m82-28h0m-29 78h0m55-69h0m-121 83h0m-1 0h0m0 1h0m45-64h0m-44 56h0m-4-2h0m107-83h0m-11 1h0m-30 77h0m-1 7h0m-62-2h0m-3-6h0m72-2h0m-53 15h0m16-26h0m-35 31h0m2-1h0m9-34h0m112-28h0m0 1h0m-121 47h0m121-41h0m-61 45h0m61-57h0m2-1h0m-98 17h0m44 29h0m-11 9h0m2 0h0m61-74h0m1-1h0m-93 60h0m-1-25h0m33 43h0m-32-44h0m88 0h0m1 1h0m-55 41h0m12-16h0m-22 17h0m-2-1h0m-16-1h0m-23-21h0m55 14h0m9-65h0m-23 71h0m32-16h0m24-22h0m-91 46h0m15 4h0m14-8h0m44-22h0m-1 0h0m25-60h0m-79 79h0m2 11h0m-33-16h0m16-8h0m43-53h0m52 25h0m-1 0h0m-78 4h0m-15 8h0m74 9h0m-43 18h0m-37 7h0m11-22h0m2 28h0m9-21h0m-18-9h0m-1 1h0m5 29h0m-2-20h0m-21-6h0m117-28h0m-90 40h0m9-11h0m-22-5h0m1 1h0m22-11h0m41 12h0m43-46h0m-78 68h0m-1 0h0m-2-46h0m-15 24h0m39 9h0m54-46h0m-80 64h0m83-70h0m-86 32h0m-13 10h0m90-22h0m-75 36h0m0 0h0m-30-15h0m28-2h0m39 6h0m-45-23h0m-9 23h0m-1 1h0m12 16h0m14-53h0m-17 62h0m9-2h0m0-8h0m80-48h0m4-23h0m-104 54h0m84-16h0m-10-46h0m-50 34h0m-2 51h0m-14-25h0m11-6h0m-1 1h0m-22 10h0m64-60h0m-68 70h0m19-16h0m-14 23h0m2 0h0m78-27h0m-2 2h0m-80 22h0m1 1h0m6 3h0m-8-22h0m62-53h0m-39 75h0m3 2h0m-5-28h0m3 29h0m-19-19h0m40 4h0m2 0h0m48-29h0m-95 23h0m22 20h0m28-72h0m5-1h0m-44 62h0m16-19h0m21-40h0m-34 29h0m-17 30h0m18-33h0m-3 47h0m41-21h0m1 0h0m-56-6h0m0 1h0m31 20h0m-9-41h0m-27 20h0m27 24h0m1-42h0m1 0h0m81-11h0m-32 28h0m33-30h0m-77 14h0m46-40h0m-30 68h0m-27 5h0m2-20h0m68-8h0m-92 22h0m27-26h0m-29 25h0m-1-1h0m36-6h0m-27 13h0m27-5h0m-28 2h0m16 14h0m-2 1h0m69-33h0m-1 0h0m-70 30h0m1-37h0m-1 0h0m-9 21h0m17 16h0m-16-16h0m1 0h0m99-43h0m0-1h0m-111 40h0m36-10h0m79-35h0m-100 52h0m-16-5h0m2 0h0m43 11h0m-7 1h0m-2-3h0m-15-25h0m0 25h0m0-1h0m44-10h0m-59 7h0m-2-9h0m-1 1h0m0-1h0m33-5h0m18 11h0m1 0h0m33-67h0m-58 42h0m11 36h0m-37-10h0m1-1h0m44-43h0m-33 54h0m96-49h0m-87 49h0m0-1h0m0 0h0m67-28h0m-71-1h0m30 20h0m-33 9h0m4 7h0m61-83h0m-54 50h0m83-52h0m-100 74h0m106-57h0m-93 64h0m19-6h0m-4-27h0m-17 35h0m72-36h0m-72 34h0m23-13h0m1 0h0m-28 8h0m-3-3h0m-5-1h0m32 5h0m24-15h0m-23 10h0m73-64h0m-78 56h0m0 3h0m-1-1h0m2 1h0m50-15h0m17-17h0m-62 35h0m-6-24h0m0 29h0m0-1h0m-22 1h0m-1-1h0m64-17h0m1-1h0m-69 17h0m1 0h0m2 2h0m23-32h0m49 10h0m-60-9h0m-1 0h0m12 15h0m0-1h0m17 9h0m-16-22h0m30 16h0m21-11h0m-67-4h0m42 17h0m-13 4h0m-8 6h0m-1-1h0m-3 3h0m0-1h0m-13-22h0m20-26h0m-1 40h0m-5-31h0m0 0h0m0-1h0m37-29h0m-38 61h0m0 0h0m1-3h0m50-63h0m-48 30h0m0 37h0m-18-14h0m-1 0h0m1-1h0m1-6h0m35 17h0m-20-26h0m4 28h0m33-8h0m-16-44h0m-36 35h0m19-19h0m0 0h0m51 13h0m-37 20h0m8-1h0m20-11h0m22-21h0m-1 0h0m-14 18h0m-1-1h0m-44-20h0m31 29h0m3-3h0m8-3h0m-38 16h0m-29-15h0m0 1h0m1-1h0m16-9h0m61-40h0m-58 62h0m-20-14h0m1-1h0m56-44h0m34 13h0m1-1h0m-59 47h0m20-6h0m-9 2h0m1-1h0m0 0h0m15-7h0m0 0h0m-37 11h0m-6-8h0m0 2h0m21 5h0m-1 0h0m54-57h0m-74 41h0m19 16h0m-10 2h0m5-1h0m-1 1h0m-10-28h0m2-7h0m0 1h0m7 33h0m-8-32h0m11 31h0m1 0h0m-14-2h0m1 0h0m12-41h0m17-9h0m33 22h0m-59 29h0m5-36h0m64-15h0m-51 50h0m43-35h0m-19-22h0m0 1h0m1 0h0m-42 57h0m1 0h0m-7-20h0m11 20h0m-7-28h0m4 28h0m-6-4h0m53-16h0m-55 2h0m1 12h0m1-8h0m-2 0h0m0-1h0m1 0h0m67-25h0m-63 10h0m58 3h0m-38-20h0m-21 23h0m45 9h0m0-1h0m0 1h0m-28-30h0m16-9h0m-27 53h0m2-37h0m11 34h0m0 0h0m-1 0h0m-19-17h0m6 20h0m-1-1h0m30-8h0m-10-39h0m0 0h0m9 41h0m-35 5h0m0 0h0m1 0h0m68-40h0m-51 39h0m37-18h0m-1 0h0m1 0h0m-53 3h0m-1-1h0m42 7h0m-30 9h0m46-22h0m0 0h0m9-29h0m0-1h0m-18 36h0m-12 8h0m-34-15h0m26 22h0m1 0h0m0-1h0m0 1h0m-1 0h0m-23-26h0m51 8h0m-58 6h0m24 12h0m1-1h0m-25 0h0m0 0h0m63-28h0m-60 9h0m1 0h0m8-15h0m56-6h0m-63 43h0m-4-4h0m44-8h0m-3-41h0m-41 44h0m-1 0h0m0 1h0m1 2h0m0 0h0m-1 0h0m46-9h0m-9-35h0m0 0h0m0-1h0m-22 12h0m-1 0h0m0 0h0m-12 20h0m18-24h0m-1 40h0m1 1h0m41-53h0m-59 40h0m1 1h0m63-24h0m-62 35h0m54-51h0m0 0h0m11 4h0m-16-5h0m-36 53h0m-6-31h0m58-13h0m-12-9h0m-4 36h0m-38 17h0m0-1h0m19-4h0m1 1h0m34-43h0m-48 45h0m-1 0h0m-14 1h0m36-10h0m-13-33h0m-23 20h0m-1 7h0m0 0h0m-1 3h0m0-5h0m15-19h0m49-13h0m-1 1h0m-1-1h0m0 0h0m-64 45h0m63-28h0m-47 31h0m-8 2h0m0 1h0m-2-1h0m46-18h0m0 0h0m-10 6h0m-13 10h0m16-11h0m4-2h0m0-1h0m-46 7h0m21 7h0m-4-37h0m0 0h0m1 0h0m-7 38h0m1-1h0m-12 1h0m15-3h0m47-34h0m-38 36h0m1 1h0m-2-1h0m-11-34h0m1 0h0m-7 9h0m30 18h0m-35-13h0m8-11h0m4 29h0m-11-10h0m0 0h0m21-27h0m-23 38h0m2 1h0m-2-4h0m1 0h0m1-12h0m7 17h0m0 0h0m50-49h0m1 0h0m-58 31h0m0 0h0m35 7h0m0 1h0m-17 7h0m-1 1h0m-4-34h0m41 9h0m-3 5h0m1 0h0m0 0h0m-53 13h0m2 1h0m0 0h0m29 1h0m-28 6h0m1 0h0m-2 0h0m4 1h0m-1-1h0m56-38h0m-1 1h0m1-9h0m-36 4h0m-15 40h0m0 0h0m31-45h0m-8 39h0m0 1h0m-26-20h0m0-1h0m0 1h0m-6 26h0m-1-1h0m59-31h0m-46 30h0m38-17h0m-1 0h0m6-27h0m2-1h0m-2 0h0m1 1h0m-45 14h0m12 31h0m36-41h0m0 0h0m0 0h0m-59 40h0m0 0h0m0 0h0m0-1h0m20 3h0m-1 0h0m40-40h0m-56 29h0m-1 3h0m0-1h0m-1-10h0m1 0h0m-1 1h0m1-1h0m1 0h0m30 10h0m-24 7h0m27-43h0m-31 44h0m24-41h0m1 0h0m-21 11h0m34 17h0m0-1h0m-36-14h0m1 0h0m-7 13h0m2-1h0m22 14h0m-24-1h0m41-43h0m11 24h0m-2 1h0m3-4h0m-38-9h0m-15 32h0m17 0h0m18-8h0m1 1h0m-25 5h0m43-25h0m1 0h0m2-14h0m0 0h0m-32 4h0m4 33h0m-27 5h0m1-1h0m0-7h0m-1-1h0m48-36h0m-46 44h0m10-29h0m-2-1h0m0 1h0m33 16h0m-41 9h0m-1-6h0m45-7h0m2-1h0m-47 3h0m0-1h0m1 1h0m26 10h0m1 0h0m15-10h0m2 0h0m-41 14h0m0-1h0m0 0h0m-1-17h0m-1 0h0m-1 0h0m0 5h0m-1 1h0m-1-1h0m3 13h0m-1-1h0m15 3h0m-1-1h0m26-43h0m-33 16h0m-5 4h0m1-1h0m12-10h0m-8 31h0m-1 0h0m-5-2h0m-1 0h0m29-2h0m-28-1h0m15 9h0m0-1h0m2 1h0m-17-10h0m-1 0h0m1-8h0m0-1h0m52-15h0m-1-1h0m-44 31h0m42-39h0m-29 40h0m-1 1h0m-19-14h0m12-17h0m41-4h0m-50 28h0m-2 0h0m1 1h0m20 4h0m15-11h0m-28-16h0m-7 8h0m0 1h0m0 0h0m16-15h0m-9 32h0m1 0h0m23-7h0m-30 1h0m1 0h0m2-15h0m0 0h0m7 24h0m4-1h0m1 1h0m-10-4h0m43-26h0m-43 5h0" stroke="#1f2f78" stroke-width="1.2" stroke-linecap="square" fill="none"/>
<path d="M1668 154h0m30-9h0m-22 6h0m-5-1h0m-5 3h0m1-8h0m45-36h0m-44 44h0m0 0h0m39-14h0m-42 9h0m2 2h0m44-15h0m-32 15h0m26-42h0m-10 38h0m15-10h0m-40 15h0m34-10h0m7-33h0m-11 35h0m-26 5h0m-1 0h0m-3 1h0m15 3h0m-2 1h0m-16-10h0m1-1h0m0 1h0m52-25h0m-7 12h0m0 0h0m5-19h0m0-1h0m-51 29h0m14 11h0m-11-3h0m0 0h0m17 4h0m-18-15h0m-1 1h0m52-21h0m0 1h0m-51 27h0m21 5h0m-1 0h0m2-1h0m0 1h0m-21-7h0m37-4h0m-1 1h0m-37-9h0m49-8h0m-1 0h0m-31-5h0m3-2h0m-14 32h0m17-1h0m-23-8h0m1 0h0m27 5h0m-28-6h0m41-2h0m-39 8h0m44-33h0m-44 24h0m0-5h0m0-1h0m15 23h0m-10-5h0m1 1h0m-3-3h0m28-34h0m16 2h0m0 1h0m-38 36h0m3-31h0m31 10h0m0 0h0m-27 21h0m1 0h0m-17-12h0m3 5h0m0 1h0m39-32h0m-42 19h0m2 0h0m-2 0h0m34 8h0m-2 1h0m-27-13h0m0 1h0m0 0h0m19 16h0m1 0h0m-19-18h0m1-1h0m-7 11h0m1 0h0m2-7h0m1 1h0m3 18h0m-7-15h0m0 0h0m3 8h0m26 1h0m-8-26h0m-16 30h0m0 0h0m6-24h0m0 0h0m7-4h0m-1 0h0m0-1h0m30-1h0m0-1h0m-5 17h0m-1-1h0m-1 1h0m-30 18h0m0-1h0m0 1h0m0 0h0m1 0h0m10-5h0m0 1h0m7-32h0m7 24h0m-31 1h0m43-20h0m-1 1h0m0 0h0m-32 29h0m1 0h0m0 0h0m22-13h0m-1 0h0m6-24h0m-2-1h0m-7 0h0m13 7h0m-44 14h0m0-1h0m0 1h0m12 18h0m-11-12h0m-1-1h0m2-8h0m1 15h0m0-1h0m4 5h0m-6-15h0m-1 3h0m1-1h0m14 12h0m-11-2h0m1 0h0m31-33h0m-3 0h0m0-1h0m0 0h0m-9 30h0m-21 1h0m1 0h0m8-23h0m1 1h0m27 8h0m3-4h0m0-1h0m-9-11h0m0-1h0m-27 14h0m3 23h0m4 0h0m-2-1h0m14-34h0m0 0h0m-23 27h0m0-1h0m-1 0h0m3-9h0m0-1h0m-3 5h0m15-16h0m0-1h0m-6 30h0m0-26h0m0 1h0m-2 1h0m33-7h0m2-1h0m-1 1h0m0 0h0m-41 21h0m38-23h0m1 0h0m-39 21h0m1 0h0m2 8h0m0 1h0m34-14h0m0-1h0m-5 4h0m3-1h0m0 0h0m7-11h0m-26 23h0m1 0h0m5-2h0m-17-14h0m0 0h0m36-10h0m-1-1h0m-37 24h0m19-25h0m5-2h0m0 0h0m12 12h0m0-1h0m0 0h0m-27-5h0m-5 6h0m0 0h0m1-1h0m2 20h0m2 1h0m-9-6h0m0-5h0m1 1h0m-1 2h0m15-21h0m21-2h0m0 1h0m-20 26h0m0-1h0m-9-19h0m4 22h0m-5-21h0m0 1h0m-5 8h0m23 5h0m0 0h0m7-5h0m-11 7h0m11-9h0m-2-16h0m-17 5h0m23 3h0m-28 22h0m10-27h0" stroke="#2a4c98" stroke-width="1.2" stroke-linecap="square" fill="none"/>
<path d="M1676 130h0m40-8h0m-35 24h0m10-1h0m9-33h0m-24 26h0m8-18h0m-2 3h0m-1 0h0m33-11h0m-38 23h0m28 2h0m-25 7h0m0 0h0m27-10h0m0 1h0m10-15h0m-37 6h0m37-10h0m-16 22h0m-1 1h0m-21-7h0m-1 0h0m5 13h0m32-21h0m-25-6h0m23-6h0m0 1h0m0-1h0m-33 16h0m3-3h0m4 19h0m0 0h0m-1 0h0m-6-2h0m0 1h0m0-6h0m13-20h0m21-3h0m-24 28h0m-6-19h0m-3 7h0m-1 0h0m23 7h0m-1-1h0m4-3h0m0 0h0m0-1h0m7-6h0m-9-13h0m2-1h0m5 1h0m0 0h0m0-1h0m-29 14h0m0 0h0m1 0h0m17 12h0m-1 1h0m0 0h0m-1-1h0m13-10h0m0 0h0m-13-14h0m0 1h0m17 8h0m-31 19h0m-3-10h0m0 0h0m0 1h0m26-21h0m0 1h0m-1 0h0m1-1h0m2 0h0m-1 0h0m-18 31h0m-1-1h0m4-1h0m-10-12h0m32-8h0m0-2h0m-3-5h0m0 1h0m0 0h0m-28 28h0m0-1h0m1-18h0m10-7h0m-15 20h0m17 1h0m-1 0h0m5-23h0m-12 6h0m-3 2h0m0-1h0m-4 19h0m25-10h0m-1 1h0m-2 0h0m-14 8h0m1 1h0m-1-1h0m-4-14h0m10 13h0m16-22h0m-1 10h0m0-13h0m-17 4h0m-1 1h0m4-2h0m-15 21h0m0 1h0m31-17h0m-31 15h0m7 3h0m23-22h0m-26 6h0m23-9h0m-18 5h0m1 18h0m1 0h0m-4-16h0m22-6h0m-8 17h0m-4-16h0m-1-1h0m13 8h0m-3 2h0m-24 8h0m3-6h0" stroke="#3a86c0" stroke-width="1.2" stroke-linecap="square" fill="none"/>
<path d="M1682 143h0m27-31h0m0 1h0m-27 16h0m0 0h0m32-9h0m-31 5h0m13 13h0m4-24h0m0 22h0m0 0h0m0 1h0m-15-14h0m-4 17h0m31-16h0m0 1h0m-6 5h0m-2 3h0m-1-1h0m4-3h0m-16 12h0m-1 0h0m-6-15h0m-1 0h0m-2 7h0m31-17h0m0 0h0m1 0h0m-4 10h0m0 1h0m0-12h0m-7 0h0m0-1h0m-10 4h0m0 0h0m4-2h0m-15 22h0m1-3h0m1 6h0m0-1h0m2 0h0m-1-12h0m29-5h0m-25 17h0m9-4h0m11-21h0m-3 0h0m-1 0h0m-18 25h0m0 0h0m3-20h0m-2 2h0m2 1h0m-6 8h0m21 0h0m-1-1h0m-3 4h0m0 1h0m1-3h0m4-3h0m1 0h0m-9-12h0m0-1h0m1 1h0m-15 21h0m2-5h0m0-1h0m-1 1h0m12 3h0m14-12h0m-1 0h0m-20 15h0m0-1h0m-6-4h0m0 2h0m2 2h0m24-20h0m1 1h0m-10-2h0m0 0h0m-12 22h0m-3-10h0m0 0h0m24-6h0m0 0h0m-21 1h0m11 10h0m-2 0h0m1 0h0m3-18h0m-15 14h0m-1 1h0m7 5h0m0 1h0m0-1h0m-1 0h0m1 0h0m14-19h0m-1 0h0m1 0h0m-1 11h0m-8-9h0m-1 0h0m-1-1h0m9-1h0m3 8h0m-21 9h0m3 2h0m0 0h0m-1 0h0m0 1h0m9-3h0m-3-14h0m0 0h0m14 2h0m-20 13h0m6-1h0m12-16h0" stroke="#3cb4b0" stroke-width="1.2" stroke-linecap="square" fill="none"/>
<path d="M1711 117h0m-28 21h0m0-4h0m2 7h0m26-19h0m0 1h0m-28 13h0m-2 1h0m6 4h0m-1-16h0m0 16h0m25-20h0m1-1h0m-1 0h0m-22 3h0m-2 0h0m-3 8h0m22-17h0m0 0h0m-1 16h0m-1 0h0m-5 4h0m1 1h0m2-2h0m3-4h0m-7-13h0m-14 23h0m-1-1h0m0-6h0m13 5h0m14-13h0m0 0h0m-1 0h0m0 2h0m-14-7h0m-1-1h0m-10 16h0m-1 3h0m3 2h0m23-21h0m1 0h0m0 0h0m-10-2h0m-6 21h0m-7 1h0m1 0h0m-1 1h0m21-22h0m-16 3h0m1 0h0m-6 5h0m23-5h0m0 0h0m0 1h0m-12 13h0m-8-12h0m0 1h0m12-7h0m-16 14h0m1 0h0m20-13h0m-21 20h0m18-9h0m1-12h0m-2 1h0m2 9h0m1 1h0m2-2h0m-18 12h0m-1-1h0m18-17h0m-10 15h0m-2 0h0m1 0h0m-1 0h0m-6-7h0m4-6h0m15 1h0m0 1h0m-11-4h0m1 0h0m-10 9h0m0 0h0m1 1h0m-2 0h0m19-11h0m-1 0h0m-8 15h0m1 0h0m-11-1h0m5-10h0m0 12h0m10-6h0m1 0h0m-14 2h0m-2 0h0m17-4h0m0 1h0m-5-9h0m6 1h0m-3 0h0m0 0h0m4 3h0m-16 11h0m-1 0h0m6-1h0m1 0h0m-5-5h0m-1 0h0m4-4h0m-2 10h0m7-4h0m1-1h0m3-7h0m1-1h0m0 0h0m-15 10h0m2 0h0m4 1h0m4-5h0m-8 0h0m0 3h0" stroke="#7cc850" stroke-width="1.2" stroke-linecap="square" fill="none"/>
<path d="M1708 116h0m2 7h0m0-1h0m-22 2h0m10 10h0m0 0h0m-12-4h0m-1 7h0m1 0h0m0 0h0m10-18h0m-9 13h0m16-16h0m2 10h0m3-2h0m-23 10h0m5 2h0m-1 1h0m7-3h0m12-12h0m-21 12h0m1 1h0m19-14h0m0 0h0m-19 8h0m18-10h0m-15 5h0m7 9h0m-1 0h0m-9 0h0m0-1h0m12-2h0m-8 4h0m0 1h0m10-6h0m3-4h0m1-1h0m-3-6h0m3 2h0m-9 0h0m-8 13h0m1-1h0m-1-6h0m16-2h0m-10-2h0m-3 10h0m2 1h0m0-1h0m6-4h0m0 0h0m2-1h0m-12 4h0m0-3h0m0 0h0m14-6h0m-1 0h0m-2-2h0m0 0h0m-6 11h0m7-7h0m-1 1h0m-10 6h0m10-9h0m0 1h0m-3 6h0m-6-3h0m-1 1h0m3 4h0m0-1h0m1 0h0m-1 1h0m0-6h0m0-1h0m0 0h0m0 1h0m3-3h0m2 0h0m0 0h0m1 1h0m1-1h0m-6 7h0m4-5h0m-5 2h0m2 1h0" stroke="#c8d838" stroke-width="1.2" stroke-linecap="square" fill="none"/>
<path d="M1693 121h0m0 14h0m5-3h0m-5 3h0m8-6h0m-1-10h0m-1 0h0m4-1h0m-14 14h0m0-5h0m2 0h0m12-3h0m-5 6h0m6-10h0m0 1h0m-6-1h0m-6 5h0m-1-1h0m2 0h0m-3 5h0m0 0h0m0 0h0m14-7h0m-5-2h0m2 5h0m-9 6h0m1-7h0m-1 4h0m0 1h0m-1 0h0m9-5h0m-3 3h0m1 0h0m0-3h0m-3 4h0m-2-1h0m1-1h0m0 1h0m2-1h0" stroke="#f0c030" stroke-width="1.2" stroke-linecap="square" fill="none"/>
<path d="M1689 126h0m16-2h0m-13 8h0m9-5h0m-12 3h0m16-7h0m-2 0h0m0-2h0m-7 10h0m0 0h0m1-8h0m-1-1h0m1 1h0m4 1h0m1 0h0m-1 0h0m0 1h0m1-3h0m-4 6h0m-4 3h0m-1-6h0m1 0h0m4-3h0m0 0h0m-6 6h0m-1 0h0m1 1h0m7-4h0m1-1h0m-1 3h0m-1 0h0m-3-2h0m1 0h0m2 0h0m-1 0h0m-3 4h0m1-1h0m-1 1h0m-1-3h0m0 0h0m3 1h0" stroke="#f09028" stroke-width="1.2" stroke-linecap="square" fill="none"/>
<rect x="1576.8" y="47.5" width="218" height="218.5" fill="none" stroke="#222" stroke-width="1.3"/>
<line x1="1665.5" y1="47.5" x2="1665.5" y2="266" stroke="#222" stroke-width="1.3"/>
<line x1="1576.8" y1="168.2" x2="1794.8" y2="168.2" stroke="#222" stroke-width="1.3"/>
<path d="M1571.3 67.7H1576.8M1571.3 117.7H1576.8M1571.3 170H1576.8M1573.8 154.3H1576.8M1573.8 145H1576.8M1573.8 138.5H1576.8M1573.8 133.4H1576.8M1573.8 129.3H1576.8M1573.8 125.8H1576.8M1573.8 122.8H1576.8M1573.8 120.1H1576.8M1573.8 102.6H1576.8M1573.8 93.8H1576.8M1573.8 87.6H1576.8M1573.8 82.8H1576.8M1573.8 78.8H1576.8M1573.8 75.4H1576.8M1573.8 72.5H1576.8M1573.8 70H1576.8M1573.8 52.6H1576.8M1573.8 43.8H1576.8M1573.8 184.2H1576.8M1573.8 192.5H1576.8M1573.8 198.3H1576.8M1573.8 202.9H1576.8M1573.8 206.6H1576.8M1573.8 209.8H1576.8M1573.8 212.5H1576.8M1573.8 214.9H1576.8M1571.3 237.7H1576.8M1572.8 231.7H1576.8M1572.8 234.7H1576.8M1572.8 240.7H1576.8M1572.8 243.7H1576.8M1572.8 246.7H1576.8M1667.5 266V271.5M1722.9 266V271.5M1773.4 266V271.5M1684.2 266V269M1693.9 266V269M1700.9 266V269M1706.2 266V269M1710.6 266V269M1714.3 266V269M1717.5 266V269M1720.4 266V269M1738.1 266V269M1747 266V269M1753.3 266V269M1758.2 266V269M1762.2 266V269M1765.6 266V269M1768.5 266V269M1771.1 266V269M1653.3 266V269M1645 266V269M1639.1 266V269M1634.6 266V269M1630.9 266V269M1627.7 266V269M1625 266V269M1622.6 266V269M1597 266V269.5M1602 266V269.5M1606 266V269.5M1609 266V269.5M1612 266V271.5M1615 266V269.5M1618 266V269.5M1622 266V269.5M1627 266V269.5" stroke="#222" stroke-width="1.1" fill="none"/>
<path d="M1601.3 266v3.2M1605.2 266v4.3M1606.5 266v4M1609.1 266v5.2M1610.4 266v5M1613 266v5.1M1615.6 266v3M1616.9 266v2.2M1618.2 266v6.4M1620.8 266v3.9" stroke="#1a1a1a" stroke-width="1.2" fill="none"/>
<text x="1566.8" y="77.7" font-size="14" text-anchor="end" letter-spacing="1" fill="#2a2a2a">10<tspan dy="-9" font-size="13">5</tspan></text>
<text x="1566.8" y="127.7" font-size="14" text-anchor="end" letter-spacing="1" fill="#2a2a2a">10<tspan dy="-9" font-size="13">4</tspan></text>
<text x="1566.8" y="180" font-size="14" text-anchor="end" letter-spacing="1" fill="#2a2a2a">10<tspan dy="-9" font-size="13">3</tspan></text>
<text x="1555.3" y="242.7" font-size="14" text-anchor="end" fill="#2a2a2a">0</text>
<text x="1612" y="295" font-size="14" text-anchor="middle" fill="#2a2a2a">0</text>
<text x="1661.5" y="295" font-size="14" letter-spacing="1" fill="#2a2a2a">10<tspan dy="-10" font-size="13">3</tspan></text>
<text x="1716.9" y="295" font-size="14" letter-spacing="1" fill="#2a2a2a">10<tspan dy="-10" font-size="13">4</tspan></text>
<text x="1767.4" y="295" font-size="14" letter-spacing="1" fill="#2a2a2a">10<tspan dy="-10" font-size="13">5</tspan></text>
<text x="1581.8" y="76.5" font-size="18.5" letter-spacing="1.6" fill="#333">13.3</text>
<text x="1765.8" y="76.5" text-anchor="end" font-size="18.5" letter-spacing="1.6" fill="#333">66.8</text>
<text x="1581.8" y="249" font-size="18.5" letter-spacing="1.6" fill="#333">14.0</text>
<text x="1765.8" y="249" text-anchor="end" font-size="18.5" letter-spacing="1.6" fill="#333">5.88</text>
<text x="1645" y="21" font-size="26.5">IFN<tspan font-size="24">γ</tspan><tspan dy="-10" font-size="15">wt</tspan></text>
<line x1="1224.5" y1="283" x2="1224.5" y2="315" stroke="#222" stroke-width="1.6"/>
<line x1="1224.5" y1="315" x2="1256" y2="315" stroke="#222" stroke-width="1.6"/>
<path d="M1224.5 265L1216 285H1233Z" fill="#333"/>
<path d="M1274 315L1252 306.5V323.5Z" fill="#333"/>
<text transform="translate(1232,255) rotate(-90)" font-size="26" textLength="149" lengthAdjust="spacingAndGlyphs">PD-1 BV785</text>
<text x="1285" y="322.6" font-size="26" textLength="169" lengthAdjust="spacingAndGlyphs">LAG3 PE-Cy7</text>
<path d="M588 1703h0m2 0h0m2 0h0m2 0h0m72 0h0m2 0h0m2 0h0m2 0h0m-122 2h0m2 0h0m2 0h0m2 0h0m2 0h0m2 0h0m2 0h0m2 0h0m2 0h0m20 0h0m2 0h0m2 0h0m2 0h0m2 0h0m2 0h0m2 0h0m2 0h0m64 0h0m2 0h0m2 0h0m2 0h0m2 0h0m2 0h0m-126 2h0m2 0h0m2 0h0m2 0h0m2 0h0m2 0h0m2 0h0m2 0h0m2 0h0m2 0h0m2 0h0m16 0h0m2 0h0m2 0h0m2 0h0m2 0h0m2 0h0m2 0h0m2 0h0m2 0h0m2 0h0m2 0h0m58 0h0m2 0h0m2 0h0m2 0h0m2 0h0m2 0h0m2 0h0m2 0h0m-130 2h0m2 0h0m2 0h0m2 0h0m2 0h0m2 0h0m2 0h0m2 0h0m2 0h0m2 0h0m2 0h0m2 0h0m14 0h0m2 0h0m2 0h0m2 0h0m2 0h0m2 0h0m2 0h0m2 0h0m2 0h0m2 0h0m2 0h0m2 0h0m56 0h0m2 0h0m2 0h0m2 0h0m2 0h0m2 0h0m2 0h0m2 0h0m2 0h0m-128 2h0m2 0h0m2 0h0m2 0h0m2 0h0m2 0h0m2 0h0m18 0h0m2 0h0m2 0h0m2 0h0m2 0h0m2 0h0m2 0h0m2 0h0m2 0h0m2 0h0m2 0h0m2 0h0m2 0h0m2 0h0m52 0h0m2 0h0m2 0h0m2 0h0m2 0h0m2 0h0m2 0h0m2 0h0m2 0h0m2 0h0m2 0h0m-124 2h0m2 0h0m2 0h0m28 0h0m2 0h0m2 0h0m2 0h0m2 0h0m2 0h0m2 0h0m2 0h0m2 0h0m54 0h0m2 0h0m2 0h0m2 0h0m2 0h0m2 0h0m2 0h0m2 0h0m2 0h0m2 0h0m2 0h0m2 0h0m-86 2h0m2 0h0m2 0h0m2 0h0m58 0h0m2 0h0m2 0h0m2 0h0m2 0h0m2 0h0m2 0h0m2 0h0m2 0h0m2 0h0m2 0h0m2 0h0m-22 2h0m2 0h0m2 0h0m2 0h0m2 0h0m2 0h0m2 0h0m2 0h0m2 0h0m2 0h0m2 0h0m2 0h0m-22 2h0m2 0h0m2 0h0m2 0h0m2 0h0m2 0h0m2 0h0m2 0h0m2 0h0m2 0h0m-18 2h0m2 0h0m2 0h0m2 0h0m2 0h0m2 0h0m2 0h0m-10 2h0m2 0h0m2 0h0m2 0h0m2 0h0m2 0h0m-10 2h0m2 0h0m2 0h0m2 0h0m2 0h0m2 0h0m-10 2h0m2 0h0m2 0h0m2 0h0m2 0h0m2 0h0m2 0h0m-12 2h0m2 0h0m2 0h0m2 0h0m2 0h0m2 0h0m2 0h0m2 0h0m2 0h0m-16 2h0m2 0h0m2 0h0m2 0h0m2 0h0m2 0h0m2 0h0m2 0h0m2 0h0m2 0h0m-20 2h0m2 0h0m2 0h0m2 0h0m2 0h0m2 0h0m2 0h0m2 0h0m2 0h0m2 0h0m2 0h0m-22 2h0m2 0h0m2 0h0m2 0h0m2 0h0m2 0h0m2 0h0m2 0h0m2 0h0m2 0h0m2 0h0m2 0h0m-24 2h0m2 0h0m2 0h0m2 0h0m2 0h0m2 0h0m2 0h0m2 0h0m2 0h0m2 0h0m2 0h0m2 0h0m2 0h0m-28 2h0m2 0h0m2 0h0m2 0h0m2 0h0m2 0h0m2 0h0m2 0h0m2 0h0m2 0h0m2 0h0m2 0h0m2 0h0m2 0h0m2 0h0m-30 2h0m2 0h0m2 0h0m2 0h0m2 0h0m10 0h0m2 0h0m2 0h0m2 0h0m2 0h0m2 0h0m2 0h0m-30 2h0m2 0h0m2 0h0m2 0h0m14 0h0m2 0h0m2 0h0m2 0h0m2 0h0m2 0h0m-32 2h0m2 0h0m2 0h0m2 0h0m18 0h0m2 0h0m2 0h0m2 0h0m-32 2h0m2 0h0m2 0h0m2 0h0m22 0h0m2 0h0m2 0h0m-34 2h0m2 0h0m2 0h0m2 0h0m24 0h0m2 0h0m2 0h0m2 0h0m-36 2h0m2 0h0m2 0h0m28 0h0m2 0h0m2 0h0m-38 2h0m2 0h0m2 0h0m30 0h0m2 0h0m2 0h0m-40 2h0m2 0h0m2 0h0m30 0h0m2 0h0m2 0h0m-38 2h0m2 0h0m2 0h0m30 0h0m2 0h0m2 0h0m-40 2h0m2 0h0m2 0h0m32 0h0m2 0h0m2 0h0m-40 2h0m2 0h0m34 0h0m2 0h0m2 0h0m-40 2h0m2 0h0m34 0h0m2 0h0m2 0h0m-40 2h0m2 0h0m34 0h0m2 0h0m2 0h0m-40 2h0m2 0h0m34 0h0m2 0h0m2 0h0m-42 2h0m2 0h0m36 0h0m2 0h0m2 0h0m-42 2h0m2 0h0m36 0h0m2 0h0m-42 2h0m2 0h0m38 0h0m2 0h0m-42 2h0m2 0h0m38 0h0m2 0h0m-44 2h0m2 0h0m40 0h0m2 0h0m-44 2h0m2 0h0m40 0h0m2 0h0m-46 2h0m2 0h0m40 0h0m2 0h0m-44 2h0m2 0h0m38 0h0m2 0h0m2 0h0m-44 2h0m2 0h0m36 0h0m2 0h0m2 0h0m-44 2h0m2 0h0m36 0h0m2 0h0m2 0h0m-42 2h0m2 0h0m34 0h0m2 0h0m2 0h0m-40 2h0m2 0h0m2 0h0m32 0h0m2 0h0m-38 2h0m2 0h0m2 0h0m32 0h0m2 0h0m-38 2h0m2 0h0m2 0h0m30 0h0m2 0h0m2 0h0m-38 2h0m2 0h0m2 0h0m30 0h0m2 0h0m-36 2h0m2 0h0m2 0h0m28 0h0m2 0h0m2 0h0m-36 2h0m2 0h0m2 0h0m26 0h0m2 0h0m2 0h0m-34 2h0m2 0h0m2 0h0m2 0h0m24 0h0m2 0h0m2 0h0m-34 2h0m2 0h0m2 0h0m2 0h0m22 0h0m2 0h0m2 0h0m-32 2h0m2 0h0m2 0h0m2 0h0m20 0h0m2 0h0m2 0h0m-28 2h0m2 0h0m2 0h0m18 0h0m2 0h0m2 0h0m-26 2h0m2 0h0m2 0h0m18 0h0m2 0h0m-24 2h0m2 0h0m2 0h0m16 0h0m2 0h0m-22 2h0m2 0h0m2 0h0m12 0h0m2 0h0m2 0h0m-20 2h0m2 0h0m2 0h0m2 0h0m6 0h0m2 0h0m2 0h0m2 0h0m-18 2h0m2 0h0m2 0h0m2 0h0m2 0h0m2 0h0m2 0h0m2 0h0m2 0h0m-16 2h0m2 0h0m2 0h0m2 0h0m2 0h0m2 0h0m2 0h0m2 0h0m-12 2h0m2 0h0m2 0h0m2 0h0" stroke="#e2f3fa" stroke-width="2.2" stroke-linecap="square" fill="none"/>
<path d="M654 1741h0m2 0h0m2 0h0m2 0h0m-8 2h0m2 0h0m2 0h0m2 0h0m2 0h0m2 0h0m-12 2h0m2 0h0m2 0h0m2 0h0m2 0h0m2 0h0m2 0h0m2 0h0m-16 2h0m2 0h0m2 0h0m2 0h0m2 0h0m2 0h0m2 0h0m2 0h0m2 0h0m2 0h0m-20 2h0m2 0h0m2 0h0m2 0h0m2 0h0m2 0h0m2 0h0m2 0h0m2 0h0m2 0h0m2 0h0m-22 2h0m2 0h0m2 0h0m10 0h0m2 0h0m2 0h0m2 0h0m2 0h0m2 0h0m-26 2h0m2 0h0m16 0h0m2 0h0m2 0h0m2 0h0m2 0h0m-28 2h0m2 0h0m2 0h0m18 0h0m2 0h0m2 0h0m-26 2h0m2 0h0m20 0h0m2 0h0m2 0h0m-28 2h0m2 0h0m22 0h0m2 0h0m2 0h0m-30 2h0m2 0h0m26 0h0m2 0h0m-30 2h0m2 0h0m26 0h0m2 0h0m-30 2h0m28 0h0m2 0h0m-30 2h0m30 0h0m-32 2h0m2 0h0m30 0h0m-32 2h0m2 0h0m30 0h0m-34 2h0m2 0h0m32 0h0m-34 2h0m2 0h0m30 0h0m2 0h0m-36 2h0m2 0h0m32 0h0m2 0h0m-36 2h0m32 0h0m2 0h0m2 0h0m-38 2h0m2 0h0m30 0h0m2 0h0m2 0h0m-36 2h0m30 0h0m2 0h0m2 0h0m-34 2h0m28 0h0m2 0h0m2 0h0m-34 2h0m2 0h0m28 0h0m2 0h0m-32 2h0m2 0h0m26 0h0m2 0h0m-28 2h0m26 0h0m2 0h0m-28 2h0m26 0h0m2 0h0m-28 2h0m2 0h0m24 0h0m-26 2h0m2 0h0m22 0h0m2 0h0m-26 2h0m2 0h0m20 0h0m2 0h0m-24 2h0m2 0h0m20 0h0m-20 2h0m2 0h0m16 0h0m2 0h0m-20 2h0m2 0h0m14 0h0m2 0h0m-18 2h0m2 0h0m12 0h0m2 0h0m-16 2h0m2 0h0m10 0h0m2 0h0m-14 2h0m2 0h0m2 0h0m2 0h0m2 0h0m2 0h0m2 0h0m2 0h0m-14 2h0m2 0h0m2 0h0m2 0h0m2 0h0m2 0h0m2 0h0m-12 2h0m2 0h0m2 0h0m2 0h0m2 0h0m-6 2h0m2 0h0" stroke="#cdeef0" stroke-width="2.2" stroke-linecap="square" fill="none"/>
<path d="M650 1751h0m2 0h0m2 0h0m2 0h0m-10 2h0m2 0h0m2 0h0m2 0h0m2 0h0m2 0h0m2 0h0m-12 2h0m2 0h0m6 0h0m2 0h0m2 0h0m2 0h0m-16 2h0m12 0h0m2 0h0m2 0h0m-18 2h0m14 0h0m2 0h0m2 0h0m-20 2h0m18 0h0m2 0h0m2 0h0m-22 2h0m18 0h0m2 0h0m2 0h0m-24 2h0m22 0h0m2 0h0m-24 2h0m22 0h0m2 0h0m2 0h0m-26 2h0m24 0h0m2 0h0m-26 2h0m24 0h0m2 0h0m-28 2h0m2 0h0m24 0h0m2 0h0m-28 2h0m26 0h0m-28 2h0m26 0h0m2 0h0m-30 2h0m2 0h0m24 0h0m2 0h0m-28 2h0m24 0h0m2 0h0m-28 2h0m2 0h0m24 0h0m-26 2h0m2 0h0m22 0h0m-24 2h0m22 0h0m2 0h0m-24 2h0m22 0h0m-22 2h0m22 0h0m-22 2h0m2 0h0m18 0h0m2 0h0m-20 2h0m18 0h0m2 0h0m-20 2h0m18 0h0m-18 2h0m2 0h0m14 0h0m-16 2h0m2 0h0m12 0h0m2 0h0m-14 2h0m10 0h0m2 0h0m-12 2h0m2 0h0m6 0h0m2 0h0m-10 2h0m2 0h0m2 0h0m2 0h0m2 0h0m-8 2h0m2 0h0m2 0h0m2 0h0" stroke="#d2f0bc" stroke-width="2.2" stroke-linecap="square" fill="none"/>
<path d="M650 1755h0m2 0h0m-6 2h0m2 0h0m2 0h0m2 0h0m2 0h0m-10 2h0m2 0h0m6 0h0m2 0h0m-12 2h0m2 0h0m10 0h0m2 0h0m-14 2h0m12 0h0m2 0h0m-16 2h0m2 0h0m14 0h0m2 0h0m-18 2h0m16 0h0m2 0h0m-18 2h0m18 0h0m2 0h0m-20 2h0m18 0h0m2 0h0m-20 2h0m18 0h0m2 0h0m-22 2h0m20 0h0m2 0h0m-24 2h0m2 0h0m18 0h0m2 0h0m-22 2h0m20 0h0m-22 2h0m2 0h0m18 0h0m-20 2h0m18 0h0m2 0h0m-20 2h0m16 0h0m2 0h0m-20 2h0m2 0h0m16 0h0m-18 2h0m2 0h0m14 0h0m2 0h0m-18 2h0m2 0h0m14 0h0m2 0h0m-16 2h0m14 0h0m-14 2h0m12 0h0m2 0h0m-14 2h0m2 0h0m10 0h0m2 0h0m-12 2h0m8 0h0m2 0h0m-10 2h0m2 0h0m2 0h0m2 0h0m2 0h0m-8 2h0m2 0h0m2 0h0m2 0h0m-4 2h0m2 0h0" stroke="#e6f0a4" stroke-width="2.2" stroke-linecap="square" fill="none"/>
<path d="M648 1759h0m2 0h0m-4 2h0m2 0h0m2 0h0m2 0h0m-8 2h0m2 0h0m4 0h0m2 0h0m-8 2h0m8 0h0m2 0h0m-12 2h0m10 0h0m2 0h0m-12 2h0m12 0h0m2 0h0m-14 2h0m12 0h0m2 0h0m-14 2h0m14 0h0m-16 2h0m2 0h0m12 0h0m2 0h0m-16 2h0m14 0h0m-16 2h0m2 0h0m12 0h0m2 0h0m-16 2h0m12 0h0m2 0h0m-16 2h0m2 0h0m10 0h0m2 0h0m-14 2h0m12 0h0m-12 2h0m10 0h0m2 0h0m-12 2h0m10 0h0m-10 2h0m10 0h0m-10 2h0m2 0h0m6 0h0m2 0h0m-10 2h0m2 0h0m2 0h0m2 0h0m2 0h0m-6 2h0m2 0h0m2 0h0m2 0h0m-6 2h0m2 0h0m2 0h0" stroke="#f6e29a" stroke-width="2.2" stroke-linecap="square" fill="none"/>
<path d="M648 1763h0m-2 2h0m2 0h0m2 0h0m-6 2h0m2 0h0m2 0h0m2 0h0m-6 2h0m2 0h0m2 0h0m2 0h0m2 0h0m-8 2h0m2 0h0m2 0h0m2 0h0m2 0h0m-8 2h0m2 0h0m2 0h0m2 0h0m2 0h0m2 0h0m-10 2h0m2 0h0m2 0h0m2 0h0m2 0h0m-10 2h0m2 0h0m2 0h0m2 0h0m2 0h0m2 0h0m-10 2h0m2 0h0m2 0h0m2 0h0m2 0h0m-10 2h0m2 0h0m2 0h0m2 0h0m2 0h0m-8 2h0m2 0h0m2 0h0m2 0h0m-8 2h0m2 0h0m2 0h0m2 0h0m2 0h0m-8 2h0m2 0h0m2 0h0m2 0h0m-6 2h0m2 0h0m2 0h0m2 0h0m-6 2h0m2 0h0m2 0h0m2 0h0m-4 2h0m2 0h0" stroke="#f6c890" stroke-width="2.2" stroke-linecap="square" fill="none"/>
<path d="M696 1816h0m-180 18h0m43-13h0m-62-59h0m16-2h0m68 66h0m16-57h0m97-115h0m-5 11h0m-163 14h0m14 110h0m-10-13h0m-22 44h0m30-17h0m18-52h0m-20 61h0m156-130h0m-180 129h0m20-79h0m59 85h0m-3-15h0m-4 10h0m-82-130h0m25 133h0m50-45h0m0 6h0m99-98h0m-157 135h0m65-33h0m-78-43h0m87 19h0m-40 15h0m18 25h0m39-22h0m-93 16h0m153 37h0m-73-83h0m-5 0h0m57 98h0m-97-49h0m-31-53h0m63 22h0m-22 31h0m-42-47h0m52 13h0m9 35h0m-17-62h0m-64-43h0m86 101h0m-73 5h0m132 49h0m-84-110h0m101 102h0m-111-79h0m47-71h0m29 1h0m-91 70h0m-21 39h0m39-17h0m30 7h0m3-30h0m34-21h0m-58 47h0m38 20h0m-27 0h0m-77-20h0m110-20h0m7-32h0m-70 1h0m-42 46h0m51-42h0m81-51h0m-57 121h0m-88-89h0m92 86h0m-70-68h0m36 24h0m-58 43h0m0-4h0m56-47h0m148 26h0m-131-1h0m0 0h0m42 16h0m-27-41h0m-19 39h0m67-55h0m-87 12h0m-48-36h0m98-29h0m-35 103h0m-57-4h0m57-93h0m-24 80h0m50-14h0m49-18h0m-141 63h0m85-10h0m3-33h0m10-73h0m-59 86h0m79 25h0m-105-13h0m-6-58h0m190 78h0m-129-14h0m115 31h0m-123-39h0m-31-49h0m139-42h0m-129 71h0m1 0h0m41 29h0m43 56h0m-66-69h0m0 1h0m156-84h0m-63-6h0m-55 47h0m-54-7h0m41 63h0m130-59h0m-175 34h0m87-78h0m-10 131h0m65-7h0m-167-85h0m112 118h0m-60-111h0m-40-2h0m91-41h0m-84 6h0m139 139h0m-119-80h0m151-65h0m9 2h0m-156 63h0m5-25h0m-18 17h0m1 0h0m155 52h0m0 0h0m-155-48h0m-16-22h0m179 13h0m-81 25h0m40 69h0m1-1h0m42-81h0m-163-3h0m69 66h0m70-131h0m8 114h0m-153-107h0m85 148h0m-102-147h0m95 112h0m-77-113h0m117-4h0m11 1h0m-84 1h0m-80 26h0m10-21h0m51 34h0m32-44h0m103 92h0m-74 62h0m-99-117h0m159 80h0m-85-114h0m90 0h0m22 30h0m-127 11h0m-54-8h0m29-31h0m137 99h0m-47 49h0m8-7h0m23-142h0m-75 41h0m96 43h0m-110-41h0m109 38h0m-131-78h0m56-3h0m72 98h0m-187-86h0m118 53h0m5-61h0m-8 89h0m-34-91h0m-74 31h0m98 87h0m0 3h0m32 29h0m-4-113h0m-20 33h0m-6-69h0m32-2h0m50 2h0m-190 11h0m60 23h0m47 107h0m0 0h0m62-143h0m32 15h0m-195 17h0m11-3h0m87 106h0m42-135h0m50 65h0m-71 88h0m7-100h0m-22 55h0m-2 14h0m93-91h0m-194-25h0m-6 6h0m121 138h0m78-129h0m-62-16h0m27 116h0m33-98h0m4-14h0m-80-7h0m-36-2h0m42 154h0m-24-115h0m82 48h0m-1-86h0m-17 132h0m-1 0h0m-44-98h0m5 120h0m-12-155h0m49 126h0m30-121h0m-122-2h0m33 137h0m-81-133h0m-27 19h0m202-16h0m-63 32h0m54 30h0m-99-70h0m102 67h0m-9 27h0m-14 16h0m-172-85h0m174 82h0m-39-73h0m-17 38h0m5-17h0m-3 12h0m-1 2h0m75-5h0m-27 62h0m-22-123h0m-125 21h0m98-24h0m-95 25h0m-7-3h0m96 88h0m-52-108h0m53 123h0m88-94h0m-193-23h0m133-5h0m53 50h0m-194-36h0m0 2h0m128 131h0m60-70h0m12-71h0m1-1h0m-93 129h0m-95-113h0m168 77h0m-1 1h0m-57-45h0m-1-1h0m-23-21h0m24 23h0m71-53h0m-181 1h0m99 109h0m14-82h0m26 104h0m47-101h0m-11-32h0m1 1h0m-6 83h0m-50 61h0m-7-94h0m0-2h0m23-51h0m16 123h0m-40 22h0m-15-9h0m-103-113h0m90-24h0m0 1h0m85 99h0m-69 27h0m-111-104h0m1-1h0m7-16h0m0 1h0m187 29h0m-122-35h0m106-2h0m-28 2h0m0 0h0m-6 1h0m-95-1h0m67 84h0m20-42h0m0 1h0m23-44h0m-155 13h0m190 4h0m-187 5h0m1 1h0m131-17h0m-51 26h0m23-31h0m26 136h0m-91-108h0m68 66h0m67-15h0m-16 30h0m-7 23h0m-58-98h0m8 100h0m0 1h0m64-137h0m-99 34h0m0-1h0m123-19h0m-12 66h0m-22 50h0m33-120h0m-10 64h0m-67 68h0m71-102h0m-2 27h0m-57-60h0m-49 29h0m98-33h0m-73 1h0m-107 14h0m114-17h0m21 5h0m62 23h0m0 1h0m-88-27h0m-106 20h0m158 109h0m-159-116h0m140 21h0m-28 61h0m72-27h0m-74 34h0m0 0h0m29-71h0m-107-2h0m94 116h0m-43-147h0m109 16h0m-190-1h0m132 17h0m1 0h0m43 50h0m-94-50h0m25 101h0m70-37h0m-117-66h0m-56-12h0m133 18h0m-17 20h0m0-2h0m-3 18h0m-1 1h0m-114-52h0m176 58h0m-170-72h0m-9 10h0m118 62h0m16 61h0m55-103h0m-181-20h0m94 15h0m-7-28h0m-46 25h0m-31-5h0m174 4h0m-22 74h0m20-90h0m2 22h0m-190-17h0m28 13h0m103 17h0m-40-45h0m91 65h0m-160-41h0m154-24h0m-69 111h0m0 0h0m-71-82h0m-2 1h0m114-29h0m25-3h0m-57 69h0m1 0h0m-91-43h0m27 3h0m103 101h0m28-122h0m-1 0h0m-146-7h0m70 127h0m0-2h0m-31-94h0m43-4h0m-57 2h0m17 2h0m83 77h0m-156-95h0m34-12h0m135 91h0m-66 42h0m-79-104h0m-24-20h0m102 121h0m29-100h0m-4 12h0m-35-12h0m-73-27h0m1 0h0m146 84h0m-79-56h0m48-26h0m1-1h0m-67-3h0m1 1h0m1 29h0m1 0h0m109-21h0m0 0h0m-115-9h0m77 130h0m-61-131h0m94 62h0m-1 1h0m-50-59h0m22 124h0m-17-122h0m50 2h0m-71 131h0m-20-107h0m-75-28h0m89 114h0m-40-117h0m77 2h0m-27 55h0m-5 80h0m-6-9h0m-97-123h0m107 63h0m-77-44h0m97-18h0m-125-2h0m171 53h0m-30-56h0m32 33h0m-62 108h0m-59-115h0m12-26h0m93-2h0m0-1h0m-54 82h0m-59-53h0m85-22h0m-1 0h0m-23 67h0m56 15h0m-154-68h0m154 72h0m-1 0h0m-36 40h0m48-113h0m-37-15h0m34 2h0m-1 2h0m-102 21h0m75 96h0m-43-32h0m-2 8h0m-80-73h0m157-13h0m-142-15h0m85 138h0m-54-110h0m-47-25h0m0 1h0m98 0h0m48 86h0m-1 1h0m-46-39h0m-18 62h0m-26-113h0m94 72h0m-9 27h0m-143-96h0m80-1h0m-42 0h0m88 126h0m-33 9h0m63-93h0m0 0h0m-68 44h0m-105-80h0m166 67h0m-40-33h0m-23 52h0m-13-65h0m19-26h0m0-1h0m-27 25h0m20 75h0m-2 1h0m49-103h0m-8 2h0m32 35h0m-121-34h0m117 3h0m-112-4h0m-19 22h0m51-21h0m25 53h0m-25-28h0m74 57h0m-44 55h0m-67-114h0m-18-26h0m76 75h0m-110-63h0m2 0h0m151 90h0m23-91h0m-113-9h0m-36 23h0m85-2h0m-11 90h0m-93-100h0m97 13h0m0-1h0m0 0h0m-56-23h0m11-1h0m109 69h0m1-1h0m-8 24h0m-19 29h0m-44-96h0m-25 1h0m28-1h0m32 4h0m41 19h0m0-1h0m0 0h0m5-18h0m-152-29h0m136-2h0m-39 9h0m51 14h0m-152 3h0m106 4h0m1 0h0m39 31h0m0 8h0m-141-44h0m75 3h0m7 42h0m0 68h0m-100-132h0m1 0h0m19-5h0m17 2h0m124 41h0m-30 84h0m30-90h0m-44-28h0m46 45h0m-2-47h0m-4 55h0m-53-37h0m-69-2h0m-16-24h0m13 4h0m0 0h0m3-1h0m68 56h0m42-59h0m-23 129h0m-16 12h0m-92-114h0m12-24h0m72 22h0m-105-12h0m132 115h0m43-99h0m-175-22h0m74 21h0m49-18h0m-115 10h0m102 42h0m0 0h0m44 37h0m-116-74h0m-2 0h0m136 25h0m-39 79h0m-136-118h0m-1 0h0m133-1h0m42 42h0m-34-48h0m-35 87h0m-100-83h0m169 7h0m-44 24h0m-20-34h0m61 55h0m-48-35h0m-4 114h0m-26-112h0m0-22h0m23 20h0m1 1h0m27 89h0m-44-112h0m69 5h0m-67 115h0m-40-96h0m-40-24h0m0-1h0m0 1h0m148 33h0m2 22h0m-117-31h0m75-1h0m5-14h0m41 13h0m-143-22h0m-6 21h0m64 3h0m27-2h0m0-1h0m22 98h0m0 0h0m-126-100h0m-1-12h0m47 17h0m109 32h0m-142-36h0m123 81h0m-143-90h0m155 64h0m-105-52h0m61-19h0m0-1h0m-27-2h0m12 124h0m59-124h0m-61 120h0m40 0h0m-26 16h0m0 0h0m16-127h0m43 8h0m-65 60h0m-1 1h0m-106-71h0m116 126h0m0 1h0m28-135h0m-30 4h0m55 7h0m-160-5h0m-1 0h0m106 130h0m0 0h0m-56-133h0m0-2h0m44 90h0m-2 34h0m57-42h0m-135-61h0m0-22h0m1-1h0m140 61h0m-48-8h0m-61-51h0m-45 13h0m156 52h0m-117-44h0m97 86h0m-21-88h0m0 1h0m-45 3h0m0-1h0m-1 1h0m31 49h0m31 40h0m0-111h0m31 44h0m-145-45h0m109 122h0m1 0h0m-30-121h0m1-1h0m-100 8h0m119 11h0m-25 81h0m67-69h0m-97-33h0m-2 1h0m2 0h0m31 92h0m7 41h0m13-114h0m1 0h0m-120-12h0m0-2h0m-1 1h0m102 127h0m-81-112h0m76 83h0m27 21h0m40-90h0m4 18h0m1-1h0m-84-50h0m14 109h0m-97-105h0m130 118h0m0 0h0m0 0h0m-22-69h0m62-28h0m0-1h0m-18 63h0m-45-85h0m44 89h0m-1 1h0m-18 28h0m-14-77h0m-92-43h0m83 52h0m26 62h0m-12-103h0m-40 8h0m-53-20h0m1 0h0m76 69h0m-38-49h0m95 24h0m-120-42h0m-41 5h0m-1-1h0m94 14h0m-80-1h0m146-12h0m5 4h0m-65 68h0m24-44h0m0 0h0m-84-33h0m101-4h0m1 1h0m0 0h0m-125 20h0m62-18h0m-65 0h0m-2 2h0m26 17h0m123 34h0m-101-53h0m17 0h0m-1 0h0m42 9h0m9 14h0m-4-13h0m33-9h0m-11 93h0m-1 0h0m-113-94h0m-24 6h0m106-3h0m-1 0h0m-3 129h0m56-83h0m-129-49h0m82 17h0m-21 109h0m25-108h0m44 8h0m-70 87h0m10-58h0m54-15h0m-40-28h0m-11 6h0m-89-19h0m130-1h0m-28 37h0m32-34h0m0-1h0m1 0h0m2 62h0m6-35h0m-1 1h0m-15-30h0m-1-1h0m-137 18h0m2 2h0m-1-2h0m108 26h0m0-1h0m0-29h0m31-13h0m0-1h0m-8 104h0m0 0h0m-23-87h0m-62 6h0m70 99h0m36-70h0m-75-29h0m0 0h0m0 0h0m-1 0h0m48-18h0m0-1h0m0 2h0m-116-3h0m85 73h0m0 1h0m20-63h0m6 15h0m0 0h0m-18-8h0m46 48h0m-73-46h0m12 104h0m1 1h0m-43-124h0m98 72h0m-122-56h0m0 0h0m61-17h0m2 0h0m13 61h0m-10 57h0m27-104h0m42-1h0m0 0h0m-45 25h0m-116-31h0m1 1h0m144 82h0m-124-88h0m-20 10h0m0 1h0m-1 0h0m142 78h0m-133-76h0m110 6h0m-71-20h0m83 108h0m-121-92h0m114-10h0m31 42h0m-63 46h0m60-32h0m0 1h0m0 0h0m-109-43h0m49-22h0m-14 2h0m49 112h0m7-113h0m-40 128h0m1 0h0m-1 0h0m-79-125h0m23 16h0m-29-16h0m83 14h0m68 9h0m1 1h0m-7 0h0m4 21h0m-47-31h0m4 106h0m-23-13h0m1 0h0m-3-110h0m0 0h0m1-1h0m38 8h0m0-1h0m-31 10h0m0 0h0m13-9h0m0 1h0m52 15h0m0 0h0m-4-13h0m-2 0h0m2 0h0m-31 102h0m0-1h0m29-70h0m-2 9h0m-1-1h0m-106-30h0m16-19h0m59 21h0m-18 33h0m30 49h0m-123-101h0m143 31h0m-1-3h0m4-5h0m-6 26h0m-46 76h0m-3-124h0m2 48h0m-14-33h0m40-14h0m-43 15h0m0-2h0m-17 2h0m-1 2h0m84 10h0m1 0h0m-56 99h0m-83-116h0m0 0h0m105-5h0m2 1h0m13-11h0m0 0h0m-16 120h0m29-48h0m-46-7h0m-10 33h0m16-81h0m23-14h0m-6 6h0m18 79h0m-23-74h0m-6 30h0m-5-30h0m31 78h0m-128-76h0m55 6h0m85 7h0m-6-28h0m-37 11h0m1 0h0m-18 96h0m-14-90h0m0 1h0m46 13h0m27-7h0m1 0h0m2 0h0m-60-8h0m60 24h0m-140-36h0m143 7h0m0 1h0m-82-11h0m80 44h0m-72-27h0m26-7h0m-91-7h0m131 52h0m-90-55h0m34 124h0m-37-106h0m-43-14h0m72-4h0m20 14h0m0 1h0m54 9h0m-40 11h0m1 0h0m18-35h0m7 81h0m-106-65h0m62 49h0m1 0h0m-10 40h0m0 1h0m-1-2h0m-81-100h0m-8 6h0m2-4h0m155 12h0m-80 0h0m12-3h0m0 0h0m-56-1h0m106 74h0m1 1h0m-83-72h0m99-5h0m-122-11h0m-35 8h0m39-8h0m41 3h0m1 0h0m15 0h0m0 0h0m10 120h0m0 2h0m15-107h0m0 0h0m-29-18h0m1 0h0m-41 15h0m-46-10h0m1 0h0m95 49h0m57-35h0m0 1h0m-53-8h0m-70-12h0m93 106h0m-1 0h0m-104-107h0m99 8h0m-1 1h0m0-1h0m31 36h0m-1 0h0m0 2h0m-64-31h0m34 98h0m-73-111h0m1 2h0m102 37h0m1 0h0m-46-33h0m-59-6h0m57 3h0m-1 0h0m0 0h0m-32-4h0m23 126h0m-1-1h0m0-46h0m-81-68h0m72 4h0m7 105h0m-64-119h0m1-1h0m85 121h0m39-115h0m-8 72h0m-1 0h0m-51 10h0m42 5h0m18-51h0m-126-42h0m-16 9h0m4-4h0m110 19h0m-84-9h0m29 1h0m41 107h0m-18-11h0m-71-98h0m104 95h0m-34 9h0m-40-115h0m100 17h0m1 0h0m-50 107h0m46-66h0m0 1h0m-63-63h0m63 52h0m0 0h0m-42-43h0m-93 1h0m-4-5h0m-2-1h0m0 1h0m84 105h0m1 5h0m-42-97h0m26-14h0m44 8h0m-16 0h0m-13 105h0m0 1h0m65-101h0m0 1h0m-91-18h0m90 21h0m0-1h0m-35-3h0m-25-4h0m-66 2h0m116 7h0m-63-20h0m-81 10h0m0-1h0m0 0h0m96 3h0m1-1h0m-9 0h0m60 21h0m0 2h0m-47 21h0m-61-41h0m1 1h0m0 1h0m46-6h0m61 19h0m-29-16h0m-119-6h0m7 1h0m93 3h0m1 0h0m-83-10h0m-8 7h0m1 0h0m111-1h0m-23-3h0m-56 11h0m-27-3h0m0-1h0m133-8h0m4 8h0m-138-7h0m31 11h0m0 0h0m70 100h0m30-96h0m-83-20h0m-55 5h0m101 41h0m-14 80h0m-92-116h0m-1-1h0m101-3h0m-98 4h0m8-5h0m113 1h0m-21 44h0m-102-43h0m1-1h0m0 0h0m103 42h0m-1 1h0m0-1h0m45-40h0m-4 40h0m5-34h0m0 4h0m-111-16h0m79 29h0m9-26h0m-38-3h0m48 84h0m0 0h0m-9-84h0m1 0h0m-78-1h0m24 12h0m-1 1h0m-54 1h0m127 26h0m-55-36h0m49-5h0m9 17h0m1-1h0m0-1h0m-128-2h0m2 0h0m56-1h0m-1-1h0m-80-3h0m84 3h0m65 7h0m-145-9h0m1-1h0m137 58h0m-78-50h0m0-1h0m0 0h0m62 88h0m-5-74h0m0 1h0m-3-12h0m27 10h0m-57-19h0m-28 8h0m29 77h0m-1 1h0m55-69h0m-69-23h0m17 0h0m-1 2h0m1-1h0m50 20h0m-19-16h0m-63-9h0m-23 15h0m-1 1h0m41-11h0m1 0h0m-30-1h0m8-3h0m0-1h0m-1 1h0m1 0h0m35 10h0m1 0h0m-1 0h0m-3-7h0m0-1h0m38 102h0m-1 1h0m-34-24h0m53-37h0m-35 0h0m6-8h0m-78-34h0m14 11h0m-19-1h0m87 0h0m1 0h0m-76-8h0m5-1h0m1 0h0m39 101h0m-10-93h0m-1 1h0m62 71h0m0-1h0m-29-42h0m-14-30h0m1 1h0m-5-1h0m7 50h0m49-49h0m-92-11h0m0 0h0m48 123h0m-16-114h0m1 0h0m-57 2h0m8 3h0m1-1h0m12 0h0m-1 1h0m70 92h0m-26-101h0m0 1h0m0-1h0m34-3h0m-46 5h0m54 15h0m-56-20h0m16 7h0m0-1h0m0 0h0m-9 94h0m51-30h0m0 0h0m1-1h0m-93-57h0m37-12h0m-68 11h0m0-1h0m102 3h0m0 1h0m15-17h0m-40 7h0m34 92h0m1 0h0m0-1h0m0 1h0m0-1h0m-40-1h0m12-43h0m46-48h0m-26 103h0m-1 0h0m-2-94h0m-6 25h0m-26-34h0m-60-3h0m14 3h0m87 1h0m-36 2h0m-1-1h0m-1 93h0m-3-97h0m32 106h0m10-106h0m-93-1h0m-1 1h0m109 60h0m-52 55h0m0 1h0m-58-117h0m-1 0h0m106 22h0m-61-11h0m64 6h0m-1 1h0m-98-6h0m-30-7h0m76 92h0m1-1h0m-55-85h0m1-1h0m18-9h0m44 67h0m48-40h0m0 13h0m0-1h0m-108-31h0m-1 0h0m81 101h0m8-103h0m-30 0h0m-1 0h0m5 52h0m44 1h0m0-1h0m-75-59h0m54 26h0m1 0h0m-1 0h0m21 27h0m-2-29h0m-1 0h0m5-8h0m-100-5h0m-1 0h0m10 2h0m69 8h0m-1 1h0m0-1h0m-101-20h0m116 19h0m-38 102h0m-53-119h0m-22-2h0m114 17h0m-93-14h0m99 27h0m-71-21h0m63-13h0m8 33h0m0 1h0m-64-29h0m1-1h0m-38 3h0m-1 0h0m1 1h0m101 31h0m0-1h0m-106-33h0m1 1h0m0-2h0m106 36h0m-3-11h0m5-13h0m-1-7h0m0 0h0m-51 65h0m-5 42h0m1-1h0m8-49h0m32 24h0m-1 0h0m-48-84h0m0-2h0m-2 5h0m42 2h0m7 85h0m-9-78h0m19-17h0m-1 0h0m-17 11h0m-30 101h0m45-89h0m-54-16h0m0-1h0m1 0h0m-1 1h0m-41 2h0m102-5h0m-65 3h0m1-2h0m42 27h0m-1-1h0m-53-30h0m9 10h0m1 0h0m-1-1h0m0-1h0m-35 0h0m0-2h0m-23 5h0m1 1h0m99 21h0m-39-26h0m-28-3h0m59 37h0m0-1h0m0 1h0m-30-36h0m51-3h0m0 2h0m-31 51h0m39-29h0m-82-14h0m19-5h0m-27 4h0m0 1h0m0-2h0m62 106h0m0 1h0m-56-117h0m38 121h0m-78-116h0m-1-1h0m24 2h0m8 1h0m48 116h0m0-1h0m1 1h0m-1 0h0m0 1h0m48-123h0m0 0h0m-44 63h0m0 1h0m-45-63h0m-1 2h0m-8 8h0m1-1h0m-1 0h0m1-1h0m29-1h0m-10-9h0m0 1h0m32 122h0m0-1h0m-61-114h0m0 1h0m82 26h0m-46-33h0m34 47h0m-1 1h0m-66-45h0m82 9h0m-76-5h0m1-1h0m-14 0h0m81 107h0m-63-107h0m0 0h0m1 0h0m0-2h0m1 2h0m56 39h0m-55-36h0m71 8h0m19 32h0m-79-51h0m27 106h0m1-2h0m-1 1h0m51-38h0m-1-1h0m-125-59h0m0 1h0m0-1h0m-1 0h0m14-3h0m112 24h0m0 0h0m-16 72h0m1 1h0m-60-89h0m77 29h0m-1-24h0m2 12h0m-84-16h0m0 0h0m75 6h0m-99-16h0m-2 1h0m0-2h0m58 84h0m-19-78h0m62-8h0m0 0h0m-109 11h0m-2-1h0m1 0h0m115 6h0m-48 87h0m53-89h0m1 1h0m-92-11h0m70 6h0m-1 2h0m13 5h0m-67-5h0m45 27h0m-1-1h0m1 1h0m11-13h0m-67-26h0m-21 5h0m1 0h0m-1 1h0m104 50h0m0 0h0m0 0h0m-113-47h0m115 40h0m0 0h0m-124-46h0m89 117h0m38-116h0m-1 2h0m1-2h0m-55 83h0m0 0h0m-74-78h0m7 3h0m-1-2h0m70 108h0m-19-111h0m0 0h0m-39 1h0m0-2h0m0 2h0m96-3h0m0-1h0m-30 54h0m1-1h0m24-33h0m-1 1h0m-97-21h0m114 35h0m-79-27h0m1 1h0m40 40h0m39-22h0m1-1h0m-2 0h0m-12-23h0m-28 114h0m37-93h0m2 36h0m0-5h0m1-1h0m-87-55h0m0 1h0m68 13h0m0 0h0m0 1h0m-29 61h0m0 0h0m-1-1h0m50-41h0m-4 40h0m0 0h0m-13-54h0m-70-13h0m-1 1h0m56 32h0m0 0h0m25-27h0m-67-12h0m0-2h0m0 0h0m-38 4h0m65 114h0m0 2h0m-1-2h0m1 2h0m-63-116h0m0-2h0m-3 1h0m2 0h0m-15 0h0m129 2h0m-54 92h0m-1-1h0m42-14h0m-1 3h0m14-74h0m-2-1h0m-73-3h0m0 1h0m67 16h0m-1 0h0m-66-20h0m0 0h0m70 55h0m-46 14h0m43-75h0m4 63h0m-1 1h0m-15-54h0m2-2h0m14 21h0m4-21h0m-23 7h0m-32 78h0m41-73h0m11-6h0m-117-12h0m96 30h0m23-22h0m0 1h0m-7 4h0m-1 1h0m-117-12h0m2-1h0m0 0h0m121-1h0m-113 3h0m104 14h0m-107-10h0m100 88h0m1 1h0m-37-2h0m7 25h0m41-106h0m-71-3h0m-1-1h0m-38-4h0m-12 1h0m0-2h0m115 2h0m-76-3h0m77 17h0m-14 12h0m19-34h0m1 2h0m-14 9h0m15 65h0m-120-66h0m86 40h0m20-31h0m0 0h0m9 8h0m1-1h0m-35 34h0m-78-57h0m119 13h0m0 28h0m-48 69h0m-1 0h0m0-1h0m-22-104h0m-4-6h0m75 39h0m-5-28h0m-1 70h0m-80-75h0m78 16h0m-1 2h0m-76-15h0m1-1h0m-2 2h0m2-1h0m83 21h0m-14-7h0m-18 92h0m27-104h0m-1 0h0m-2 14h0m0 0h0m1 0h0m-9 3h0m-98-26h0m101 22h0m2 1h0m-1-1h0m5-20h0m0 0h0m-1 0h0m1 2h0m6 6h0m-1-1h0m0 1h0m-34 104h0m1 1h0m0 1h0m-1-1h0m37-81h0m-1 1h0m-121-33h0m-1-2h0m85 51h0m-1 0h0m36 19h0m4-61h0m1-1h0m0 1h0m-1 0h0m-7 17h0m-5-1h0m-4-7h0m1 1h0m0 0h0m15-18h0m-73 4h0m-1 0h0m0-1h0m73 26h0m-1-1h0m-9-7h0m-25 24h0m-81-41h0m0 0h0m116 36h0m-49 61h0m-27-104h0m65 7h0m11 27h0m-2 2h0m-46 66h0m47-70h0m-114-27h0m1 0h0m-1 1h0m88 30h0m28-26h0m0-2h0m0-1h0m-18 4h0m-55-7h0m72 7h0m-1 0h0m-75-2h0m65 9h0m1 0h0m12-13h0m-43 53h0m1 1h0m-2 8h0m0 1h0m-6 33h0m38-79h0m-73-20h0m-35 5h0m107 13h0m0 1h0m-1 2h0m-111-18h0m1 1h0m114 8h0m-7-5h0m1 1h0m0-1h0m7-7h0m0 2h0m5 25h0m-4-25h0m-9 25h0m1 0h0m5-19h0m1-1h0m-8 4h0m-1 0h0m-1 86h0m17-98h0m0-1h0m1 0h0m-1 10h0m-30 103h0m10-11h0m9-15h0m-66-87h0m50 111h0m0 1h0m20-102h0m-1 2h0m4-10h0m1-2h0m-11 93h0m-102-91h0m0 0h0m104 18h0m0 0h0m-68-18h0m0-1h0m0 0h0m1 1h0m77 66h0m-1-38h0m-1-1h0m1 1h0m-44 69h0m-72-97h0m0 1h0m110 26h0m-3-11h0m5 10h0m-64-24h0m-1 1h0m-6 4h0m-2-1h0m71 6h0m-1 1h0m0 0h0m6-11h0m1 1h0m-7 4h0m0-1h0m-30 53h0m-1 1h0m-77-59h0m0 0h0m107 15h0m0-1h0m-1-7h0m-103-6h0m113-4h0m-82 7h0m41 111h0m29-102h0m-31 59h0m44-37h0m0 0h0m-18-6h0m0 1h0m19 12h0m0-1h0m-2-39h0m0 0h0m1 1h0m-2-4h0m1 36h0m0-2h0m-82-31h0m0 1h0m1-2h0m73 79h0m-107-78h0m-1-1h0m116 28h0m0 1h0m1 0h0m-1 23h0m-7-42h0m-1-4h0m-37 87h0m1 15h0m1 0h0m18-72h0m28 9h0m-3 7h0m-10-42h0m1 0h0m7 17h0m1 0h0m-1 0h0m-10-17h0m0-1h0m0 0h0m-23 43h0m-1 0h0m36-15h0m1-1h0m-1-38h0m-1 1h0m1 1h0m0-1h0m1-1h0m-22 33h0m2-1h0m16 43h0m-36 40h0m0-1h0m30-104h0m0 0h0m0-2h0m-29 107h0m-8-36h0m0 1h0m-1-1h0m-25-76h0m1-1h0m-1 2h0m63 7h0m-22 102h0m-1 0h0m19-83h0m-1-1h0m1 1h0m14 15h0m-1 18h0m-6-35h0m0 0h0m0 0h0m-67-23h0m-1-1h0m42 42h0m0 1h0m30-17h0m-19 4h0m0 1h0m-2 2h0m13 47h0m0-2h0m2-53h0m-13 74h0m-1 0h0m22-44h0m-1-26h0m-10-5h0m-1 2h0m-63-29h0m30 81h0m-32-80h0m-2 0h0m0 2h0m37 109h0m0 0h0m-31-110h0m-1 0h0m-3 2h0m-1 0h0m-1 0h0m34 80h0m0-1h0m15-39h0m-16 37h0m1 6h0m0 2h0m-1-2h0m43-10h0m-1-2h0m1 0h0m-40 22h0m3-31h0m-3 35h0m0-1h0m41-64h0m-14-7h0m-1 1h0m-26 75h0m-1 1h0m17-65h0m-1 0h0m0 1h0m1-1h0m-16 60h0m0 0h0m13 9h0m-5-56h0m-8 51h0m-32-103h0m-1 0h0m-1 0h0m0 0h0m53 101h0m13-17h0m-5 9h0m12-62h0m0-2h0m1 1h0m4 15h0m0 0h0m-28 62h0m-6-62h0m30-13h0m-16 65h0m-22 10h0m34-79h0m-1-1h0m-6 1h0m-1 1h0m-4 4h0m-20 78h0m36-44h0m-20-31h0m23 4h0m-1-1h0m-7 37h0m-5 12h0m8-58h0m-2 1h0m-14 3h0m11-6h0m-25 82h0m24-28h0m-19-38h0m31 1h0m-1-1h0m-32 65h0m1 0h0m-13-19h0m2 17h0m20-8h0m23-57h0m-1 0h0m0-1h0m-2 13h0m-38 11h0m37 6h0m1-8h0m1 1h0m-41 33h0m1-1h0m38-60h0m-14-3h0m15 22h0m0 0h0m-30-7h0m1 1h0m18 32h0m-26 28h0m-5-23h0m2 15h0m37-68h0m-5-4h0m9 31h0m-23 39h0m-19-16h0m32-53h0m-10 7h0m-13 72h0m33-70h0m-28 6h0m12-12h0m-26 47h0m0 0h0m15 23h0m18-28h0m5-39h0m-8 49h0m11-43h0m-12-11h0m5 2h0m-2 0h0m-1-1h0m7 40h0" stroke="#1f2f78" stroke-width="1.2" stroke-linecap="square" fill="none"/>
<path d="M593 1706h0m-3 3h0m34 88h0m0 0h0m1-2h0m5-22h0m-4 36h0m-34-101h0m0 2h0m62 90h0m12-60h0m-38 37h0m0 0h0m14 37h0m-3-59h0m11 49h0m-21 13h0m34-81h0m-7 2h0m-29 63h0m39-58h0m-5-7h0m-28 34h0m25-33h0m11 23h0m-11 31h0m-26 29h0m0-2h0m37-66h0m1 2h0m-34 6h0m-10 39h0m0-16h0m0 0h0m43-26h0m-1 6h0m-38 12h0m1 0h0m11-23h0m0 0h0m25 28h0m-38 26h0m34-67h0m-1 1h0m0-1h0m-36 57h0m3 13h0m39-45h0m-12 31h0m0-56h0m12 32h0m-39 33h0m2 12h0m-2-4h0m-1 0h0m0-2h0m37-66h0m-1-2h0m1 1h0m-38 42h0m0-1h0m34-45h0m-26 28h0m12 41h0m-1 0h0m-19-15h0m23-50h0m0 1h0m18 10h0m-10-14h0m-10 5h0m1-1h0m-22 46h0m42-41h0m-43 37h0m1 1h0m14-32h0m-8 18h0m22-33h0m-28 49h0m15 25h0m-1-1h0m-12-12h0m0-1h0m31-16h0m0 2h0m6-39h0m-21 63h0m22-31h0m0-1h0m-1 1h0m-34 37h0m1 1h0m-1-1h0m0 1h0m32-73h0m-1 1h0m-6 49h0m-23 22h0m0 1h0m0-49h0m34-15h0m-38 61h0m12-62h0m0 2h0m0-1h0m26-3h0m0 1h0m0 0h0m0 1h0m-13-12h0m3 47h0m1-1h0m-1 1h0m-27-11h0m0 0h0m36-17h0m-39 21h0m1 1h0m24-38h0m0 1h0m-14 72h0m-11-17h0m1-1h0m0 1h0m-1 0h0m31-59h0m-1 1h0m8 20h0m0-5h0m-22-6h0m10 48h0m1-1h0m0-1h0m11-18h0m0-2h0m0 0h0m-19-27h0m17 32h0m1 0h0m0 0h0m-1-1h0m0 2h0m1 0h0m-34 32h0m8-55h0m12-14h0m0 1h0m-2 0h0m0 0h0m18 2h0m-2 1h0m-34 56h0m25-13h0m11-28h0m0-2h0m-39 34h0m1 0h0m-1 1h0m2 13h0m30-67h0m0 1h0m0-2h0m-6 1h0m-18 20h0m1 1h0m-7 47h0m0 0h0m0-1h0m1 1h0m-1 1h0m32-68h0m4 10h0m-31 18h0m32 3h0m-1 0h0m-25 38h0m-1 0h0m1-1h0m-8 4h0m-1-1h0m0-1h0m0 1h0m4-1h0m1 0h0m19-72h0m2 2h0m1-1h0m0 1h0m-13 62h0m1 1h0m-15-33h0m1 2h0m-2 28h0m-3-21h0m1 0h0m0 0h0m37-31h0m0-2h0m0 1h0m-13 47h0m-1 1h0m0 1h0m1 0h0m-19 15h0m0 0h0m0 1h0m-1 0h0m24-27h0m0 0h0m10-16h0m0 0h0m-15-28h0m1-1h0m8 1h0m-1 1h0m-6 50h0m-25-17h0m12-24h0m22-9h0m-1 1h0m-34 47h0m1-1h0m35-44h0m1 1h0m-22 60h0m-2 1h0m2-1h0m-2 1h0m24-43h0m0-2h0m1 1h0m0-1h0m-21 43h0m15-27h0m-23-18h0m-1 1h0m31 6h0m-1 1h0m-11-26h0m-1-1h0m-1 0h0m2 1h0m-1-1h0m-3 56h0m-22-17h0m38-15h0m-1 0h0m0 1h0m-15-22h0m14 31h0m-27 35h0m26-56h0m0 1h0m-36 31h0m0 0h0m20-40h0m0 0h0m0-1h0m1 0h0m15 6h0m1 0h0m0 0h0m-19-4h0m1 0h0m-2 1h0m-12 21h0m1 0h0m26-26h0m0 1h0m2 33h0m-34 6h0m36-25h0m-1-2h0m2 0h0m-1-9h0m-25 11h0m-1-1h0m0 0h0m-7 37h0m-1 0h0m0 0h0m34-45h0m0 0h0m-2-5h0m-7 45h0m0 0h0m-1 1h0m-18-28h0m0 1h0m0 46h0m0-1h0m1 1h0m-2-1h0m0 2h0m24-66h0m-1-2h0m1 1h0m-26 62h0m-1-1h0m21-60h0m3-2h0m7 17h0m0-1h0m-31 15h0m0 0h0m22-30h0m0 0h0m6 2h0m1 0h0m-9 47h0m0 2h0m-21-1h0m34-20h0m0-1h0m-19 28h0m-10-35h0m26-16h0m0-1h0m-4-4h0m0 1h0m-3 43h0m-1-2h0m-3-41h0m11 8h0m0 1h0m-27 54h0m-1-2h0m26-58h0m5 13h0m0 0h0m-8-17h0m-25 54h0m15-51h0m-5 58h0m0-1h0m0 0h0m1 0h0m16-57h0m0 1h0m-14 2h0m-9 17h0m14 28h0m12-38h0m0-1h0m-16-6h0m-11 54h0m-5-25h0m35-11h0m-1 1h0m-31 27h0m23-50h0m-23 30h0m0-1h0m16 22h0m16-31h0m-30 37h0m2-34h0m0 0h0m9 29h0m0 1h0m0 1h0m1-2h0m0 1h0m-7 6h0m0-48h0m21-1h0m-22 50h0m14-19h0m-10-32h0m-1 0h0m17-3h0m4 18h0m-1-7h0" stroke="#2a4c98" stroke-width="1.2" stroke-linecap="square" fill="none"/>
<path d="M663 1747h0m-35 47h0m14 18h0m17-67h0m-26 68h0m22-68h0m12 23h0m-16-22h0m12 11h0m-25 56h0m25-53h0m1 0h0m0-6h0m0 0h0m-18-3h0m17 30h0m-34 7h0m35-36h0m0-1h0m-31 59h0m32-56h0m-3-5h0m1 1h0m-6 37h0m-2 6h0m-19-27h0m1 47h0m-5-4h0m0-1h0m21-61h0m-1-1h0m-20 31h0m28-28h0m1 0h0m-8 47h0m-1 0h0m10-45h0m-31 31h0m9 29h0m0-52h0m-7 46h0m29-53h0m-9 38h0m-2-41h0m12 8h0m-29 54h0m-1 0h0m31-46h0m-22-9h0m20 3h0m-31 35h0m33-19h0m-6 8h0m-13 24h0m-11-31h0m14-24h0m-6 57h0m12-60h0m1 0h0m-1 0h0m6 3h0m1 2h0m0-2h0m0 0h0m-9-3h0m5 36h0m-22 26h0m4-49h0m21 19h0m1-1h0m-1 0h0m0 0h0m0 1h0m-5 8h0m-2-1h0m1 1h0m-1 1h0m-8-34h0m-9 15h0m1 0h0m-1 1h0m14 26h0m-4-44h0m7 40h0m-18 16h0m-4-27h0m0 1h0m-1-1h0m34-11h0m-4-17h0m-30 38h0m18 7h0m1 1h0m15-33h0m-1-6h0m-5-8h0m1-2h0m1 5h0m0 0h0m-5 30h0m-22 12h0m17-48h0m-20 40h0m-1 1h0m25-41h0m-1 0h0m8 8h0m-25 14h0m10 31h0m17-27h0m-1 0h0m-22-16h0m1 1h0m-1 0h0m-10 25h0m-1 3h0m24-39h0m4 2h0m-1-1h0m-24 45h0m3-19h0m-1-2h0m1 0h0m3 33h0m0 1h0m11-58h0m4 39h0m-9 14h0m0 0h0m1-1h0m15-26h0m0 0h0m-3 3h0m0 1h0m-1 2h0m-14 22h0m0 1h0m0 0h0m1-49h0m15-1h0m-11-3h0m-1 0h0m0 1h0m-2 1h0m16 7h0m1 0h0m1 4h0m0-1h0m0 1h0m0-1h0m-10 22h0m1 0h0m4-34h0m2 4h0m0 2h0m-2-2h0m-23 44h0m1 1h0m-2-1h0m1 1h0m1 1h0m2-29h0m-1 0h0m13 24h0m-11-29h0m-2 37h0m15-53h0m11 20h0m-9-22h0m9 17h0m0 0h0m-3-8h0m0-1h0m-1 1h0m4 9h0m1 1h0m-28 30h0m11 0h0m-5 5h0m-1 1h0m0-44h0m1 1h0m-2 6h0m-7 12h0m0 1h0m25-26h0m0 1h0m4 18h0m-1 1h0m-21 30h0m-6-14h0m22-38h0m-11 49h0m-10-5h0m14-44h0m10 23h0m1 1h0m-23 26h0m-3-20h0m6-12h0m-7 17h0m22-8h0m-8-24h0m15 17h0m-11-20h0m5 6h0m-1-3h0m-1 0h0m-17 45h0m2 1h0m18-26h0" stroke="#3a86c0" stroke-width="1.2" stroke-linecap="square" fill="none"/>
<path d="M652 1794h0m3-42h0m-17 14h0m1-5h0m2-1h0m12-10h0m6 5h0m-23 53h0m20-55h0m5 9h0m0-2h0m-10 37h0m10-18h0m-1 0h0m-4 4h0m-23-3h0m-1 0h0m1 1h0m0 0h0m5-15h0m-1 1h0m1 0h0m24 8h0m0 0h0m0 0h0m-19-17h0m11 27h0m-2 4h0m0-1h0m0 1h0m5-34h0m-25 41h0m0-2h0m2 8h0m2-27h0m12 25h0m1-1h0m-1 0h0m-12 9h0m0-1h0m1-1h0m13-52h0m-1-1h0m4 1h0m-1-1h0m9 12h0m-1 1h0m3 4h0m-1 1h0m1 0h0m0 0h0m-28 30h0m-1-1h0m0 1h0m13 0h0m-6 6h0m-3-36h0m-6 12h0m25-25h0m-5 29h0m-1 0h0m-12 19h0m0 0h0m-1 1h0m0 0h0m-1-1h0m1 1h0m-6-13h0m1-2h0m21-37h0m1-1h0m-10 48h0m-1 1h0m0-1h0m1 2h0m0 0h0m6-12h0m0 2h0m-8 10h0m5-48h0m10 23h0m-22 26h0m1 1h0m19-47h0m1 22h0m0 0h0m0 0h0m4-14h0m0 0h0m-28 17h0m6-11h0m-7 19h0m0 0h0m0 0h0m22-9h0m0 0h0m-17-6h0m-1 1h0m14 13h0m-2 6h0m-3-41h0m2 1h0m-15 30h0m0 0h0m1 0h0m27-12h0m-9-19h0m-1 0h0m1-1h0m7 11h0m1-1h0m-2-4h0m-1 1h0m-11-4h0m10-2h0m-15 8h0m13 21h0m0 0h0m-16 18h0m14-14h0m10-20h0m-21 36h0m-1 0h0m5-4h0m-5-26h0m3 27h0m7-6h0m-8-28h0m0-1h0m9 19h0m2-29h0m0-1h0m5 23h0m-16-11h0m-4 11h0m0 1h0m2 23h0m-1-1h0m1 1h0m-1 0h0m1-1h0m17-38h0m1 2h0m0-1h0m0 0h0m-2 15h0m0 1h0m0 0h0m0 0h0m-18 19h0m-1-1h0m14-42h0m4 3h0m1 1h0m-6 32h0m-8 10h0m2-40h0m-3 8h0m-6 23h0m0-1h0m13 4h0m-1 0h0m12-22h0m-12-16h0m1 0h0m-1-1h0m3 33h0m0 0h0m-7 9h0m1 1h0m10-43h0m-9 2h0m0 1h0m0 38h0m1-1h0m0 1h0m0-1h0m-2 1h0m8-14h0m-2-1h0m-15 0h0m1 1h0m0 0h0m2 11h0m17-33h0m-15 38h0m-5-11h0m0 0h0m25-19h0m-1 3h0m-24 14h0m1-1h0m21-9h0m-19 3h0m-1 0h0m-1 8h0m12 7h0m-4-30h0m-7 28h0m16-34h0m3 7h0" stroke="#3cb4b0" stroke-width="1.2" stroke-linecap="square" fill="none"/>
<path d="M638 1771h0m-3 9h0m4 26h0m-7-14h0m22-37h0m-20 43h0m8 8h0m0-1h0m16-26h0m-22 26h0m21-47h0m0 22h0m4-14h0m0 1h0m-29 17h0m22-1h0m-5 15h0m-1-1h0m0 0h0m5-42h0m-19 41h0m13-40h0m14 18h0m-11-20h0m9 11h0m-15-6h0m8 26h0m-15 17h0m22-33h0m2-1h0m-26 13h0m4 24h0m8-5h0m9-37h0m4 7h0m-21 4h0m3 28h0m17-24h0m-4-20h0m-1 0h0m-13 9h0m0-1h0m0 2h0m17-2h0m-8 20h0m3-29h0m-5 0h0m-1 0h0m-7 11h0m-4 11h0m0 0h0m1 1h0m2 23h0m16-38h0m2 0h0m0-1h0m-3 17h0m-1 0h0m-18 18h0m2 1h0m-1-1h0m1-1h0m13-41h0m1 0h0m4 4h0m-7 33h0m1-2h0m-10 11h0m1-1h0m3-40h0m-2 9h0m-2 1h0m1 0h0m-6 21h0m1-1h0m0 2h0m17-11h0m0 1h0m-6 13h0m1 0h0m11-29h0m0 1h0m1 6h0m0 0h0m-11 16h0m0-1h0m-6 11h0m3-41h0m-1 1h0m-9 23h0m0 1h0m2 11h0m0 0h0m4-23h0m-2 28h0m0 0h0m0 1h0m16-35h0m-7 21h0m10-17h0m1 2h0m0 0h0m-1-1h0m0 1h0m-23 13h0m21-9h0m1 0h0m-21 5h0m1-2h0m0 2h0m0-2h0m2 20h0m1 1h0m1 0h0m5-6h0m1 0h0m4-37h0m-1 1h0m1 1h0m-3-1h0m-12 35h0m18-16h0m-15 20h0m-1 1h0m14-39h0m-11 15h0m-1 1h0m13 4h0m0 2h0m-1-2h0m4-11h0m-17 11h0m7 12h0m0 2h0m-4-26h0m1-1h0m-2 31h0m-1 1h0m-4-7h0m9-29h0m-1-1h0m-2 10h0m5 19h0m0 0h0m10-20h0m-16 6h0m-1-1h0m0 2h0m0 0h0m17-6h0m0 2h0m-14 22h0m0 0h0m-6-10h0m5-14h0m1 2h0m-1-1h0m-6 17h0m5 8h0m0-2h0m-1 2h0m7-10h0m-1 0h0m1 2h0m-9-8h0m10-21h0m-10 34h0m15-31h0m-17 23h0m1 1h0m16-8h0m1-12h0m-9-4h0m-1 2h0m0 26h0m2-5h0m3-4h0m-7 12h0m1 0h0m-2-19h0m0 4h0m-1-2h0m11-15h0m-12 32h0m6-32h0m2 0h0m6 5h0m2 3h0m0-1h0m-1 1h0m1-1h0m-1 1h0m-16 13h0m1-1h0m5-16h0m1 23h0m1-6h0m-4 9h0m2-5h0m2-5h0m-3 4h0m1 0h0m6-20h0m-8 12h0m5-13h0m5 7h0m-6-2h0m2-2h0m-2 4h0m-3 13h0" stroke="#7cc850" stroke-width="1.2" stroke-linecap="square" fill="none"/>
<path d="M649 1793h0m-14-1h0m14-1h0m-5 8h0m-3-27h0m-8 20h0m1-1h0m22-23h0m-9 21h0m-12-2h0m21-10h0m-22 13h0m12 4h0m-3-29h0m0-1h0m7-5h0m-2 0h0m6 21h0m0-1h0m0-14h0m-1-4h0m-5 25h0m5-6h0m-14-1h0m7 14h0m1-1h0m-5-25h0m0 1h0m8 15h0m1-1h0m-12 16h0m17-23h0m-14-5h0m-1-1h0m-3 27h0m1 1h0m-1 1h0m9-37h0m-11 31h0m1 1h0m8-30h0m0 0h0m-2 7h0m0 1h0m7-10h0m0 1h0m7 11h0m-12 21h0m9-16h0m-12 18h0m-6-11h0m6-13h0m-6 18h0m1 0h0m0 1h0m0-1h0m-1 0h0m1 0h0m3 7h0m8-36h0m5 4h0m0-1h0m-1 1h0m1 14h0m1-10h0m-4 12h0m0 0h0m-1 2h0m0-1h0m-7 12h0m0 0h0m0-20h0m0 0h0m13 2h0m-4-12h0m-11 30h0m7-31h0m-1 0h0m7 4h0m-9 1h0m1-1h0m-1 0h0m1 23h0m10-17h0m-1 0h0m-1 1h0m-9-5h0m3 16h0m0-1h0m-2-13h0m0 0h0m-2 23h0m-4-3h0m14-23h0m0 1h0m-10 8h0m-4 7h0m-1 1h0m3-5h0m8-16h0m1 0h0m0 1h0m0 0h0m1-1h0m-7 8h0m7 8h0m-3 1h0m4-7h0m1-3h0m-2-1h0m-7 16h0m0 1h0m-4 5h0m2-13h0m6-15h0m0 1h0m4 8h0m-5-5h0m-3 16h0m-5 5h0m1 0h0m9-23h0m-9 20h0m7-5h0m3-11h0m-9 17h0m6-14h0m1 6h0m0 0h0m-6 5h0m2-3h0m6-8h0m-6 6h0m4-6h0m-1 0h0m1-1h0m-1 3h0m2 3h0m-1 0h0m0-2h0m-1 1h0m-2 0h0" stroke="#c8d838" stroke-width="1.2" stroke-linecap="square" fill="none"/>
<path d="M639 1778h0m8 15h0m4-10h0m-9-13h0m3-8h0m-4 15h0m15-3h0m0-2h0m0 1h0m-13 23h0m-7-11h0m7-11h0m0-2h0m-7 18h0m5 6h0m-2 1h0m-1-17h0m15-15h0m0 14h0m-18 9h0m15-7h0m0 0h0m1-1h0m-1 2h0m-2 1h0m6-9h0m1 0h0m-6-11h0m1 0h0m-9 32h0m12-28h0m2 3h0m-16 13h0m6 7h0m9-17h0m-10-3h0m9 7h0m-1 0h0m-9 17h0m-1 0h0m-4-2h0m14-23h0m-14 15h0m1 2h0m-2 0h0m4-4h0m9-18h0m-5 24h0m-1-15h0m-5 15h0m-1 1h0m10-8h0m-3 2h0m-2 8h0m8-16h0m2 1h0m-9 11h0m7-21h0m-11 17h0m1-1h0m8-17h0m-3 5h0m-3 19h0m6-21h0m-8 17h0m-1 3h0m1 0h0m5-15h0m3 5h0m-8 4h0m3-6h0m-1 11h0m0-1h0m-1 2h0m6-17h0m-4 11h0m1-1h0m-1 1h0m6-6h0m1-2h0m-4 2h0m0 2h0m1-4h0m0 0h0m-1 2h0" stroke="#f0c030" stroke-width="1.2" stroke-linecap="square" fill="none"/>
<path d="M639 1780h0m6 14h0m-3 0h0m11-19h0m-12 19h0m-1 1h0m-1-3h0m0 1h0m13-27h0m-14 17h0m4 10h0m5-31h0m-6 31h0m12-25h0m-2 1h0m-9 7h0m1 2h0m0-1h0m-1-1h0m1 1h0m-3 4h0m1 0h0m10-16h0m-7 24h0m1-16h0m-7 16h0m-1 0h0m1 0h0m1-2h0m7-21h0m0 16h0m0 1h0m6-8h0m-1-4h0m-7 16h0m1 0h0m5-21h0m-9 17h0m7-19h0m5 9h0m-6-5h0m-1-1h0m0 1h0m-2 17h0m0-1h0m0 1h0m6-17h0m1 2h0m-4 0h0m-4 18h0m0-8h0m-1 1h0m9-4h0m-11 11h0m7-21h0m1 0h0m0 0h0m-8 17h0m0 1h0m1 0h0m-1-1h0m8-15h0m-7 17h0m0 1h0m5-13h0m-5 10h0m2-8h0m1 1h0m5-5h0m-1-2h0m0 1h0m0 1h0m-3 10h0m-1-1h0m0 0h0m6-8h0m0 0h0m1-1h0m-1 2h0m-6 5h0m5-6h0m-2 2h0m2 1h0m-1 1h0m1-1h0m-1 0h0m-2 1h0m1 1h0m0-1h0" stroke="#f09028" stroke-width="1.2" stroke-linecap="square" fill="none"/>
<rect x="630" y="1800" width="46" height="45" fill="#fff" fill-opacity="0.72"/>
<rect x="485.4" y="1627.9" width="217.8" height="218.3" fill="none" stroke="#222" stroke-width="1.3"/>
<line x1="615.2" y1="1627.9" x2="615.2" y2="1846.2" stroke="#222" stroke-width="1.3"/>
<line x1="485.4" y1="1730.9" x2="703.2" y2="1730.9" stroke="#222" stroke-width="1.3"/>
<path d="M479.9 1647.1H485.4M479.9 1697.6H485.4M479.9 1750.6H485.4M482.4 1734.6H485.4M482.4 1725.3H485.4M482.4 1718.7H485.4M482.4 1713.6H485.4M482.4 1709.4H485.4M482.4 1705.8H485.4M482.4 1702.7H485.4M482.4 1700H485.4M482.4 1682.4H485.4M482.4 1673.5H485.4M482.4 1667.2H485.4M482.4 1662.3H485.4M482.4 1658.3H485.4M482.4 1654.9H485.4M482.4 1652H485.4M482.4 1649.4H485.4M482.4 1631.9H485.4M482.4 1623H485.4M482.4 1765H485.4M482.4 1773.4H485.4M482.4 1779.3H485.4M482.4 1783.9H485.4M482.4 1787.7H485.4M482.4 1790.9H485.4M482.4 1793.7H485.4M482.4 1796.1H485.4M479.9 1815.9H485.4M481.4 1809.9H485.4M481.4 1812.9H485.4M481.4 1818.9H485.4M481.4 1821.9H485.4M481.4 1824.9H485.4M577 1846.2V1851.7M631.2 1846.2V1851.7M681.7 1846.2V1851.7M593.3 1846.2V1849.2M602.9 1846.2V1849.2M609.6 1846.2V1849.2M614.9 1846.2V1849.2M619.2 1846.2V1849.2M622.8 1846.2V1849.2M625.9 1846.2V1849.2M628.7 1846.2V1849.2M646.4 1846.2V1849.2M655.3 1846.2V1849.2M661.6 1846.2V1849.2M666.5 1846.2V1849.2M670.5 1846.2V1849.2M673.9 1846.2V1849.2M676.8 1846.2V1849.2M679.4 1846.2V1849.2M563.1 1846.2V1849.2M555 1846.2V1849.2M549.3 1846.2V1849.2M544.8 1846.2V1849.2M541.2 1846.2V1849.2M538.1 1846.2V1849.2M535.4 1846.2V1849.2M533 1846.2V1849.2M503.4 1846.2V1849.7M508.4 1846.2V1849.7M512.4 1846.2V1849.7M515.4 1846.2V1849.7M518.4 1846.2V1851.7M521.4 1846.2V1849.7M524.4 1846.2V1849.7M528.4 1846.2V1849.7M533.4 1846.2V1849.7" stroke="#222" stroke-width="1.1" fill="none"/>
<path d="M505 1846.2v3.7M506.3 1846.2v4.6M508.9 1846.2v5.6M510.2 1846.2v5.5M511.5 1846.2v3.6M515.4 1846.2v5.4M516.7 1846.2v4.6M518 1846.2v3.8M519.3 1846.2v4.1M520.6 1846.2v5.4M521.9 1846.2v2.6M524.5 1846.2v2.2M525.8 1846.2v3.8M527.1 1846.2v4.3M528.4 1846.2v5.3M529.7 1846.2v2.3" stroke="#1a1a1a" stroke-width="1.2" fill="none"/>
<text x="475.4" y="1657.1" font-size="14" text-anchor="end" letter-spacing="1" fill="#2a2a2a">10<tspan dy="-9" font-size="13">5</tspan></text>
<text x="475.4" y="1707.6" font-size="14" text-anchor="end" letter-spacing="1" fill="#2a2a2a">10<tspan dy="-9" font-size="13">4</tspan></text>
<text x="475.4" y="1760.6" font-size="14" text-anchor="end" letter-spacing="1" fill="#2a2a2a">10<tspan dy="-9" font-size="13">3</tspan></text>
<text x="463.9" y="1820.9" font-size="14" text-anchor="end" fill="#2a2a2a">0</text>
<text x="518.4" y="1875.2" font-size="14" text-anchor="middle" fill="#2a2a2a">0</text>
<text x="571" y="1875.2" font-size="14" letter-spacing="1" fill="#2a2a2a">10<tspan dy="-10" font-size="13">3</tspan></text>
<text x="625.2" y="1875.2" font-size="14" letter-spacing="1" fill="#2a2a2a">10<tspan dy="-10" font-size="13">4</tspan></text>
<text x="675.7" y="1875.2" font-size="14" letter-spacing="1" fill="#2a2a2a">10<tspan dy="-10" font-size="13">5</tspan></text>
<text x="490.4" y="1656.9" font-size="18.5" letter-spacing="1.6" fill="#333">10.6</text>
<text x="674.2" y="1656.9" text-anchor="end" font-size="18.5" letter-spacing="1.6" fill="#333">5.50</text>
<text x="490.4" y="1829.2" font-size="18.5" letter-spacing="1.6" fill="#333">4.97</text>
<text x="674.2" y="1829.2" text-anchor="end" font-size="18.5" letter-spacing="1.6" fill="#333">78.9</text>
<text x="536" y="1605.3" font-size="26.5">IFN<tspan font-size="24">γ</tspan><tspan dy="-10" font-size="15">ΔKRKR</tspan></text>
<path d="M909 1683h0m2 0h0m2 0h0m2 0h0m-8 2h0m2 0h0m2 0h0m2 0h0m2 0h0m2 0h0m-52 2h0m2 0h0m2 0h0m2 0h0m34 0h0m2 0h0m2 0h0m2 0h0m2 0h0m2 0h0m2 0h0m2 0h0m2 0h0m2 0h0m2 0h0m2 0h0m2 0h0m2 0h0m-84 2h0m2 0h0m2 0h0m2 0h0m8 0h0m2 0h0m2 0h0m2 0h0m2 0h0m2 0h0m2 0h0m2 0h0m2 0h0m2 0h0m2 0h0m2 0h0m2 0h0m2 0h0m2 0h0m2 0h0m10 0h0m2 0h0m2 0h0m2 0h0m2 0h0m6 0h0m2 0h0m2 0h0m2 0h0m2 0h0m2 0h0m2 0h0m2 0h0m2 0h0m-114 2h0m2 0h0m2 0h0m2 0h0m2 0h0m2 0h0m2 0h0m2 0h0m10 0h0m2 0h0m2 0h0m2 0h0m2 0h0m2 0h0m2 0h0m2 0h0m2 0h0m2 0h0m2 0h0m2 0h0m2 0h0m2 0h0m2 0h0m2 0h0m2 0h0m2 0h0m2 0h0m2 0h0m2 0h0m2 0h0m2 0h0m2 0h0m2 0h0m2 0h0m2 0h0m2 0h0m2 0h0m2 0h0m2 0h0m2 0h0m2 0h0m2 0h0m20 0h0m2 0h0m2 0h0m2 0h0m-124 2h0m2 0h0m2 0h0m2 0h0m2 0h0m2 0h0m2 0h0m2 0h0m2 0h0m2 0h0m2 0h0m2 0h0m2 0h0m2 0h0m2 0h0m2 0h0m2 0h0m2 0h0m2 0h0m2 0h0m2 0h0m2 0h0m2 0h0m2 0h0m2 0h0m2 0h0m2 0h0m2 0h0m2 0h0m2 0h0m4 0h0m2 0h0m2 0h0m2 0h0m2 0h0m2 0h0m2 0h0m2 0h0m2 0h0m2 0h0m2 0h0m2 0h0m2 0h0m2 0h0m2 0h0m2 0h0m2 0h0m2 0h0m24 0h0m2 0h0m2 0h0m-128 2h0m2 0h0m2 0h0m2 0h0m2 0h0m2 0h0m2 0h0m2 0h0m2 0h0m2 0h0m2 0h0m2 0h0m2 0h0m2 0h0m2 0h0m2 0h0m2 0h0m2 0h0m2 0h0m2 0h0m2 0h0m2 0h0m2 0h0m2 0h0m2 0h0m2 0h0m2 0h0m2 0h0m2 0h0m2 0h0m2 0h0m10 0h0m2 0h0m2 0h0m2 0h0m2 0h0m2 0h0m2 0h0m2 0h0m2 0h0m2 0h0m2 0h0m2 0h0m2 0h0m2 0h0m2 0h0m26 0h0m2 0h0m2 0h0m-130 2h0m2 0h0m2 0h0m2 0h0m2 0h0m2 0h0m2 0h0m2 0h0m2 0h0m2 0h0m2 0h0m2 0h0m2 0h0m2 0h0m2 0h0m2 0h0m2 0h0m2 0h0m2 0h0m2 0h0m14 0h0m2 0h0m2 0h0m2 0h0m2 0h0m2 0h0m2 0h0m12 0h0m2 0h0m2 0h0m2 0h0m2 0h0m2 0h0m2 0h0m2 0h0m2 0h0m2 0h0m2 0h0m2 0h0m2 0h0m28 0h0m2 0h0m2 0h0m-134 2h0m2 0h0m2 0h0m2 0h0m2 0h0m2 0h0m2 0h0m2 0h0m2 0h0m2 0h0m2 0h0m2 0h0m2 0h0m2 0h0m2 0h0m2 0h0m2 0h0m2 0h0m2 0h0m2 0h0m22 0h0m2 0h0m2 0h0m2 0h0m2 0h0m10 0h0m2 0h0m2 0h0m2 0h0m2 0h0m2 0h0m2 0h0m2 0h0m2 0h0m2 0h0m2 0h0m2 0h0m30 0h0m2 0h0m2 0h0m-134 2h0m2 0h0m2 0h0m2 0h0m2 0h0m2 0h0m2 0h0m2 0h0m2 0h0m2 0h0m2 0h0m2 0h0m2 0h0m2 0h0m2 0h0m2 0h0m2 0h0m2 0h0m2 0h0m24 0h0m2 0h0m2 0h0m2 0h0m2 0h0m10 0h0m2 0h0m2 0h0m2 0h0m2 0h0m2 0h0m2 0h0m2 0h0m2 0h0m2 0h0m2 0h0m2 0h0m28 0h0m2 0h0m2 0h0m2 0h0m-132 2h0m2 0h0m2 0h0m2 0h0m2 0h0m2 0h0m2 0h0m2 0h0m2 0h0m2 0h0m2 0h0m2 0h0m2 0h0m2 0h0m2 0h0m2 0h0m2 0h0m2 0h0m12 0h0m2 0h0m10 0h0m2 0h0m2 0h0m2 0h0m2 0h0m10 0h0m2 0h0m2 0h0m2 0h0m2 0h0m2 0h0m2 0h0m2 0h0m2 0h0m2 0h0m2 0h0m2 0h0m28 0h0m2 0h0m2 0h0m-122 2h0m2 0h0m2 0h0m2 0h0m2 0h0m2 0h0m2 0h0m2 0h0m2 0h0m2 0h0m2 0h0m2 0h0m2 0h0m2 0h0m2 0h0m2 0h0m4 0h0m2 0h0m2 0h0m2 0h0m2 0h0m2 0h0m2 0h0m4 0h0m2 0h0m2 0h0m2 0h0m2 0h0m8 0h0m2 0h0m2 0h0m2 0h0m2 0h0m2 0h0m2 0h0m2 0h0m2 0h0m2 0h0m2 0h0m2 0h0m2 0h0m24 0h0m2 0h0m2 0h0m2 0h0m-116 2h0m2 0h0m2 0h0m2 0h0m2 0h0m2 0h0m2 0h0m2 0h0m2 0h0m2 0h0m2 0h0m2 0h0m2 0h0m2 0h0m2 0h0m2 0h0m2 0h0m2 0h0m2 0h0m2 0h0m2 0h0m2 0h0m2 0h0m2 0h0m2 0h0m2 0h0m2 0h0m2 0h0m2 0h0m4 0h0m2 0h0m2 0h0m2 0h0m2 0h0m2 0h0m2 0h0m2 0h0m2 0h0m2 0h0m2 0h0m2 0h0m2 0h0m2 0h0m2 0h0m18 0h0m2 0h0m2 0h0m2 0h0m-100 2h0m2 0h0m2 0h0m2 0h0m2 0h0m2 0h0m2 0h0m2 0h0m2 0h0m2 0h0m2 0h0m2 0h0m2 0h0m2 0h0m2 0h0m2 0h0m2 0h0m2 0h0m2 0h0m2 0h0m2 0h0m2 0h0m2 0h0m2 0h0m2 0h0m2 0h0m2 0h0m2 0h0m2 0h0m2 0h0m2 0h0m2 0h0m2 0h0m2 0h0m2 0h0m2 0h0m2 0h0m2 0h0m2 0h0m2 0h0m2 0h0m2 0h0m2 0h0m2 0h0m2 0h0m2 0h0m2 0h0m2 0h0m2 0h0m2 0h0m-88 2h0m2 0h0m2 0h0m2 0h0m2 0h0m2 0h0m10 0h0m2 0h0m2 0h0m2 0h0m2 0h0m2 0h0m2 0h0m2 0h0m2 0h0m2 0h0m2 0h0m2 0h0m2 0h0m2 0h0m2 0h0m2 0h0m2 0h0m10 0h0m2 0h0m2 0h0m2 0h0m2 0h0m2 0h0m2 0h0m2 0h0m2 0h0m2 0h0m2 0h0m2 0h0m2 0h0m-58 2h0m2 0h0m2 0h0m2 0h0m40 0h0m2 0h0m2 0h0m2 0h0m2 0h0m2 0h0m2 26h0m2 0h0m2 0h0m2 0h0m2 0h0m2 0h0m2 0h0m-16 2h0m2 0h0m2 0h0m2 0h0m2 0h0m2 0h0m2 0h0m2 0h0m2 0h0m2 0h0m-22 2h0m2 0h0m2 0h0m2 0h0m2 0h0m2 0h0m2 0h0m2 0h0m2 0h0m2 0h0m2 0h0m2 0h0m-22 2h0m2 0h0m2 0h0m2 0h0m10 0h0m2 0h0m2 0h0m2 0h0m2 0h0m-26 2h0m2 0h0m2 0h0m2 0h0m14 0h0m2 0h0m2 0h0m2 0h0m-26 2h0m2 0h0m2 0h0m18 0h0m2 0h0m2 0h0m-28 2h0m2 0h0m2 0h0m2 0h0m18 0h0m2 0h0m2 0h0m-28 2h0m2 0h0m2 0h0m20 0h0m2 0h0m2 0h0m2 0h0m-30 2h0m2 0h0m2 0h0m22 0h0m2 0h0m2 0h0m2 0h0m-34 2h0m2 0h0m2 0h0m26 0h0m2 0h0m2 0h0m-34 2h0m2 0h0m2 0h0m28 0h0m2 0h0m2 0h0m-36 2h0m2 0h0m2 0h0m28 0h0m2 0h0m2 0h0m-36 2h0m2 0h0m32 0h0m2 0h0m2 0h0m-38 2h0m2 0h0m32 0h0m2 0h0m2 0h0m2 0h0m-42 2h0m2 0h0m2 0h0m34 0h0m2 0h0m2 0h0m2 0h0m-44 2h0m2 0h0m38 0h0m2 0h0m2 0h0m-44 2h0m2 0h0m38 0h0m2 0h0m2 0h0m-44 2h0m2 0h0m38 0h0m2 0h0m2 0h0m-46 2h0m2 0h0m40 0h0m2 0h0m2 0h0m-46 2h0m2 0h0m38 0h0m2 0h0m2 0h0m2 0h0m-46 2h0m2 0h0m38 0h0m2 0h0m2 0h0m-44 2h0m2 0h0m38 0h0m2 0h0m2 0h0m-44 2h0m2 0h0m36 0h0m2 0h0m2 0h0m-42 2h0m2 0h0m36 0h0m2 0h0m2 0h0m-42 2h0m2 0h0m36 0h0m2 0h0m2 0h0m-42 2h0m2 0h0m36 0h0m2 0h0m2 0h0m-42 2h0m2 0h0m36 0h0m2 0h0m-40 2h0m2 0h0m2 0h0m34 0h0m2 0h0m-40 2h0m2 0h0m2 0h0m2 0h0m32 0h0m2 0h0m-38 2h0m2 0h0m2 0h0m32 0h0m2 0h0m-36 2h0m2 0h0m2 0h0m30 0h0m2 0h0m-34 2h0m2 0h0m2 0h0m26 0h0m2 0h0m2 0h0m-32 2h0m2 0h0m2 0h0m2 0h0m2 0h0m18 0h0m2 0h0m2 0h0m2 0h0m-30 2h0m2 0h0m2 0h0m2 0h0m2 0h0m2 0h0m8 0h0m2 0h0m2 0h0m2 0h0m2 0h0m2 0h0m-26 2h0m2 0h0m2 0h0m2 0h0m2 0h0m2 0h0m2 0h0m2 0h0m2 0h0m2 0h0m2 0h0m2 0h0m-20 2h0m2 0h0m2 0h0m2 0h0m2 0h0m2 0h0m2 0h0m2 0h0m2 0h0m2 0h0m-14 2h0m2 0h0m2 0h0m2 0h0m2 0h0m2 0h0m-6 2h0m2 0h0m2 0h0" stroke="#e2f3fa" stroke-width="2.2" stroke-linecap="square" fill="none"/>
<path d="M911 1689h0m2 0h0m-4 2h0m2 0h0m2 0h0m2 0h0m2 0h0m2 0h0m2 0h0m2 0h0m2 0h0m-56 2h0m38 0h0m2 0h0m2 0h0m2 0h0m2 0h0m2 0h0m2 0h0m2 0h0m2 0h0m2 0h0m2 0h0m-60 2h0m2 0h0m2 0h0m2 0h0m32 0h0m2 0h0m2 0h0m2 0h0m2 0h0m2 0h0m2 0h0m2 0h0m6 0h0m2 0h0m-84 2h0m2 0h0m2 0h0m2 0h0m2 0h0m2 0h0m16 0h0m2 0h0m2 0h0m2 0h0m2 0h0m28 0h0m2 0h0m2 0h0m2 0h0m2 0h0m2 0h0m2 0h0m8 0h0m2 0h0m2 0h0m-88 2h0m2 0h0m2 0h0m2 0h0m2 0h0m2 0h0m2 0h0m2 0h0m2 0h0m2 0h0m12 0h0m2 0h0m2 0h0m2 0h0m26 0h0m2 0h0m2 0h0m2 0h0m2 0h0m2 0h0m2 0h0m2 0h0m2 0h0m6 0h0m2 0h0m2 0h0m-90 2h0m2 0h0m2 0h0m2 0h0m2 0h0m2 0h0m2 0h0m2 0h0m2 0h0m2 0h0m2 0h0m12 0h0m2 0h0m2 0h0m2 0h0m26 0h0m2 0h0m2 0h0m2 0h0m2 0h0m2 0h0m2 0h0m2 0h0m2 0h0m2 0h0m2 0h0m2 0h0m2 0h0m-88 2h0m2 0h0m2 0h0m2 0h0m2 0h0m6 0h0m2 0h0m2 0h0m2 0h0m12 0h0m2 0h0m2 0h0m2 0h0m26 0h0m2 0h0m2 0h0m2 0h0m2 0h0m2 0h0m2 0h0m2 0h0m2 0h0m2 0h0m2 0h0m2 0h0m2 0h0m-84 2h0m16 0h0m12 0h0m2 0h0m2 0h0m28 0h0m2 0h0m2 0h0m2 0h0m2 0h0m2 0h0m2 0h0m2 0h0m2 0h0m2 0h0m2 0h0m-50 2h0m32 0h0m2 0h0m2 0h0m2 0h0m2 0h0m2 0h0m2 0h0m2 0h0m4 38h0m2 0h0m2 0h0m2 0h0m-8 2h0m2 0h0m2 0h0m2 0h0m2 0h0m2 0h0m-12 2h0m2 0h0m2 0h0m2 0h0m2 0h0m2 0h0m2 0h0m2 0h0m-14 2h0m2 0h0m2 0h0m2 0h0m2 0h0m2 0h0m2 0h0m2 0h0m-16 2h0m2 0h0m2 0h0m2 0h0m8 0h0m2 0h0m-16 2h0m2 0h0m2 0h0m12 0h0m2 0h0m-20 2h0m2 0h0m2 0h0m16 0h0m2 0h0m-22 2h0m2 0h0m2 0h0m18 0h0m2 0h0m-24 2h0m2 0h0m22 0h0m-26 2h0m2 0h0m2 0h0m22 0h0m2 0h0m-28 2h0m2 0h0m26 0h0m-28 2h0m28 0h0m2 0h0m-32 2h0m2 0h0m28 0h0m2 0h0m2 0h0m-34 2h0m2 0h0m30 0h0m2 0h0m-34 2h0m32 0h0m2 0h0m-36 2h0m2 0h0m32 0h0m2 0h0m-36 2h0m32 0h0m2 0h0m-34 2h0m32 0h0m2 0h0m-34 2h0m32 0h0m2 0h0m-34 2h0m2 0h0m30 0h0m-32 2h0m2 0h0m30 0h0m-32 2h0m2 0h0m28 0h0m2 0h0m-32 2h0m2 0h0m26 0h0m2 0h0m2 0h0m-32 2h0m2 0h0m2 0h0m24 0h0m2 0h0m2 0h0m-30 2h0m2 0h0m22 0h0m2 0h0m2 0h0m2 0h0m-28 2h0m2 0h0m2 0h0m16 0h0m2 0h0m2 0h0m2 0h0m2 0h0m-28 2h0m2 0h0m2 0h0m2 0h0m12 0h0m2 0h0m2 0h0m2 0h0m2 0h0m2 0h0m-26 2h0m2 0h0m2 0h0m2 0h0m2 0h0m6 0h0m2 0h0m2 0h0m2 0h0m2 0h0m2 0h0m2 0h0m-24 2h0m2 0h0m2 0h0m2 0h0m2 0h0m2 0h0m2 0h0m2 0h0m2 0h0m2 0h0m2 0h0m2 0h0m-16 2h0m2 0h0m2 0h0m2 0h0m2 0h0m2 0h0m2 0h0m2 0h0m-10 2h0m2 0h0m2 0h0" stroke="#cdeef0" stroke-width="2.2" stroke-linecap="square" fill="none"/>
<path d="M921 1695h0m2 0h0m-4 2h0m2 0h0m2 0h0m-2 2h0m2 0h0m2 54h0m2 0h0m2 0h0m-6 2h0m2 0h0m2 0h0m2 0h0m2 0h0m-10 2h0m2 0h0m2 0h0m2 0h0m2 0h0m2 0h0m2 0h0m-12 2h0m2 0h0m10 0h0m2 0h0m-16 2h0m2 0h0m2 0h0m10 0h0m2 0h0m2 0h0m-18 2h0m2 0h0m14 0h0m2 0h0m-20 2h0m2 0h0m18 0h0m2 0h0m-24 2h0m2 0h0m2 0h0m18 0h0m2 0h0m-24 2h0m2 0h0m20 0h0m2 0h0m-24 2h0m24 0h0m2 0h0m-28 2h0m2 0h0m24 0h0m2 0h0m-28 2h0m26 0h0m2 0h0m-30 2h0m2 0h0m26 0h0m-28 2h0m2 0h0m26 0h0m-28 2h0m2 0h0m26 0h0m-26 2h0m24 0h0m2 0h0m-26 2h0m24 0h0m2 0h0m-26 2h0m2 0h0m20 0h0m2 0h0m-24 2h0m2 0h0m18 0h0m2 0h0m-20 2h0m2 0h0m14 0h0m2 0h0m2 0h0m-20 2h0m2 0h0m2 0h0m2 0h0m8 0h0m2 0h0m2 0h0m-14 2h0m2 0h0m2 0h0m2 0h0m2 0h0m2 0h0m2 0h0m-10 2h0m2 0h0m2 0h0m2 0h0m2 0h0m-4 2h0m2 0h0" stroke="#d2f0bc" stroke-width="2.2" stroke-linecap="square" fill="none"/>
<path d="M925 1759h0m2 0h0m2 0h0m2 0h0m-6 2h0m2 0h0m2 0h0m2 0h0m-8 2h0m2 0h0m2 0h0m2 0h0m2 0h0m2 0h0m-12 2h0m2 0h0m2 0h0m2 0h0m2 0h0m2 0h0m2 0h0m2 0h0m-14 2h0m2 0h0m2 0h0m2 0h0m2 0h0m2 0h0m2 0h0m2 0h0m-16 2h0m2 0h0m10 0h0m2 0h0m2 0h0m-18 2h0m2 0h0m14 0h0m2 0h0m2 0h0m-20 2h0m2 0h0m14 0h0m2 0h0m2 0h0m-22 2h0m2 0h0m16 0h0m2 0h0m2 0h0m-22 2h0m2 0h0m18 0h0m2 0h0m-22 2h0m20 0h0m2 0h0m-22 2h0m20 0h0m2 0h0m-22 2h0m2 0h0m16 0h0m2 0h0m-20 2h0m2 0h0m16 0h0m2 0h0m-18 2h0m14 0h0m2 0h0m-16 2h0m2 0h0m2 0h0m8 0h0m2 0h0m-12 2h0m2 0h0m2 0h0m2 0h0m2 0h0m2 0h0m-6 2h0m2 0h0m2 0h0" stroke="#e6f0a4" stroke-width="2.2" stroke-linecap="square" fill="none"/>
<path d="M923 1769h0m2 0h0m2 0h0m2 0h0m-8 2h0m2 0h0m2 0h0m2 0h0m2 0h0m2 0h0m-10 2h0m8 0h0m2 0h0m-12 2h0m2 0h0m10 0h0m-12 2h0m12 0h0m2 0h0m-16 2h0m2 0h0m12 0h0m2 0h0m-16 2h0m2 0h0m12 0h0m2 0h0m-14 2h0m10 0h0m2 0h0m-12 2h0m2 0h0m6 0h0m2 0h0m2 0h0m-12 2h0m2 0h0m2 0h0m2 0h0m2 0h0m2 0h0m-6 2h0m2 0h0m2 0h0" stroke="#f6e29a" stroke-width="2.2" stroke-linecap="square" fill="none"/>
<path d="M923 1773h0m2 0h0m2 0h0m-4 2h0m2 0h0m2 0h0m2 0h0m-8 2h0m2 0h0m2 0h0m2 0h0m2 0h0m-8 2h0m2 0h0m2 0h0m2 0h0m2 0h0m-8 2h0m2 0h0m2 0h0m2 0h0m2 0h0m-8 2h0m2 0h0m2 0h0m2 0h0m-4 2h0m2 0h0" stroke="#f6c890" stroke-width="2.2" stroke-linecap="square" fill="none"/>
<path d="M816 1828h0m163-1h0m-195-30h0m51 12h0m-52-142h0m15 140h0m8-142h0m-11 76h0m-5 12h0m97 74h0m31-166h0m-83 113h0m-15-108h0m-9 140h0m52 0h0m-15-17h0m-24-10h0m7-37h0m155 57h0m-168-55h0m169-60h0m0 6h0m-171 47h0m169 53h0m-2-43h0m-101 11h0m-44 4h0m17 6h0m-2 13h0m-39-54h0m-7 57h0m-5-17h0m36-10h0m-41-32h0m45 25h0m-68-67h0m70 48h0m132 53h0m-16 47h0m-119-95h0m93 104h0m-82-77h0m-33 32h0m57-52h0m40 93h0m60-150h0m-7 24h0m-6 113h0m-160-144h0m81 94h0m-18-16h0m0 1h0m98 81h0m14-128h0m-123 35h0m-36 22h0m15-37h0m35 65h0m-50-25h0m114 65h0m-75-84h0m118 9h0m-141-27h0m138 46h0m-103 10h0m72 42h0m20 5h0m-141-36h0m13-126h0m136 20h0m4 14h0m-42 122h0m-109-33h0m37-8h0m24-116h0m19-3h0m44 5h0m-57 123h0m84-57h0m1 1h0m-95-69h0m11 65h0m73-32h0m-24-33h0m-92 3h0m114 142h0m12-67h0m0 0h0m-122 5h0m-47 20h0m157 39h0m-162-43h0m178 1h0m-174 4h0m74-102h0m58-5h0m26 135h0m-100-24h0m107-103h0m-144 43h0m95 109h0m-121-56h0m166-33h0m-132-19h0m42 74h0m34 25h0m64-54h0m-111 18h0m-4 0h0m-19-110h0m62-4h0m-12 54h0m-114-14h0m103 36h0m82-51h0m0 112h0m-86-17h0m103-18h0m-2-3h0m-4 29h0m-16-79h0m-4 108h0m16-96h0m-76 74h0m24 24h0m-59-99h0m103-28h0m-75 22h0m80-26h0m0-15h0m1 13h0m-86 49h0m9 11h0m-4-14h0m56 84h0m12-9h0m-36 11h0m38-107h0m-167-42h0m102 68h0m-7-3h0m5 4h0m78-69h0m-76 88h0m43-97h0m23 139h0m-97-80h0m109-41h0m-179 26h0m104-41h0m41 151h0m-73-95h0m1-1h0m24 65h0m-34-45h0m-1 0h0m45-30h0m-1 16h0m-57-57h0m78-7h0m-23 119h0m-39-39h0m-17-32h0m131-31h0m-86 104h0m72-107h0m-133 34h0m97 105h0m-72-102h0m123-39h0m-3 52h0m-176-20h0m-12-28h0m106 106h0m73-87h0m-2 19h0m-74 68h0m69-114h0m20 119h0m-30 21h0m31-57h0m-27 63h0m-53-74h0m78-69h0m-39-8h0m31 55h0m-22-48h0m-44 95h0m-116-75h0m164-18h0m-39 42h0m-7 90h0m-5-45h0m1-50h0m74 44h0m-51 55h0m-122-104h0m156 9h0m-165-15h0m167-13h0m16 101h0m-20 24h0m21-26h0m-19 29h0m-56-148h0m-84 41h0m138 109h0m-49-90h0m-1 79h0m53-104h0m2-8h0m14 57h0m-180-51h0m177 66h0m-68 29h0m0-1h0m-38-124h0m90 145h0m3-140h0m-160 28h0m110 29h0m-123-34h0m0 1h0m170 10h0m10 84h0m-6-99h0m-2-11h0m-21-16h0m35 119h0m-78-74h0m-11 1h0m-3 0h0m-54-44h0m0 0h0m105 143h0m-2 1h0m31-118h0m-173-12h0m169-6h0m-2 37h0m18 70h0m-53 21h0m-2-1h0m-63-94h0m103-36h0m0 1h0m10 46h0m-180-22h0m180 28h0m7 22h0m-68 56h0m64-80h0m-67 22h0m61-24h0m5-2h0m-104-7h0m47 94h0m-112-133h0m169 48h0m-81-12h0m23 96h0m-99-133h0m58 39h0m0-1h0m-82-16h0m163 13h0m-160-19h0m43 17h0m81 10h0m54 69h0m-82-75h0m-96-35h0m17 31h0m-18-14h0m183 79h0m1 1h0m-3-19h0m-14-53h0m10 33h0m-37 76h0m-26-142h0m1 109h0m1 21h0m35-128h0m7 137h0m-119-101h0m-35-13h0m0-1h0m139-24h0m-142 21h0m162 25h0m-19-45h0m-26 71h0m-80-33h0m65 5h0m70 15h0m-17-18h0m10-4h0m-1 0h0m-44 25h0m41-48h0m-41 122h0m-117-130h0m120 48h0m52 11h0m-125-61h0m-20 34h0m-31-23h0m165 35h0m-164-40h0m117 123h0m44-84h0m-40 19h0m-4 60h0m-29-85h0m1 0h0m-81-14h0m113 105h0m-1 1h0m58-36h0m-64 2h0m53 33h0m11-20h0m-176-98h0m0 1h0m120 45h0m42-28h0m10 89h0m-61-31h0m-96-84h0m101 52h0m-4 22h0m2 33h0m-108-90h0m2 5h0m114 26h0m1-5h0m36-15h0m-43 93h0m35-124h0m-39 80h0m52-67h0m-1 0h0m-65 23h0m11-38h0m8 121h0m-4-25h0m-96-91h0m97 88h0m64-5h0m-1 0h0m-145-89h0m146 71h0m-66 40h0m9-52h0m-99-25h0m150 82h0m-58-46h0m1 0h0m-4 15h0m-52-46h0m0 0h0m120 36h0m1-1h0m-66 1h0m52 55h0m-45-73h0m55 11h0m1 1h0m-129-65h0m114 128h0m0 1h0m1 1h0m9-22h0m-53-56h0m0 0h0m-100-20h0m124 104h0m-127-105h0m8-1h0m156 40h0m-76-36h0m10 39h0m32 64h0m-34-52h0m57 34h0m1 1h0m-48-125h0m-114 28h0m147 17h0m-41 37h0m-43-78h0m-68 10h0m142 25h0m-128-3h0m143-21h0m-148-5h0m141 34h0m-153-37h0m126 122h0m-7-3h0m-47-87h0m-1 0h0m68 101h0m26-84h0m10 29h0m-162-51h0m0-1h0m102-31h0m55 59h0m-164-51h0m21 25h0m106 100h0m27-105h0m-154-12h0m6-8h0m101 77h0m47-65h0m-158-13h0m2-1h0m75 32h0m81-14h0m16 71h0m-54-58h0m-92-3h0m65 3h0m74 83h0m-23-87h0m-140-16h0m1 3h0m-1-10h0m68 27h0m-29-34h0m-45 7h0m172 101h0m-97-73h0m40 37h0m12-23h0m-1-55h0m-9 2h0m-108 11h0m138 29h0m-31 44h0m58 7h0m2-20h0m-12 60h0m-49-44h0m0-1h0m30-46h0m1 0h0m-54-4h0m28 90h0m-95-93h0m90 61h0m44-79h0m-1 0h0m-114 20h0m80 12h0m28-4h0m-22-46h0m-126 11h0m13 0h0m144 122h0m-150-120h0m32-8h0m133 105h0m0 0h0m-56-36h0m-4 26h0m1-25h0m7-30h0m-20-39h0m-1 1h0m-34 32h0m107 54h0m-52-49h0m36 12h0m12 28h0m-105-78h0m91 15h0m13 51h0m-52 52h0m-13-84h0m-65-34h0m-5 30h0m0 0h0m96 100h0m-93-131h0m78 74h0m-80-73h0m127 52h0m-145-47h0m108 40h0m22-15h0m-5 10h0m-88-38h0m59 107h0m59-32h0m-71-43h0m5-3h0m-95-5h0m162 43h0m0 1h0m-34-28h0m0 0h0m-4-6h0m31 24h0m2 0h0m-12-40h0m-5 23h0m-67-42h0m0-2h0m68 133h0m5-107h0m-45 83h0m4-37h0m10-28h0m-119-26h0m137 118h0m4-93h0m9 7h0m-130-20h0m85-29h0m1-1h0m-39 34h0m62 10h0m-128-22h0m141 8h0m1-23h0m-14 34h0m-116-34h0m118 38h0m32 37h0m-19-52h0m-25 8h0m-2 1h0m44 28h0m-44-26h0m46 35h0m5 27h0m-20-75h0m0 1h0m-38 47h0m-68-43h0m84 7h0m1-2h0m32 77h0m-31-68h0m-5-50h0m2 39h0m-56-1h0m98 65h0m1 0h0m-47-53h0m32 5h0m-2 2h0m-15 83h0m-10-97h0m0 0h0m-77-37h0m116 70h0m-33-24h0m-123-20h0m62-28h0m0 0h0m48 40h0m22 3h0m15 12h0m-37-19h0m-117-25h0m6 17h0m0-1h0m114 15h0m42 41h0m-41-40h0m1 1h0m-45-11h0m50-33h0m-115 26h0m42 5h0m74 19h0m-7-5h0m-6 77h0m-4-4h0m51-32h0m-16-68h0m2 34h0m-35 67h0m51-21h0m-105-66h0m-41-30h0m0 1h0m0 0h0m-1-1h0m1 0h0m138 59h0m0 0h0m-39 63h0m-2 0h0m41-65h0m0 0h0m-73-56h0m0-1h0m37 45h0m12 1h0m12-20h0m-1 0h0m-70 6h0m34-3h0m31 103h0m0-1h0m17-24h0m1 1h0m-8 15h0m14-22h0m-57-10h0m-6-92h0m33 28h0m-6-28h0m21 21h0m0 0h0m-87 10h0m67 18h0m-127-33h0m134-17h0m-117 28h0m142 78h0m-39-56h0m0-1h0m21-42h0m-5 36h0m0 0h0m15 13h0m-31 72h0m23-79h0m-117-47h0m68 30h0m-94-17h0m163 87h0m-111-69h0m88-6h0m1 1h0m-120-27h0m133 118h0m-12-72h0m-126-44h0m-9 22h0m132 108h0m0-131h0m-59 0h0m-45 1h0m0 1h0m125 99h0m-4-35h0m-51 34h0m53-25h0m-125-48h0m-32-17h0m0 0h0m43 21h0m0-2h0m7-30h0m46 1h0m14 76h0m-1 0h0m9-82h0m0-1h0m-9 78h0m34 54h0m-33-59h0m17-16h0m-36-50h0m-1 0h0m18 113h0m0-1h0m-62-111h0m-1 1h0m0-1h0m88 45h0m-115-21h0m143 72h0m-33-67h0m17 21h0m-125-25h0m1 0h0m135 42h0m1-1h0m-6-4h0m-46 45h0m-50-109h0m97 63h0m-17-18h0m-27-13h0m43 25h0m-97-57h0m-1 1h0m105 81h0m-26-32h0m11 0h0m-6-5h0m6-22h0m-25 29h0m2 0h0m-1 0h0m18-27h0m-101 3h0m95 105h0m-20-103h0m31-12h0m20 81h0m0 0h0m-101-95h0m80 45h0m-31-51h0m-2 2h0m40 56h0m0 2h0m-7-49h0m-2 39h0m-137-35h0m109 56h0m29-44h0m-2-1h0m21 77h0m-1 0h0m-121-72h0m84 22h0m1 0h0m-117-28h0m152 58h0m-100-53h0m91 35h0m0-1h0m-40 21h0m2 0h0m-47-80h0m60 48h0m-115-28h0m109 99h0m-64-94h0m-5 2h0m-11-26h0m3 25h0m-29-22h0m144 63h0m1 2h0m-54-69h0m-43 0h0m90 55h0m-1 0h0m-40-57h0m21 27h0m20 33h0m-141-39h0m129 25h0m-52-17h0m35 96h0m-45-126h0m-59 5h0m87 24h0m-1 0h0m-71-25h0m1-2h0m123 100h0m-20-52h0m1-2h0m-23 18h0m-86-64h0m101 128h0m2 0h0m-100-128h0m117 58h0m-6-9h0m-67-20h0m66-21h0m-91-7h0m86-2h0m-1 1h0m21 73h0m-124-47h0m66-25h0m29-3h0m12 23h0m15 84h0m-39-46h0m1-1h0m0 1h0m-2-65h0m38 123h0m-1 0h0m0-1h0m-9 9h0m-4-79h0m-52-46h0m31 29h0m1 0h0m-48-30h0m25 27h0m0 1h0m-4-1h0m-2-25h0m-84 7h0m1 0h0m8-3h0m1 1h0m43-5h0m-35 21h0m62-21h0m-80 15h0m-2 0h0m118 13h0m-9 42h0m-40-42h0m70-13h0m-1-6h0m0 0h0m-136 2h0m95 13h0m-83-23h0m107 49h0m-1 0h0m-27-50h0m61 90h0m1 3h0m0 1h0m0-2h0m-41-36h0m-111-38h0m143 100h0m1 0h0m-43-29h0m49-19h0m1 0h0m-1 0h0m0-1h0m-146-64h0m80-6h0m-39 1h0m94 56h0m5 11h0m-2-2h0m-15-15h0m-87-49h0m97 13h0m-29 100h0m40-13h0m-1 1h0m-82-105h0m1 1h0m10 2h0m38 53h0m-8-57h0m27 52h0m-28 26h0m-5-49h0m1 1h0m50 63h0m-63-89h0m39-2h0m24 80h0m-48 6h0m2 1h0m25 43h0m-13-3h0m0-2h0m15-75h0m17 21h0m-135-67h0m35-3h0m85 19h0m-136-4h0m-1-1h0m128 114h0m-96-126h0m122 95h0m-123-72h0m45 1h0m74 43h0m-1-1h0m-34 51h0m27-65h0m-1 1h0m11 15h0m-2 1h0m-131-68h0m106 23h0m-6-29h0m-14 110h0m37-46h0m13 25h0m-57-84h0m-91 16h0m1 2h0m19 2h0m-5-20h0m-1 0h0m90 64h0m-89-64h0m0 1h0m23 0h0m103 109h0m1 0h0m-35-51h0m-1-1h0m0 0h0m36 49h0m-44-109h0m0 1h0m26 128h0m-81-104h0m5-1h0m59-30h0m30 68h0m-118-60h0m122 72h0m-12-67h0m1 0h0m-31 19h0m43 44h0m5 13h0m-115-79h0m1 2h0m104 61h0m-128-63h0m31 23h0m101 42h0m-30 54h0m35-29h0m0 1h0m-59-70h0m-2-1h0m45 28h0m18 32h0m-152-68h0m0 0h0m101 88h0m1 1h0m-3-102h0m-2-1h0m2 1h0m-99 7h0m0 0h0m92-8h0m20-7h0m1 0h0m0-1h0m12 29h0m-93-18h0m72 23h0m19-4h0m9-6h0m2 108h0m0-1h0m0-108h0m-95 10h0m23-26h0m1-1h0m0 27h0m9-27h0m-58 5h0m20 20h0m69 72h0m0-1h0m-1 2h0m-29-71h0m74 78h0m-1 0h0m-1 1h0m-37-79h0m-70-22h0m111 87h0m-32-37h0m-76-28h0m1 0h0m67 36h0m26-55h0m-14 45h0m-1 1h0m-66-29h0m60 32h0m0 0h0m-1 0h0m-105-50h0m90 18h0m-18-1h0m1 2h0m-1-1h0m26 55h0m25-79h0m0 0h0m-36 22h0m-95-8h0m89-11h0m60 75h0m-44 30h0m40 7h0m-10 7h0m-98-98h0m52 0h0m-79-19h0m99-10h0m-107 21h0m76 8h0m-32-23h0m81 52h0m-22 58h0m1-2h0m-1-110h0m-12 4h0m-72 1h0m121 63h0m-81-66h0m-56 7h0m76-6h0m1 0h0m1 21h0m1 1h0m-15-24h0m56 125h0m-4 0h0m0-2h0m16-69h0m-98-51h0m95 49h0m0 1h0m0-41h0m0-1h0m-110-8h0m27-1h0m0-1h0m-2 0h0m-35 5h0m97 57h0m7 60h0m1-2h0m-2 1h0m-39-121h0m30 70h0m-61-68h0m-32 17h0m0-1h0m35 3h0m37-21h0m45 4h0m0-2h0m-104 0h0m-12 17h0m-14-10h0m103 77h0m33-27h0m-10 65h0m0 1h0m-1 1h0m-32-105h0m0 0h0m-39 1h0m61 2h0m-91-20h0m105 119h0m0 0h0m-18-98h0m0-1h0m-1 0h0m19 28h0m-68-53h0m2 0h0m-1-1h0m-54 19h0m106 103h0m-41-97h0m41-26h0m-50 28h0m1-1h0m-1 0h0m67 27h0m-1 0h0m-64-25h0m1 0h0m36 55h0m6-22h0m38 28h0m0 0h0m-92-84h0m-33 16h0m0-1h0m1 0h0m107-3h0m-1 0h0m-112-11h0m0 0h0m-2 1h0m1 0h0m81-2h0m-71 17h0m-1 0h0m119 77h0m0 0h0m-38-24h0m21-75h0m-4 1h0m-1-1h0m-7 57h0m-111-41h0m138 98h0m-111-107h0m106 58h0m-1 0h0m-84-61h0m0 0h0m71 121h0m-68-120h0m1 1h0m51 61h0m-73-60h0m69 99h0m-1 0h0m17-82h0m2 2h0m-31-6h0m27 103h0m-28-118h0m0-1h0m44 119h0m-118-115h0m92-11h0m17 3h0m-106 19h0m129 65h0m-54-77h0m-51 17h0m-26-15h0m0-1h0m0 1h0m1 1h0m110 114h0m-11-124h0m28 79h0m-1 0h0m-53-73h0m-19-4h0m1 0h0m-53 16h0m2 2h0m-2-1h0m9 3h0m-1 1h0m-9-12h0m110-9h0m0 1h0m-17-7h0m-1 0h0m-50 7h0m-54 6h0m136 103h0m1 0h0m-112-89h0m-2 0h0m-13-12h0m0 9h0m55 5h0m15-3h0m0 0h0m-1 0h0m34 32h0m-118-43h0m95 11h0m0 0h0m35 33h0m-121-37h0m-1 1h0m48 5h0m66 101h0m0-105h0m-117-3h0m29-10h0m1-1h0m-21 4h0m22 15h0m0 0h0m1 0h0m110 59h0m0 0h0m-10 35h0m-1-1h0m-10 7h0m-1 0h0m-24-20h0m-101-89h0m16-3h0m128 81h0m-1 1h0m-39-95h0m-11 22h0m12-23h0m-1 80h0m-88-64h0m1-1h0m5 7h0m62-17h0m2 18h0m-60-15h0m1-1h0m92 116h0m-1 1h0m-99-108h0m0 0h0m110 0h0m-105-8h0m115 110h0m-47-109h0m-74 8h0m0 0h0m70-7h0m0 0h0m4 2h0m-45-7h0m3 18h0m56 47h0m-27-46h0m-66-4h0m0-1h0m1 0h0m121 48h0m-30 44h0m0 1h0m-22-87h0m-1-2h0m62 68h0m-129-75h0m115 108h0m-110-115h0m1 0h0m1 0h0m80 93h0m-57-97h0m89 55h0m-1 1h0m-121-42h0m-1 1h0m90 7h0m1-1h0m-1 0h0m-43 0h0m12-22h0m56 15h0m-43-13h0m0-1h0m-81 9h0m-1 0h0m114 44h0m24 15h0m-52-65h0m0-1h0m-10-1h0m17 1h0m-3 8h0m-82-3h0m1-1h0m-2 0h0m73-6h0m49 6h0m-17 109h0m1-1h0m-20-107h0m18 50h0m0 0h0m16-6h0m-11-30h0m0-1h0m0 1h0m-11 88h0m-100-97h0m1 1h0m125 104h0m1-1h0m0 0h0m-13-65h0m-72-34h0m62-23h0m19 15h0m-20 51h0m-9 28h0m-9-75h0m1-1h0m-1 1h0m0 0h0m-16-13h0m-72 10h0m-1-4h0m87 8h0m-1-2h0m-67 0h0m81 82h0m30-38h0m-4-5h0m-2 0h0m1-49h0m-37 8h0m0-1h0m31 109h0m-111-109h0m76 5h0m46 44h0m9 38h0m0 0h0m-1 1h0m-51-87h0m54 79h0m1-1h0m-59-72h0m-78-10h0m5 6h0m101-15h0m-5 115h0m1-2h0m11-59h0m0-1h0m1 0h0m-15-29h0m-51-18h0m0 0h0m53 63h0m-1 2h0m-2 9h0m0 0h0m-12-65h0m-60-7h0m-29 2h0m1-1h0m1 0h0m-2 1h0m84-3h0m13 88h0m-1 1h0m1 0h0m-34-72h0m-44-7h0m27-12h0m-27 4h0m-14 6h0m115-13h0m7 55h0m0-1h0m-102-49h0m0 0h0m24 15h0m0-1h0m0 1h0m11 2h0m-61-12h0m0-1h0m0 0h0m0 1h0m7 4h0m1 0h0m104 7h0m-50 1h0m-5-21h0m81 94h0m-100-76h0m0 0h0m-31-8h0m1 0h0m88-9h0m-68 16h0m0 0h0m0 0h0m89 1h0m-34-12h0m23-11h0m-1 0h0m0 1h0m-6 107h0m36-31h0m-42-65h0m-2 0h0m-71 0h0m1-1h0m0 1h0m-17 3h0m17 1h0m102-7h0m-99 0h0m117 75h0m1 1h0m-1-2h0m2 1h0m-82-81h0m2 1h0m40 69h0m-97-58h0m134 67h0m-118-73h0m0 1h0m-1-1h0m-17 4h0m107 106h0m0 1h0m26-23h0m-55-78h0m0 1h0m9-6h0m2 0h0m-52 8h0m72 36h0m-4-33h0m1 1h0m-2-1h0m0 1h0m-32-5h0m-1 1h0m-41 2h0m70 52h0m14-55h0m-27-2h0m1 1h0m-24-15h0m64 65h0m-1 0h0m1 0h0m-52-62h0m1 1h0m-29 15h0m-1-1h0m69-18h0m-84 18h0m0 0h0m-1 1h0m57-6h0m23-15h0m-77 5h0m7 0h0m93 87h0m-111-82h0m-1-2h0m79 66h0m-9-53h0m7 59h0m-2 1h0m27-24h0m-106-43h0m78 73h0m-1-1h0m-75-70h0m1 1h0m-3-4h0m32 7h0m59-20h0m-32 16h0m-58-7h0m17-5h0m67-4h0m29 111h0m-107-102h0m44-4h0m-2 0h0m34 62h0m4 48h0m-50-112h0m-1-1h0m24 10h0m-50 7h0m1-1h0m81 4h0m-1-1h0m-55-1h0m-1 0h0m1 1h0m-31-10h0m15 6h0m39-8h0m17-5h0m-5 2h0m-15 10h0m-54-3h0m1 0h0m110 96h0m-106-98h0m53 0h0m0-1h0m0 2h0m17 89h0m24-92h0m13 98h0m-76-87h0m-35-6h0m102 44h0m-12-3h0m-78-37h0m87-7h0m1 0h0m-50 5h0m-21-9h0m44 14h0m-19-5h0m1-2h0m23-15h0m-33 6h0m0-1h0m37 107h0m-42-90h0m1-1h0m0 0h0m-37-5h0m0-1h0m100 47h0m-66-41h0m-36-7h0m54-7h0m54 65h0m-39-66h0m1-1h0m-1 1h0m0 0h0m13-4h0m-64 16h0m77 101h0m0 1h0m-58-117h0m47 59h0m20 56h0m-38-104h0m30 41h0m-23-33h0m-41-18h0m19 11h0m-45-5h0m106 71h0m-81-66h0m57 42h0m-13-35h0m-46-14h0m63 47h0m0 1h0m-57-53h0m55 114h0m-58-99h0m61 38h0m-12 10h0m0-1h0m-8 32h0m-45-77h0m1 1h0m84 66h0m-39 18h0m3-83h0m-23-13h0m-1 1h0m-6 5h0m-1-6h0m36 12h0m-57-1h0m1-10h0m0 9h0m3-5h0m0-4h0m0 0h0m40 9h0m0 1h0m-44-11h0m-1 0h0m-8 0h0m5 9h0m89 79h0m0 0h0m-4 17h0m-26-93h0m-46-10h0m-2 1h0m17 1h0m25-9h0m36 74h0m-37 17h0m-43-86h0m40-1h0m-31-2h0m52 11h0m-9-16h0m-54 12h0m68 1h0m0-1h0m-2 0h0m-59 4h0m1 1h0m73 78h0m-66-79h0m5-6h0m0 0h0m-2 0h0m-20 7h0m2 0h0m4-8h0m-5 3h0m0 0h0m11-7h0m-30 4h0m-2-1h0m64 1h0m-64 8h0m90 40h0m-13 55h0m-48-107h0m1-1h0m40-4h0m12 57h0m-63-40h0m67-3h0m-78 0h0m29-4h0m26 8h0m-45-6h0m1 2h0m69-5h0m12 96h0m0 5h0m-99-95h0m83 41h0m1 0h0m-81-41h0" stroke="#1f2f78" stroke-width="1.2" stroke-linecap="square" fill="none"/>
<path d="M930 1688h0m-98 18h0m118 68h0m-124-77h0m-15 5h0m138 66h0m1 1h0m-39-10h0m-64-53h0m76 100h0m-37-98h0m16-15h0m-19 14h0m28 54h0m0 0h0m-11-57h0m-72 1h0m1 0h0m109 49h0m-94-46h0m-9-11h0m65 6h0m-55-9h0m65 100h0m16-106h0m-38 15h0m-58-6h0m0-1h0m102-1h0m-104 8h0m28 3h0m-2 0h0m52 68h0m-75-69h0m-3-5h0m114 102h0m-59-109h0m-8 16h0m32 82h0m1-1h0m-61-97h0m-14 12h0m45 1h0m1 1h0m21 0h0m-61-1h0m90-15h0m-64 18h0m0 0h0m-15-5h0m50-9h0m1-1h0m-70 8h0m27-7h0m-2-1h0m-21 5h0m93 5h0m16 58h0m0 0h0m-38 27h0m37 5h0m0 1h0m0 0h0m-99-87h0m1-2h0m61 2h0m5-22h0m-1 1h0m2 112h0m-38-91h0m-1 0h0m-38-6h0m99 46h0m-33-49h0m6 89h0m-27-82h0m61 53h0m-14 47h0m-14-120h0m3 3h0m-45 2h0m45 58h0m27 38h0m-7-36h0m-69-60h0m56 15h0m-38-4h0m0 1h0m24 68h0m37-3h0m-81-62h0m-12-10h0m66 52h0m0-2h0m0 0h0m-17-43h0m23 39h0m-56-52h0m55 115h0m3-63h0m0 1h0m-61-37h0m53 96h0m-3-49h0m-41-59h0m-10-1h0m14 11h0m-1 1h0m7-11h0m1 1h0m48 50h0m-2-1h0m2 0h0m-23-34h0m-31-7h0m7-4h0m0-1h0m-50 2h0m81 9h0m-59-2h0m1-1h0m23-11h0m-1-1h0m2 1h0m-42-1h0m0 1h0m24 5h0m-5 6h0m3-5h0m-6-5h0m1 1h0m25 5h0m-34-8h0m1 2h0m-1-2h0m89 63h0m-77-52h0m51 54h0m-1-1h0m-50-60h0m79 103h0m-26-92h0m0-1h0m12-18h0m0 0h0m10 64h0m-70-56h0m3 9h0m6-13h0m-12 0h0m1 2h0m0-2h0m43 89h0m-43-86h0m41 82h0m1 0h0m-28-76h0m0-1h0m-5-10h0m51 13h0m-81 1h0m31 2h0m0 0h0m47-1h0m18 95h0m-56-105h0m1 2h0m-18-6h0m50 58h0m-37-55h0m-2 1h0m0-1h0m-29 6h0m95 74h0m-98-82h0m35 4h0m26 82h0m-69-82h0m1 1h0m12 3h0m19-1h0m6 3h0m6-5h0m0-2h0m1 0h0m-1 0h0m-12 5h0m-3-5h0m37-4h0m1-1h0m41 81h0m1 1h0m-15 31h0m2 0h0m-63-112h0m0-1h0m57 2h0m-87 3h0m1 1h0m90 49h0m1-1h0m-1 1h0m0 0h0m-24 25h0m-53-75h0m0 0h0m-1-1h0m49 0h0m-42 6h0m63 103h0m-84-100h0m101 56h0m0 0h0m-66-67h0m-1 0h0m0 1h0m-36 8h0m1 0h0m0 1h0m78 96h0m0 0h0m-47-106h0m7 2h0m33 94h0m-1 0h0m-36-83h0m0-1h0m-14-2h0m54 93h0m6-47h0m-1-2h0m-14-48h0m-52 2h0m0 1h0m2 0h0m22-4h0m37-11h0m-35 15h0m0-1h0m24 2h0m1 1h0m23-14h0m-49 10h0m44 45h0m-69-50h0m53 11h0m26 98h0m0-1h0m-58-110h0m69 97h0m-1-1h0m-73-95h0m48 105h0m-2-1h0m0 0h0m-40-102h0m-14 6h0m80 86h0m-11-92h0m12 96h0m-1 0h0m-20-103h0m9 8h0m0 1h0m-12 8h0m1 0h0m-2-1h0m-45-7h0m0 0h0m32 4h0m-33-7h0m5 8h0m-4 2h0m-1-2h0m1 1h0m0-5h0m53-9h0m3 114h0m-1-1h0m-70-102h0m2 0h0m14-6h0m2 0h0m0 1h0m67 97h0m-18-90h0m0 2h0m-7 47h0m-2 3h0m1 2h0m0 0h0m-45-56h0m0 0h0m0 1h0m46-12h0m-71 11h0m64-11h0m1 0h0m-1 0h0m0-1h0m-36 8h0m0 0h0m-31 5h0m0 0h0m33-3h0m49 45h0m-67-43h0m0-1h0m1 0h0m-15-5h0m12 4h0m-1-2h0m1 1h0m83 103h0m-1 0h0m-23-96h0m-39-3h0m34 85h0m0 0h0m-3-80h0m-55-7h0m76 44h0m-22-50h0m14 105h0m0 1h0m0-1h0m7-107h0m0-1h0m-77 9h0m23 0h0m1 0h0m-20-1h0m1 1h0m0-1h0m-1 1h0m0-1h0m2 0h0m-7-2h0m1-2h0m1 2h0m0-1h0m-7 6h0m0 0h0m10-5h0m60 66h0m-4 10h0m0 1h0m13-70h0m-2 0h0m24 70h0m2-1h0m-1 0h0m-32-67h0m0 0h0m-39-4h0m-2 0h0m1 0h0m68 83h0m0 0h0m-31 6h0m1 1h0m-5-100h0m25 54h0m-22-39h0m-1-1h0m12 44h0m-79-50h0m-1 0h0m0 0h0m98 101h0m0 0h0m3-39h0m0 1h0m-2-5h0m-27-52h0m2 52h0m-66-58h0m-2-1h0m0-3h0m-1-1h0m1 1h0m-1 0h0m0-1h0m1 1h0m1 0h0m62 87h0m27 20h0m-1-2h0m-13-54h0m-72-49h0m-1-1h0m68 57h0m-1 1h0m-11-60h0m33 60h0m-33-52h0m0 1h0m41 65h0m0 1h0m-1-1h0m-1 1h0m-34-80h0m1 0h0m2 104h0m19 7h0m-7-100h0m-83-4h0m74 64h0m-2 0h0m-71-61h0m0-1h0m-1 1h0m72-9h0m-2-2h0m1 1h0m4 108h0m1 1h0m-1-1h0m0-1h0m10-97h0m0 0h0m-80-2h0m0-1h0m98 75h0m0 0h0m-34-3h0m0 2h0m4 24h0m0 1h0m19-44h0m-89-54h0m70 6h0m16 44h0m0 1h0m-1-1h0m1 53h0m-22-19h0m19-36h0m-19 30h0m0-1h0m10-23h0m0-1h0m0 1h0m1 0h0m-1-1h0m23 32h0m-38-81h0m2-1h0m0 2h0m11 53h0m23 40h0m-28-7h0m-2 0h0m0-97h0m-3 2h0m0 0h0m30 105h0m-1 2h0m0 0h0m1-2h0m0 0h0m1-10h0m1 1h0m0-1h0m0 0h0m0 2h0m-1 0h0m2-27h0m-2 31h0m2-1h0m3-27h0m-30-2h0m-1 1h0m1 0h0m1 0h0m4-64h0m-2 1h0m6 46h0m-10-45h0m0-1h0m16 98h0m0 0h0m1 1h0m1-1h0m-1 1h0m-4-110h0m0 1h0m1 53h0m-18 35h0m19 22h0m1-2h0m-1 1h0m1-1h0m-21-98h0m0 0h0m0 0h0m11-2h0m-9 78h0m7-87h0m0 1h0m19 107h0m-1 1h0m0-2h0m-11-51h0m-1-1h0m2 1h0m4-50h0m-12 3h0m5 1h0m-1 0h0m1 0h0m6-6h0m4 53h0m0 1h0m-9 49h0m-11-95h0m8 50h0m0 0h0m-2 4h0m-1-1h0m26 24h0m-1 2h0m-29-91h0m24 106h0m-29-103h0m0 1h0m5-5h0m0 1h0m1 99h0m30-17h0m0 0h0m-9 24h0m-18-98h0m1 1h0m6-9h0m-3-1h0m-7 10h0m0 0h0m0 0h0m19 96h0m5-3h0m0-1h0m-23 0h0m-4-8h0m-3-87h0m-1 5h0m18-2h0m1 0h0m0-1h0m16 79h0m1-14h0m2 4h0m-9 27h0m-18-36h0m0 0h0m-1 0h0m2 0h0m0-1h0m8-10h0m-1-1h0m0-1h0m0 2h0m-10 15h0m21 27h0m1 0h0m-21-96h0m-2-1h0m0 0h0m9 56h0m-16-51h0m-1 2h0m1-2h0m6 68h0m5-12h0m19 3h0m-10-9h0m0 0h0m-14-56h0m12 107h0m0-1h0m0 0h0m-4-2h0m-1 0h0m8 3h0m-10-100h0m18 55h0m-25-61h0m0 0h0m3 2h0m0-1h0m-3 6h0m-3-5h0m2 0h0m7 2h0m1 0h0m-9 4h0m22 49h0m1 1h0m-6-59h0m2 107h0m-17-103h0m-1-1h0m0-1h0m-1 2h0m1 1h0m10 2h0m-9 0h0m-1-2h0m2-1h0m-3 3h0m11 58h0m-7 31h0m12-39h0m10 41h0m-4 4h0m-8 4h0m3-50h0m-14 21h0m26 13h0m-15-90h0m-1 2h0m2 103h0m16-24h0m-19 22h0m-9-9h0m10-90h0m10 56h0m1 3h0m0 0h0m-12-60h0m17 70h0m-23 1h0m7-11h0m16 12h0m-18-8h0" stroke="#2a4c98" stroke-width="1.2" stroke-linecap="square" fill="none"/>
<path d="M932 1749h0m7 48h0m-1 1h0m-1 2h0m0 0h0m-9-54h0m-19 34h0m0 1h0m10-78h0m17 98h0m-21-109h0m-1 10h0m4-10h0m-7 1h0m-1 0h0m2-1h0m17 57h0m-1-1h0m-7 5h0m-8-50h0m-1 0h0m21 95h0m-18-3h0m-9-97h0m1 4h0m27 95h0m1-1h0m-17-35h0m7-12h0m0 0h0m-17-49h0m18 101h0m-4-3h0m-10-97h0m16 101h0m7-46h0m8 17h0m1-1h0m-2 2h0m-12 26h0m-14-106h0m-6 8h0m1 83h0m6-87h0m-5-2h0m-4 6h0m1 0h0m0 0h0m17-8h0m-1 1h0m1 107h0m0-2h0m-15-26h0m10-19h0m-11-59h0m2 1h0m4 0h0m8 3h0m-16-1h0m0 1h0m8 63h0m-5 19h0m15-84h0m-3 55h0m-4-58h0m15 97h0m0 0h0m-4 4h0m12-19h0m-25 19h0m-1-1h0m1 1h0m19-7h0m-14 9h0m7 0h0m-4-101h0m2 54h0m-1-1h0m-14 21h0m4 21h0m-1 1h0m0-1h0m-1-25h0m2 0h0m-2 0h0m-4 9h0m1 2h0m1-2h0m-2 5h0m2 0h0m-1-1h0m10-23h0m0 0h0m1-61h0m0-2h0m1 0h0m-1 1h0m-3 2h0m2-3h0m1 0h0m-1 0h0m18 70h0m-13 35h0m0 0h0m15-24h0m0-4h0m-4-9h0m-25 26h0m0 2h0m23 0h0m1 1h0m0-1h0m-8-37h0m-5-55h0m0 1h0m0 0h0m-1-1h0m-1 0h0m1 1h0m-1-1h0m4 56h0m-1-2h0m-7 12h0m25 8h0m-1 0h0m-21 23h0m-1-1h0m15-37h0m0 1h0m0 0h0m-21 15h0m10-76h0m0 0h0m-2 0h0m1 0h0m14 89h0m-10-33h0m-6 6h0m19 7h0m-25 21h0m1-18h0m-1 0h0m5-6h0m-5 27h0m1 0h0m8 6h0m-1 1h0m13-7h0m2-26h0m0-1h0m2 17h0m1 0h0m-15-26h0m13 14h0m-26 8h0m13 20h0m-5-1h0m9-41h0m-1 1h0m-14 28h0m0 0h0m19 9h0m-1 1h0m0-1h0m-16-21h0m23 5h0m-12-22h0m7 7h0m1 0h0m2 23h0m1 2h0m0-1h0m-8-29h0m0 0h0m9 18h0m-6-15h0m-21 23h0m24-18h0m2 1h0m-25 13h0m3 11h0m6-29h0m0-2h0m-5 32h0m0 0h0m8-34h0m-2 38h0m13-27h0m-9 28h0m-1-1h0m1 1h0m-9-26h0m2 24h0m4-32h0m13 7h0m-1 0h0m-22 19h0m6-20h0m13-7h0m5 11h0m-7-11h0m-12 31h0m17-26h0m-20 20h0m0-1h0m1-13h0m19 4h0m1 0h0m-21 13h0m21-7h0m-13 12h0m11-9h0m-1-17h0m2 2h0m-21 7h0m19-3h0" stroke="#3a86c0" stroke-width="1.2" stroke-linecap="square" fill="none"/>
<path d="M942 1770h0m-28 19h0m18-35h0m-14 40h0m-4-22h0m9-76h0m17 70h0m0 17h0m-2 0h0m-24-15h0m2 22h0m7-34h0m14 6h0m0 2h0m-1-2h0m3 19h0m-13 15h0m-1 0h0m-1 2h0m-4-4h0m0 0h0m-2-28h0m11 28h0m2-1h0m8-17h0m1-5h0m0-1h0m-22 24h0m10-40h0m6 7h0m1 0h0m-5-5h0m2 0h0m0 3h0m7 13h0m-25 8h0m0-3h0m0 11h0m9-28h0m-11 19h0m13-23h0m9 31h0m2-19h0m1-1h0m-10 28h0m-9-26h0m7 25h0m9-32h0m-1 27h0m-4-33h0m0 0h0m1 0h0m-7 5h0m1 0h0m-1-1h0m4-3h0m0-1h0m0 1h0m1 36h0m1 0h0m8-11h0m0 0h0m-18-16h0m-1 1h0m14-5h0m0-2h0m6 11h0m-8-12h0m-8 5h0m12 0h0m-19 11h0m0 1h0m0 8h0m22-10h0m0 1h0m0 5h0m0 2h0m0-2h0m-13-18h0m13 14h0m1 1h0m-4-10h0m2-1h0m-8-6h0m-2-1h0m1-1h0m-12 24h0m9-22h0m-9 16h0m0 1h0m5-8h0m-2 1h0m0-2h0m8 25h0m9-23h0m0 1h0m-21 9h0m19-16h0m-18 16h0m5 10h0m2-24h0m0 1h0m6-6h0m0 29h0m-5-25h0m0-1h0m1 0h0m8 3h0m1-1h0m-16 21h0m0 0h0m0-1h0m11-23h0m1-1h0m5 12h0m0 0h0m2 0h0m-13 18h0m7-28h0m-2 0h0m-3 0h0m11 13h0m-1 1h0m-1 6h0m-1 1h0m-12-16h0m6-4h0m-3 3h0m-1-1h0m2 24h0m7-23h0m-15 17h0m-1 0h0m16 2h0m-2-1h0m1 0h0m-13-14h0m-2 7h0m2 0h0m-1 2h0m0 0h0m3-11h0m2 1h0m5 19h0m-8-16h0" stroke="#3cb4b0" stroke-width="1.2" stroke-linecap="square" fill="none"/>
<path d="M913 1780h0m12 14h0m0 0h0m10-32h0m-2 27h0m-19-3h0m0 0h0m14 7h0m1-1h0m-9-25h0m11 23h0m0 0h0m6-19h0m1 0h0m-23 3h0m1 1h0m20 5h0m1 1h0m1-1h0m-15-17h0m0 29h0m0 1h0m14-17h0m-1 8h0m2-5h0m-10-19h0m-1-2h0m4 3h0m0 0h0m0-1h0m-4 32h0m7-22h0m0-1h0m-19 8h0m-1 0h0m5-9h0m14 18h0m-9 7h0m11-22h0m-20 9h0m0 0h0m17-16h0m0 2h0m-12 25h0m0-1h0m9-30h0m-12 12h0m1 0h0m13-9h0m0 0h0m1 25h0m3-16h0m-12-7h0m9 2h0m0-1h0m-8-2h0m1 0h0m0-2h0m0 0h0m6 2h0m-15 24h0m13-26h0m-1 2h0m6 19h0m2-7h0m-17 12h0m8-25h0m6 8h0m-3-4h0m0-1h0m-7 24h0m2-25h0m-8 10h0m0-1h0m15 12h0m-5 4h0m8-10h0m-1 1h0m-12-12h0m5-4h0m-5 1h0m-5 19h0m-1-1h0m15 2h0m-3-19h0m2 0h0m-1 0h0m0 22h0m-9 1h0m2-1h0m-2-17h0m-1 2h0m8-7h0m-10 16h0m15 1h0m1-1h0m0 1h0m-3-14h0m-13 9h0m3 7h0m3-18h0m1 0h0m-2 3h0m10 5h0m0 5h0m-1 3h0m-4 5h0m7-11h0m-4 9h0m-2-1h0m-4 2h0m1 1h0m-6-14h0m7-5h0m4 3h0m0 9h0m-10 2h0m0-11h0m12 1h0m-13 2h0m0 1h0m9 8h0m-1 2h0m-3 0h0m0-1h0m1 0h0m-6-5h0m8-11h0m-1 15h0m-5 0h0m7-5h0m1 1h0m-6-8h0m2 11h0m4-5h0m1-4h0m-2-1h0m-7 7h0m6-9h0m-1 11h0m-3-1h0m5-7h0" stroke="#7cc850" stroke-width="1.2" stroke-linecap="square" fill="none"/>
<path d="M930 1766h0m6 11h0m-1 1h0m-8 13h0m8-10h0m-1-1h0m-4-10h0m0 19h0m-8 0h0m10-6h0m-1-13h0m-13 8h0m5-9h0m5 0h0m0-1h0m4 9h0m0 0h0m2 5h0m-1-2h0m-1 1h0m-5 8h0m3-2h0m-2-1h0m-3 3h0m1-21h0m0 0h0m0 0h0m-7 16h0m-1 0h0m4 3h0m-2 0h0m1-14h0m1 0h0m1-1h0m9 4h0m-2-2h0m-11 3h0m10 8h0m1 0h0m-1-1h0m3-5h0m-2-3h0m-12 6h0m1-4h0m6 9h0m-5-7h0m0 1h0m7-11h0m2 3h0m-7 12h0m7-4h0m0-2h0m-8-2h0m1 6h0m-2 0h0m10-8h0m0 2h0m-3-4h0m-3 9h0m0 1h0m-1-1h0m0-7h0m0 0h0m3 4h0m-4 2h0m4-7h0m1 2h0m-4 3h0m0 0h0m1-4h0" stroke="#c8d838" stroke-width="1.2" stroke-linecap="square" fill="none"/>
<path d="M928 1788h0m2-2h0m-4 2h0m2-20h0m2 6h0m-10 10h0m1 2h0m10-5h0m-12-3h0m11 6h0m1-6h0m-12 5h0m4 3h0m1 0h0m3-14h0m0-2h0m3 3h0m-9 2h0m5 7h0m2 1h0m-7-2h0m4-8h0m-3 9h0m2-2h0m0 1h0m-2-5h0m5-2h0m0 3h0m-3-3h0m0 1h0m0-1h0m1 3h0" stroke="#f0c030" stroke-width="1.2" stroke-linecap="square" fill="none"/>
<path d="M925 1787h0m2-1h0m-6-2h0m8-4h0m0 2h0m-7 3h0m8-8h0m-2-1h0m-8 2h0m0 0h0m1 3h0m1 0h0m-1-1h0m7-7h0m-1 0h0m-2 0h0m-3 9h0m0-7h0m1 0h0m3 4h0m1 0h0m-3 1h0m1 0h0m1 0h0m1-5h0m0 0h0m0-1h0m0 2h0m-2-1h0m0 0h0m0 4h0m1-1h0m-2-2h0" stroke="#f09028" stroke-width="1.2" stroke-linecap="square" fill="none"/>
<rect x="893" y="1800" width="42" height="43" fill="#fff" fill-opacity="0.72"/>
<rect x="771.9" y="1625.7" width="218.2" height="217.7" fill="none" stroke="#222" stroke-width="1.3"/>
<line x1="902" y1="1625.7" x2="902" y2="1843.4" stroke="#222" stroke-width="1.3"/>
<line x1="771.9" y1="1729.7" x2="990.1" y2="1729.7" stroke="#222" stroke-width="1.3"/>
<path d="M766.4 1645.4H771.9M766.4 1695.2H771.9M766.4 1748.1H771.9M768.9 1732.2H771.9M768.9 1722.9H771.9M768.9 1716.3H771.9M768.9 1711.1H771.9M768.9 1706.9H771.9M768.9 1703.4H771.9M768.9 1700.3H771.9M768.9 1697.6H771.9M768.9 1680.2H771.9M768.9 1671.4H771.9M768.9 1665.2H771.9M768.9 1660.4H771.9M768.9 1656.4H771.9M768.9 1653.1H771.9M768.9 1650.2H771.9M768.9 1647.7H771.9M768.9 1630.4H771.9M768.9 1621.6H771.9M768.9 1762.4H771.9M768.9 1770.8H771.9M768.9 1776.8H771.9M768.9 1781.4H771.9M768.9 1785.1H771.9M768.9 1788.3H771.9M768.9 1791.1H771.9M768.9 1793.5H771.9M766.4 1814.6H771.9M767.9 1808.6H771.9M767.9 1811.6H771.9M767.9 1817.6H771.9M767.9 1820.6H771.9M767.9 1823.6H771.9M865.5 1843.4V1848.9M918 1843.4V1848.9M968.5 1843.4V1848.9M881.3 1843.4V1846.4M890.5 1843.4V1846.4M897.1 1843.4V1846.4M902.2 1843.4V1846.4M906.4 1843.4V1846.4M909.9 1843.4V1846.4M912.9 1843.4V1846.4M915.6 1843.4V1846.4M933.2 1843.4V1846.4M942.1 1843.4V1846.4M948.4 1843.4V1846.4M953.3 1843.4V1846.4M957.3 1843.4V1846.4M960.7 1843.4V1846.4M963.6 1843.4V1846.4M966.2 1843.4V1846.4M852.1 1843.4V1846.4M844.2 1843.4V1846.4M838.6 1843.4V1846.4M834.3 1843.4V1846.4M830.8 1843.4V1846.4M827.8 1843.4V1846.4M825.2 1843.4V1846.4M822.9 1843.4V1846.4M791.4 1843.4V1846.9M796.4 1843.4V1846.9M800.4 1843.4V1846.9M803.4 1843.4V1846.9M806.4 1843.4V1848.9M809.4 1843.4V1846.9M812.4 1843.4V1846.9M816.4 1843.4V1846.9M821.4 1843.4V1846.9" stroke="#222" stroke-width="1.1" fill="none"/>
<path d="M793 1843.4v4M794.3 1843.4v3.2M795.6 1843.4v2.8M796.9 1843.4v6.5M798.2 1843.4v5.3M799.5 1843.4v2.2M800.8 1843.4v3M802.1 1843.4v3.3M806 1843.4v5.7M807.3 1843.4v6.5M808.6 1843.4v4.9M809.9 1843.4v5.7M812.5 1843.4v2.5M816.4 1843.4v5.6" stroke="#1a1a1a" stroke-width="1.2" fill="none"/>
<text x="761.9" y="1655.4" font-size="14" text-anchor="end" letter-spacing="1" fill="#2a2a2a">10<tspan dy="-9" font-size="13">5</tspan></text>
<text x="761.9" y="1705.2" font-size="14" text-anchor="end" letter-spacing="1" fill="#2a2a2a">10<tspan dy="-9" font-size="13">4</tspan></text>
<text x="761.9" y="1758.1" font-size="14" text-anchor="end" letter-spacing="1" fill="#2a2a2a">10<tspan dy="-9" font-size="13">3</tspan></text>
<text x="750.4" y="1819.6" font-size="14" text-anchor="end" fill="#2a2a2a">0</text>
<text x="806.4" y="1872.4" font-size="14" text-anchor="middle" fill="#2a2a2a">0</text>
<text x="859.5" y="1872.4" font-size="14" letter-spacing="1" fill="#2a2a2a">10<tspan dy="-10" font-size="13">3</tspan></text>
<text x="912" y="1872.4" font-size="14" letter-spacing="1" fill="#2a2a2a">10<tspan dy="-10" font-size="13">4</tspan></text>
<text x="962.5" y="1872.4" font-size="14" letter-spacing="1" fill="#2a2a2a">10<tspan dy="-10" font-size="13">5</tspan></text>
<text x="776.9" y="1654.7" font-size="18.5" letter-spacing="1.6" fill="#333">22.0</text>
<text x="961.1" y="1654.7" text-anchor="end" font-size="18.5" letter-spacing="1.6" fill="#333">10.6</text>
<text x="776.9" y="1826.4" font-size="18.5" letter-spacing="1.6" fill="#333">4.19</text>
<text x="961.1" y="1826.4" text-anchor="end" font-size="18.5" letter-spacing="1.6" fill="#333">63.2</text>
<text x="844.3" y="1605.3" font-size="26.5">IFN<tspan font-size="24">γ</tspan><tspan dy="-10" font-size="15">wt</tspan></text>
<line x1="417.4" y1="1869.6" x2="417.4" y2="1902" stroke="#222" stroke-width="1.6"/>
<line x1="417.4" y1="1902" x2="448" y2="1902" stroke="#222" stroke-width="1.6"/>
<path d="M417.4 1851.6L408.9 1871.6H425.9Z" fill="#333"/>
<path d="M466 1902L444 1893.5V1910.5Z" fill="#333"/>
<text transform="translate(425,1841.7) rotate(-90)" font-size="26" textLength="172.7" lengthAdjust="spacingAndGlyphs">CD62L BV650</text>
<text x="471.6" y="1908" font-size="26" textLength="131.4" lengthAdjust="spacingAndGlyphs">CD44 APC</text>
<path d="M1351 940h0m-4 2h0m2 0h0m2 0h0m2 0h0m2 0h0m-8 2h0m2 0h0m2 0h0m2 0h0m2 0h0m-10 2h0m2 0h0m2 0h0m2 0h0m2 0h0m2 0h0m2 0h0m-14 2h0m2 0h0m2 0h0m2 0h0m2 0h0m2 0h0m2 0h0m2 0h0m-16 2h0m2 0h0m2 0h0m2 0h0m2 0h0m2 0h0m2 0h0m2 0h0m2 0h0m2 0h0m-18 2h0m2 0h0m2 0h0m2 0h0m2 0h0m2 0h0m2 0h0m2 0h0m2 0h0m2 0h0m-18 2h0m2 0h0m2 0h0m2 0h0m2 0h0m2 0h0m2 0h0m2 0h0m2 0h0m2 0h0m2 0h0m-22 2h0m2 0h0m2 0h0m2 0h0m2 0h0m2 0h0m2 0h0m2 0h0m2 0h0m2 0h0m2 0h0m2 0h0m-22 2h0m2 0h0m2 0h0m2 0h0m2 0h0m2 0h0m2 0h0m2 0h0m2 0h0m2 0h0m2 0h0m2 0h0m-20 2h0m2 0h0m2 0h0m2 0h0m2 0h0m2 0h0m2 0h0m2 0h0m2 0h0m2 0h0m2 0h0m-20 2h0m2 0h0m2 0h0m2 0h0m8 0h0m2 0h0m2 0h0m2 0h0m-20 2h0m2 0h0m2 0h0m10 0h0m2 0h0m2 0h0m2 0h0m-20 2h0m2 0h0m2 0h0m10 0h0m2 0h0m2 0h0m2 0h0m-20 2h0m2 0h0m2 0h0m10 0h0m2 0h0m2 0h0m2 0h0m2 0h0m-22 2h0m2 0h0m2 0h0m8 0h0m2 0h0m2 0h0m2 0h0m2 0h0m2 0h0m-22 2h0m2 0h0m2 0h0m2 0h0m6 0h0m2 0h0m2 0h0m2 0h0m2 0h0m2 0h0m-22 2h0m2 0h0m2 0h0m2 0h0m6 0h0m2 0h0m2 0h0m2 0h0m2 0h0m2 0h0m-24 2h0m2 0h0m2 0h0m2 0h0m8 0h0m2 0h0m2 0h0m2 0h0m2 0h0m2 0h0m-24 2h0m2 0h0m2 0h0m2 0h0m6 0h0m2 0h0m2 0h0m2 0h0m2 0h0m2 0h0m2 0h0m-24 2h0m2 0h0m2 0h0m8 0h0m2 0h0m2 0h0m2 0h0m2 0h0m2 0h0m2 0h0m-26 2h0m2 0h0m2 0h0m2 0h0m8 0h0m2 0h0m2 0h0m2 0h0m2 0h0m2 0h0m2 0h0m-26 2h0m2 0h0m2 0h0m10 0h0m2 0h0m2 0h0m2 0h0m2 0h0m2 0h0m2 0h0m-26 2h0m2 0h0m2 0h0m10 0h0m2 0h0m2 0h0m2 0h0m2 0h0m2 0h0m2 0h0m-28 2h0m2 0h0m2 0h0m12 0h0m2 0h0m2 0h0m2 0h0m2 0h0m2 0h0m2 0h0m-28 2h0m2 0h0m2 0h0m14 0h0m2 0h0m2 0h0m2 0h0m2 0h0m2 0h0m-30 2h0m2 0h0m2 0h0m18 0h0m2 0h0m2 0h0m2 0h0m2 0h0m-32 2h0m2 0h0m2 0h0m22 0h0m2 0h0m2 0h0m2 0h0m-32 2h0m2 0h0m2 0h0m24 0h0m2 0h0m2 0h0m-32 2h0m2 0h0m28 0h0m2 0h0m2 0h0m-34 2h0m2 0h0m28 0h0m2 0h0m2 0h0m-34 2h0m2 0h0m30 0h0m2 0h0m-34 2h0m2 0h0m30 0h0m2 0h0m-34 2h0m2 0h0m30 0h0m2 0h0m2 0h0m-38 2h0m2 0h0m34 0h0m2 0h0m-38 2h0m2 0h0m34 0h0m2 0h0m-38 2h0m2 0h0m34 0h0m2 0h0m-38 2h0m36 0h0m2 0h0m-40 2h0m2 0h0m36 0h0m2 0h0m-38 2h0m36 0h0m2 0h0m-38 2h0m36 0h0m2 0h0m-38 2h0m2 0h0m34 0h0m2 0h0m-40 2h0m2 0h0m36 0h0m2 0h0m-40 2h0m2 0h0m36 0h0m2 0h0m-40 2h0m2 0h0m34 0h0m2 0h0m-36 2h0m32 0h0m2 0h0m2 0h0m-36 2h0m2 0h0m30 0h0m2 0h0m-32 2h0m2 0h0m28 0h0m2 0h0m-32 2h0m2 0h0m2 0h0m24 0h0m2 0h0m2 0h0m-30 2h0m2 0h0m2 0h0m20 0h0m2 0h0m2 0h0m-26 2h0m2 0h0m2 0h0m16 0h0m2 0h0m2 0h0m-24 2h0m2 0h0m2 0h0m2 0h0m2 0h0m2 0h0m2 0h0m2 0h0m2 0h0m2 0h0m2 0h0m2 0h0m-20 2h0m2 0h0m2 0h0m2 0h0m2 0h0m2 0h0m2 0h0m2 0h0m2 0h0m2 0h0m2 0h0m-16 2h0m2 0h0m2 0h0m2 0h0m2 0h0m2 0h0m2 0h0" stroke="#e2f3fa" stroke-width="2.2" stroke-linecap="square" fill="none"/>
<path d="M1349 962h0m2 0h0m2 0h0m-6 2h0m2 0h0m2 0h0m2 0h0m-6 2h0m2 0h0m2 0h0m2 0h0m-6 2h0m2 0h0m2 0h0m2 0h0m-6 2h0m2 0h0m2 0h0m-2 2h0m2 0h0m-2 2h0m2 0h0m-4 2h0m2 0h0m2 0h0m-4 2h0m2 0h0m-4 2h0m2 0h0m2 0h0m-4 2h0m2 0h0m2 0h0m-6 2h0m2 0h0m2 0h0m2 0h0m-6 2h0m2 0h0m2 0h0m2 0h0m-8 2h0m2 0h0m2 0h0m2 0h0m2 0h0m-8 2h0m2 0h0m2 0h0m2 0h0m2 0h0m2 0h0m-12 2h0m2 0h0m2 0h0m2 0h0m2 0h0m2 0h0m2 0h0m2 0h0m-16 2h0m2 0h0m2 0h0m2 0h0m2 0h0m2 0h0m2 0h0m2 0h0m2 0h0m2 0h0m-18 2h0m2 0h0m2 0h0m8 0h0m2 0h0m2 0h0m2 0h0m2 0h0m-22 2h0m2 0h0m2 0h0m14 0h0m2 0h0m2 0h0m2 0h0m-24 2h0m2 0h0m18 0h0m2 0h0m2 0h0m-24 2h0m2 0h0m18 0h0m2 0h0m2 0h0m2 0h0m-26 2h0m2 0h0m20 0h0m2 0h0m2 0h0m-26 2h0m24 0h0m2 0h0m-28 2h0m2 0h0m24 0h0m2 0h0m2 0h0m-30 2h0m2 0h0m26 0h0m2 0h0m-30 2h0m30 0h0m-32 2h0m2 0h0m30 0h0m-32 2h0m2 0h0m30 0h0m-32 2h0m2 0h0m30 0h0m-32 2h0m2 0h0m30 0h0m-30 2h0m30 0h0m-32 2h0m2 0h0m30 0h0m-32 2h0m2 0h0m28 0h0m2 0h0m-32 2h0m2 0h0m26 0h0m2 0h0m-30 2h0m2 0h0m26 0h0m-26 2h0m2 0h0m22 0h0m2 0h0m-24 2h0m2 0h0m18 0h0m2 0h0m2 0h0m-22 2h0m2 0h0m2 0h0m12 0h0m2 0h0m2 0h0m-18 2h0m2 0h0m2 0h0m2 0h0m2 0h0m2 0h0m2 0h0m2 0h0m2 0h0m-14 2h0m2 0h0m2 0h0m2 0h0m2 0h0m2 0h0m2 0h0" stroke="#cdeef0" stroke-width="2.2" stroke-linecap="square" fill="none"/>
<path d="M1343 996h0m2 0h0m2 0h0m-6 2h0m2 0h0m2 0h0m2 0h0m2 0h0m2 0h0m-12 2h0m2 0h0m2 0h0m2 0h0m2 0h0m2 0h0m2 0h0m2 0h0m-14 2h0m2 0h0m2 0h0m2 0h0m2 0h0m2 0h0m2 0h0m2 0h0m-14 2h0m2 0h0m10 0h0m2 0h0m2 0h0m-18 2h0m2 0h0m14 0h0m2 0h0m2 0h0m-20 2h0m2 0h0m16 0h0m2 0h0m-20 2h0m20 0h0m2 0h0m-24 2h0m2 0h0m22 0h0m2 0h0m-26 2h0m24 0h0m2 0h0m-26 2h0m26 0h0m-26 2h0m26 0h0m-26 2h0m26 0h0m-26 2h0m24 0h0m2 0h0m-26 2h0m24 0h0m2 0h0m-26 2h0m22 0h0m2 0h0m-24 2h0m2 0h0m20 0h0m-22 2h0m2 0h0m18 0h0m2 0h0m-20 2h0m2 0h0m14 0h0m2 0h0m-16 2h0m2 0h0m2 0h0m2 0h0m2 0h0m2 0h0m2 0h0m2 0h0m-10 2h0m2 0h0m2 0h0m2 0h0m2 0h0" stroke="#d2f0bc" stroke-width="2.2" stroke-linecap="square" fill="none"/>
<path d="M1343 1004h0m2 0h0m2 0h0m2 0h0m-8 2h0m2 0h0m2 0h0m2 0h0m2 0h0m2 0h0m-10 2h0m2 0h0m6 0h0m2 0h0m2 0h0m-14 2h0m2 0h0m10 0h0m2 0h0m2 0h0m-16 2h0m14 0h0m2 0h0m2 0h0m-20 2h0m2 0h0m18 0h0m-20 2h0m2 0h0m18 0h0m2 0h0m-22 2h0m2 0h0m18 0h0m2 0h0m-22 2h0m2 0h0m18 0h0m2 0h0m-22 2h0m2 0h0m18 0h0m-20 2h0m2 0h0m16 0h0m2 0h0m-20 2h0m2 0h0m14 0h0m2 0h0m-16 2h0m12 0h0m2 0h0m2 0h0m-16 2h0m2 0h0m2 0h0m2 0h0m2 0h0m2 0h0m2 0h0m2 0h0m-12 2h0m2 0h0m2 0h0m2 0h0m2 0h0m2 0h0" stroke="#e6f0a4" stroke-width="2.2" stroke-linecap="square" fill="none"/>
<path d="M1345 1008h0m2 0h0m-4 2h0m2 0h0m2 0h0m2 0h0m-8 2h0m2 0h0m2 0h0m2 0h0m2 0h0m2 0h0m-10 2h0m2 0h0m2 0h0m4 0h0m2 0h0m2 0h0m2 0h0m-14 2h0m2 0h0m10 0h0m2 0h0m-14 2h0m14 0h0m-14 2h0m14 0h0m-14 2h0m12 0h0m2 0h0m-14 2h0m10 0h0m2 0h0m-12 2h0m8 0h0m2 0h0m-10 2h0m2 0h0m2 0h0m2 0h0m2 0h0" stroke="#f6e29a" stroke-width="2.2" stroke-linecap="square" fill="none"/>
<path d="M1347 1014h0m-2 2h0m2 0h0m2 0h0m2 0h0m-8 2h0m2 0h0m2 0h0m2 0h0m2 0h0m2 0h0m-10 2h0m2 0h0m2 0h0m2 0h0m2 0h0m2 0h0m-10 2h0m2 0h0m2 0h0m2 0h0m2 0h0m-8 2h0m2 0h0m2 0h0m2 0h0m-6 2h0m2 0h0m2 0h0" stroke="#f6c890" stroke-width="2.2" stroke-linecap="square" fill="none"/>
<path d="M1311 950h0m-1 110h0m122-111h0m-13-17h0m-76-32h0m-20 24h0m122-6h0m-87-26h0m58 70h0m5-7h0m-35 19h0m7-35h0m-28 133h0m73-148h0m-45-1h0m-31-23h0m69 23h0m-55 2h0m36 27h0m-10-7h0m-77-12h0m118 4h0m2-5h0m-137 70h0m54-94h0m37 4h0m-29 9h0m45 24h0m-29 53h0m9-82h0m-79 129h0m93-128h0m-11 17h0m10-4h0m16-23h0m-37 125h0m17-116h0m13-3h0m-82 3h0m76 30h0m-86 112h0m55-115h0m26-9h0m-3 4h0m-64-27h0m0 158h0m-28-35h0m5-46h0m112-70h0m-105 135h0m-4-78h0m-3 7h0m64-28h0m-45 114h0m-23-61h0m5-10h0m107-87h0m-101 55h0m-10 70h0m44-127h0m64 7h0m-81-3h0m84 4h0m-42 86h0m-7 47h0m-19 21h0m24-97h0m-48 89h0m28-145h0m21 75h0m-61-17h0m5 76h0m48-1h0m-48-86h0m28-54h0m-37 127h0m47 24h0m3-10h0m-37-108h0m47 30h0m-23 96h0m25-78h0m-57 49h0m-6-32h0m59-76h0m-48 43h0m27-62h0m27 108h0m-52-64h0m28 109h0m24-35h0m-26-118h0m7 144h0m17-22h0m-39 29h0m-11-118h0m20 119h0m-16-9h0m45-105h0m-48-3h0m48-11h0m-3 105h0m-33-123h0m-25 101h0m4 18h0m4-60h0m35 84h0m0 1h0m-1-4h0m-31-12h0m31 9h0m-42-49h0m37 58h0m26-63h0m-44-75h0m45 98h0m-10 21h0m-42-80h0m22 99h0m30-39h0m-6-49h0m0 7h0m-38 76h0m34-128h0m-12-13h0m20 101h0m-3-84h0m3 94h0m-2-31h0m-2-8h0m-10-66h0m2 0h0m-1 1h0m-19-9h0m-7 8h0m-16 59h0m-4 20h0m25-87h0m-23 117h0m58-6h0m-8 16h0m-3-112h0m7 103h0m-39-109h0m15-11h0m27 112h0m-5-55h0m-13-48h0m14 72h0m-43-34h0m4 91h0m6-129h0m12 132h0m19-120h0m0 13h0m-4 95h0m-37-77h0m41-25h0m-38 1h0m12-25h0m-25 85h0m0-1h0m12-67h0m39 3h0m-54 84h0m2 2h0m53-34h0m-52 18h0m0 1h0m51-22h0m-28 75h0m0 0h0m1-1h0m-25-50h0m0 1h0m24-89h0m5 138h0m-24-77h0m23-66h0m-7 142h0m31-21h0m3-75h0m1 36h0m-2-44h0m-53 61h0m50-80h0m-1 1h0m-10 111h0m-38-15h0m2-49h0m3-4h0m44-37h0m-1-2h0m-37 8h0m-2 98h0m0 0h0m3-108h0m14 117h0m-10-1h0m34-58h0m-22-77h0m0-1h0m2 0h0m-3 0h0m-7 141h0m-22-44h0m56 1h0m-1-10h0m-43-56h0m1 1h0m38 87h0m-39-75h0m27-39h0m0-1h0m-23 7h0m-2-1h0m39 34h0m-50 38h0m44-67h0m-44 65h0m1 35h0m12-89h0m39 58h0m-22-82h0m22 83h0m0-1h0m-49-22h0m10-47h0m-1 1h0m31 105h0m2-99h0m-2-5h0m-3-9h0m9 26h0m-1 35h0m-33 65h0m37-36h0m-10-84h0m5 14h0m-40 28h0m44 54h0m-2 0h0m-32-102h0m-20 98h0m50-48h0m1-1h0m-46 15h0m11-45h0m-7 34h0m-2 4h0m33 63h0m-20 8h0m-5-8h0m30-111h0m-33 34h0m36 69h0m-5-108h0m7 52h0m4 27h0m-1-48h0m0 0h0m-28 94h0m25-76h0m-6-41h0m-27 2h0m37 59h0m-21-78h0m-28 71h0m14-65h0m-1 0h0m32 68h0m-34-66h0m1-1h0m35 106h0m-2-1h0m-43-48h0m10-47h0m1 111h0m-5-5h0m1 1h0m28-115h0m5 12h0m-1-2h0m-10-16h0m-9 130h0m-1 0h0m0 0h0m28-47h0m-18-83h0m0 2h0m6 9h0m-19 117h0m0 1h0m30-97h0m-37-26h0m0 1h0m26-2h0m-1 0h0m-25 14h0m37 17h0m0-1h0m-32-32h0m32 73h0m-1 23h0m0-1h0m-41 19h0m15-118h0m26 93h0m-38-55h0m11-36h0m28 81h0m-7-64h0m1 1h0m3 26h0m-4 69h0m5-8h0m1-74h0m-46 30h0m25 62h0m10-117h0m0-1h0m0 1h0m7 16h0m0 1h0m2 4h0m-1 14h0m-8-32h0m-2-4h0m-1-1h0m-15 121h0m-3-1h0m28-75h0m-22 76h0m0 0h0m9-124h0m-12 1h0m25 37h0m1 23h0m-35-30h0m0 0h0m-11 68h0m0 0h0m49-4h0m-3-30h0m-24 61h0m11-4h0m-32-32h0m39-76h0m-14-18h0m-20 63h0m5-34h0m2 0h0m30-6h0m0 0h0m3 31h0m-36-1h0m21-49h0m1 2h0m-4-4h0m-1-1h0m24 97h0m-1-1h0m-1 1h0m-33 27h0m1-108h0m31 13h0m-1 1h0m-36 91h0m5-107h0m-13 52h0m1 0h0m-1 1h0m-4 30h0m9-40h0m21-55h0m-17 43h0m0-1h0m0 0h0m24 77h0m9-81h0m-45 60h0m16-87h0m30 41h0m-44 53h0m43-35h0m-45 25h0m20-91h0m11 119h0m0-2h0m15-67h0m-1 0h0m-14-47h0m-20 37h0m2 1h0m13-44h0m0-1h0m0 0h0m-1-1h0m1 1h0m0 0h0m-19 57h0m16-55h0m25 84h0m-1-51h0m-2 75h0m-2-1h0m1 2h0m4-80h0m-35-10h0m35 64h0m-30-79h0m29 71h0m-26-72h0m27 26h0m-20-29h0m10 13h0m-11 107h0m19-19h0m-1 1h0m-42-29h0m25-70h0m2 1h0m-10 116h0m-1 1h0m25-99h0m0-1h0m-25-14h0m6-4h0m-21 72h0m16-71h0m-1-1h0m13 4h0m-6 114h0m19-94h0m3 61h0m-15-79h0m14 70h0m-7-63h0m-23-7h0m27 38h0m-26-37h0m6 109h0m1 1h0m-2 0h0m-13-68h0m-1 0h0m4-16h0m30 1h0m-15-34h0m-1 0h0m-23 101h0m40 3h0m1-1h0m-10 9h0m1 0h0m0 0h0m11-20h0m-1-64h0m-1 0h0m-20-27h0m8 114h0m2 0h0m12-29h0m-3-66h0m-1 1h0m3 48h0m-2-11h0m-27-42h0m2-14h0m-8 43h0m1 1h0m-10 39h0m12-49h0m24-24h0m-1 0h0m-28 39h0m39 39h0m-31-79h0m-11 49h0m40-33h0m-41 39h0m-1 0h0m0 0h0m0 1h0m40-20h0m-42 41h0m42-36h0m0 2h0m-1 0h0m-39 11h0m39-1h0m0-1h0m0 38h0m-41-7h0m1 1h0m43 0h0m-24-93h0m0 0h0m-2 2h0m-1 0h0m1 2h0m-18 83h0m-1 1h0m35-81h0m9 42h0m-4-33h0m1 1h0m2 10h0m-1 0h0m2 1h0m-14-25h0m-3-1h0m6 3h0m0 1h0m-9-6h0m-11 24h0m0-1h0m30 40h0m0 0h0m-12 50h0m-1 1h0m1-1h0m-12-108h0m-7 32h0m-11 53h0m0 2h0m41-69h0m-30-2h0m0-1h0m31 5h0m-1 0h0m1 0h0m-1 0h0m3 44h0m1 0h0m-35-24h0m31 52h0m1 0h0m-30-57h0m-5 67h0m1 0h0m0 0h0m31-76h0m-20-27h0m6 110h0m-24-39h0m2 0h0m19 37h0m-11-71h0m0 1h0m1-1h0m16-39h0m12 23h0m0 9h0m0-12h0m4 49h0m-12 40h0m12-32h0m-1 1h0m-9-71h0m7 33h0m-5-29h0m-1 0h0m-25 34h0m-1 0h0m1-1h0m10-41h0m-2 4h0m23 86h0m0 0h0m0 1h0m-29 16h0m31-31h0m-3-42h0m0 0h0m-2-22h0m-33 40h0m32 46h0m0 0h0m3-59h0m4 29h0m-1 0h0m-4-39h0m-15-30h0m2-2h0m0 1h0m0 1h0m0-1h0m-12 26h0m19-22h0m6 31h0m0 0h0m0 0h0m1-2h0m1 19h0m-2 1h0m0 42h0m1 0h0m-1-47h0m-31 5h0m0 0h0m34 11h0m-5-39h0m1 1h0m1 18h0m-26-21h0m26 23h0m0 1h0m1-1h0m-1 1h0m1 6h0m0 1h0m-1 0h0m0 1h0m-32 48h0m13-99h0m-19 71h0m1 0h0m0-1h0m36-57h0m-2-5h0m0-1h0m0 1h0m-22 17h0m7-28h0m0 1h0m16 20h0m-4-14h0m1 1h0m10 73h0m-41-24h0m41 26h0m-1 1h0m1-1h0m-25-76h0m0 0h0m-1-1h0m0 2h0m-4 13h0m0 0h0m0 0h0m15 87h0m-15-78h0m-5 17h0m2 0h0m26-28h0m2-2h0m-1 0h0m-1 0h0m-24 91h0m0-1h0m21-4h0m-1 1h0m-30-43h0m0 1h0m10-28h0m1-1h0m-1 0h0m15-33h0m-25 95h0m0 0h0m9-54h0m-8 17h0m0 2h0m-1-1h0m1 1h0m9-44h0m1-1h0m9-13h0m-3 3h0m-1 0h0m-18 77h0m0-3h0m34-70h0m-2 1h0m4 3h0m-10 94h0m-25-29h0m-1 0h0m1 0h0m29 27h0m-5-105h0m12 96h0m-16-94h0m0 0h0m16 27h0m0 1h0m0-1h0m-1 10h0m2 0h0m-10-36h0m0 1h0m0-2h0m1 1h0m-14 9h0m-1-1h0m10 95h0m0 0h0m0 1h0m-9 1h0m-1-1h0m-1-69h0m0-20h0m0-1h0m0 1h0m-13 67h0m36-44h0m1 1h0m-14 66h0m14-66h0m-1 1h0m-32 13h0m0 0h0m0-1h0m17 52h0m-16-10h0m-1 0h0m-4-11h0m36-42h0m-28 59h0m1 0h0m-1-1h0m1 2h0m9 3h0m1 0h0m-1 0h0m17-83h0m2 26h0m0-1h0m-2-23h0m-2-15h0m3 25h0m-1-21h0m0 0h0m3 46h0m2-1h0m-23-51h0m0 1h0m-1 0h0m21 22h0m0-2h0m-27 13h0m1 1h0m20-36h0m0 0h0m0-2h0m3 14h0m-24 85h0m1 1h0m0-2h0m0 2h0m-4-8h0m30-65h0m0 1h0m-25 5h0m0 0h0m29 28h0m0 0h0m0 19h0m-15-84h0m10 98h0m-2-2h0m0 1h0m2-4h0m0 0h0m-2-78h0m1 0h0m-27 34h0m20-46h0m-14 9h0m0-1h0m10-9h0m1 0h0m-1-1h0m1 1h0m0-1h0m-11 23h0m17-16h0m-1-1h0m3 5h0m-19 8h0m0 1h0m14 82h0m1 1h0m0-1h0m5-62h0m6 26h0m1-1h0m0 1h0m-26-42h0m-1 0h0m20 18h0m0 0h0m-22 0h0m-10 26h0m32-30h0m0 0h0m0 0h0m4 23h0m-1-8h0m-1-1h0m0 1h0m0 0h0m-3 45h0m0 0h0m1-55h0m1 1h0m-1-9h0m-19-17h0m0 0h0m-10 37h0m29-28h0m0-2h0m-11-22h0m0-1h0m-8 23h0m0 2h0m-7 72h0m33-28h0m-27-42h0m0 1h0m18 70h0m-1 1h0m9-30h0m-23-62h0m1-1h0m-2-1h0m-1 21h0m19 18h0m1 0h0m5 35h0m0 0h0m-18-76h0m-2 0h0m8 0h0m1 0h0m-24 57h0m22-60h0m8 32h0m-21-21h0m0 0h0m4-6h0m2 0h0m20 67h0m-29-30h0m1 1h0m25 9h0m-1 0h0m-3-41h0m-19 88h0m-2 1h0m13-100h0m0-1h0m-11 33h0m0 0h0m13 67h0m-13-86h0m1 0h0m0 0h0m17 28h0m2 5h0m0 0h0m1-1h0m4 39h0m-5-57h0m0-1h0m-6-23h0m2 1h0m-23 46h0m-1 1h0m-2 3h0m0 1h0m2 0h0m-2 1h0m29-39h0m1 3h0m-2 23h0m1-2h0m8 36h0m-2-18h0m-5-32h0m1 2h0m-1-2h0m0 1h0m1 0h0m-24 15h0m23 49h0m2-39h0m0 2h0m-3-43h0m0 0h0m-1-1h0m-10-9h0m11 35h0m0-1h0m0 0h0m-22 62h0m0 0h0m1 0h0m21-81h0m0-2h0m-7-13h0m0 1h0m0 0h0m-18 45h0m-6 20h0m1-1h0m-1 1h0m30-54h0m0 9h0m-15-15h0m0 0h0m-1 0h0m7 92h0m13-53h0m0 1h0m-4-5h0m1 1h0m-1-1h0m-17 57h0m0 0h0m5-95h0m5-2h0m-1 0h0m-8 32h0m-13 43h0m2 13h0m0-2h0m0 1h0m-2-4h0m-1 1h0m0-1h0m20 15h0m11-67h0m-2 6h0m-14 60h0m1-1h0m0 0h0m1 1h0m11-59h0m2-17h0m1 0h0m0-1h0m-27 70h0m1-1h0m-5-12h0m0 1h0m28-71h0m1 0h0m0 0h0m-1 0h0m-14 7h0m2 2h0m15 28h0m-16-37h0m0 0h0m1 0h0m0-1h0m16 42h0m-26 44h0m3-50h0m12-41h0m11 28h0m-17-15h0m1-2h0m-13 49h0m0 0h0m1 1h0m23 33h0m0 0h0m-26-25h0m36-12h0m0 1h0m1 1h0m-10-54h0m-2 0h0m-25 60h0m21-64h0m0-1h0m1 0h0m8 90h0m-1 1h0m-2-59h0m-13-22h0m0-1h0m0 2h0m-15 67h0m0 1h0m1 1h0m-1-1h0m28-38h0m0-2h0m-13-31h0m17 78h0m1 0h0m-15-85h0m1 2h0m-3 1h0m1 1h0m-6 31h0m0 1h0m14-34h0m0-1h0m0 0h0m6 24h0m0 0h0m-30 42h0m0-1h0m14-42h0m-1 1h0m12 11h0m1-2h0m-11-17h0m14 6h0m-1 67h0m-16-59h0m16-24h0m9 70h0m-1 1h0m0-1h0m-1 0h0m-9-43h0m0-2h0m1 6h0m-2-1h0m-20 10h0m0 0h0m8-28h0m1 0h0m18 29h0m0-2h0m-18-18h0m15 16h0m-9-43h0m0-1h0m-1 1h0m2-1h0m-5 5h0m10 0h0m0 1h0m-17 88h0m16-90h0m-2 0h0m5 5h0m8 51h0m-27-23h0m1 1h0m19-25h0m-1-2h0m0-1h0m0 2h0m-1 4h0m-11-9h0m9 32h0m3-22h0m1-1h0m-9-13h0m5 27h0m1 1h0m-4-27h0m-17 42h0m19 47h0m4-66h0m1 0h0m-1 0h0m-1-1h0m1 0h0m-3-20h0m-2-1h0m1-1h0m0 2h0m-4-1h0m11 77h0m-3-61h0m-1 1h0m-18 17h0m0 0h0m6-9h0m9 2h0m-1 1h0m-1-27h0m2 32h0m0 0h0m-16 6h0m28 17h0m-5-16h0m-1 0h0m0-1h0m-18-10h0m-1-1h0m2 1h0m14-8h0m1 0h0m-13-13h0m-11 36h0m-1 0h0m0 0h0m23-7h0m2 1h0m-1-14h0m-26 54h0m1 0h0m19-77h0m14 74h0m1-5h0m-15 19h0m4-85h0m4 77h0m-18 6h0m1 2h0m23-32h0m-32-7h0m13-29h0m-1-1h0m-10 25h0m-1 2h0m11-29h0m1 0h0m10-13h0m0 16h0m-11 1h0m3-16h0m-3 6h0m-2 18h0m22 31h0m-20-36h0m7-21h0m-6 13h0m0-1h0m9 1h0m0 2h0m-10-6h0m0 0h0m10-1h0m0 0h0m1-1h0m-5 21h0m-7 56h0m0 0h0m9-63h0m-5 63h0m-15-9h0m1 1h0m20-44h0m-1 1h0m11 16h0m-8-15h0m-4-12h0m13 38h0m-18-56h0m0 1h0m-4 23h0m0 0h0m8-26h0m-16 37h0m16-37h0m11 42h0m-10-30h0m-21 47h0m20-46h0m-1 9h0m-13 13h0m0-1h0m14-24h0m8 27h0m-4-31h0m-8 0h0m1 0h0m-2 13h0m-6 13h0m1 1h0m-1-1h0m12-31h0m11 47h0m-30 19h0m18-62h0m5 29h0m-24 19h0m13-26h0" stroke="#1f2f78" stroke-width="1.2" stroke-linecap="square" fill="none"/>
<path d="M1331 1007h0m-2 11h0m27-39h0m-10-29h0m9 34h0m-13-17h0m17 6h0m5 52h0m-9-40h0m-13-15h0m1-2h0m18 29h0m-24 44h0m6-64h0m6-27h0m14 52h0m-13-52h0m7 27h0m0-19h0m-1-1h0m1 32h0m-19-3h0m19-26h0m0 0h0m0 3h0m0 1h0m-12-9h0m0 2h0m-1-2h0m5-3h0m0 0h0m0-1h0m7 29h0m-9-25h0m0 0h0m4-3h0m-17 42h0m1 0h0m18 49h0m0 0h0m-9-85h0m1-1h0m12 10h0m-4-13h0m-9 7h0m0-1h0m17 72h0m-4-62h0m-11-15h0m-8 32h0m1 0h0m15-31h0m2 0h0m-3 26h0m-2-29h0m3 32h0m12 24h0m-24-26h0m15-9h0m0 1h0m-26 35h0m0 0h0m0 0h0m-1 0h0m14-47h0m5-6h0m7 33h0m0 2h0m1 1h0m-3-16h0m1 1h0m-8-20h0m-17 75h0m23-77h0m10 73h0m-12 14h0m5-85h0m-2-1h0m0 1h0m4 78h0m0-1h0m0 1h0m-6-55h0m-10 61h0m11-53h0m0-1h0m12 24h0m0 0h0m-32-8h0m0-4h0m11-29h0m0 2h0m5-16h0m-1 1h0m-10 33h0m16-31h0m1 0h0m1 17h0m-11-2h0m-1 2h0m3-16h0m-2 5h0m1 0h0m-2 0h0m1-1h0m4 77h0m7-73h0m0 1h0m-15 13h0m19 18h0m0 0h0m0 0h0m0 0h0m1-1h0m-1 0h0m0 1h0m1-1h0m3 14h0m-22-33h0m9-24h0m-6 14h0m10 0h0m-1 1h0m1 67h0m-20-2h0m23-42h0m-3-32h0m-11 5h0m-11 38h0m-1 1h0m22-41h0m1 1h0m-1-2h0m-4 21h0m0 0h0m0 0h0m-6 57h0m-1-1h0m9-65h0m0 2h0m-5 63h0m1 0h0m16-27h0m2 8h0m-1-1h0m-32 12h0m5 6h0m0 0h0m1-1h0m-1 2h0m1-1h0m18-3h0m-1 2h0m0-1h0m-3-48h0m0 0h0m9 15h0m1 1h0m1 0h0m0 0h0m0 12h0m1 0h0m-19-55h0m0 0h0m-6 24h0m1 0h0m17 7h0m-2 0h0m-7-34h0m-1 0h0m1 0h0m16 60h0m0 0h0m-1-1h0m-19-41h0m8-1h0m-1-17h0m0 0h0m10 71h0m-9-58h0m0 0h0m0-1h0m0 0h0m-7 3h0m0-1h0m8 0h0m-1 1h0m-1-1h0m-2 13h0m-3-15h0m1-1h0m-17 52h0m19-63h0m1 1h0m0 17h0m-8 5h0m0-1h0m0 0h0m0-1h0m9-12h0m1-2h0m0 1h0m-6-3h0m0 0h0m-1 11h0m-6 11h0m1 1h0m-1 1h0m20 14h0m2 0h0m-2-1h0m-29 29h0m0-1h0m-1 0h0m20-58h0m0 0h0m1-1h0m1 2h0m-1 4h0m1 0h0m-1-1h0m-1-1h0m2 1h0m-5-6h0m-1 0h0m1 1h0m0-2h0m0 1h0m1 0h0m-18 51h0m0-2h0m18-35h0m0-9h0m5-14h0m-4 22h0m-1-1h0m-11 13h0m12-24h0m2-1h0m0 1h0m2-4h0m-1-2h0m0 2h0m-5-1h0m3-3h0m-3 5h0m0 0h0m0 0h0m0-1h0m1 13h0m0 1h0m-4-2h0m0 2h0m1 0h0m-1-1h0m9-16h0m-1 1h0m0-1h0m0-1h0m-4 22h0m0 1h0m-10 7h0m11-14h0m-1-1h0m2 0h0m-2 0h0m2-1h0m-2 2h0m-2-1h0m1 0h0m0 0h0m0 0h0m1-1h0m-15 31h0m0 0h0m0 1h0m18-41h0m-1-5h0m1 0h0m-1 0h0m0-1h0m-8 22h0m0 0h0m21 24h0m-1 0h0m1-1h0m-15-39h0m-17 58h0m0 1h0m17-63h0m0 0h0m0-1h0m5 78h0m1 0h0m9-15h0m-1 1h0m2-1h0m-1 0h0m-17-46h0m1 1h0m4-14h0m0-1h0m-2 1h0m-19 60h0m1 2h0m1-2h0m18-63h0m0 0h0m-18 54h0m25-22h0m0-1h0m0 2h0m0 0h0m-12-14h0m-1-2h0m0 1h0m1 1h0m9 11h0m-8-12h0m1 0h0m-1 1h0m-3 4h0m5 1h0m0 0h0m1 0h0m-1 0h0m1 0h0m-18 26h0m0 0h0m9 26h0m0-1h0m1 1h0m5-56h0m16 20h0m-28-5h0m13-12h0m-1 0h0m1 0h0m0 0h0m-2-3h0m-14 33h0m-1 0h0m1-1h0m28-16h0m-15-14h0m1 1h0m-1 0h0m0 0h0m0-2h0m1 1h0m-6 53h0m-1-2h0m20-6h0m1 0h0m-2 6h0m-1-2h0m-10-47h0m4 52h0m0 1h0m0-1h0m1 1h0m-15-5h0m1-1h0m18 4h0m-7-49h0m1 0h0m11 39h0m-8-37h0m-10 49h0m0-1h0m-7-40h0m0-1h0m21-1h0m1 0h0m-25 34h0m2 1h0m-1-1h0m-1 1h0m11-43h0m-1 0h0m0-1h0m18 17h0m2 0h0m-29 5h0m7-19h0m1 0h0m11 3h0m1-2h0m-1 2h0m-15 1h0m0 1h0m11 43h0m-14-5h0m4-42h0m1 2h0m-5 8h0m1 0h0m19-7h0m1 0h0m4 6h0m-1 0h0m1 1h0m3 22h0m1-1h0m-18 16h0m0 0h0m3 1h0m-2-2h0m0 1h0m1 0h0m0-50h0m-1 0h0m0 0h0m0 0h0m-12 15h0m0-1h0m0 1h0m1 0h0m9-15h0m0 0h0m19 23h0m0-2h0m1 1h0m-1 0h0m-15-20h0m1 0h0m0 0h0m-15 15h0m0-1h0m23-6h0m0 0h0m0 1h0m2 29h0m-17-38h0m17 12h0m-1 0h0m5 10h0m-13-19h0m0-1h0m13 28h0m0 0h0m-10 17h0m-1-2h0m-6-45h0m2 0h0m5 4h0m-1 0h0m2 0h0m-1 0h0m-20 35h0m11-39h0m0 1h0m1-2h0m-13 31h0m1-1h0m30-4h0m-31-5h0m1 0h0m3-14h0m2 1h0m3-6h0m-1 1h0m23 25h0m0 1h0m-1-1h0m0-1h0m-29 6h0m-1 1h0m22 12h0m1-2h0m1 0h0m-22-15h0m-1-1h0m-1 1h0m25-17h0m-1-2h0m-21 8h0m26 18h0m-22-30h0m19 10h0m0-1h0m-10-13h0m-15 34h0m-1-1h0m1 2h0m10 9h0m-1 1h0m1 0h0m-1 0h0m8-1h0m0 0h0m11-27h0m0 0h0m0 0h0m-23 24h0m5-39h0m13 37h0m0-1h0m0 1h0m-23-13h0m0 0h0m-1-1h0m5-17h0m13-4h0m0-2h0m0 0h0m-16 37h0m1 1h0m-3-19h0m21-16h0m1-1h0m-10 40h0m0 1h0m4 0h0m0 0h0m2 0h0m-5-44h0m-1 0h0m13 9h0m-1 1h0m1 0h0m-10 34h0m0 0h0m-15-22h0m0 0h0m0 1h0m6-14h0m0-2h0m-1 1h0m0 0h0m22 6h0m0 0h0m-19-13h0m0 2h0m2 40h0m0-1h0m-1 0h0m9-41h0m-16 16h0m0-1h0m21 24h0m-1 0h0m-17-30h0m0 0h0m3-6h0m11 1h0m0-2h0m2 4h0m4 5h0m-1-1h0m1 1h0m-1 0h0m-13-10h0m-1-1h0m14 34h0m-11-33h0m0-1h0m-7 39h0m10-37h0m3 40h0m1-1h0m-13-36h0m-1 0h0m22 22h0m-2-12h0m1-1h0m1 6h0m-23 16h0m-1 0h0m10 5h0m4 1h0m-2-1h0m-13-8h0" stroke="#2a4c98" stroke-width="1.2" stroke-linecap="square" fill="none"/>
<path d="M1362 1013h0m-27-6h0m21 27h0m7-11h0m-11 15h0m4-40h0m-10-7h0m-1 2h0m1 0h0m-14 18h0m5-13h0m0 0h0m-1-1h0m5-2h0m0 0h0m21 26h0m2-2h0m-32 4h0m1 2h0m23-22h0m5 24h0m0-1h0m-21-30h0m-1 0h0m20 10h0m-11-12h0m0 0h0m-15 32h0m0-1h0m-1 3h0m2 0h0m9 10h0m-1 1h0m18-28h0m-24 23h0m0 0h0m20-35h0m-1 1h0m-1 0h0m-11-6h0m0-1h0m14 40h0m0-1h0m-1 1h0m-24-14h0m4-20h0m14-2h0m1 0h0m-16 34h0m-1 0h0m-2-17h0m16-19h0m-1-1h0m0 0h0m6 3h0m0 1h0m-8 41h0m3-2h0m1 2h0m-1-2h0m-4-42h0m0 0h0m12 8h0m3 24h0m0 2h0m0-1h0m-27-13h0m0 1h0m0-1h0m4-13h0m2-1h0m22 7h0m-2 1h0m-9-12h0m0-1h0m0-1h0m-14 15h0m19 26h0m-2 1h0m0-2h0m1 1h0m2-2h0m0-1h0m-1 1h0m0 1h0m0 0h0m-17-31h0m-1-1h0m3-5h0m0 1h0m0-2h0m21 27h0m1 0h0m-1 1h0m1-1h0m1-12h0m-2 0h0m-8-15h0m-2 2h0m4 2h0m-1 0h0m-1 0h0m2-1h0m-1-1h0m4 8h0m0 0h0m-1-1h0m1 0h0m-11-10h0m0 0h0m-3 0h0m14 33h0m-1 2h0m-11-35h0m-6 39h0m-4-6h0m1 1h0m-2-1h0m20-25h0m1 1h0m-11 32h0m-1 0h0m7-39h0m-2 0h0m1 1h0m2 37h0m0 0h0m-1 1h0m-11-36h0m0-1h0m22 22h0m-1 0h0m-1-12h0m1 5h0m0-1h0m0 0h0m2 0h0m-21-15h0m1 0h0m0-1h0m11 4h0m-1 0h0m-18 11h0m1-1h0m3 19h0m-1 1h0m23-6h0m-2 0h0m1 1h0m-5 5h0m-7-35h0m-11 25h0m9 14h0m3 0h0m-12-28h0m-1 16h0m0-1h0m12 13h0m0-1h0m0 1h0m13-16h0m-25 8h0m18 7h0m-18-14h0m10-24h0m0 1h0m0 0h0m-2 1h0m-1-2h0m0 2h0m1 0h0m18 17h0m-1 0h0m-22-13h0m0-1h0m-3 23h0m25-8h0m-3 12h0m-1-1h0m1 0h0m-16 7h0m1-1h0m-2 0h0m-5-16h0m-1-3h0m7-14h0m13 2h0m-16 0h0m1 1h0m-1 0h0m-2 12h0m0 0h0m-2-1h0m1 1h0m-1-1h0m25-2h0m-1-1h0m1 0h0m-9 23h0m0-1h0m-13-25h0m0 1h0m5-10h0m1 1h0m0 0h0m0-2h0m16 24h0m1 1h0m-2-1h0m1 0h0m-17 10h0m-3-1h0m0 1h0m-1-2h0m-1 0h0m17 2h0m-14-27h0m2-5h0m7 1h0m-1 1h0m6 3h0m-10 28h0m1 1h0m0-1h0m2 0h0m4-29h0m7 9h0m-11-11h0m-1-2h0m-3 1h0m1 1h0m-3 2h0m-3 8h0m-1-2h0m0 18h0m-1-1h0m9-26h0m5 30h0m5-3h0m4-9h0m-22 2h0m16 8h0m1-21h0m-18 18h0m0 0h0m23-10h0m-1 2h0m1-2h0m-22 1h0m0 0h0m12 13h0m0 1h0m-9-26h0m3-3h0m-1 1h0m0 1h0m15 20h0m-11-21h0" stroke="#3a86c0" stroke-width="1.2" stroke-linecap="square" fill="none"/>
<path d="M1338 1033h0m5 3h0m7-36h0m-15 12h0m1 19h0m11-33h0m-13 25h0m12 12h0m-10-26h0m7-11h0m-4 4h0m-4 25h0m25-8h0m-6-13h0m-6-5h0m2-1h0m-1 0h0m-8 34h0m-5-16h0m-2-3h0m0 0h0m8-15h0m-2-1h0m13 4h0m0 1h0m0 0h0m0-1h0m-2 0h0m0-1h0m0 0h0m-16 13h0m0 1h0m0 1h0m24-4h0m-21-3h0m4-9h0m0 0h0m2-1h0m15 24h0m-4-15h0m-13 25h0m1-1h0m0 1h0m-4-1h0m-1 0h0m14-1h0m0 0h0m0-1h0m0 0h0m-12-28h0m1-1h0m7 1h0m5 4h0m0 0h0m-8 28h0m2-1h0m4-30h0m8 19h0m0 0h0m-1-2h0m1-7h0m0 1h0m0-2h0m-11-11h0m-6 0h0m1 0h0m1 1h0m-7 9h0m-1 15h0m9-26h0m-5 6h0m-1 2h0m15 19h0m-13 5h0m0 0h0m-1-2h0m18-12h0m0 2h0m-22 2h0m0-2h0m1 0h0m0 1h0m16 9h0m1-21h0m-18 16h0m1 1h0m-1-3h0m1 1h0m16-17h0m0 0h0m4 4h0m2 6h0m0-1h0m-11-14h0m1 2h0m-12 12h0m-1-3h0m14-8h0m-2 25h0m0 2h0m-9-2h0m0-1h0m1-24h0m2-1h0m-5 11h0m-1 0h0m6-13h0m0 29h0m1 0h0m13-8h0m-18-14h0m9 22h0m-1-27h0m-2 26h0m0 1h0m7-2h0m-1 1h0m0-1h0m4-5h0m-2-14h0m1 18h0m3-15h0m0 0h0m-6-5h0m-2-2h0m0-2h0m0 0h0m2 0h0m-1 2h0m-1-2h0m-7 2h0m0 1h0m3-2h0m10 6h0m2-1h0m-2 2h0m3 9h0m0-1h0m-19-9h0m2 17h0m8 1h0m0 0h0m-3-24h0m11 10h0m0 0h0m-17-3h0m-1 13h0m20-7h0m-19-1h0m-1 2h0m2-9h0m1-2h0m-1 2h0m14 12h0m0 1h0m-5-17h0m-2 24h0m-8-9h0m11 5h0m-8-20h0m2 23h0m9-4h0m1 0h0m-8-18h0m1 1h0m-7 19h0m10-17h0" stroke="#3cb4b0" stroke-width="1.2" stroke-linecap="square" fill="none"/>
<path d="M1341 1003h0m11 2h0m-1 0h0m5 21h0m1-1h0m2-12h0m-13-10h0m-9 24h0m8-25h0m-5 7h0m-2 0h0m2-1h0m-1 0h0m11 24h0m5-4h0m-15 4h0m19-11h0m-6 9h0m2-19h0m-1 0h0m1 0h0m-1 0h0m2-1h0m-19 16h0m22-11h0m-22 10h0m16-16h0m5 3h0m-9-8h0m-1 0h0m1 1h0m-13 10h0m0-1h0m1 0h0m0 0h0m-1-1h0m16-7h0m-1 0h0m-3 26h0m1 1h0m0-1h0m-9-2h0m0 0h0m-2 1h0m2-24h0m0 0h0m0-1h0m-3 10h0m0 1h0m0 0h0m6-13h0m14 19h0m-1 1h0m-18-14h0m1 0h0m-1-1h0m10 23h0m-1-28h0m0 0h0m0 0h0m-2-1h0m0 2h0m0 26h0m1 2h0m5-2h0m0-2h0m3-3h0m0-1h0m1 1h0m1 1h0m-4-17h0m1-1h0m0 19h0m0 1h0m-1-1h0m5-15h0m-1 2h0m1-1h0m-1 0h0m-4-5h0m-2 0h0m-1-3h0m-9 3h0m0-1h0m2-2h0m12 6h0m0 0h0m4 10h0m-2 0h0m0 0h0m0 1h0m1 0h0m-18 4h0m1 0h0m-1 0h0m-1-15h0m10 18h0m-1-24h0m0-1h0m-1 0h0m1 2h0m-3-1h0m1 0h0m-1 1h0m13 10h0m-1-1h0m2 1h0m-2 0h0m0 1h0m1 1h0m0-1h0m-19 0h0m0 0h0m1-3h0m0 0h0m1 5h0m0-1h0m0-8h0m1-2h0m0 1h0m0 0h0m14 14h0m-1 0h0m-5-16h0m1 0h0m-2 0h0m0-1h0m0 2h0m-6 22h0m4 0h0m0-2h0m-7-7h0m-1 1h0m1 0h0m1-1h0m-1 0h0m3-14h0m0 0h0m3 21h0m8-3h0m1-15h0m-2 2h0m3 2h0m1-1h0m-2 1h0m0 0h0m-8-7h0m2 0h0m-4 0h0m-4 20h0m1 0h0m0 1h0m0-17h0m0 1h0m0-1h0m0 0h0m-1-1h0m1 0h0m14 10h0m-6-11h0m-5-1h0m-1 2h0m6 18h0m-9-16h0m1 1h0m10-3h0m0 2h0m-1-2h0m1 1h0m3 8h0m2 0h0m-9-10h0m-1 1h0m6 15h0m-2 0h0m1 0h0m-1 1h0m0-1h0m3-11h0m0 0h0m2 3h0m0 1h0m-15-2h0m3-4h0m0 0h0m0-1h0m0 17h0m1 0h0m2 0h0m-5-3h0m-1 0h0m1 0h0m0-1h0m9-12h0m-1-1h0m0 1h0m-6 1h0m-1 0h0m1-1h0m3-1h0m1 0h0m-6 13h0m-1 0h0m0-3h0m0 1h0m12-10h0m-1 0h0m1 9h0m0-7h0m0 2h0m-9 0h0m1-2h0m7 10h0m2-5h0m-6-6h0m6 5h0m0-1h0m-10 8h0m1-11h0m2 11h0m6-5h0m-1-2h0m0-1h0m-8 7h0m0 0h0m0-1h0m2-6h0m3 5h0" stroke="#7cc850" stroke-width="1.2" stroke-linecap="square" fill="none"/>
<path d="M1347 1005h0m-2 1h0m0 0h0m11 10h0m-17-3h0m18 6h0m-14 11h0m3 0h0m4-21h0m0 19h0m1 0h0m-12-5h0m0 2h0m7 6h0m-2-1h0m1 0h0m9-15h0m1 0h0m-1 0h0m-6-6h0m-1-1h0m-6 21h0m0 0h0m0-17h0m-1 1h0m14 8h0m1 2h0m-6-12h0m-6-1h0m-1 1h0m1 0h0m5 17h0m-8-14h0m0-1h0m0 1h0m1 2h0m14 4h0m0 1h0m-9-11h0m-2 0h0m9 15h0m-1-2h0m3-4h0m-1-1h0m-6 10h0m-1 0h0m-7-2h0m0 0h0m8-13h0m1 0h0m-1-2h0m2 1h0m-9 8h0m0 0h0m3 8h0m1 1h0m0-16h0m0-1h0m-2 3h0m1 0h0m3-2h0m0-1h0m-6 11h0m9-8h0m1-1h0m1 2h0m2 1h0m-1-2h0m-1 2h0m-9-1h0m2-2h0m6 9h0m-1 0h0m0 0h0m2-4h0m-5-4h0m0 0h0m5 2h0m1 2h0m-11-1h0m1 0h0m0 1h0m0 7h0m-1 1h0m8-10h0m1-2h0m-1 7h0m-2-6h0m0 0h0m-4 3h0m2-3h0m3 8h0m2-6h0m-9 7h0m0 0h0m0-1h0m1 1h0m0-2h0m2-5h0m-1 0h0m4-1h0m2 1h0m-2 0h0m1 1h0m0 0h0m-2-2h0m3 5h0m-2 0h0m1-1h0m1 2h0m0 0h0m-5 0h0m4-3h0m0-1h0m-4 3h0m0 0h0m1-3h0m0 1h0m1 3h0" stroke="#c8d838" stroke-width="1.2" stroke-linecap="square" fill="none"/>
<path d="M1356 1023h0m-13-13h0m6 18h0m-7-14h0m-1 1h0m9-2h0m-10 4h0m14 3h0m-10-10h0m8 14h0m1 0h0m-1-9h0m1-1h0m-1 0h0m-12 5h0m3-8h0m0 1h0m0 15h0m0 1h0m0 1h0m5-17h0m1-1h0m-1 1h0m-8 9h0m5 7h0m-3-13h0m-1 8h0m10-9h0m1 9h0m-8-8h0m4 12h0m-4-13h0m8 6h0m-4-6h0m-1 1h0m-5 4h0m0 7h0m8-9h0m-6 0h0m1 8h0m-1 2h0m6-5h0m-2-6h0m-4 4h0m-2 0h0m0 2h0m1 1h0m6-5h0m-1 1h0m-2-1h0m1 6h0m0-4h0m0 0h0m-1 1h0m0 1h0" stroke="#f0c030" stroke-width="1.2" stroke-linecap="square" fill="none"/>
<path d="M1343 1014h0m8 0h0m2 8h0m0-6h0m-11 0h0m1-1h0m-1 1h0m7 9h0m-1 2h0m-3-14h0m8 6h0m-11 7h0m8-10h0m-3 10h0m-1 0h0m-1-1h0m0 2h0m5-5h0m1 0h0m-9-2h0m1 0h0m0 1h0m4-5h0m1 0h0m2 9h0m0-1h0m1-5h0m-8 5h0m7-4h0m-7 3h0m2-5h0m-1 0h0m0 0h0m2 1h0m2-1h0m-1 7h0m0 0h0m-1-2h0m2 0h0m-4 1h0m0 0h0m1-3h0m-1-1h0m5-1h0m-4 4h0m0-1h0m0 0h0m2 0h0" stroke="#f09028" stroke-width="1.2" stroke-linecap="square" fill="none"/>
<rect x="1322" y="1035" width="23" height="39" fill="#fff" fill-opacity="0.72"/>
<rect x="1295.7" y="857.1" width="218.7" height="217.7" fill="none" stroke="#222" stroke-width="1.3"/>
<line x1="1382.6" y1="857.1" x2="1382.6" y2="1074.8" stroke="#222" stroke-width="1.3"/>
<line x1="1295.7" y1="991.1" x2="1514.4" y2="991.1" stroke="#222" stroke-width="1.3"/>
<path d="M1290.2 876.6H1295.7M1290.2 927.8H1295.7M1290.2 980H1295.7M1292.7 964.3H1295.7M1292.7 955.1H1295.7M1292.7 948.6H1295.7M1292.7 943.5H1295.7M1292.7 939.4H1295.7M1292.7 935.9H1295.7M1292.7 932.9H1295.7M1292.7 930.2H1295.7M1292.7 912.4H1295.7M1292.7 903.4H1295.7M1292.7 897H1295.7M1292.7 892H1295.7M1292.7 888H1295.7M1292.7 884.5H1295.7M1292.7 881.6H1295.7M1292.7 878.9H1295.7M1292.7 861.2H1295.7M1292.7 852.2H1295.7M1292.7 994.1H1295.7M1292.7 1002.4H1295.7M1292.7 1008.3H1295.7M1292.7 1012.8H1295.7M1292.7 1016.6H1295.7M1292.7 1019.7H1295.7M1292.7 1022.4H1295.7M1292.7 1024.8H1295.7M1290.2 1042.3H1295.7M1291.7 1036.3H1295.7M1291.7 1039.3H1295.7M1291.7 1045.3H1295.7M1291.7 1048.3H1295.7M1291.7 1051.3H1295.7M1391.2 1074.8V1080.3M1443.4 1074.8V1080.3M1492.2 1074.8V1080.3M1406.9 1074.8V1077.8M1416.1 1074.8V1077.8M1422.6 1074.8V1077.8M1427.7 1074.8V1077.8M1431.8 1074.8V1077.8M1435.3 1074.8V1077.8M1438.3 1074.8V1077.8M1441 1074.8V1077.8M1458.1 1074.8V1077.8M1466.7 1074.8V1077.8M1472.8 1074.8V1077.8M1477.5 1074.8V1077.8M1481.4 1074.8V1077.8M1484.6 1074.8V1077.8M1487.5 1074.8V1077.8M1490 1074.8V1077.8M1377.8 1074.8V1077.8M1370 1074.8V1077.8M1364.5 1074.8V1077.8M1360.2 1074.8V1077.8M1356.7 1074.8V1077.8M1353.7 1074.8V1077.8M1351.1 1074.8V1077.8M1348.9 1074.8V1077.8M1306 1074.8V1078.3M1311 1074.8V1078.3M1315 1074.8V1078.3M1318 1074.8V1078.3M1321 1074.8V1080.3M1324 1074.8V1078.3M1327 1074.8V1078.3M1331 1074.8V1078.3M1336 1074.8V1078.3" stroke="#222" stroke-width="1.1" fill="none"/>
<path d="M1298 1074.8v4.1M1299.3 1074.8v3.2M1301.9 1074.8v4.4M1305.8 1074.8v5.1M1307.1 1074.8v4.5M1308.4 1074.8v6M1309.7 1074.8v2.1M1316.2 1074.8v6.3M1317.5 1074.8v5.8M1320.1 1074.8v4.4M1321.4 1074.8v4.4" stroke="#1a1a1a" stroke-width="1.2" fill="none"/>
<text x="1285.7" y="886.6" font-size="14" text-anchor="end" letter-spacing="1" fill="#2a2a2a">10<tspan dy="-9" font-size="13">5</tspan></text>
<text x="1285.7" y="937.8" font-size="14" text-anchor="end" letter-spacing="1" fill="#2a2a2a">10<tspan dy="-9" font-size="13">4</tspan></text>
<text x="1285.7" y="990" font-size="14" text-anchor="end" letter-spacing="1" fill="#2a2a2a">10<tspan dy="-9" font-size="13">3</tspan></text>
<text x="1274.2" y="1047.3" font-size="14" text-anchor="end" fill="#2a2a2a">0</text>
<text x="1321" y="1103.8" font-size="14" text-anchor="middle" fill="#2a2a2a">0</text>
<text x="1385.2" y="1103.8" font-size="14" letter-spacing="1" fill="#2a2a2a">10<tspan dy="-10" font-size="13">3</tspan></text>
<text x="1437.4" y="1103.8" font-size="14" letter-spacing="1" fill="#2a2a2a">10<tspan dy="-10" font-size="13">4</tspan></text>
<text x="1486.2" y="1103.8" font-size="14" letter-spacing="1" fill="#2a2a2a">10<tspan dy="-10" font-size="13">5</tspan></text>
<text x="1300.7" y="886.1" font-size="18.5" letter-spacing="1.6" fill="#333">15.3</text>
<text x="1485.4" y="886.1" text-anchor="end" font-size="18.5" letter-spacing="1.6" fill="#333">0.70</text>
<text x="1300.7" y="1057.8" font-size="18.5" letter-spacing="1.6" fill="#333">83.9</text>
<text x="1485.4" y="1057.8" text-anchor="end" font-size="18.5" letter-spacing="1.6" fill="#333">0.048</text>
<text x="1307" y="840.3" font-size="26.5">IFN<tspan font-size="24">γ</tspan><tspan dy="-10" font-size="15">ΔKRKR</tspan></text>
<path d="M1620 942h0m2 0h0m2 0h0m2 0h0m2 0h0m2 0h0m-12 2h0m2 0h0m2 0h0m2 0h0m2 0h0m2 0h0m2 0h0m2 0h0m-14 2h0m2 0h0m2 0h0m2 0h0m2 0h0m2 0h0m2 0h0m2 0h0m-14 2h0m2 0h0m2 0h0m2 0h0m2 0h0m2 0h0m2 0h0m2 0h0m-14 2h0m2 0h0m2 0h0m2 0h0m2 0h0m2 0h0m2 0h0m2 0h0m-12 2h0m2 0h0m2 0h0m2 0h0m2 0h0m2 0h0m2 0h0m-12 2h0m2 0h0m2 0h0m2 0h0m2 0h0m2 0h0m2 0h0m2 0h0m-14 2h0m2 0h0m2 0h0m2 0h0m2 0h0m2 0h0m2 0h0m2 0h0m-14 2h0m2 0h0m2 0h0m2 0h0m2 0h0m2 0h0m2 0h0m2 0h0m-16 2h0m2 0h0m2 0h0m2 0h0m2 0h0m2 0h0m2 0h0m2 0h0m2 0h0m-16 2h0m2 0h0m2 0h0m2 0h0m2 0h0m2 0h0m2 0h0m2 0h0m-14 2h0m2 0h0m2 0h0m2 0h0m2 0h0m2 0h0m2 0h0m2 0h0m-12 2h0m2 0h0m2 0h0m2 0h0m2 0h0m2 0h0m2 0h0m-12 2h0m2 0h0m2 0h0m2 0h0m2 0h0m2 0h0m2 0h0m2 0h0m-14 2h0m2 0h0m2 0h0m2 0h0m2 0h0m2 0h0m2 0h0m2 0h0m-14 2h0m2 0h0m2 0h0m2 0h0m2 0h0m2 0h0m2 0h0m2 0h0m-14 2h0m2 0h0m2 0h0m2 0h0m2 0h0m2 0h0m2 0h0m2 0h0m-14 2h0m2 0h0m2 0h0m2 0h0m2 0h0m2 0h0m2 0h0m2 0h0m2 0h0m-16 2h0m2 0h0m2 0h0m2 0h0m2 0h0m2 0h0m2 0h0m2 0h0m2 0h0m-16 2h0m2 0h0m2 0h0m2 0h0m2 0h0m2 0h0m2 0h0m2 0h0m2 0h0m-14 2h0m2 0h0m2 0h0m2 0h0m2 0h0m2 0h0m2 0h0m2 0h0m-14 2h0m2 0h0m2 0h0m2 0h0m2 0h0m2 0h0m2 0h0m-12 2h0m2 0h0m2 0h0m2 0h0m2 0h0m2 0h0m2 0h0m2 0h0m-16 2h0m2 0h0m2 0h0m2 0h0m2 0h0m2 0h0m2 0h0m2 0h0m2 0h0m-16 2h0m2 0h0m2 0h0m2 0h0m2 0h0m2 0h0m2 0h0m2 0h0m2 0h0m-18 2h0m2 0h0m2 0h0m2 0h0m2 0h0m2 0h0m2 0h0m2 0h0m2 0h0m2 0h0m2 0h0m-22 2h0m2 0h0m2 0h0m2 0h0m2 0h0m2 0h0m2 0h0m2 0h0m2 0h0m2 0h0m2 0h0m2 0h0m2 0h0m-24 2h0m2 0h0m2 0h0m2 0h0m2 0h0m2 0h0m6 0h0m2 0h0m2 0h0m2 0h0m2 0h0m-24 2h0m2 0h0m2 0h0m2 0h0m2 0h0m10 0h0m2 0h0m2 0h0m2 0h0m2 0h0m-26 2h0m2 0h0m2 0h0m2 0h0m16 0h0m2 0h0m2 0h0m-26 2h0m2 0h0m2 0h0m18 0h0m2 0h0m2 0h0m-26 2h0m2 0h0m2 0h0m20 0h0m2 0h0m-28 2h0m2 0h0m2 0h0m2 0h0m20 0h0m2 0h0m-28 2h0m2 0h0m2 0h0m22 0h0m2 0h0m-28 2h0m2 0h0m2 0h0m22 0h0m2 0h0m-28 2h0m2 0h0m26 0h0m2 0h0m-30 2h0m2 0h0m26 0h0m2 0h0m-32 2h0m2 0h0m28 0h0m2 0h0m-32 2h0m2 0h0m30 0h0m-32 2h0m2 0h0m30 0h0m-32 2h0m32 0h0m-32 2h0m32 0h0m-32 2h0m32 0h0m-32 2h0m32 0h0m-32 2h0m2 0h0m30 0h0m-30 2h0m28 0h0m2 0h0m-30 2h0m2 0h0m26 0h0m2 0h0m-28 2h0m26 0h0m-26 2h0m2 0h0m22 0h0m2 0h0m-24 2h0m2 0h0m18 0h0m2 0h0m-22 2h0m2 0h0m2 0h0m14 0h0m2 0h0m2 0h0m-20 2h0m2 0h0m2 0h0m2 0h0m2 0h0m2 0h0m2 0h0m2 0h0m2 0h0m-12 2h0m2 0h0m2 0h0m2 0h0m2 0h0m2 0h0" stroke="#e2f3fa" stroke-width="2.2" stroke-linecap="square" fill="none"/>
<path d="M1628 996h0m2 0h0m-4 2h0m2 0h0m2 0h0m2 0h0m-8 2h0m2 0h0m2 0h0m2 0h0m2 0h0m2 0h0m2 0h0m-14 2h0m2 0h0m2 0h0m2 0h0m2 0h0m2 0h0m2 0h0m2 0h0m-14 2h0m2 0h0m2 0h0m2 0h0m2 0h0m2 0h0m2 0h0m2 0h0m2 0h0m-16 2h0m2 0h0m10 0h0m2 0h0m2 0h0m-18 2h0m2 0h0m14 0h0m2 0h0m-18 2h0m16 0h0m2 0h0m-20 2h0m2 0h0m18 0h0m2 0h0m-22 2h0m20 0h0m2 0h0m-24 2h0m2 0h0m22 0h0m-24 2h0m24 0h0m2 0h0m-26 2h0m24 0h0m2 0h0m-28 2h0m2 0h0m24 0h0m2 0h0m-28 2h0m26 0h0m2 0h0m-28 2h0m26 0h0m2 0h0m-28 2h0m2 0h0m24 0h0m2 0h0m-26 2h0m24 0h0m2 0h0m-26 2h0m24 0h0m-22 2h0m22 0h0m-22 2h0m2 0h0m18 0h0m2 0h0m-20 2h0m2 0h0m14 0h0m2 0h0m-16 2h0m2 0h0m8 0h0m2 0h0m2 0h0m-12 2h0m2 0h0m2 0h0m2 0h0m2 0h0m2 0h0" stroke="#cdeef0" stroke-width="2.2" stroke-linecap="square" fill="none"/>
<path d="M1626 1006h0m2 0h0m2 0h0m2 0h0m-8 2h0m2 0h0m2 0h0m2 0h0m2 0h0m2 0h0m-12 2h0m2 0h0m2 0h0m6 0h0m2 0h0m-12 2h0m12 0h0m2 0h0m-16 2h0m16 0h0m-16 2h0m16 0h0m2 0h0m-20 2h0m20 0h0m-20 2h0m20 0h0m-20 2h0m20 0h0m-22 2h0m2 0h0m20 0h0m-22 2h0m2 0h0m20 0h0m-20 2h0m20 0h0m-20 2h0m20 0h0m-20 2h0m2 0h0m18 0h0m-18 2h0m16 0h0m2 0h0m-16 2h0m12 0h0m2 0h0m-12 2h0m2 0h0m6 0h0m2 0h0m-8 2h0m2 0h0m2 0h0" stroke="#d2f0bc" stroke-width="2.2" stroke-linecap="square" fill="none"/>
<path d="M1628 1010h0m2 0h0m-6 2h0m2 0h0m2 0h0m2 0h0m2 0h0m-10 2h0m2 0h0m2 0h0m6 0h0m2 0h0m-12 2h0m2 0h0m10 0h0m-14 2h0m2 0h0m14 0h0m-16 2h0m2 0h0m14 0h0m-16 2h0m16 0h0m-16 2h0m16 0h0m-16 2h0m16 0h0m-16 2h0m16 0h0m-16 2h0m2 0h0m14 0h0m-14 2h0m12 0h0m2 0h0m-14 2h0m2 0h0m10 0h0m-10 2h0m2 0h0m2 0h0m2 0h0m2 0h0m-4 2h0m2 0h0" stroke="#e6f0a4" stroke-width="2.2" stroke-linecap="square" fill="none"/>
<path d="M1628 1014h0m2 0h0m-4 2h0m2 0h0m2 0h0m2 0h0m-8 2h0m2 0h0m6 0h0m2 0h0m-10 2h0m10 0h0m-12 2h0m2 0h0m10 0h0m-12 2h0m2 0h0m10 0h0m-12 2h0m2 0h0m10 0h0m-12 2h0m2 0h0m10 0h0m-10 2h0m10 0h0m-10 2h0m2 0h0m6 0h0m-6 2h0m2 0h0m2 0h0m2 0h0" stroke="#f6e29a" stroke-width="2.2" stroke-linecap="square" fill="none"/>
<path d="M1628 1018h0m2 0h0m-4 2h0m2 0h0m2 0h0m2 0h0m-6 2h0m2 0h0m2 0h0m2 0h0m-6 2h0m2 0h0m2 0h0m2 0h0m-6 2h0m2 0h0m2 0h0m2 0h0m-6 2h0m2 0h0m2 0h0m2 0h0m-6 2h0m2 0h0m2 0h0m2 0h0m-4 2h0m2 0h0" stroke="#f6c890" stroke-width="2.2" stroke-linecap="square" fill="none"/>
<path d="M1598 909h0m95-22h0m23 5h0m15 2h0m-103-18h0m91 32h0m-38-9h0m-64-24h0m47 17h0m-7 54h0m-7-43h0m11 134h0m41-107h0m-44-8h0m-21-37h0m96 31h0m-3-8h0m-35 26h0m-38 41h0m6 33h0m42-101h0m23 6h0m-14 7h0m-61 7h0m-37-33h0m50 23h0m-29-25h0m57 11h0m-98 112h0m43 58h0m-15-177h0m31 154h0m-59-12h0m68-43h0m-62-21h0m-2 21h0m99-84h0m-65 160h0m69-150h0m-86-38h0m73 32h0m-92 124h0m65-138h0m-2 6h0m-42-7h0m42 92h0m-10 61h0m30-146h0m10 15h0m0-12h0m-33-4h0m-36 163h0m80-171h0m-1-1h0m-5 13h0m-37-9h0m-41-17h0m-20 147h0m102-129h0m-41 128h0m-41 35h0m34-111h0m-4-43h0m-26-22h0m0-2h0m6 185h0m7-174h0m52 31h0m-2 1h0m-34 18h0m58-26h0m-1 1h0m-79-22h0m-29 83h0m36-83h0m10 167h0m22-163h0m-69 116h0m48-105h0m-43 12h0m64-23h0m-9 98h0m-32 68h0m29-86h0m-54-30h0m87-30h0m1 2h0m-76-24h0m-16 121h0m47 42h0m-48-64h0m82-84h0m-32 145h0m7-27h0m-42-128h0m-5 31h0m41 2h0m21-31h0m-24 17h0m28-11h0m11-3h0m-37 20h0m8 56h0m-41 69h0m-5-8h0m23 16h0m40-155h0m-17 116h0m-14 34h0m-35-132h0m20 135h0m15-3h0m15-50h0m-51-53h0m76-46h0m-68 143h0m43-41h0m-50-43h0m69-56h0m-47-9h0m16 11h0m29-3h0m-23 57h0m-50 33h0m56 14h0m-19 44h0m-20-156h0m62 6h0m-45-6h0m43 6h0m-76 112h0m7-93h0m41 41h0m6 27h0m24-85h0m-34 19h0m-4-20h0m-37 117h0m23 31h0m12-154h0m-15 154h0m18-144h0m12 77h0m-38-85h0m40 93h0m-17-92h0m1 1h0m-34 131h0m36-119h0m-10-14h0m4-1h0m-33 76h0m24-76h0m23 139h0m0 0h0m-11-130h0m-8 146h0m-25-24h0m34-125h0m-4 0h0m-2-4h0m14 54h0m-36-47h0m-5 41h0m10-48h0m4 148h0m1-149h0m30 84h0m-28 65h0m-14-133h0m-4 23h0m1 85h0m-2-81h0m-3 54h0m1 0h0m1 20h0m0 1h0m4 17h0m9-132h0m-6 63h0m-1 0h0m8 81h0m25-112h0m4 16h0m0 12h0m-6-50h0m13 78h0m1 3h0m-44-73h0m-3 39h0m8 84h0m-7-82h0m35-23h0m-32-29h0m7 137h0m-10-121h0m39 38h0m-7 79h0m1 0h0m-37-53h0m28 61h0m16-20h0m1 0h0m-6-101h0m-38 46h0m-2 30h0m19-104h0m-9 7h0m-8 68h0m0 1h0m43-7h0m-46 24h0m5-23h0m38-18h0m-35 18h0m40 16h0m-28 56h0m-1 1h0m-12-11h0m23-124h0m-5-7h0m24 93h0m-1 1h0m-33 46h0m26-4h0m-31-123h0m6-13h0m2 1h0m26 130h0m-2-80h0m5 21h0m1 0h0m-6-28h0m1 1h0m-38 7h0m1 0h0m24 95h0m11-107h0m0 0h0m-31-31h0m12-8h0m9 146h0m12-86h0m5 43h0m-43-65h0m9-35h0m-9 67h0m12 69h0m11 4h0m-1 1h0m14-92h0m-35 77h0m-3-20h0m45-5h0m-2 24h0m-22-127h0m-19 86h0m2-57h0m28-18h0m13 95h0m1 4h0m1 0h0m-16 32h0m-1 0h0m-30-52h0m41-12h0m6 31h0m-41 20h0m29-103h0m-3 115h0m0-1h0m1-1h0m-20-137h0m1 0h0m11 140h0m14-79h0m-28 71h0m-3-3h0m-6-13h0m35-101h0m-27-12h0m9-5h0m21 130h0m-2 3h0m-35-7h0m15-125h0m0-2h0m23 126h0m-17 16h0m-21-71h0m0-25h0m41 48h0m1-6h0m-11-73h0m7 66h0m1 1h0m2 15h0m-9-73h0m1 32h0m0-3h0m-33-14h0m38 32h0m2 0h0m-1-2h0m0 0h0m-38 12h0m25 60h0m-28-52h0m12-81h0m-9 118h0m5-113h0m35 86h0m-40-52h0m32 10h0m-1 0h0m-24-47h0m8-6h0m19 43h0m-34 4h0m0-1h0m20-45h0m-18 21h0m27-12h0m-34 88h0m39-58h0m-35 5h0m5 13h0m32 67h0m-36-53h0m-1-1h0m0 1h0m-4 22h0m1-2h0m40-22h0m-41 25h0m0 0h0m5-65h0m1 2h0m-2-1h0m41 80h0m-18-107h0m-9-3h0m18 30h0m-32 89h0m6 7h0m32-52h0m-17 59h0m-21-46h0m20-86h0m10 21h0m-24-15h0m-1 5h0m8-9h0m19 33h0m-15-36h0m17 128h0m-31-103h0m-1 14h0m28 92h0m-1 1h0m12-29h0m-38 20h0m22 10h0m5-85h0m10 33h0m-1-1h0m-3 42h0m-5-101h0m0-1h0m10 86h0m-35-90h0m9-14h0m25 83h0m-2-18h0m-9-58h0m8 54h0m-32 2h0m0-2h0m3-55h0m24 10h0m0 24h0m2-1h0m-3-25h0m0-1h0m-1 0h0m0 2h0m-9-14h0m0-2h0m-18 33h0m2-13h0m0 0h0m27 17h0m-1 14h0m4 8h0m-1 0h0m-4-26h0m-31 68h0m5-77h0m9-20h0m-4 1h0m-7 64h0m1 0h0m24-62h0m-26 75h0m33-44h0m5 52h0m-1 1h0m-22 40h0m-13-85h0m28-3h0m5 25h0m-25 61h0m24-58h0m-30-51h0m-6 78h0m29-75h0m-24 3h0m-1 1h0m26-2h0m0 0h0m-23-16h0m1-1h0m5-2h0m-2 0h0m19 4h0m-27 20h0m2 20h0m2 0h0m28 10h0m-4-33h0m-27 51h0m-5 16h0m37-20h0m-5 55h0m-26-55h0m-1 0h0m0 0h0m0 0h0m-4 19h0m31-74h0m-1 9h0m-1 1h0m1 1h0m0-1h0m-12-26h0m-5 2h0m17 42h0m-28 38h0m33-21h0m-29-27h0m33 75h0m2-17h0m-34-39h0m25-15h0m-10-37h0m-1 0h0m-15 18h0m24-8h0m-20 114h0m-5-93h0m26 20h0m2-1h0m-11 78h0m-1-1h0m-15-92h0m21-29h0m0-2h0m-2 124h0m-5-129h0m10 47h0m7 67h0m-4-57h0m6 38h0m-31-38h0m17-54h0m-1-2h0m0 1h0m-1 1h0m-18 75h0m27-43h0m-27-5h0m3 28h0m1-45h0m-2 48h0m4-58h0m-5 34h0m2 25h0m-1 0h0m31 13h0m-31-59h0m33 81h0m-33-87h0m0 0h0m-1 108h0m31-35h0m-28-72h0m-5 103h0m36-8h0m-7-40h0m-15-65h0m20 80h0m-29-74h0m-3 34h0m2 23h0m-3-24h0m1 1h0m-1-1h0m1-1h0m33 62h0m-1-14h0m-25-83h0m1 0h0m20 55h0m-29-32h0m26 26h0m9 52h0m0-1h0m-6-42h0m0 1h0m-1-2h0m-5-44h0m11 63h0m-12-71h0m1-1h0m10 70h0m-37 9h0m1-2h0m19-82h0m13 57h0m-14-57h0m-14 65h0m0-44h0m1-1h0m23 9h0m0 0h0m-13-27h0m12 46h0m-13 75h0m0 0h0m9-122h0m2 6h0m-26 79h0m27-76h0m-20 53h0m-1-21h0m0 1h0m24 11h0m-1-22h0m6 39h0m-7-38h0m1 1h0m0 0h0m-1 0h0m-27 52h0m1 18h0m26-64h0m-27 50h0m0 1h0m7-59h0m-1-1h0m25 87h0m-32-29h0m7-72h0m3 105h0m18-99h0m-24 44h0m2-34h0m25 85h0m-18-115h0m17 57h0m0 1h0m-11-61h0m1 1h0m0 0h0m11 62h0m-5 59h0m6-66h0m-30 40h0m2 12h0m3-81h0m21 15h0m9 45h0m-6-31h0m-22-50h0m-1 1h0m-2 33h0m4 19h0m15-45h0m-1 0h0m-15 105h0m1-109h0m-2 0h0m16 5h0m0-1h0m-19 59h0m32 34h0m0 1h0m-15-105h0m-21 95h0m23-86h0m-15 39h0m0 1h0m-1-36h0m24 49h0m-1 0h0m-23-27h0m9-35h0m-14 79h0m1 0h0m-3 18h0m7-75h0m-1 0h0m2 31h0m0-4h0m0 2h0m1 0h0m2-48h0m-1 0h0m17 46h0m-1-17h0m-19 31h0m17-57h0m0-3h0m-6 117h0m5-106h0m0 0h0m13 72h0m-31-14h0m14-72h0m-13 17h0m5-6h0m9-11h0m-19 80h0m10-77h0m15 27h0m0-2h0m0 1h0m0-1h0m2 21h0m0 0h0m0 9h0m-19-15h0m-1-1h0m1 1h0m-1 0h0m13-40h0m1-1h0m6 51h0m0 2h0m3 9h0m0 1h0m-2 0h0m1-2h0m-21-58h0m2 0h0m-2-1h0m1 1h0m25 84h0m-8-37h0m2 0h0m-19-46h0m0 1h0m0-1h0m15 39h0m0-1h0m-23 37h0m0 1h0m10-74h0m2 1h0m11 110h0m1-1h0m8-45h0m0-1h0m0 0h0m0 0h0m1 21h0m-12-82h0m-1 2h0m14 77h0m-18-81h0m-3-7h0m2-1h0m18 93h0m-32-20h0m32 0h0m-25-62h0m8-4h0m3-1h0m1 0h0m1 0h0m-2 0h0m-2 2h0m2-5h0m1 0h0m10 64h0m-1 0h0m-24-28h0m16-22h0m-21 67h0m-1-1h0m18-82h0m0 1h0m-2-1h0m7 33h0m-1 0h0m-11-29h0m0 0h0m-1 0h0m22 103h0m-24-84h0m23 87h0m-17-107h0m-1 2h0m0-2h0m0-1h0m-11 103h0m12-101h0m2 0h0m7 28h0m1 12h0m-17-23h0m28 76h0m0 1h0m1 0h0m-18-88h0m1 0h0m4 10h0m0 0h0m-7-18h0m-1 1h0m-7 52h0m1 1h0m0 0h0m9-53h0m2 1h0m-1-1h0m-1 2h0m9 56h0m-9-57h0m-7 5h0m-1 1h0m0 1h0m13 11h0m-1 0h0m2 0h0m3 93h0m0-1h0m0 1h0m-20-86h0m-4 45h0m1 0h0m-1 1h0m13-72h0m0 0h0m10 50h0m-1 1h0m-10-43h0m6 1h0m11 69h0m0-2h0m-24-27h0m-2-37h0m2-1h0m-2 20h0m2 0h0m-1 0h0m22 79h0m-7-84h0m2 28h0m1-1h0m-2-18h0m-1 0h0m0 0h0m0-1h0m1-13h0m-17-5h0m1 2h0m-3 43h0m0 0h0m0 0h0m1 0h0m-1-1h0m21-13h0m-17 1h0m0 0h0m-1 62h0m-1-1h0m2 0h0m-7-25h0m0-1h0m8 29h0m1-1h0m-2 0h0m17-66h0m-1 0h0m-1-22h0m0 2h0m-14 21h0m-1-1h0m-6 28h0m7-30h0m-2-27h0m0 0h0m2-7h0m-1 0h0m2-1h0m-1 2h0m-2 3h0m6 99h0m-5-71h0m1 0h0m15 15h0m-1 58h0m0-2h0m-1 0h0m-16-48h0m24 1h0m1 0h0m-3-5h0m-2 0h0m-23 14h0m18-63h0m-1-1h0m12 91h0m1-1h0m-14-91h0m0 1h0m-1-2h0m-16 77h0m-2 0h0m23-33h0m1 0h0m-1-1h0m-21 46h0m20-49h0m-17 19h0m3-8h0m-1 0h0m-1 0h0m0 0h0m2-21h0m16 15h0m-1-14h0m-12 12h0m-1 0h0m-2 7h0m4-5h0m-2-1h0m0 1h0m-2-18h0m21 28h0m-16-54h0m0 0h0m2 0h0m0 0h0m7 5h0m-2-1h0m-15 56h0m3-37h0m0 0h0m0 0h0m0-21h0m1-1h0m0 1h0m0 0h0m11 19h0m0 1h0m-5 81h0m-1 1h0m17-46h0m1-1h0m-24-47h0m1-1h0m12 95h0m0 1h0m10-9h0m-10-77h0m0-10h0m0 14h0m-17 70h0m-2-2h0m-1-12h0m20-71h0m1 24h0m-2 10h0m2-6h0m0 0h0m-1-30h0m-1 1h0m-10 32h0m1-1h0m-3-16h0m1 0h0m0 0h0m0 1h0m12 17h0m10 23h0m-5-12h0m-1 52h0m-3-70h0m1 2h0m1 0h0m7 26h0m-1-1h0m-6-15h0m-20 26h0m-2-1h0m5-19h0m0 1h0m0-1h0m-1 1h0m5-17h0m0 1h0m9-18h0m13 55h0m-29-11h0m0 0h0m17-49h0m-13 1h0m0-10h0m2-1h0m10 22h0m1 0h0m-12-19h0m-1 1h0m1 12h0m7 85h0m4-89h0m0 1h0m-1-13h0m-19 83h0m2 0h0m8-51h0m21 31h0m-1 0h0m1 0h0m-10-22h0m0 1h0m-1-7h0m1-1h0m0 0h0m-7 5h0m-2 0h0m0 0h0m1-1h0m6 1h0m-1-3h0m-10-23h0m0-1h0m1 1h0m3 86h0m0 1h0m-8-38h0m2 0h0m0-2h0m7-22h0m0-1h0m-1 0h0m-2 11h0m1-48h0m0-1h0m-9 79h0m-1 0h0m6 16h0m26-23h0m-1 1h0m-11-46h0m0-1h0m0 0h0m7 72h0m2-3h0m-17-59h0m4 3h0m1 1h0m-1-1h0m0 1h0m-6 6h0m0 0h0m-4 9h0m-1-1h0m1 0h0m0 0h0m1-1h0m21 0h0m-12-15h0m-14 32h0m12-30h0m5-5h0m-2 1h0m3-2h0m-11-5h0m2-2h0m0 0h0m21 48h0m-1-2h0m-17-34h0m1-1h0m-2 1h0m18 38h0m-14-76h0m-1-1h0m1 1h0m-17 81h0m11-59h0m-1 2h0m11 21h0m0 0h0m-9-46h0m1 1h0m-14 80h0m0-1h0m33-3h0m-21-50h0m-1-2h0m1 1h0m2 17h0m-2 0h0m1 0h0m0-9h0m0 0h0m0 0h0m-7 29h0m9-22h0m4-39h0m-1 1h0m1 0h0m0-1h0m-12 54h0m7-56h0m17 65h0m0 2h0m-11-22h0m1 0h0m1-1h0m0-16h0m-7 8h0m1 0h0m16 50h0m0 0h0m-5-34h0m0 0h0m-9-31h0m0-1h0m-8 1h0m0 77h0m9-90h0m0 0h0m0 13h0m0 1h0m-8-14h0m0 0h0m1 0h0m-2-6h0m10 30h0m0-1h0m-1-25h0m-1-1h0m0 1h0m0 4h0m1 0h0m2 20h0m0 1h0m-1-2h0m1 1h0m-1 0h0m-12 20h0m0 0h0m12-46h0m-1 0h0m-1 15h0m2-1h0m-8 15h0m0-28h0m-1-1h0m0 1h0m0-1h0m-6 88h0m14-57h0m0 0h0m-1 0h0m-11 24h0m1 0h0m-2-1h0m1 0h0m18-7h0m-1-2h0m-8-14h0m0-1h0m-5-24h0m0-1h0m22 72h0m-1 2h0m0 2h0m0-1h0m-13-60h0m0 0h0m4 77h0m-3-90h0m-1 0h0m-7 36h0m-1 2h0m9-33h0m-2 0h0m11 41h0m0 0h0m0-1h0m-9-12h0m-16 44h0m-2 0h0m2 0h0m7-70h0m-7 47h0m0 1h0m9-20h0m0 0h0m0-16h0m-1 0h0m7-17h0m-1 1h0m1 1h0m-12 45h0m10-58h0m0-1h0m6 48h0m-11-46h0m0-1h0m-3 49h0m8-6h0m-1-1h0m0 1h0m-3-21h0m1-4h0m2 13h0m0-14h0m-4-6h0m-2-1h0m6-10h0m0 1h0m5 43h0m-1 0h0m-8-40h0m1 1h0m1 20h0m-1 1h0m-1 1h0m1-25h0m1 21h0m0-17h0m3 23h0m1-24h0m-1 0h0m0-3h0m2 24h0m-1 3h0m1-1h0m0 1h0m11 28h0m0-1h0m-19-42h0m-1 0h0m2-1h0m3 5h0m-1 0h0m0-1h0m2 4h0m1-12h0m-3 13h0m1 1h0m-1-2h0m0 0h0m0 1h0m11 28h0m0 1h0m-1-1h0m-10-49h0m1 2h0m0 1h0m0 1h0m14 53h0m-15-53h0m0 1h0m1 22h0m-1 16h0m0 0h0m-6 9h0m1 2h0m3-8h0m1-2h0m17 15h0m-2 0h0m-12-33h0m8 21h0m-1 0h0m-7-23h0m8 71h0m-11-79h0m7 26h0m-5-19h0m17 64h0m-1 0h0m-17-63h0m0 0h0m7 73h0m-1-1h0m-3-86h0m1 15h0m-4-19h0m0 1h0m3 36h0m-1 1h0m-6 6h0m0 6h0m19 36h0m0-30h0m-14 36h0m-7-37h0m4-52h0m0 39h0m1 0h0m18 19h0m-19-17h0m1-37h0m0 1h0m-1-1h0m-10 69h0m10 14h0m0-2h0m11-45h0m-8-41h0m-7 49h0m10 41h0m0-53h0m1 1h0m0-1h0m-1 0h0m-4-31h0m1-2h0m6 35h0m-4 50h0m0-51h0m-5 3h0m1-1h0m-9 26h0m7-21h0m4-42h0m15 58h0m1 0h0m-26-3h0m22-11h0m1 1h0m-10-8h0m-5 3h0m10 0h0m0-1h0m-17 14h0m0-1h0m6-8h0m19 16h0m0 3h0m-1 1h0m-14-25h0m-14 29h0" stroke="#1f2f78" stroke-width="1.2" stroke-linecap="square" fill="none"/>
<path d="M1629 955h0m-11 47h0m26 24h0m-30 5h0m16-55h0m0-1h0m-4 1h0m2-9h0m-5 77h0m5-79h0m0-1h0m-7-8h0m6-10h0m4 44h0m-8-17h0m18 40h0m-18-60h0m6 24h0m-1-30h0m1 28h0m11 26h0m-3-3h0m-14-38h0m-2 0h0m0 0h0m6 8h0m-1 0h0m0-20h0m0 1h0m1 13h0m-1 13h0m-2-21h0m1 38h0m-2-1h0m12 3h0m-2-1h0m-5-22h0m0 0h0m2 19h0m-1-1h0m-3-18h0m0-1h0m-8 68h0m8-67h0m0 0h0m5 74h0m-4-88h0m-5 39h0m-1 1h0m1 0h0m-2 4h0m8-41h0m0 0h0m1 1h0m11 78h0m0-1h0m-14 7h0m0-1h0m2-86h0m0 1h0m-11 50h0m6-53h0m19 58h0m-4 25h0m-1 2h0m0-1h0m-11-47h0m1-1h0m10 9h0m1-2h0m-1 0h0m-16 0h0m2-39h0m1 0h0m10 36h0m-8-41h0m10 43h0m-1 0h0m-15 7h0m11 39h0m-1 0h0m-4-84h0m5 33h0m0 1h0m-7-36h0m-1 0h0m0 1h0m1-1h0m-1 0h0m1 0h0m0 0h0m4 87h0m0-2h0m1 1h0m-10-4h0m2 0h0m6-49h0m0 1h0m1 0h0m-5 4h0m2-37h0m0-1h0m1 36h0m15 39h0m1-2h0m0-15h0m-12-23h0m1 1h0m-2 0h0m0 0h0m1 0h0m2 2h0m-5-1h0m-3 3h0m-4 8h0m-1 1h0m7-12h0m8 2h0m-17 14h0m1-1h0m23 9h0m-7 22h0m-5-44h0m-2-1h0m8 4h0m7 20h0m-3-15h0m-1-1h0m-1 0h0m-23 18h0m28 7h0m-9-31h0m-2 0h0m0 0h0m-5 0h0m1-1h0m16 25h0m-1 1h0m-19-23h0m0 0h0m1-1h0m16 37h0m-1 0h0m0 0h0m0 1h0m-9-38h0m0-1h0m-2-1h0m11 14h0m1 1h0m1 1h0m-22 24h0m-2-1h0m1 1h0m21-31h0m-1 0h0m0 1h0m-1-2h0m5 19h0m-20-21h0m21 26h0m-20 14h0m-9-18h0m0 0h0m19-26h0m9 26h0m-1 1h0m-27 0h0m1-1h0m-1 1h0m22 14h0m-1-38h0m1-1h0m-1 1h0m1-1h0m-10-1h0m0-1h0m1 2h0m-2-2h0m0 1h0m1-1h0m-1 3h0m-1 1h0m13 4h0m1 1h0m-23 23h0m2 1h0m16-32h0m-15 13h0m-1-2h0m20 28h0m1-1h0m-1 0h0m-9-38h0m0 0h0m2 0h0m3 42h0m-2 1h0m1-1h0m-1-1h0m-11-3h0m0 0h0m-1-1h0m0 1h0m2-33h0m2 2h0m17 7h0m0 1h0m-1 0h0m0-1h0m1-1h0m-1 20h0m2 2h0m-2 0h0m0 0h0m-18 5h0m1 0h0m14-35h0m-1-1h0m0-2h0m-2 0h0m1-1h0m-8 40h0m-1 1h0m0 1h0m0-41h0m1 1h0m12 8h0m0-2h0m0 2h0m-14-7h0m-7 15h0m-2-1h0m0-1h0m15 25h0m1 0h0m-1 1h0m1-42h0m0 2h0m0 0h0m-10 8h0m6-8h0m0 39h0m1 0h0m2-39h0m1-1h0m6 5h0m-2 0h0m6 10h0m0-2h0m-2 2h0m2 0h0m-24 18h0m0-1h0m24-1h0m-7 7h0m0 1h0m-17-27h0m17-10h0m0 0h0m-19 26h0m7-22h0m0 0h0m3-4h0m13 9h0m-23 7h0m0 1h0m24-4h0m-1 18h0m0 1h0m-1 0h0m0 1h0m-2-29h0m0-1h0m-11-1h0m0 0h0m-1-1h0m9-2h0m1 1h0m-2 0h0m5 33h0m5-8h0m-2 2h0m-11-26h0m0 0h0m-1-2h0m12 18h0m-14 20h0m4-37h0m5 3h0m0-1h0m-1 1h0m-12 30h0m-1 0h0m-5-10h0m0 2h0m2-1h0m23 1h0m-1 0h0m-3-18h0m3 2h0m-20 4h0m-1-1h0m0 0h0m22 11h0m0-1h0m-15-21h0m2 2h0m-12 17h0m0 0h0m2 1h0m-1-2h0m-1 2h0m2 7h0m16-25h0m-7 32h0m2-34h0m9 11h0m1 1h0m-5 22h0m-15-20h0m-1 0h0m20 18h0m-2-26h0" stroke="#2a4c98" stroke-width="1.2" stroke-linecap="square" fill="none"/>
<path d="M1631 1003h0m1-1h0m-12 8h0m8-8h0m0 41h0m8-37h0m-18 29h0m21-4h0m-6 9h0m0-1h0m-15-25h0m0 0h0m0 0h0m16-11h0m0 1h0m-18 26h0m5-23h0m2 1h0m3-5h0m-10 17h0m-1 1h0m25-2h0m-1 18h0m-15-31h0m7-1h0m4 32h0m5-8h0m0 1h0m1-1h0m-1 1h0m-12-25h0m12 16h0m-16 18h0m0 0h0m-1 2h0m0-1h0m10-33h0m-14 28h0m1 0h0m-4-12h0m3-11h0m-4 16h0m0 1h0m2 0h0m22 0h0m-1-14h0m1 0h0m-7 24h0m-13-22h0m21 9h0m-1 0h0m-17 12h0m3-32h0m1 0h0m1 0h0m-11 17h0m0 4h0m0-1h0m0 1h0m2 5h0m5-22h0m16 24h0m-6-28h0m-9 3h0m1-1h0m8 1h0m1-1h0m-1 0h0m-8 32h0m2-34h0m0-1h0m1 2h0m1-1h0m1 0h0m9 10h0m-4-5h0m1 1h0m-7 28h0m7-4h0m-1 1h0m1 0h0m-16-22h0m0 0h0m-1-1h0m1 20h0m-1-1h0m7-26h0m6 1h0m-14 22h0m17-20h0m2 8h0m0 1h0m1-1h0m-17-6h0m1-1h0m1 0h0m0 1h0m1 26h0m-7-19h0m0 1h0m21 11h0m0-2h0m-13-18h0m-1-1h0m12 3h0m0 0h0m1 1h0m-2 1h0m-8-7h0m1-1h0m10 13h0m0 0h0m1 1h0m-21 1h0m0-1h0m-1 1h0m15 17h0m0-1h0m-14-10h0m-1 1h0m2-2h0m-1 2h0m17 5h0m-15-18h0m-1 1h0m14-5h0m4 14h0m0 0h0m1 0h0m-19 5h0m1 1h0m-1-1h0m0-4h0m0-2h0m0 1h0m12-15h0m7 13h0m-1 0h0m-3 12h0m-1 0h0m-7 2h0m0-29h0m0 1h0m10 5h0m-14-1h0m7 25h0m-6-27h0m2-1h0m-1 1h0m0 0h0m-4 5h0m0 0h0m7-7h0m2 0h0m6 3h0m-2 2h0m1-1h0m-14 6h0m11 17h0m-4-24h0" stroke="#3a86c0" stroke-width="1.2" stroke-linecap="square" fill="none"/>
<path d="M1628 1007h0m2 32h0m6-3h0m-1 0h0m2-4h0m1 0h0m-17-19h0m-2 1h0m7-6h0m6 0h0m-13 22h0m15-20h0m0 0h0m-12 2h0m2 26h0m0 0h0m-6-19h0m1 0h0m19 11h0m0 1h0m0-2h0m0 1h0m-2-16h0m-13 23h0m-1-1h0m8-28h0m1 1h0m-1-1h0m-2 0h0m3 30h0m1 0h0m5-10h0m-20-1h0m0 1h0m18 6h0m1-1h0m-17-18h0m1 0h0m0 1h0m17 6h0m1-1h0m0 2h0m-4-12h0m-16 14h0m-1 0h0m20 2h0m0-2h0m1 1h0m1-1h0m0 2h0m-22-1h0m15-16h0m5 13h0m-4 14h0m1-1h0m-9 2h0m1-28h0m0 1h0m-1-1h0m0-1h0m5 28h0m-1 1h0m-5-27h0m0 0h0m11 21h0m-14-13h0m9-8h0m0-1h0m0-1h0m-2 29h0m-1-1h0m1 0h0m-6-3h0m-1 0h0m13-19h0m0-1h0m-10 22h0m-3-6h0m-2 0h0m0 1h0m1-12h0m0 0h0m12-8h0m0 0h0m0 0h0m0 2h0m5 17h0m-14-14h0m-3 6h0m13 13h0m-7-24h0m-6 17h0m16-8h0m0-1h0m0 1h0m-16 4h0m-1-1h0m0 0h0m17 4h0m-12-13h0m-1 0h0m-3 13h0m0-1h0m9-13h0m1 0h0m1 0h0m-2-1h0m-7 20h0m-1-1h0m1 1h0m7-20h0m-1 0h0m-2 25h0m9-10h0m1-5h0m-5-7h0m2-2h0m2 12h0m-4 11h0m-7-2h0m-1 1h0m6 1h0m-2 0h0m0 0h0m-3-21h0m8 19h0m-10-7h0m2 4h0" stroke="#3cb4b0" stroke-width="1.2" stroke-linecap="square" fill="none"/>
<path d="M1618 1022h0m18 11h0m3-11h0m-1 4h0m-20-1h0m13-15h0m0 1h0m-5-1h0m11 7h0m-16-3h0m9 24h0m1 1h0m-11-21h0m11-8h0m-1 0h0m-2 28h0m-6-5h0m0 1h0m3 1h0m-1 0h0m-1 1h0m-3-5h0m0-1h0m0-9h0m0-1h0m-1 0h0m0 2h0m7-9h0m0-2h0m-6 17h0m15-8h0m0 1h0m1 0h0m0 7h0m-1 0h0m-12-15h0m8-2h0m-2 2h0m1-1h0m1 1h0m-10 19h0m1 1h0m12-16h0m-7-4h0m1 0h0m-1 0h0m2-1h0m-4 24h0m1 0h0m1 0h0m0 0h0m9-10h0m0-4h0m0 0h0m0 1h0m0 0h0m-13-5h0m-1 0h0m0 0h0m9-5h0m6 12h0m-2-1h0m-5 13h0m0-2h0m0 1h0m0 1h0m-7-3h0m10-3h0m-5 6h0m-6-17h0m-1-1h0m1 1h0m0 1h0m3-6h0m-4 14h0m2 0h0m-1 1h0m1-14h0m2 1h0m-1 0h0m-1-1h0m0-1h0m1 1h0m11 2h0m-13 5h0m10 11h0m-1 0h0m0 0h0m1 1h0m-3-20h0m1-1h0m0-1h0m-2 1h0m-1-1h0m7 17h0m0-1h0m-1 1h0m2-1h0m-13-4h0m9-9h0m-10 11h0m0-2h0m2-7h0m1-1h0m0 2h0m0-1h0m1 17h0m9-15h0m-8-4h0m0-1h0m0 2h0m8 11h0m-1 0h0m-8-8h0m6 15h0m-1-2h0m-1 2h0m0 0h0m1 0h0m0 0h0m-1-19h0m1 1h0m2 14h0m0 2h0m-4-16h0m0 17h0m0 1h0m0-1h0m6-12h0m-2-3h0m0 0h0m0-1h0m-1 0h0m0 1h0m1 0h0m-9 4h0m4-5h0m-2 0h0m0 0h0m-2 6h0m0 0h0m0 3h0m9 4h0m-1-1h0m-2-11h0m3 0h0m1 0h0m-7 9h0m-1-1h0m5 3h0m-2 0h0" stroke="#7cc850" stroke-width="1.2" stroke-linecap="square" fill="none"/>
<path d="M1619 1026h0m4 6h0m11-17h0m-11 4h0m-1 0h0m-1-2h0m11-2h0m3 9h0m-5 11h0m-5-2h0m-1 1h0m9-3h0m0 1h0m-11-13h0m0 1h0m4-5h0m-3 15h0m1-14h0m10 2h0m-1 0h0m-5-3h0m-1-1h0m7 16h0m0 1h0m-13-3h0m0 0h0m2 0h0m0 0h0m-2-4h0m0 0h0m12-8h0m-12 9h0m2 2h0m-1-2h0m-1 1h0m3 6h0m1 1h0m0 2h0m0 0h0m1-2h0m0 1h0m1-17h0m7 12h0m-4-12h0m2 15h0m2-6h0m-6-11h0m0 19h0m6-12h0m0-1h0m0 2h0m-10 7h0m9-6h0m-9-1h0m1 1h0m-2 3h0m2 5h0m7-3h0m-6-8h0m1-3h0m2 1h0m1 13h0m0 0h0m0 1h0m1-1h0m-2 0h0m4-4h0m-1 0h0m1-6h0m-4-2h0m1 0h0m0 0h0m-4 7h0m0-3h0m0 0h0m4 6h0m-5-5h0m3 6h0m-1-1h0m0-8h0m0 0h0m3 6h0m1 0h0m0-5h0m-2-1h0m-1 6h0m3-1h0m-1-1h0m-1 0h0m1 0h0m1-2h0m-1 0h0" stroke="#c8d838" stroke-width="1.2" stroke-linecap="square" fill="none"/>
<path d="M1632 1034h0m1-5h0m-11 0h0m2-11h0m2-2h0m3 19h0m1-2h0m0 0h0m1-17h0m-2 1h0m1-1h0m4 10h0m-6-9h0m1 17h0m-1 1h0m6-12h0m-10 7h0m8-13h0m1 8h0m-10-2h0m3-5h0m-1 9h0m-2 2h0m2 3h0m2-11h0m-1 0h0m3-4h0m0 2h0m2 2h0m1 0h0m-5 10h0m-1-1h0m1 0h0m6-3h0m-7-6h0m4-2h0m1 1h0m0-1h0m-1 12h0m3-7h0m-7 3h0m2-3h0m2 1h0m0-1h0" stroke="#f0c030" stroke-width="1.2" stroke-linecap="square" fill="none"/>
<path d="M1629 1034h0m-2-17h0m4 1h0m3 6h0m-8-6h0m-3 5h0m1 0h0m-1 2h0m1 3h0m8 2h0m0 1h0m-2-13h0m-1-1h0m0 14h0m0 1h0m-3-3h0m0 0h0m0 2h0m6-3h0m0 1h0m-1 0h0m1-2h0m-1-5h0m1 1h0m-3-2h0m2-1h0m-1 0h0m-4 4h0m-1 1h0m4 4h0m2-5h0m2 0h0m-1 1h0m0-1h0m0 0h0m-6 1h0m1 0h0m0 1h0m-2 1h0m4 3h0m-2-1h0m1 1h0m-1 0h0m2-9h0m-2 2h0m0 0h0m0 0h0m3 6h0m0-1h0m1-7h0m-2 7h0m-2 0h0m1 0h0m1-4h0m-1 0h0m0 0h0m-1 0h0m3 3h0m0-2h0m-1 0h0m0 0h0m1-2h0" stroke="#f09028" stroke-width="1.2" stroke-linecap="square" fill="none"/>
<rect x="1605" y="1035" width="23" height="39" fill="#fff" fill-opacity="0.72"/>
<rect x="1578.8" y="857.1" width="218.7" height="217.7" fill="none" stroke="#222" stroke-width="1.3"/>
<line x1="1665.5" y1="857.1" x2="1665.5" y2="1074.8" stroke="#222" stroke-width="1.3"/>
<line x1="1578.8" y1="991.1" x2="1797.5" y2="991.1" stroke="#222" stroke-width="1.3"/>
<path d="M1573.3 876.6H1578.8M1573.3 927.8H1578.8M1573.3 980H1578.8M1575.8 964.3H1578.8M1575.8 955.1H1578.8M1575.8 948.6H1578.8M1575.8 943.5H1578.8M1575.8 939.4H1578.8M1575.8 935.9H1578.8M1575.8 932.9H1578.8M1575.8 930.2H1578.8M1575.8 912.4H1578.8M1575.8 903.4H1578.8M1575.8 897H1578.8M1575.8 892H1578.8M1575.8 888H1578.8M1575.8 884.5H1578.8M1575.8 881.6H1578.8M1575.8 878.9H1578.8M1575.8 861.2H1578.8M1575.8 852.2H1578.8M1575.8 994.1H1578.8M1575.8 1002.4H1578.8M1575.8 1008.3H1578.8M1575.8 1012.8H1578.8M1575.8 1016.6H1578.8M1575.8 1019.7H1578.8M1575.8 1022.4H1578.8M1575.8 1024.8H1578.8M1573.3 1042.3H1578.8M1574.8 1036.3H1578.8M1574.8 1039.3H1578.8M1574.8 1045.3H1578.8M1574.8 1048.3H1578.8M1574.8 1051.3H1578.8M1675.6 1074.8V1080.3M1726.6 1074.8V1080.3M1776.6 1074.8V1080.3M1691 1074.8V1077.8M1699.9 1074.8V1077.8M1706.3 1074.8V1077.8M1711.2 1074.8V1077.8M1715.3 1074.8V1077.8M1718.7 1074.8V1077.8M1721.7 1074.8V1077.8M1724.3 1074.8V1077.8M1741.7 1074.8V1077.8M1750.5 1074.8V1077.8M1756.7 1074.8V1077.8M1761.5 1074.8V1077.8M1765.5 1074.8V1077.8M1768.9 1074.8V1077.8M1771.8 1074.8V1077.8M1774.3 1074.8V1077.8M1662.6 1074.8V1077.8M1654.9 1074.8V1077.8M1649.5 1074.8V1077.8M1645.3 1074.8V1077.8M1641.9 1074.8V1077.8M1639 1074.8V1077.8M1636.5 1074.8V1077.8M1634.2 1074.8V1077.8M1588.4 1074.8V1078.3M1593.4 1074.8V1078.3M1597.4 1074.8V1078.3M1600.4 1074.8V1078.3M1603.4 1074.8V1080.3M1606.4 1074.8V1078.3M1609.4 1074.8V1078.3M1613.4 1074.8V1078.3M1618.4 1074.8V1078.3" stroke="#222" stroke-width="1.1" fill="none"/>
<path d="M1582 1074.8v5.7M1583.3 1074.8v6.1M1584.6 1074.8v3.8M1585.9 1074.8v6.5M1587.2 1074.8v3.6M1588.5 1074.8v2.3M1592.4 1074.8v5.6M1593.7 1074.8v5.7M1595 1074.8v5.3M1598.9 1074.8v3.9M1600.2 1074.8v6.1M1601.5 1074.8v3.9M1602.8 1074.8v3.5M1605.4 1074.8v5.4M1606.7 1074.8v6.1" stroke="#1a1a1a" stroke-width="1.2" fill="none"/>
<text x="1568.8" y="886.6" font-size="14" text-anchor="end" letter-spacing="1" fill="#2a2a2a">10<tspan dy="-9" font-size="13">5</tspan></text>
<text x="1568.8" y="937.8" font-size="14" text-anchor="end" letter-spacing="1" fill="#2a2a2a">10<tspan dy="-9" font-size="13">4</tspan></text>
<text x="1568.8" y="990" font-size="14" text-anchor="end" letter-spacing="1" fill="#2a2a2a">10<tspan dy="-9" font-size="13">3</tspan></text>
<text x="1557.3" y="1047.3" font-size="14" text-anchor="end" fill="#2a2a2a">0</text>
<text x="1603.4" y="1103.8" font-size="14" text-anchor="middle" fill="#2a2a2a">0</text>
<text x="1669.6" y="1103.8" font-size="14" letter-spacing="1" fill="#2a2a2a">10<tspan dy="-10" font-size="13">3</tspan></text>
<text x="1720.6" y="1103.8" font-size="14" letter-spacing="1" fill="#2a2a2a">10<tspan dy="-10" font-size="13">4</tspan></text>
<text x="1770.6" y="1103.8" font-size="14" letter-spacing="1" fill="#2a2a2a">10<tspan dy="-10" font-size="13">5</tspan></text>
<text x="1583.8" y="886.1" font-size="18.5" letter-spacing="1.6" fill="#333">10.7</text>
<text x="1768.5" y="886.1" text-anchor="end" font-size="18.5" letter-spacing="1.6" fill="#333">1.32</text>
<text x="1583.8" y="1057.8" font-size="18.5" letter-spacing="1.6" fill="#333">87.9</text>
<text x="1768.5" y="1057.8" text-anchor="end" font-size="18.5" letter-spacing="1.6" fill="#333">0.079</text>
<text x="1658.5" y="840.3" font-size="26.5">IFN<tspan font-size="24">γ</tspan><tspan dy="-10" font-size="15">wt</tspan></text>
<line x1="1228.7" y1="1091" x2="1228.7" y2="1121" stroke="#222" stroke-width="1.6"/>
<line x1="1228.7" y1="1121" x2="1260" y2="1121" stroke="#222" stroke-width="1.6"/>
<path d="M1228.7 1073L1220.2 1093H1237.2Z" fill="#333"/>
<path d="M1278 1121L1256 1112.5V1129.5Z" fill="#333"/>
<text transform="translate(1237,1060.8) rotate(-90)" font-size="26" textLength="114.8" lengthAdjust="spacingAndGlyphs">IFNγ APC</text>
<text x="1287.8" y="1133.4" font-size="26" textLength="136.7" lengthAdjust="spacingAndGlyphs">TNFα FITC</text>
<text x="4.3" y="86.2" font-size="42" font-weight="bold" fill="#2a2a2a">a</text>
<text x="9.0" y="523.3" font-size="42" font-weight="bold" fill="#2a2a2a">b</text>
<text x="4.8" y="1262.8" font-size="42" font-weight="bold" fill="#2a2a2a">c</text>
<text x="-1.7" y="2007" font-size="42" font-weight="bold" fill="#2a2a2a">d</text>
<text x="385.3" y="86" font-size="42" font-weight="bold" fill="#2a2a2a">e</text>
<text x="395.3" y="1631" font-size="42" font-weight="bold" fill="#2a2a2a">f</text>
<text x="1155.3" y="47.3" font-size="42" font-weight="bold" fill="#2a2a2a">g</text>
<text x="1156.8" y="851.4" font-size="42" font-weight="bold" fill="#2a2a2a">h</text>
</svg></body></html>
